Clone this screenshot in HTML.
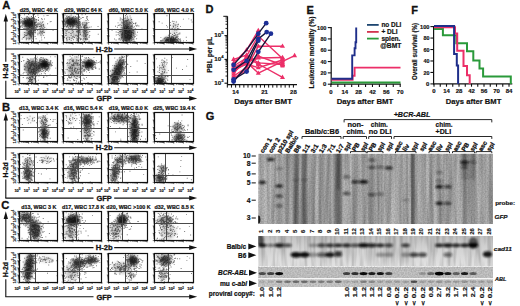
<!DOCTYPE html>
<html><head><meta charset="utf-8"><style>
html,body{margin:0;padding:0;background:#fff;width:520px;height:306px;overflow:hidden}
svg{display:block}
text{font-family:"Liberation Sans",sans-serif}
</style></head><body>
<svg width="520" height="306" viewBox="0 0 520 306" font-family="Liberation Sans, sans-serif">
<defs>
<filter id="bl" x="-50%" y="-50%" width="200%" height="200%"><feGaussianBlur stdDeviation="1.6"/></filter>
<filter id="bl1" x="-50%" y="-50%" width="200%" height="200%"><feGaussianBlur stdDeviation="0.7"/></filter>
<filter id="streak" x="0" y="0" width="1" height="1" filterUnits="objectBoundingBox"><feTurbulence type="fractalNoise" baseFrequency="0.3 0.012" numOctaves="2" seed="4"/><feColorMatrix type="matrix" values="0 0 0 0 0  0 0 0 0 0  0 0 0 0 0  0.45 0 0 0 -0.13"/></filter>
<filter id="grain" x="0" y="0" width="1" height="1" filterUnits="objectBoundingBox"><feTurbulence type="fractalNoise" baseFrequency="0.7" numOctaves="1" seed="9"/><feColorMatrix type="matrix" values="0 0 0 0 0  0 0 0 0 0  0 0 0 0 0  0.32 0 0 0 -0.1"/></filter>
<filter id="streak2" x="0" y="0" width="1" height="1" filterUnits="objectBoundingBox"><feTurbulence type="fractalNoise" baseFrequency="0.25 0.03" numOctaves="2" seed="7"/><feColorMatrix type="matrix" values="0 0 0 0 0  0 0 0 0 0  0 0 0 0 0  0.45 0 0 0 -0.17"/></filter>
<filter id="bl15" x="-50%" y="-50%" width="200%" height="200%"><feGaussianBlur stdDeviation="1.1"/></filter>
<linearGradient id="cadgrad" x1="0" y1="0" x2="0" y2="1"><stop offset="0" stop-color="#c2c2c2"/><stop offset="0.4" stop-color="#d2d2d2"/><stop offset="1" stop-color="#e2e2e2"/></linearGradient>
<filter id="bl04" x="-5%" y="-5%" width="110%" height="110%"><feGaussianBlur stdDeviation="0.35"/></filter>
<filter id="bl2" x="-50%" y="-50%" width="200%" height="200%"><feGaussianBlur stdDeviation="2"/></filter>
</defs>
<rect width="520" height="306" fill="#fff"/>
<text x="2.2" y="9.3" font-size="11.2" font-weight="bold" text-anchor="start" fill="#111" stroke="#111" stroke-width="0.3">A</text>
<text x="38.85" y="11.7" font-size="5.4" font-weight="bold" text-anchor="middle" fill="#111" stroke="#111" stroke-width="0.2">d25, WBC 40 K</text>
<text x="83.25" y="11.7" font-size="5.4" font-weight="bold" text-anchor="middle" fill="#111" stroke="#111" stroke-width="0.2">d29, WBC 64 K</text>
<text x="128.45" y="11.7" font-size="5.4" font-weight="bold" text-anchor="middle" fill="#111" stroke="#111" stroke-width="0.2">d60, WBC 5.0 K</text>
<text x="174.35" y="11.7" font-size="5.4" font-weight="bold" text-anchor="middle" fill="#111" stroke="#111" stroke-width="0.2">d69, WBC 4.0 K</text>
<clipPath id="clip0"><rect x="19.0" y="13.7" width="38.5" height="29.2"/></clipPath>
<g clip-path="url(#clip0)">
<ellipse cx="29.0" cy="22.8" rx="6.5" ry="4.5" transform="rotate(0 29.0 22.8)" fill="#111" opacity="0.89" filter="url(#bl)"/>
<ellipse cx="30.5" cy="30.1" rx="3.8" ry="7.4" transform="rotate(0 30.5 30.1)" fill="#111" opacity="0.42" filter="url(#bl)"/>
<ellipse cx="41.3" cy="28.3" rx="3.2" ry="7.4" transform="rotate(0 41.3 28.3)" fill="#111" opacity="0.21" filter="url(#bl)"/>
<ellipse cx="27.9" cy="34.7" rx="5.4" ry="4.9" transform="rotate(0 27.9 34.7)" fill="#111" opacity="0.16" filter="url(#bl)"/>
<path d="M27.8 24.4h.9v.9h-.9zM28.0 21.7h.9v.9h-.9zM24.7 22.1h.9v.9h-.9zM34.1 24.1h.9v.9h-.9zM33.8 23.6h.9v.9h-.9zM30.8 23.3h.9v.9h-.9zM21.3 25.5h.9v.9h-.9zM31.3 24.4h.9v.9h-.9zM21.2 17.2h.9v.9h-.9zM24.9 21.2h.9v.9h-.9zM30.4 22.6h.9v.9h-.9zM31.4 20.7h.9v.9h-.9zM30.4 24.0h.9v.9h-.9zM26.0 28.3h.9v.9h-.9zM31.6 26.6h.9v.9h-.9zM26.1 20.4h.9v.9h-.9zM27.4 22.4h.9v.9h-.9zM31.9 23.5h.9v.9h-.9zM26.9 19.7h.9v.9h-.9zM26.6 26.7h.9v.9h-.9zM25.3 23.5h.9v.9h-.9zM31.0 18.0h.9v.9h-.9zM29.2 26.9h.9v.9h-.9zM19.7 21.7h.9v.9h-.9zM28.5 20.1h.9v.9h-.9zM31.3 22.6h.9v.9h-.9zM22.2 25.4h.9v.9h-.9zM32.1 25.8h.9v.9h-.9zM35.7 23.9h.9v.9h-.9zM29.6 18.6h.9v.9h-.9zM31.9 20.8h.9v.9h-.9zM26.9 18.7h.9v.9h-.9zM24.5 21.0h.9v.9h-.9zM35.0 16.2h.9v.9h-.9zM22.3 23.5h.9v.9h-.9zM35.7 24.6h.9v.9h-.9zM20.2 14.7h.9v.9h-.9zM30.7 20.4h.9v.9h-.9zM23.8 25.9h.9v.9h-.9zM34.1 23.3h.9v.9h-.9zM30.1 24.1h.9v.9h-.9zM36.4 24.7h.9v.9h-.9zM31.4 24.5h.9v.9h-.9zM21.8 26.9h.9v.9h-.9zM33.4 24.5h.9v.9h-.9zM19.9 20.7h.9v.9h-.9zM32.9 16.9h.9v.9h-.9zM28.2 26.0h.9v.9h-.9zM23.0 27.9h.9v.9h-.9zM31.6 22.3h.9v.9h-.9zM30.5 24.8h.9v.9h-.9zM29.6 26.4h.9v.9h-.9zM26.0 21.4h.9v.9h-.9zM33.8 22.8h.9v.9h-.9zM24.9 25.8h.9v.9h-.9zM35.8 21.3h.9v.9h-.9zM22.6 22.3h.9v.9h-.9zM28.3 21.8h.9v.9h-.9zM35.5 19.5h.9v.9h-.9zM34.8 18.7h.9v.9h-.9zM25.4 24.8h.9v.9h-.9zM34.2 25.5h.9v.9h-.9zM30.6 23.2h.9v.9h-.9zM29.7 24.6h.9v.9h-.9zM28.2 23.6h.9v.9h-.9zM31.7 22.8h.9v.9h-.9zM32.5 24.6h.9v.9h-.9zM38.3 23.8h.9v.9h-.9zM27.0 21.6h.9v.9h-.9zM28.9 25.7h.9v.9h-.9zM27.5 24.0h.9v.9h-.9zM37.5 14.5h.9v.9h-.9zM23.8 23.5h.9v.9h-.9zM30.9 23.5h.9v.9h-.9zM27.0 24.9h.9v.9h-.9zM30.3 21.1h.9v.9h-.9zM40.2 23.9h.9v.9h-.9zM26.4 22.4h.9v.9h-.9zM28.0 22.6h.9v.9h-.9zM33.7 19.0h.9v.9h-.9zM28.7 25.8h.9v.9h-.9zM33.0 27.5h.9v.9h-.9zM21.1 21.6h.9v.9h-.9zM27.4 24.8h.9v.9h-.9zM34.1 14.1h.9v.9h-.9zM34.0 18.1h.9v.9h-.9zM32.2 18.0h.9v.9h-.9zM29.8 26.6h.9v.9h-.9zM28.3 23.4h.9v.9h-.9zM32.7 23.2h.9v.9h-.9zM28.6 27.7h.9v.9h-.9zM33.9 21.8h.9v.9h-.9zM41.7 19.1h.9v.9h-.9zM33.2 21.9h.9v.9h-.9zM29.6 25.0h.9v.9h-.9zM30.0 24.8h.9v.9h-.9zM22.0 17.9h.9v.9h-.9zM31.9 19.7h.9v.9h-.9zM24.3 18.0h.9v.9h-.9zM34.9 25.1h.9v.9h-.9zM35.8 19.7h.9v.9h-.9zM29.0 19.1h.9v.9h-.9zM32.5 27.9h.9v.9h-.9zM24.9 27.8h.9v.9h-.9zM33.6 22.2h.9v.9h-.9zM19.9 27.3h.9v.9h-.9zM28.6 20.8h.9v.9h-.9zM30.9 24.1h.9v.9h-.9zM35.9 19.5h.9v.9h-.9zM34.3 27.5h.9v.9h-.9zM35.7 22.2h.9v.9h-.9zM25.6 26.0h.9v.9h-.9zM29.5 23.2h.9v.9h-.9zM35.6 21.9h.9v.9h-.9zM20.4 25.4h.9v.9h-.9zM30.5 20.8h.9v.9h-.9zM29.0 25.4h.9v.9h-.9zM29.4 27.0h.9v.9h-.9zM28.7 26.1h.9v.9h-.9zM35.9 27.9h.9v.9h-.9zM25.9 25.6h.9v.9h-.9zM20.3 19.3h.9v.9h-.9zM19.9 26.2h.9v.9h-.9zM23.3 22.7h.9v.9h-.9zM28.1 22.7h.9v.9h-.9zM26.3 23.5h.9v.9h-.9zM37.3 22.9h.9v.9h-.9zM31.5 26.0h.9v.9h-.9zM28.1 18.7h.9v.9h-.9zM26.4 26.2h.9v.9h-.9zM21.4 20.8h.9v.9h-.9zM33.7 25.3h.9v.9h-.9zM29.0 25.3h.9v.9h-.9zM29.8 19.0h.9v.9h-.9zM21.8 20.7h.9v.9h-.9zM33.3 20.9h.9v.9h-.9zM24.8 20.3h.9v.9h-.9zM21.9 22.4h.9v.9h-.9zM23.6 23.9h.9v.9h-.9zM26.0 16.5h.9v.9h-.9zM32.4 21.9h.9v.9h-.9zM30.4 21.3h.9v.9h-.9zM32.6 25.2h.9v.9h-.9zM32.1 23.8h.9v.9h-.9zM35.2 24.9h.9v.9h-.9zM31.1 16.1h.9v.9h-.9zM33.2 27.0h.9v.9h-.9zM27.6 21.2h.9v.9h-.9zM38.0 17.1h.9v.9h-.9zM31.2 30.5h.9v.9h-.9zM24.7 25.0h.9v.9h-.9zM37.7 22.4h.9v.9h-.9zM31.6 25.7h.9v.9h-.9zM24.8 22.5h.9v.9h-.9zM30.4 25.4h.9v.9h-.9zM28.9 22.1h.9v.9h-.9zM24.3 21.6h.9v.9h-.9zM33.1 23.1h.9v.9h-.9zM25.1 20.0h.9v.9h-.9zM41.3 26.4h.9v.9h-.9zM32.0 14.4h.9v.9h-.9zM31.9 24.3h.9v.9h-.9zM36.8 24.1h.9v.9h-.9zM28.7 24.4h.9v.9h-.9zM20.0 26.1h.9v.9h-.9zM30.5 20.5h.9v.9h-.9zM35.1 28.6h.9v.9h-.9zM22.5 20.6h.9v.9h-.9zM30.4 23.3h.9v.9h-.9zM27.2 19.6h.9v.9h-.9zM38.8 26.1h.9v.9h-.9zM23.5 18.4h.9v.9h-.9zM36.9 25.9h.9v.9h-.9zM37.4 25.4h.9v.9h-.9zM25.0 23.6h.9v.9h-.9zM19.0 20.3h.9v.9h-.9zM28.7 24.4h.9v.9h-.9zM25.6 22.4h.9v.9h-.9zM31.1 24.0h.9v.9h-.9zM32.0 23.4h.9v.9h-.9zM27.5 25.3h.9v.9h-.9zM29.2 20.1h.9v.9h-.9zM26.1 22.8h.9v.9h-.9zM28.5 23.3h.9v.9h-.9zM29.0 23.3h.9v.9h-.9zM28.4 18.7h.9v.9h-.9zM31.0 26.1h.9v.9h-.9zM31.0 22.1h.9v.9h-.9zM31.1 19.7h.9v.9h-.9zM20.2 22.9h.9v.9h-.9zM24.7 25.1h.9v.9h-.9zM24.0 14.3h.9v.9h-.9zM24.2 27.8h.9v.9h-.9zM27.2 18.4h.9v.9h-.9zM25.5 24.4h.9v.9h-.9zM31.3 23.3h.9v.9h-.9zM35.9 25.0h.9v.9h-.9zM28.9 24.7h.9v.9h-.9zM36.7 25.9h.9v.9h-.9zM33.7 19.3h.9v.9h-.9zM28.3 25.1h.9v.9h-.9zM27.6 26.2h.9v.9h-.9zM31.8 25.7h.9v.9h-.9zM28.0 30.9h.9v.9h-.9zM34.7 22.1h.9v.9h-.9zM29.4 31.1h.9v.9h-.9zM27.4 25.6h.9v.9h-.9zM33.5 22.8h.9v.9h-.9zM23.6 23.4h.9v.9h-.9zM30.7 26.4h.9v.9h-.9zM32.6 22.8h.9v.9h-.9zM33.0 24.5h.9v.9h-.9zM30.0 22.9h.9v.9h-.9zM27.9 25.0h.9v.9h-.9zM24.1 20.7h.9v.9h-.9zM29.0 18.0h.9v.9h-.9zM27.0 16.3h.9v.9h-.9zM25.9 24.6h.9v.9h-.9zM31.6 22.6h.9v.9h-.9zM27.9 18.2h.9v.9h-.9zM37.5 24.4h.9v.9h-.9zM34.1 19.9h.9v.9h-.9zM28.2 16.9h.9v.9h-.9zM32.6 25.8h.9v.9h-.9zM20.2 22.6h.9v.9h-.9zM31.9 17.1h.9v.9h-.9zM20.6 19.3h.9v.9h-.9zM26.1 18.2h.9v.9h-.9zM29.2 23.6h.9v.9h-.9zM31.9 25.0h.9v.9h-.9zM36.0 26.5h.9v.9h-.9zM22.9 21.1h.9v.9h-.9zM24.1 19.3h.9v.9h-.9zM28.6 22.8h.9v.9h-.9zM31.3 17.7h.9v.9h-.9zM23.3 22.7h.9v.9h-.9zM28.1 21.8h.9v.9h-.9zM28.7 20.3h.9v.9h-.9zM32.2 23.9h.9v.9h-.9zM28.6 20.6h.9v.9h-.9zM28.2 14.0h.9v.9h-.9zM24.5 22.9h.9v.9h-.9zM22.1 23.4h.9v.9h-.9zM29.7 18.3h.9v.9h-.9zM27.9 21.7h.9v.9h-.9zM31.1 24.7h.9v.9h-.9zM28.8 20.0h.9v.9h-.9zM28.3 22.5h.9v.9h-.9zM32.4 23.7h.9v.9h-.9zM25.7 18.4h.9v.9h-.9zM27.3 20.4h.9v.9h-.9zM23.9 22.4h.9v.9h-.9zM26.7 23.1h.9v.9h-.9zM31.4 21.4h.9v.9h-.9zM39.7 21.7h.9v.9h-.9zM34.1 23.1h.9v.9h-.9zM33.6 17.6h.9v.9h-.9zM28.5 31.4h.9v.9h-.9zM32.2 42.3h.9v.9h-.9zM31.4 36.8h.9v.9h-.9zM32.6 35.0h.9v.9h-.9zM31.9 29.2h.9v.9h-.9zM31.9 24.4h.9v.9h-.9zM33.7 24.7h.9v.9h-.9zM31.2 41.2h.9v.9h-.9zM29.9 30.2h.9v.9h-.9zM33.7 30.2h.9v.9h-.9zM28.4 31.4h.9v.9h-.9zM32.1 33.8h.9v.9h-.9zM28.5 39.3h.9v.9h-.9zM35.0 30.1h.9v.9h-.9zM31.3 27.8h.9v.9h-.9zM34.4 26.3h.9v.9h-.9zM32.4 27.5h.9v.9h-.9zM28.7 33.8h.9v.9h-.9zM34.1 30.0h.9v.9h-.9zM28.7 34.3h.9v.9h-.9zM30.4 31.7h.9v.9h-.9zM34.7 36.0h.9v.9h-.9zM29.1 42.1h.9v.9h-.9zM30.6 34.2h.9v.9h-.9zM28.8 29.8h.9v.9h-.9zM25.8 39.4h.9v.9h-.9zM34.2 23.7h.9v.9h-.9zM26.5 21.5h.9v.9h-.9zM33.7 27.6h.9v.9h-.9zM30.4 28.4h.9v.9h-.9zM30.2 24.3h.9v.9h-.9zM30.6 22.5h.9v.9h-.9zM30.4 31.7h.9v.9h-.9zM31.8 28.8h.9v.9h-.9zM28.1 30.9h.9v.9h-.9zM29.2 38.3h.9v.9h-.9zM32.6 29.4h.9v.9h-.9zM29.3 26.4h.9v.9h-.9zM28.0 28.2h.9v.9h-.9zM31.3 32.8h.9v.9h-.9zM32.1 41.1h.9v.9h-.9zM28.7 30.1h.9v.9h-.9zM38.1 20.2h.9v.9h-.9zM29.1 30.9h.9v.9h-.9zM31.0 32.2h.9v.9h-.9zM29.9 32.0h.9v.9h-.9zM30.7 34.1h.9v.9h-.9zM25.4 25.4h.9v.9h-.9zM30.5 24.6h.9v.9h-.9zM27.7 33.4h.9v.9h-.9zM28.8 33.4h.9v.9h-.9zM32.6 31.7h.9v.9h-.9zM31.9 29.5h.9v.9h-.9zM26.8 29.9h.9v.9h-.9zM31.8 27.3h.9v.9h-.9zM30.3 34.0h.9v.9h-.9zM28.2 33.4h.9v.9h-.9zM35.6 27.1h.9v.9h-.9zM30.9 29.3h.9v.9h-.9zM34.7 31.7h.9v.9h-.9zM33.0 26.4h.9v.9h-.9zM30.5 30.0h.9v.9h-.9zM25.8 37.6h.9v.9h-.9zM33.0 20.9h.9v.9h-.9zM32.6 29.4h.9v.9h-.9zM31.8 32.0h.9v.9h-.9zM26.5 28.9h.9v.9h-.9zM34.6 27.0h.9v.9h-.9zM27.8 22.9h.9v.9h-.9zM27.3 31.8h.9v.9h-.9zM35.1 32.3h.9v.9h-.9zM31.2 41.8h.9v.9h-.9zM29.2 26.5h.9v.9h-.9zM32.0 32.9h.9v.9h-.9zM27.8 23.9h.9v.9h-.9zM31.3 31.4h.9v.9h-.9zM27.0 29.0h.9v.9h-.9zM29.1 32.5h.9v.9h-.9zM30.2 29.6h.9v.9h-.9zM29.6 35.6h.9v.9h-.9zM34.3 28.1h.9v.9h-.9zM32.8 26.1h.9v.9h-.9zM30.7 34.0h.9v.9h-.9zM34.6 28.0h.9v.9h-.9zM30.4 31.1h.9v.9h-.9zM26.5 30.1h.9v.9h-.9zM28.7 32.0h.9v.9h-.9zM27.5 19.7h.9v.9h-.9zM30.7 31.4h.9v.9h-.9zM29.1 34.7h.9v.9h-.9zM29.8 26.9h.9v.9h-.9zM31.8 21.8h.9v.9h-.9zM28.7 29.9h.9v.9h-.9zM32.8 29.2h.9v.9h-.9zM31.4 26.6h.9v.9h-.9zM31.4 38.8h.9v.9h-.9zM28.7 42.5h.9v.9h-.9zM28.8 30.1h.9v.9h-.9zM31.0 35.4h.9v.9h-.9zM27.2 19.0h.9v.9h-.9zM32.2 34.2h.9v.9h-.9zM31.1 31.4h.9v.9h-.9zM33.1 32.0h.9v.9h-.9zM35.0 23.5h.9v.9h-.9zM32.7 28.1h.9v.9h-.9zM33.0 41.4h.9v.9h-.9zM30.5 28.7h.9v.9h-.9zM29.2 25.6h.9v.9h-.9zM28.9 33.4h.9v.9h-.9zM30.6 30.4h.9v.9h-.9zM30.1 34.9h.9v.9h-.9zM31.9 29.3h.9v.9h-.9zM32.3 29.3h.9v.9h-.9zM27.4 37.7h.9v.9h-.9zM31.8 25.0h.9v.9h-.9zM33.5 31.9h.9v.9h-.9zM26.3 38.5h.9v.9h-.9zM31.4 34.7h.9v.9h-.9zM31.1 29.3h.9v.9h-.9zM26.4 35.2h.9v.9h-.9zM30.6 28.5h.9v.9h-.9zM31.5 30.5h.9v.9h-.9zM32.4 28.1h.9v.9h-.9zM30.5 18.8h.9v.9h-.9zM29.4 33.6h.9v.9h-.9zM34.2 28.1h.9v.9h-.9zM30.2 38.4h.9v.9h-.9zM29.7 33.9h.9v.9h-.9zM35.1 30.3h.9v.9h-.9zM33.9 26.3h.9v.9h-.9zM31.1 29.6h.9v.9h-.9zM30.9 36.0h.9v.9h-.9zM37.0 26.6h.9v.9h-.9zM29.0 32.7h.9v.9h-.9zM27.7 32.7h.9v.9h-.9zM32.1 28.6h.9v.9h-.9zM32.0 21.9h.9v.9h-.9zM32.6 21.9h.9v.9h-.9zM28.7 27.1h.9v.9h-.9zM29.5 34.6h.9v.9h-.9zM30.8 28.0h.9v.9h-.9zM32.0 38.4h.9v.9h-.9zM30.6 32.0h.9v.9h-.9zM33.9 31.5h.9v.9h-.9zM36.5 19.6h.9v.9h-.9zM30.4 32.2h.9v.9h-.9zM43.6 31.8h.9v.9h-.9zM40.7 22.8h.9v.9h-.9zM41.6 33.7h.9v.9h-.9zM38.8 22.9h.9v.9h-.9zM41.3 18.1h.9v.9h-.9zM40.7 26.0h.9v.9h-.9zM42.4 24.6h.9v.9h-.9zM39.3 26.2h.9v.9h-.9zM41.2 24.8h.9v.9h-.9zM41.4 32.2h.9v.9h-.9zM44.1 37.3h.9v.9h-.9zM39.5 26.1h.9v.9h-.9zM35.6 38.3h.9v.9h-.9zM39.7 28.1h.9v.9h-.9zM42.5 21.2h.9v.9h-.9zM42.4 28.2h.9v.9h-.9zM37.1 29.8h.9v.9h-.9zM44.1 18.5h.9v.9h-.9zM43.2 29.4h.9v.9h-.9zM42.4 30.6h.9v.9h-.9zM44.3 27.1h.9v.9h-.9zM43.3 26.1h.9v.9h-.9zM43.0 24.0h.9v.9h-.9zM41.1 37.4h.9v.9h-.9zM42.4 27.5h.9v.9h-.9zM38.7 24.1h.9v.9h-.9zM41.8 33.2h.9v.9h-.9zM42.3 31.1h.9v.9h-.9zM41.2 35.4h.9v.9h-.9zM40.4 25.4h.9v.9h-.9zM43.4 28.6h.9v.9h-.9zM40.7 25.3h.9v.9h-.9zM40.7 31.6h.9v.9h-.9zM42.1 21.9h.9v.9h-.9zM42.3 29.2h.9v.9h-.9zM39.0 32.4h.9v.9h-.9zM40.7 26.5h.9v.9h-.9zM43.2 35.2h.9v.9h-.9zM39.7 30.6h.9v.9h-.9zM39.3 40.5h.9v.9h-.9zM40.2 34.6h.9v.9h-.9zM39.8 32.6h.9v.9h-.9zM46.5 14.9h.9v.9h-.9zM40.3 30.9h.9v.9h-.9zM41.1 24.8h.9v.9h-.9zM46.3 28.7h.9v.9h-.9zM37.5 32.8h.9v.9h-.9zM37.4 34.3h.9v.9h-.9zM40.0 29.1h.9v.9h-.9zM44.2 28.9h.9v.9h-.9zM38.1 19.4h.9v.9h-.9zM44.1 32.2h.9v.9h-.9zM39.4 32.8h.9v.9h-.9zM42.5 31.7h.9v.9h-.9zM36.1 26.7h.9v.9h-.9zM43.4 32.2h.9v.9h-.9zM43.4 15.4h.9v.9h-.9zM41.7 30.9h.9v.9h-.9zM47.2 23.3h.9v.9h-.9zM40.6 28.5h.9v.9h-.9zM31.3 33.2h.9v.9h-.9zM32.3 32.0h.9v.9h-.9zM28.9 32.9h.9v.9h-.9zM28.5 32.3h.9v.9h-.9zM21.7 38.6h.9v.9h-.9zM29.0 32.8h.9v.9h-.9zM28.6 38.2h.9v.9h-.9zM24.1 34.3h.9v.9h-.9zM29.9 36.6h.9v.9h-.9zM26.6 27.3h.9v.9h-.9zM32.6 35.9h.9v.9h-.9zM27.9 33.7h.9v.9h-.9zM28.9 33.2h.9v.9h-.9zM23.9 32.1h.9v.9h-.9zM25.6 32.6h.9v.9h-.9zM23.4 37.0h.9v.9h-.9zM22.8 37.0h.9v.9h-.9zM23.9 36.0h.9v.9h-.9zM33.1 35.4h.9v.9h-.9zM25.0 34.9h.9v.9h-.9zM28.4 28.6h.9v.9h-.9zM25.5 35.3h.9v.9h-.9zM26.0 35.0h.9v.9h-.9zM30.7 37.4h.9v.9h-.9zM31.3 36.8h.9v.9h-.9zM26.7 34.7h.9v.9h-.9zM26.8 33.6h.9v.9h-.9zM27.2 28.7h.9v.9h-.9zM26.6 34.6h.9v.9h-.9zM24.1 34.6h.9v.9h-.9zM29.8 34.1h.9v.9h-.9zM35.9 25.6h.9v.9h-.9zM27.1 28.3h.9v.9h-.9zM29.9 33.7h.9v.9h-.9zM30.0 26.9h.9v.9h-.9zM31.1 36.0h.9v.9h-.9zM27.9 32.7h.9v.9h-.9zM30.3 33.0h.9v.9h-.9zM28.7 32.9h.9v.9h-.9zM19.2 34.6h.9v.9h-.9zM28.6 37.4h.9v.9h-.9zM24.5 34.6h.9v.9h-.9zM30.2 35.2h.9v.9h-.9zM32.6 41.7h.9v.9h-.9zM24.4 28.0h.9v.9h-.9zM31.2 40.1h.9v.9h-.9zM31.4 37.6h.9v.9h-.9zM25.5 32.2h.9v.9h-.9zM52.6 29.9h.9v.9h-.9zM41.3 39.5h.9v.9h-.9zM23.0 42.7h.9v.9h-.9zM43.2 25.2h.9v.9h-.9zM49.7 21.4h.9v.9h-.9zM57.1 30.6h.9v.9h-.9zM32.9 36.0h.9v.9h-.9zM36.0 18.9h.9v.9h-.9zM47.6 15.1h.9v.9h-.9zM50.6 21.1h.9v.9h-.9zM43.6 42.4h.9v.9h-.9zM41.6 33.1h.9v.9h-.9z" fill="#111" opacity="0.6" filter="url(#bl04)"/>
<line x1="33.5" y1="13.7" x2="33.5" y2="42.9" stroke="#4a4a4a" stroke-width="1.0"/>
<line x1="19.0" y1="29.5" x2="57.5" y2="29.5" stroke="#4a4a4a" stroke-width="1.0"/>
</g>
<rect x="19.5" y="13.5" width="38.0" height="29.0" fill="none" stroke="#111" stroke-width="1.2" />
<path d="M17.20 42.90H19.0M19.00 42.9V44.70M17.90 40.70H19.0M21.90 42.9V44.00M17.90 39.42H19.0M23.59 42.9V44.00M17.90 38.50H19.0M24.79 42.9V44.00M17.90 37.80H19.0M25.73 42.9V44.00M17.90 37.22H19.0M26.49 42.9V44.00M17.90 36.73H19.0M27.13 42.9V44.00M17.90 36.31H19.0M27.69 42.9V44.00M17.90 35.93H19.0M28.18 42.9V44.00M17.20 35.60H19.0M28.62 42.9V44.70M17.90 33.40H19.0M31.52 42.9V44.00M17.90 32.12H19.0M33.22 42.9V44.00M17.90 31.20H19.0M34.42 42.9V44.00M17.90 30.50H19.0M35.35 42.9V44.00M17.90 29.92H19.0M36.11 42.9V44.00M17.90 29.43H19.0M36.76 42.9V44.00M17.90 29.01H19.0M37.32 42.9V44.00M17.90 28.63H19.0M37.81 42.9V44.00M17.20 28.30H19.0M38.25 42.9V44.70M17.90 26.10H19.0M41.15 42.9V44.00M17.90 24.82H19.0M42.84 42.9V44.00M17.90 23.90H19.0M44.04 42.9V44.00M17.90 23.20H19.0M44.98 42.9V44.00M17.90 22.62H19.0M45.74 42.9V44.00M17.90 22.13H19.0M46.38 42.9V44.00M17.90 21.71H19.0M46.94 42.9V44.00M17.90 21.33H19.0M47.43 42.9V44.00M17.20 21.00H19.0M47.88 42.9V44.70M17.90 18.80H19.0M50.77 42.9V44.00M17.90 17.52H19.0M52.47 42.9V44.00M17.90 16.60H19.0M53.67 42.9V44.00M17.90 15.90H19.0M54.60 42.9V44.00M17.90 15.32H19.0M55.36 42.9V44.00M17.90 14.83H19.0M56.01 42.9V44.00M17.90 14.41H19.0M56.57 42.9V44.00M17.90 14.03H19.0M57.06 42.9V44.00M17.2 13.70H19.0M57.50 42.9V44.699999999999996" stroke="#111" stroke-width="0.55" fill="none"/>
<g transform="translate(15.6,42.9) rotate(-90)">
<text x="1.6" y="0" font-size="4.1" font-weight="bold" text-anchor="middle" fill="#111" stroke="#111" stroke-width="0.15">10<tspan font-size="2.9" dy="-1.6">0</tspan></text>
<text x="8.1" y="0" font-size="4.1" font-weight="bold" text-anchor="middle" fill="#111" stroke="#111" stroke-width="0.15">10<tspan font-size="2.9" dy="-1.6">1</tspan></text>
<text x="14.6" y="0" font-size="4.1" font-weight="bold" text-anchor="middle" fill="#111" stroke="#111" stroke-width="0.15">10<tspan font-size="2.9" dy="-1.6">2</tspan></text>
<text x="21.1" y="0" font-size="4.1" font-weight="bold" text-anchor="middle" fill="#111" stroke="#111" stroke-width="0.15">10<tspan font-size="2.9" dy="-1.6">3</tspan></text>
<text x="27.6" y="0" font-size="4.1" font-weight="bold" text-anchor="middle" fill="#111" stroke="#111" stroke-width="0.15">10<tspan font-size="2.9" dy="-1.6">4</tspan></text>
</g>
<clipPath id="clip1"><rect x="63.4" y="13.7" width="38.5" height="29.2"/></clipPath>
<g clip-path="url(#clip1)">
<ellipse cx="71.1" cy="21.6" rx="6.5" ry="4.1" transform="rotate(0 71.1 21.6)" fill="#111" opacity="0.89" filter="url(#bl)"/>
<ellipse cx="78.0" cy="29.8" rx="1.6" ry="12.3" transform="rotate(0 78.0 29.8)" fill="#111" opacity="0.37" filter="url(#bl)"/>
<ellipse cx="85.0" cy="31.2" rx="2.7" ry="10.2" transform="rotate(0 85.0 31.2)" fill="#111" opacity="0.37" filter="url(#bl)"/>
<ellipse cx="69.9" cy="33.3" rx="5.4" ry="8.2" transform="rotate(0 69.9 33.3)" fill="#111" opacity="0.16" filter="url(#bl)"/>
<path d="M71.0 21.7h.9v.9h-.9zM73.7 21.9h.9v.9h-.9zM67.4 19.5h.9v.9h-.9zM73.3 23.1h.9v.9h-.9zM70.5 21.1h.9v.9h-.9zM75.4 21.6h.9v.9h-.9zM74.5 23.3h.9v.9h-.9zM72.1 25.4h.9v.9h-.9zM68.5 20.5h.9v.9h-.9zM67.4 19.3h.9v.9h-.9zM78.3 26.7h.9v.9h-.9zM71.2 23.2h.9v.9h-.9zM76.5 23.9h.9v.9h-.9zM76.7 17.9h.9v.9h-.9zM68.1 22.9h.9v.9h-.9zM77.7 21.9h.9v.9h-.9zM67.1 20.5h.9v.9h-.9zM68.0 19.1h.9v.9h-.9zM78.0 19.8h.9v.9h-.9zM71.2 27.9h.9v.9h-.9zM76.6 22.6h.9v.9h-.9zM68.3 22.8h.9v.9h-.9zM78.6 23.4h.9v.9h-.9zM76.9 21.9h.9v.9h-.9zM73.5 21.0h.9v.9h-.9zM73.1 25.4h.9v.9h-.9zM64.5 21.4h.9v.9h-.9zM72.2 19.9h.9v.9h-.9zM69.7 23.9h.9v.9h-.9zM80.3 23.4h.9v.9h-.9zM72.6 17.1h.9v.9h-.9zM80.0 21.8h.9v.9h-.9zM70.9 18.3h.9v.9h-.9zM70.8 18.4h.9v.9h-.9zM71.4 22.9h.9v.9h-.9zM71.2 22.4h.9v.9h-.9zM67.2 25.8h.9v.9h-.9zM68.1 16.3h.9v.9h-.9zM70.2 19.4h.9v.9h-.9zM66.4 20.5h.9v.9h-.9zM72.4 18.1h.9v.9h-.9zM70.5 25.8h.9v.9h-.9zM74.3 21.1h.9v.9h-.9zM71.7 21.2h.9v.9h-.9zM70.9 23.7h.9v.9h-.9zM70.7 14.6h.9v.9h-.9zM71.0 19.0h.9v.9h-.9zM74.1 19.8h.9v.9h-.9zM71.8 27.9h.9v.9h-.9zM66.3 18.3h.9v.9h-.9zM64.6 14.6h.9v.9h-.9zM68.2 16.1h.9v.9h-.9zM64.3 23.4h.9v.9h-.9zM67.5 20.5h.9v.9h-.9zM72.6 25.5h.9v.9h-.9zM80.1 24.6h.9v.9h-.9zM71.8 22.1h.9v.9h-.9zM79.4 25.8h.9v.9h-.9zM69.7 22.9h.9v.9h-.9zM72.4 21.7h.9v.9h-.9zM68.8 17.7h.9v.9h-.9zM68.6 17.1h.9v.9h-.9zM76.8 23.2h.9v.9h-.9zM65.5 25.7h.9v.9h-.9zM75.2 16.0h.9v.9h-.9zM79.6 23.9h.9v.9h-.9zM80.6 18.0h.9v.9h-.9zM73.6 22.8h.9v.9h-.9zM72.0 22.1h.9v.9h-.9zM76.0 17.2h.9v.9h-.9zM65.4 17.5h.9v.9h-.9zM68.5 19.8h.9v.9h-.9zM72.8 22.4h.9v.9h-.9zM71.2 19.6h.9v.9h-.9zM69.1 24.4h.9v.9h-.9zM74.6 21.9h.9v.9h-.9zM69.6 26.1h.9v.9h-.9zM68.4 23.5h.9v.9h-.9zM76.4 20.8h.9v.9h-.9zM74.9 18.3h.9v.9h-.9zM75.8 22.2h.9v.9h-.9zM63.8 23.5h.9v.9h-.9zM67.0 25.3h.9v.9h-.9zM68.0 21.1h.9v.9h-.9zM72.4 20.6h.9v.9h-.9zM72.3 20.0h.9v.9h-.9zM74.2 21.6h.9v.9h-.9zM76.5 21.7h.9v.9h-.9zM73.3 24.7h.9v.9h-.9zM66.1 26.1h.9v.9h-.9zM70.4 28.6h.9v.9h-.9zM70.4 23.6h.9v.9h-.9zM69.4 18.3h.9v.9h-.9zM76.2 24.2h.9v.9h-.9zM78.2 24.1h.9v.9h-.9zM68.5 16.7h.9v.9h-.9zM68.1 19.6h.9v.9h-.9zM67.3 23.3h.9v.9h-.9zM72.6 20.8h.9v.9h-.9zM71.9 21.2h.9v.9h-.9zM72.1 23.8h.9v.9h-.9zM75.5 19.6h.9v.9h-.9zM64.1 25.8h.9v.9h-.9zM71.6 24.8h.9v.9h-.9zM63.5 20.6h.9v.9h-.9zM71.2 17.4h.9v.9h-.9zM68.7 23.7h.9v.9h-.9zM76.1 26.2h.9v.9h-.9zM67.1 17.5h.9v.9h-.9zM73.5 24.3h.9v.9h-.9zM72.0 17.8h.9v.9h-.9zM74.7 23.9h.9v.9h-.9zM73.7 20.2h.9v.9h-.9zM72.5 23.9h.9v.9h-.9zM68.5 16.2h.9v.9h-.9zM72.6 23.0h.9v.9h-.9zM71.2 24.2h.9v.9h-.9zM68.4 21.3h.9v.9h-.9zM69.7 23.3h.9v.9h-.9zM78.5 20.9h.9v.9h-.9zM80.6 26.0h.9v.9h-.9zM74.8 23.3h.9v.9h-.9zM79.3 21.1h.9v.9h-.9zM70.6 18.5h.9v.9h-.9zM73.3 25.5h.9v.9h-.9zM73.6 22.8h.9v.9h-.9zM70.2 22.1h.9v.9h-.9zM64.5 24.6h.9v.9h-.9zM69.2 18.4h.9v.9h-.9zM67.6 19.2h.9v.9h-.9zM75.1 24.7h.9v.9h-.9zM64.8 24.3h.9v.9h-.9zM75.2 19.9h.9v.9h-.9zM64.2 19.4h.9v.9h-.9zM68.2 22.6h.9v.9h-.9zM69.4 15.7h.9v.9h-.9zM72.2 17.1h.9v.9h-.9zM75.3 18.1h.9v.9h-.9zM67.9 19.1h.9v.9h-.9zM68.6 25.4h.9v.9h-.9zM75.0 23.3h.9v.9h-.9zM72.6 17.1h.9v.9h-.9zM68.7 20.0h.9v.9h-.9zM66.6 23.1h.9v.9h-.9zM67.7 19.5h.9v.9h-.9zM66.3 15.6h.9v.9h-.9zM73.9 25.5h.9v.9h-.9zM71.9 18.7h.9v.9h-.9zM76.7 22.5h.9v.9h-.9zM75.4 25.9h.9v.9h-.9zM76.3 20.3h.9v.9h-.9zM76.0 23.8h.9v.9h-.9zM64.0 20.4h.9v.9h-.9zM64.5 21.3h.9v.9h-.9zM73.8 18.5h.9v.9h-.9zM72.8 25.9h.9v.9h-.9zM65.0 24.7h.9v.9h-.9zM80.7 27.4h.9v.9h-.9zM70.1 22.4h.9v.9h-.9zM70.4 24.5h.9v.9h-.9zM75.9 21.8h.9v.9h-.9zM64.8 23.7h.9v.9h-.9zM68.9 23.4h.9v.9h-.9zM72.3 26.3h.9v.9h-.9zM76.4 20.3h.9v.9h-.9zM72.7 26.7h.9v.9h-.9zM68.6 22.8h.9v.9h-.9zM76.6 25.3h.9v.9h-.9zM73.5 17.7h.9v.9h-.9zM65.3 22.3h.9v.9h-.9zM72.9 29.0h.9v.9h-.9zM67.1 24.9h.9v.9h-.9zM74.7 16.7h.9v.9h-.9zM67.3 22.1h.9v.9h-.9zM68.8 21.1h.9v.9h-.9zM73.3 19.2h.9v.9h-.9zM73.3 19.7h.9v.9h-.9zM68.6 23.2h.9v.9h-.9zM68.5 22.4h.9v.9h-.9zM78.5 21.7h.9v.9h-.9zM70.4 23.7h.9v.9h-.9zM69.4 24.7h.9v.9h-.9zM65.2 23.4h.9v.9h-.9zM68.7 19.3h.9v.9h-.9zM79.3 19.1h.9v.9h-.9zM79.2 23.5h.9v.9h-.9zM77.8 18.7h.9v.9h-.9zM76.6 25.8h.9v.9h-.9zM70.6 21.2h.9v.9h-.9zM82.4 22.1h.9v.9h-.9zM69.1 19.7h.9v.9h-.9zM73.2 22.5h.9v.9h-.9zM71.9 26.6h.9v.9h-.9zM69.6 23.0h.9v.9h-.9zM77.8 18.7h.9v.9h-.9zM75.9 26.9h.9v.9h-.9zM64.8 18.4h.9v.9h-.9zM66.3 16.2h.9v.9h-.9zM73.2 16.2h.9v.9h-.9zM73.4 25.8h.9v.9h-.9zM63.6 20.7h.9v.9h-.9zM67.7 20.8h.9v.9h-.9zM71.4 23.2h.9v.9h-.9zM69.5 21.6h.9v.9h-.9zM68.6 21.9h.9v.9h-.9zM65.7 21.8h.9v.9h-.9zM79.9 21.8h.9v.9h-.9zM65.3 22.3h.9v.9h-.9zM66.6 16.8h.9v.9h-.9zM67.7 23.7h.9v.9h-.9zM72.9 21.3h.9v.9h-.9zM66.8 18.4h.9v.9h-.9zM77.3 22.3h.9v.9h-.9zM66.7 15.4h.9v.9h-.9zM64.8 28.8h.9v.9h-.9zM65.8 21.4h.9v.9h-.9zM72.1 21.1h.9v.9h-.9zM69.8 17.6h.9v.9h-.9zM66.2 26.5h.9v.9h-.9zM67.6 24.1h.9v.9h-.9zM72.3 24.6h.9v.9h-.9zM76.7 35.0h.9v.9h-.9zM78.5 23.3h.9v.9h-.9zM78.6 21.9h.9v.9h-.9zM77.1 29.6h.9v.9h-.9zM74.9 28.8h.9v.9h-.9zM76.9 16.9h.9v.9h-.9zM77.5 36.4h.9v.9h-.9zM77.6 40.8h.9v.9h-.9zM76.7 18.3h.9v.9h-.9zM79.8 33.3h.9v.9h-.9zM79.1 22.5h.9v.9h-.9zM79.0 32.0h.9v.9h-.9zM78.8 30.0h.9v.9h-.9zM79.4 24.1h.9v.9h-.9zM76.9 16.8h.9v.9h-.9zM79.4 23.3h.9v.9h-.9zM76.8 21.5h.9v.9h-.9zM77.5 18.6h.9v.9h-.9zM77.7 24.3h.9v.9h-.9zM77.4 21.4h.9v.9h-.9zM78.1 25.7h.9v.9h-.9zM78.2 31.9h.9v.9h-.9zM77.4 22.8h.9v.9h-.9zM78.9 15.9h.9v.9h-.9zM77.2 27.2h.9v.9h-.9zM77.6 38.4h.9v.9h-.9zM77.5 38.2h.9v.9h-.9zM76.3 13.9h.9v.9h-.9zM79.4 33.6h.9v.9h-.9zM78.6 30.8h.9v.9h-.9zM78.6 19.1h.9v.9h-.9zM79.1 25.1h.9v.9h-.9zM79.2 30.5h.9v.9h-.9zM75.8 18.5h.9v.9h-.9zM79.3 28.6h.9v.9h-.9zM77.6 31.9h.9v.9h-.9zM77.5 25.0h.9v.9h-.9zM78.1 31.0h.9v.9h-.9zM79.8 30.2h.9v.9h-.9zM80.0 39.1h.9v.9h-.9zM78.2 31.0h.9v.9h-.9zM77.9 23.4h.9v.9h-.9zM78.0 24.1h.9v.9h-.9zM79.9 34.4h.9v.9h-.9zM78.0 26.1h.9v.9h-.9zM76.8 19.8h.9v.9h-.9zM75.4 34.7h.9v.9h-.9zM78.0 28.5h.9v.9h-.9zM79.7 30.9h.9v.9h-.9zM78.2 26.5h.9v.9h-.9zM77.3 42.9h.9v.9h-.9zM77.6 30.0h.9v.9h-.9zM77.0 38.2h.9v.9h-.9zM76.4 34.7h.9v.9h-.9zM79.3 42.1h.9v.9h-.9zM76.9 39.3h.9v.9h-.9zM77.2 23.1h.9v.9h-.9zM76.5 39.9h.9v.9h-.9zM79.9 24.6h.9v.9h-.9zM77.2 26.8h.9v.9h-.9zM80.9 38.6h.9v.9h-.9zM77.4 14.0h.9v.9h-.9zM77.3 40.2h.9v.9h-.9zM80.2 27.4h.9v.9h-.9zM77.2 25.3h.9v.9h-.9zM75.9 37.7h.9v.9h-.9zM76.8 39.1h.9v.9h-.9zM76.1 18.6h.9v.9h-.9zM78.4 23.1h.9v.9h-.9zM78.9 29.8h.9v.9h-.9zM76.7 35.2h.9v.9h-.9zM80.1 34.1h.9v.9h-.9zM77.2 26.7h.9v.9h-.9zM79.3 17.0h.9v.9h-.9zM77.8 32.8h.9v.9h-.9zM76.1 24.6h.9v.9h-.9zM78.8 27.1h.9v.9h-.9zM76.7 21.6h.9v.9h-.9zM77.3 31.0h.9v.9h-.9zM78.4 20.4h.9v.9h-.9zM79.8 38.1h.9v.9h-.9zM78.1 23.4h.9v.9h-.9zM75.9 20.8h.9v.9h-.9zM79.1 22.7h.9v.9h-.9zM76.5 31.5h.9v.9h-.9zM78.3 35.1h.9v.9h-.9zM78.8 42.1h.9v.9h-.9zM77.1 38.3h.9v.9h-.9zM76.9 35.8h.9v.9h-.9zM78.2 31.9h.9v.9h-.9zM79.1 29.6h.9v.9h-.9zM79.3 37.4h.9v.9h-.9zM78.2 24.8h.9v.9h-.9zM77.2 25.1h.9v.9h-.9zM77.8 29.5h.9v.9h-.9zM81.5 35.4h.9v.9h-.9zM78.9 22.2h.9v.9h-.9zM77.2 27.0h.9v.9h-.9zM78.3 20.7h.9v.9h-.9zM79.9 24.8h.9v.9h-.9zM78.0 32.2h.9v.9h-.9zM78.3 35.0h.9v.9h-.9zM78.4 31.2h.9v.9h-.9zM75.8 23.5h.9v.9h-.9zM75.3 35.3h.9v.9h-.9zM78.4 28.0h.9v.9h-.9zM77.1 24.7h.9v.9h-.9zM78.0 41.0h.9v.9h-.9zM81.9 17.1h.9v.9h-.9zM84.0 24.8h.9v.9h-.9zM83.9 32.6h.9v.9h-.9zM90.8 26.4h.9v.9h-.9zM85.1 33.2h.9v.9h-.9zM84.9 38.0h.9v.9h-.9zM88.4 22.1h.9v.9h-.9zM85.3 29.3h.9v.9h-.9zM85.6 20.0h.9v.9h-.9zM81.6 14.3h.9v.9h-.9zM86.0 32.6h.9v.9h-.9zM85.1 13.9h.9v.9h-.9zM84.2 25.7h.9v.9h-.9zM82.2 24.5h.9v.9h-.9zM86.3 35.2h.9v.9h-.9zM84.9 35.0h.9v.9h-.9zM83.8 31.7h.9v.9h-.9zM85.0 35.3h.9v.9h-.9zM84.8 30.2h.9v.9h-.9zM84.7 26.5h.9v.9h-.9zM89.3 35.0h.9v.9h-.9zM87.7 19.9h.9v.9h-.9zM86.3 37.3h.9v.9h-.9zM88.6 40.8h.9v.9h-.9zM86.4 22.6h.9v.9h-.9zM83.3 33.2h.9v.9h-.9zM85.9 23.8h.9v.9h-.9zM84.2 28.3h.9v.9h-.9zM85.1 33.7h.9v.9h-.9zM84.4 22.2h.9v.9h-.9zM87.4 42.9h.9v.9h-.9zM84.8 38.7h.9v.9h-.9zM85.8 36.0h.9v.9h-.9zM85.9 25.6h.9v.9h-.9zM86.1 38.6h.9v.9h-.9zM88.8 36.6h.9v.9h-.9zM84.3 26.8h.9v.9h-.9zM83.4 32.1h.9v.9h-.9zM84.9 36.1h.9v.9h-.9zM89.3 31.0h.9v.9h-.9zM86.3 34.7h.9v.9h-.9zM85.5 29.7h.9v.9h-.9zM84.7 25.2h.9v.9h-.9zM85.3 31.0h.9v.9h-.9zM85.6 25.0h.9v.9h-.9zM85.0 31.6h.9v.9h-.9zM86.1 23.5h.9v.9h-.9zM85.8 38.4h.9v.9h-.9zM86.1 28.5h.9v.9h-.9zM84.0 29.5h.9v.9h-.9zM86.4 42.6h.9v.9h-.9zM84.7 26.5h.9v.9h-.9zM85.7 32.7h.9v.9h-.9zM83.2 25.8h.9v.9h-.9zM84.8 36.1h.9v.9h-.9zM82.7 23.8h.9v.9h-.9zM85.9 22.3h.9v.9h-.9zM85.2 33.8h.9v.9h-.9zM84.7 23.8h.9v.9h-.9zM84.8 28.8h.9v.9h-.9zM85.6 25.1h.9v.9h-.9zM87.1 19.0h.9v.9h-.9zM84.6 31.3h.9v.9h-.9zM86.8 26.8h.9v.9h-.9zM86.0 27.1h.9v.9h-.9zM84.2 34.5h.9v.9h-.9zM83.2 38.3h.9v.9h-.9zM87.3 31.5h.9v.9h-.9zM82.8 34.2h.9v.9h-.9zM87.2 39.2h.9v.9h-.9zM86.5 17.9h.9v.9h-.9zM83.7 41.6h.9v.9h-.9zM82.6 39.5h.9v.9h-.9zM88.6 36.8h.9v.9h-.9zM87.1 28.8h.9v.9h-.9zM82.6 30.5h.9v.9h-.9zM84.6 30.9h.9v.9h-.9zM86.3 30.2h.9v.9h-.9zM85.3 34.3h.9v.9h-.9zM85.8 31.8h.9v.9h-.9zM84.6 26.7h.9v.9h-.9zM87.5 32.3h.9v.9h-.9zM82.9 27.1h.9v.9h-.9zM84.7 28.0h.9v.9h-.9zM87.0 22.7h.9v.9h-.9zM85.9 32.3h.9v.9h-.9zM82.7 31.6h.9v.9h-.9zM84.8 34.9h.9v.9h-.9zM84.1 33.4h.9v.9h-.9zM81.8 23.3h.9v.9h-.9zM86.5 38.8h.9v.9h-.9zM84.9 26.8h.9v.9h-.9zM87.0 15.9h.9v.9h-.9zM83.4 36.1h.9v.9h-.9zM86.2 23.7h.9v.9h-.9zM81.3 41.8h.9v.9h-.9zM85.3 24.7h.9v.9h-.9zM85.1 37.8h.9v.9h-.9zM80.0 39.3h.9v.9h-.9zM86.4 16.0h.9v.9h-.9zM86.4 18.2h.9v.9h-.9zM87.2 34.1h.9v.9h-.9zM89.3 26.8h.9v.9h-.9zM85.0 38.9h.9v.9h-.9zM83.7 26.1h.9v.9h-.9zM84.2 30.7h.9v.9h-.9zM82.9 34.8h.9v.9h-.9zM86.0 31.7h.9v.9h-.9zM88.2 28.8h.9v.9h-.9zM87.5 27.2h.9v.9h-.9zM86.4 17.1h.9v.9h-.9zM85.3 29.9h.9v.9h-.9zM84.0 26.8h.9v.9h-.9zM84.3 26.0h.9v.9h-.9zM80.7 26.9h.9v.9h-.9zM83.9 27.4h.9v.9h-.9zM82.9 30.2h.9v.9h-.9zM86.5 29.4h.9v.9h-.9zM84.0 41.1h.9v.9h-.9zM86.8 37.9h.9v.9h-.9zM87.2 28.8h.9v.9h-.9zM84.7 39.3h.9v.9h-.9zM83.9 30.3h.9v.9h-.9zM85.7 33.9h.9v.9h-.9zM68.9 39.0h.9v.9h-.9zM69.3 37.5h.9v.9h-.9zM74.1 37.1h.9v.9h-.9zM72.8 26.5h.9v.9h-.9zM64.9 29.7h.9v.9h-.9zM71.8 42.0h.9v.9h-.9zM65.2 35.1h.9v.9h-.9zM66.7 29.0h.9v.9h-.9zM68.9 37.3h.9v.9h-.9zM70.8 40.2h.9v.9h-.9zM66.2 38.5h.9v.9h-.9zM73.5 33.7h.9v.9h-.9zM71.8 30.0h.9v.9h-.9zM65.7 30.9h.9v.9h-.9zM70.7 35.1h.9v.9h-.9zM72.8 28.7h.9v.9h-.9zM73.5 35.5h.9v.9h-.9zM64.1 36.8h.9v.9h-.9zM72.1 35.9h.9v.9h-.9zM76.0 30.8h.9v.9h-.9zM71.9 37.6h.9v.9h-.9zM66.5 40.3h.9v.9h-.9zM64.4 25.7h.9v.9h-.9zM72.0 26.9h.9v.9h-.9zM69.5 23.7h.9v.9h-.9zM70.2 26.6h.9v.9h-.9zM71.3 24.3h.9v.9h-.9zM71.7 31.7h.9v.9h-.9zM70.2 32.9h.9v.9h-.9zM70.4 25.5h.9v.9h-.9zM66.3 30.6h.9v.9h-.9zM71.6 21.7h.9v.9h-.9zM67.0 29.7h.9v.9h-.9zM65.9 35.2h.9v.9h-.9zM69.4 28.5h.9v.9h-.9zM66.2 38.0h.9v.9h-.9zM67.4 36.7h.9v.9h-.9zM71.7 22.2h.9v.9h-.9zM65.8 33.3h.9v.9h-.9zM71.3 37.8h.9v.9h-.9zM73.0 39.3h.9v.9h-.9zM68.5 32.0h.9v.9h-.9zM72.9 30.8h.9v.9h-.9zM74.0 24.0h.9v.9h-.9zM72.5 32.3h.9v.9h-.9zM71.1 33.4h.9v.9h-.9zM65.8 30.5h.9v.9h-.9zM75.8 28.4h.9v.9h-.9zM65.3 32.5h.9v.9h-.9zM68.4 27.9h.9v.9h-.9zM66.7 39.4h.9v.9h-.9zM67.9 26.9h.9v.9h-.9zM73.0 36.6h.9v.9h-.9zM65.9 37.6h.9v.9h-.9zM85.5 39.4h.9v.9h-.9zM100.5 27.9h.9v.9h-.9zM80.3 31.9h.9v.9h-.9zM101.8 23.7h.9v.9h-.9zM83.8 37.5h.9v.9h-.9zM70.0 23.0h.9v.9h-.9zM101.1 37.8h.9v.9h-.9zM83.1 16.9h.9v.9h-.9zM97.8 33.8h.9v.9h-.9zM95.0 42.6h.9v.9h-.9zM97.6 26.0h.9v.9h-.9zM69.4 22.2h.9v.9h-.9z" fill="#111" opacity="0.6" filter="url(#bl04)"/>
<line x1="78.5" y1="13.7" x2="78.5" y2="42.9" stroke="#4a4a4a" stroke-width="1.0"/>
<line x1="63.4" y1="29.5" x2="101.9" y2="29.5" stroke="#4a4a4a" stroke-width="1.0"/>
</g>
<rect x="63.5" y="13.5" width="38.0" height="29.0" fill="none" stroke="#111" stroke-width="1.2" />
<path d="M61.60 42.90H63.4M63.40 42.9V44.70M62.30 40.70H63.4M66.30 42.9V44.00M62.30 39.42H63.4M67.99 42.9V44.00M62.30 38.50H63.4M69.19 42.9V44.00M62.30 37.80H63.4M70.13 42.9V44.00M62.30 37.22H63.4M70.89 42.9V44.00M62.30 36.73H63.4M71.53 42.9V44.00M62.30 36.31H63.4M72.09 42.9V44.00M62.30 35.93H63.4M72.58 42.9V44.00M61.60 35.60H63.4M73.03 42.9V44.70M62.30 33.40H63.4M75.92 42.9V44.00M62.30 32.12H63.4M77.62 42.9V44.00M62.30 31.20H63.4M78.82 42.9V44.00M62.30 30.50H63.4M79.75 42.9V44.00M62.30 29.92H63.4M80.51 42.9V44.00M62.30 29.43H63.4M81.16 42.9V44.00M62.30 29.01H63.4M81.72 42.9V44.00M62.30 28.63H63.4M82.21 42.9V44.00M61.60 28.30H63.4M82.65 42.9V44.70M62.30 26.10H63.4M85.55 42.9V44.00M62.30 24.82H63.4M87.24 42.9V44.00M62.30 23.90H63.4M88.44 42.9V44.00M62.30 23.20H63.4M89.38 42.9V44.00M62.30 22.62H63.4M90.14 42.9V44.00M62.30 22.13H63.4M90.78 42.9V44.00M62.30 21.71H63.4M91.34 42.9V44.00M62.30 21.33H63.4M91.83 42.9V44.00M61.60 21.00H63.4M92.28 42.9V44.70M62.30 18.80H63.4M95.17 42.9V44.00M62.30 17.52H63.4M96.87 42.9V44.00M62.30 16.60H63.4M98.07 42.9V44.00M62.30 15.90H63.4M99.00 42.9V44.00M62.30 15.32H63.4M99.76 42.9V44.00M62.30 14.83H63.4M100.41 42.9V44.00M62.30 14.41H63.4M100.97 42.9V44.00M62.30 14.03H63.4M101.46 42.9V44.00M61.6 13.70H63.4M101.90 42.9V44.699999999999996" stroke="#111" stroke-width="0.55" fill="none"/>
<clipPath id="clip2"><rect x="108.6" y="13.7" width="38.5" height="29.2"/></clipPath>
<g clip-path="url(#clip2)">
<ellipse cx="127.1" cy="34.1" rx="6.5" ry="8.2" transform="rotate(0 127.1 34.1)" fill="#111" opacity="0.79" filter="url(#bl)"/>
<ellipse cx="126.7" cy="23.9" rx="5.4" ry="6.1" transform="rotate(0 126.7 23.9)" fill="#111" opacity="0.37" filter="url(#bl)"/>
<path d="M121.6 33.6h.9v.9h-.9zM128.2 37.6h.9v.9h-.9zM122.8 28.3h.9v.9h-.9zM126.2 32.8h.9v.9h-.9zM120.2 39.6h.9v.9h-.9zM124.6 42.5h.9v.9h-.9zM131.0 34.3h.9v.9h-.9zM130.4 27.6h.9v.9h-.9zM125.6 30.8h.9v.9h-.9zM121.2 34.2h.9v.9h-.9zM126.4 42.5h.9v.9h-.9zM111.6 30.2h.9v.9h-.9zM122.8 31.4h.9v.9h-.9zM129.0 36.5h.9v.9h-.9zM127.2 31.4h.9v.9h-.9zM129.4 36.2h.9v.9h-.9zM118.6 32.6h.9v.9h-.9zM120.7 27.2h.9v.9h-.9zM127.8 34.5h.9v.9h-.9zM127.6 29.0h.9v.9h-.9zM126.2 28.8h.9v.9h-.9zM128.8 38.2h.9v.9h-.9zM135.2 41.5h.9v.9h-.9zM123.4 31.5h.9v.9h-.9zM122.7 35.9h.9v.9h-.9zM136.2 38.3h.9v.9h-.9zM116.9 26.8h.9v.9h-.9zM121.1 37.1h.9v.9h-.9zM127.1 35.9h.9v.9h-.9zM135.3 29.3h.9v.9h-.9zM128.7 29.6h.9v.9h-.9zM117.7 25.2h.9v.9h-.9zM115.8 34.5h.9v.9h-.9zM127.3 39.9h.9v.9h-.9zM126.4 30.1h.9v.9h-.9zM118.9 35.2h.9v.9h-.9zM127.2 37.7h.9v.9h-.9zM125.2 37.1h.9v.9h-.9zM130.8 33.3h.9v.9h-.9zM125.0 33.1h.9v.9h-.9zM122.6 32.9h.9v.9h-.9zM125.7 35.4h.9v.9h-.9zM133.3 41.8h.9v.9h-.9zM125.0 37.7h.9v.9h-.9zM128.4 38.6h.9v.9h-.9zM127.2 35.7h.9v.9h-.9zM124.9 29.6h.9v.9h-.9zM131.1 41.7h.9v.9h-.9zM130.1 36.7h.9v.9h-.9zM128.3 31.5h.9v.9h-.9zM118.8 38.0h.9v.9h-.9zM128.0 30.9h.9v.9h-.9zM122.6 41.6h.9v.9h-.9zM123.8 34.0h.9v.9h-.9zM124.7 35.0h.9v.9h-.9zM126.1 29.8h.9v.9h-.9zM132.0 29.6h.9v.9h-.9zM124.7 37.4h.9v.9h-.9zM124.6 31.6h.9v.9h-.9zM128.7 32.0h.9v.9h-.9zM121.3 33.5h.9v.9h-.9zM122.0 39.8h.9v.9h-.9zM123.4 32.1h.9v.9h-.9zM125.6 35.7h.9v.9h-.9zM124.1 41.9h.9v.9h-.9zM131.7 38.9h.9v.9h-.9zM123.6 39.4h.9v.9h-.9zM126.6 36.2h.9v.9h-.9zM125.8 38.0h.9v.9h-.9zM132.2 40.7h.9v.9h-.9zM126.1 40.0h.9v.9h-.9zM133.8 28.7h.9v.9h-.9zM133.9 26.3h.9v.9h-.9zM129.6 37.6h.9v.9h-.9zM133.9 35.8h.9v.9h-.9zM124.9 29.5h.9v.9h-.9zM121.3 38.6h.9v.9h-.9zM126.0 29.9h.9v.9h-.9zM129.5 29.7h.9v.9h-.9zM125.1 31.5h.9v.9h-.9zM134.7 42.7h.9v.9h-.9zM126.4 25.0h.9v.9h-.9zM128.4 34.6h.9v.9h-.9zM128.7 37.4h.9v.9h-.9zM125.6 39.5h.9v.9h-.9zM130.9 35.4h.9v.9h-.9zM125.2 31.3h.9v.9h-.9zM130.3 27.7h.9v.9h-.9zM126.3 29.8h.9v.9h-.9zM120.6 37.7h.9v.9h-.9zM127.0 34.3h.9v.9h-.9zM131.1 25.4h.9v.9h-.9zM126.8 35.8h.9v.9h-.9zM130.9 27.8h.9v.9h-.9zM130.4 35.4h.9v.9h-.9zM133.3 40.8h.9v.9h-.9zM127.1 31.7h.9v.9h-.9zM125.5 28.6h.9v.9h-.9zM126.9 23.2h.9v.9h-.9zM126.7 36.6h.9v.9h-.9zM131.7 32.1h.9v.9h-.9zM133.5 30.3h.9v.9h-.9zM126.5 23.2h.9v.9h-.9zM123.6 29.5h.9v.9h-.9zM133.8 37.2h.9v.9h-.9zM122.1 37.2h.9v.9h-.9zM129.3 32.8h.9v.9h-.9zM127.2 32.4h.9v.9h-.9zM124.6 24.0h.9v.9h-.9zM126.7 41.5h.9v.9h-.9zM133.5 32.6h.9v.9h-.9zM123.7 32.9h.9v.9h-.9zM131.1 36.1h.9v.9h-.9zM124.4 36.2h.9v.9h-.9zM126.2 37.1h.9v.9h-.9zM125.2 25.8h.9v.9h-.9zM127.3 38.5h.9v.9h-.9zM122.1 33.5h.9v.9h-.9zM131.0 32.0h.9v.9h-.9zM130.8 40.0h.9v.9h-.9zM119.6 31.2h.9v.9h-.9zM130.4 41.7h.9v.9h-.9zM122.9 30.4h.9v.9h-.9zM128.0 23.2h.9v.9h-.9zM130.0 37.3h.9v.9h-.9zM125.1 37.2h.9v.9h-.9zM130.6 35.9h.9v.9h-.9zM129.4 42.7h.9v.9h-.9zM124.9 35.1h.9v.9h-.9zM124.7 40.0h.9v.9h-.9zM125.3 36.8h.9v.9h-.9zM127.7 34.5h.9v.9h-.9zM134.8 33.7h.9v.9h-.9zM133.4 38.8h.9v.9h-.9zM133.0 33.2h.9v.9h-.9zM131.2 38.4h.9v.9h-.9zM124.3 35.7h.9v.9h-.9zM126.5 33.9h.9v.9h-.9zM132.9 30.1h.9v.9h-.9zM119.6 24.3h.9v.9h-.9zM125.1 30.5h.9v.9h-.9zM127.1 37.3h.9v.9h-.9zM134.9 35.9h.9v.9h-.9zM129.1 30.0h.9v.9h-.9zM129.7 41.8h.9v.9h-.9zM133.1 23.1h.9v.9h-.9zM130.8 25.7h.9v.9h-.9zM125.7 37.4h.9v.9h-.9zM128.9 29.6h.9v.9h-.9zM123.1 39.6h.9v.9h-.9zM121.1 42.2h.9v.9h-.9zM127.2 35.8h.9v.9h-.9zM121.1 30.8h.9v.9h-.9zM130.1 25.9h.9v.9h-.9zM136.3 26.2h.9v.9h-.9zM121.6 34.4h.9v.9h-.9zM129.2 38.3h.9v.9h-.9zM125.4 33.0h.9v.9h-.9zM126.0 30.9h.9v.9h-.9zM115.6 39.5h.9v.9h-.9zM128.2 35.0h.9v.9h-.9zM124.3 35.6h.9v.9h-.9zM127.0 33.7h.9v.9h-.9zM132.0 24.5h.9v.9h-.9zM128.2 28.2h.9v.9h-.9zM125.7 42.6h.9v.9h-.9zM122.3 33.6h.9v.9h-.9zM124.5 39.5h.9v.9h-.9zM122.7 24.7h.9v.9h-.9zM129.4 32.2h.9v.9h-.9zM125.7 40.2h.9v.9h-.9zM123.1 32.0h.9v.9h-.9zM127.7 36.5h.9v.9h-.9zM124.8 39.9h.9v.9h-.9zM137.0 31.8h.9v.9h-.9zM135.4 22.3h.9v.9h-.9zM133.3 32.2h.9v.9h-.9zM127.7 32.2h.9v.9h-.9zM124.3 27.0h.9v.9h-.9zM125.3 41.4h.9v.9h-.9zM132.1 32.2h.9v.9h-.9zM124.7 30.2h.9v.9h-.9zM130.0 34.8h.9v.9h-.9zM124.9 28.4h.9v.9h-.9zM132.9 38.5h.9v.9h-.9zM122.9 39.7h.9v.9h-.9zM122.2 37.7h.9v.9h-.9zM122.8 31.8h.9v.9h-.9zM129.3 36.6h.9v.9h-.9zM131.6 29.4h.9v.9h-.9zM134.1 41.7h.9v.9h-.9zM127.0 36.7h.9v.9h-.9zM123.6 33.3h.9v.9h-.9zM121.2 34.6h.9v.9h-.9zM128.0 41.7h.9v.9h-.9zM131.3 38.7h.9v.9h-.9zM125.5 32.9h.9v.9h-.9zM125.6 35.4h.9v.9h-.9zM118.5 38.5h.9v.9h-.9zM120.1 31.3h.9v.9h-.9zM127.2 31.3h.9v.9h-.9zM134.5 33.6h.9v.9h-.9zM134.1 40.7h.9v.9h-.9zM124.9 36.4h.9v.9h-.9zM132.8 32.3h.9v.9h-.9zM127.5 31.0h.9v.9h-.9zM127.3 32.2h.9v.9h-.9zM127.4 39.8h.9v.9h-.9zM133.3 34.9h.9v.9h-.9zM128.0 38.9h.9v.9h-.9zM125.8 28.2h.9v.9h-.9zM132.0 28.9h.9v.9h-.9zM131.2 28.7h.9v.9h-.9zM135.2 28.3h.9v.9h-.9zM130.8 42.5h.9v.9h-.9zM122.8 42.5h.9v.9h-.9zM123.4 24.2h.9v.9h-.9zM130.3 38.1h.9v.9h-.9zM126.2 20.0h.9v.9h-.9zM126.8 32.4h.9v.9h-.9zM125.4 32.5h.9v.9h-.9zM119.1 31.0h.9v.9h-.9zM135.1 42.8h.9v.9h-.9zM125.5 30.1h.9v.9h-.9zM128.8 40.1h.9v.9h-.9zM130.3 27.6h.9v.9h-.9zM127.8 34.9h.9v.9h-.9zM133.5 40.8h.9v.9h-.9zM129.4 41.0h.9v.9h-.9zM125.3 42.8h.9v.9h-.9zM125.2 36.4h.9v.9h-.9zM131.2 29.0h.9v.9h-.9zM124.0 24.3h.9v.9h-.9zM127.8 33.8h.9v.9h-.9zM125.6 36.9h.9v.9h-.9zM117.7 34.0h.9v.9h-.9zM127.5 32.6h.9v.9h-.9zM125.1 28.9h.9v.9h-.9zM124.4 34.7h.9v.9h-.9zM129.7 29.3h.9v.9h-.9zM131.5 28.4h.9v.9h-.9zM130.7 36.5h.9v.9h-.9zM125.9 33.2h.9v.9h-.9zM129.2 39.0h.9v.9h-.9zM121.1 35.7h.9v.9h-.9zM123.8 37.7h.9v.9h-.9zM133.2 34.4h.9v.9h-.9zM126.6 35.2h.9v.9h-.9zM114.0 38.5h.9v.9h-.9zM129.6 35.1h.9v.9h-.9zM125.3 30.0h.9v.9h-.9zM126.3 40.9h.9v.9h-.9zM126.6 41.7h.9v.9h-.9zM115.7 31.6h.9v.9h-.9zM128.3 34.1h.9v.9h-.9zM119.7 30.4h.9v.9h-.9zM132.6 26.9h.9v.9h-.9zM122.7 28.0h.9v.9h-.9zM124.6 37.7h.9v.9h-.9zM129.7 22.8h.9v.9h-.9zM133.6 30.8h.9v.9h-.9zM126.7 27.2h.9v.9h-.9zM124.2 30.1h.9v.9h-.9zM122.6 32.3h.9v.9h-.9zM131.0 36.1h.9v.9h-.9zM122.7 34.8h.9v.9h-.9zM127.2 38.4h.9v.9h-.9zM125.6 36.7h.9v.9h-.9zM136.4 34.7h.9v.9h-.9zM122.3 36.0h.9v.9h-.9zM123.5 32.1h.9v.9h-.9zM127.9 36.0h.9v.9h-.9zM125.8 38.9h.9v.9h-.9zM126.2 26.8h.9v.9h-.9zM131.0 32.1h.9v.9h-.9zM132.5 30.5h.9v.9h-.9zM129.6 35.9h.9v.9h-.9zM115.1 25.8h.9v.9h-.9zM122.1 42.0h.9v.9h-.9zM118.7 39.3h.9v.9h-.9zM131.9 36.9h.9v.9h-.9zM130.1 31.4h.9v.9h-.9zM127.0 35.4h.9v.9h-.9zM128.9 38.1h.9v.9h-.9zM125.9 21.0h.9v.9h-.9zM124.6 25.6h.9v.9h-.9zM120.6 18.6h.9v.9h-.9zM125.2 21.6h.9v.9h-.9zM125.4 22.9h.9v.9h-.9zM129.6 15.6h.9v.9h-.9zM125.6 25.9h.9v.9h-.9zM128.5 29.0h.9v.9h-.9zM130.6 19.5h.9v.9h-.9zM129.0 22.5h.9v.9h-.9zM123.7 30.4h.9v.9h-.9zM124.4 20.3h.9v.9h-.9zM125.2 20.3h.9v.9h-.9zM130.4 25.5h.9v.9h-.9zM131.9 25.7h.9v.9h-.9zM124.4 28.3h.9v.9h-.9zM124.3 22.0h.9v.9h-.9zM126.1 24.1h.9v.9h-.9zM131.1 21.4h.9v.9h-.9zM128.0 23.8h.9v.9h-.9zM122.0 19.3h.9v.9h-.9zM125.9 25.6h.9v.9h-.9zM127.9 25.9h.9v.9h-.9zM126.9 22.0h.9v.9h-.9zM128.3 19.7h.9v.9h-.9zM121.7 22.5h.9v.9h-.9zM121.4 21.7h.9v.9h-.9zM123.9 21.6h.9v.9h-.9zM126.5 20.5h.9v.9h-.9zM125.1 16.7h.9v.9h-.9zM127.2 20.2h.9v.9h-.9zM123.7 24.9h.9v.9h-.9zM117.6 22.4h.9v.9h-.9zM127.0 24.4h.9v.9h-.9zM121.1 24.9h.9v.9h-.9zM127.2 19.8h.9v.9h-.9zM129.5 23.7h.9v.9h-.9zM126.8 22.0h.9v.9h-.9zM128.7 24.3h.9v.9h-.9zM130.9 25.8h.9v.9h-.9zM124.4 23.0h.9v.9h-.9zM130.1 22.4h.9v.9h-.9zM128.1 26.1h.9v.9h-.9zM126.0 14.1h.9v.9h-.9zM127.2 24.8h.9v.9h-.9zM127.2 20.7h.9v.9h-.9zM131.2 23.3h.9v.9h-.9zM124.4 20.9h.9v.9h-.9zM128.0 19.3h.9v.9h-.9zM123.0 32.4h.9v.9h-.9zM131.6 28.4h.9v.9h-.9zM131.8 26.4h.9v.9h-.9zM120.4 29.0h.9v.9h-.9zM131.3 26.0h.9v.9h-.9zM119.4 29.2h.9v.9h-.9zM131.8 21.8h.9v.9h-.9zM127.2 27.2h.9v.9h-.9zM126.4 28.6h.9v.9h-.9zM127.0 26.9h.9v.9h-.9zM127.0 17.6h.9v.9h-.9zM123.0 37.4h.9v.9h-.9zM127.7 29.5h.9v.9h-.9zM130.9 31.2h.9v.9h-.9zM128.8 21.4h.9v.9h-.9zM126.8 15.8h.9v.9h-.9zM126.0 27.8h.9v.9h-.9zM118.6 24.8h.9v.9h-.9zM129.8 29.6h.9v.9h-.9zM123.2 21.2h.9v.9h-.9zM119.7 19.6h.9v.9h-.9zM128.7 32.7h.9v.9h-.9zM122.4 29.8h.9v.9h-.9zM128.3 21.8h.9v.9h-.9zM126.4 24.9h.9v.9h-.9zM134.7 31.6h.9v.9h-.9zM135.2 24.5h.9v.9h-.9zM130.4 29.7h.9v.9h-.9zM128.6 25.5h.9v.9h-.9zM126.0 22.2h.9v.9h-.9zM122.1 32.2h.9v.9h-.9zM125.0 15.1h.9v.9h-.9zM127.7 23.8h.9v.9h-.9zM127.4 31.6h.9v.9h-.9zM126.3 22.8h.9v.9h-.9zM123.9 23.8h.9v.9h-.9zM125.1 24.8h.9v.9h-.9zM138.4 25.6h.9v.9h-.9zM123.5 32.1h.9v.9h-.9zM129.9 27.4h.9v.9h-.9zM129.4 27.4h.9v.9h-.9zM129.2 29.9h.9v.9h-.9zM130.5 29.7h.9v.9h-.9zM124.8 23.9h.9v.9h-.9zM124.0 28.0h.9v.9h-.9zM129.8 21.9h.9v.9h-.9zM128.9 35.1h.9v.9h-.9zM131.3 19.2h.9v.9h-.9zM126.3 26.6h.9v.9h-.9zM126.6 25.6h.9v.9h-.9zM131.1 25.3h.9v.9h-.9zM122.6 27.0h.9v.9h-.9zM126.3 24.4h.9v.9h-.9zM124.6 18.0h.9v.9h-.9zM122.0 22.4h.9v.9h-.9zM131.0 19.0h.9v.9h-.9zM124.0 26.2h.9v.9h-.9zM117.7 29.6h.9v.9h-.9zM123.8 26.7h.9v.9h-.9zM124.9 25.2h.9v.9h-.9zM127.1 23.9h.9v.9h-.9zM119.8 17.6h.9v.9h-.9zM126.5 29.9h.9v.9h-.9zM124.6 26.2h.9v.9h-.9zM127.3 26.0h.9v.9h-.9zM130.4 17.5h.9v.9h-.9zM127.7 23.2h.9v.9h-.9zM135.3 23.2h.9v.9h-.9zM133.5 29.7h.9v.9h-.9zM120.8 42.1h.9v.9h-.9zM108.6 35.5h.9v.9h-.9zM141.5 28.6h.9v.9h-.9zM131.4 42.7h.9v.9h-.9zM117.6 32.1h.9v.9h-.9zM137.2 24.8h.9v.9h-.9zM136.0 25.2h.9v.9h-.9zM128.9 31.6h.9v.9h-.9zM134.7 23.1h.9v.9h-.9zM132.8 29.6h.9v.9h-.9z" fill="#111" opacity="0.6" filter="url(#bl04)"/>
<line x1="123.5" y1="13.7" x2="123.5" y2="42.9" stroke="#4a4a4a" stroke-width="1.0"/>
<line x1="108.6" y1="29.5" x2="147.1" y2="29.5" stroke="#4a4a4a" stroke-width="1.0"/>
</g>
<rect x="108.5" y="13.5" width="39.0" height="29.0" fill="none" stroke="#111" stroke-width="1.2" />
<path d="M106.80 42.90H108.6M108.60 42.9V44.70M107.50 40.70H108.6M111.50 42.9V44.00M107.50 39.42H108.6M113.19 42.9V44.00M107.50 38.50H108.6M114.39 42.9V44.00M107.50 37.80H108.6M115.33 42.9V44.00M107.50 37.22H108.6M116.09 42.9V44.00M107.50 36.73H108.6M116.73 42.9V44.00M107.50 36.31H108.6M117.29 42.9V44.00M107.50 35.93H108.6M117.78 42.9V44.00M106.80 35.60H108.6M118.22 42.9V44.70M107.50 33.40H108.6M121.12 42.9V44.00M107.50 32.12H108.6M122.82 42.9V44.00M107.50 31.20H108.6M124.02 42.9V44.00M107.50 30.50H108.6M124.95 42.9V44.00M107.50 29.92H108.6M125.71 42.9V44.00M107.50 29.43H108.6M126.36 42.9V44.00M107.50 29.01H108.6M126.92 42.9V44.00M107.50 28.63H108.6M127.41 42.9V44.00M106.80 28.30H108.6M127.85 42.9V44.70M107.50 26.10H108.6M130.75 42.9V44.00M107.50 24.82H108.6M132.44 42.9V44.00M107.50 23.90H108.6M133.64 42.9V44.00M107.50 23.20H108.6M134.58 42.9V44.00M107.50 22.62H108.6M135.34 42.9V44.00M107.50 22.13H108.6M135.98 42.9V44.00M107.50 21.71H108.6M136.54 42.9V44.00M107.50 21.33H108.6M137.03 42.9V44.00M106.80 21.00H108.6M137.47 42.9V44.70M107.50 18.80H108.6M140.37 42.9V44.00M107.50 17.52H108.6M142.07 42.9V44.00M107.50 16.60H108.6M143.27 42.9V44.00M107.50 15.90H108.6M144.20 42.9V44.00M107.50 15.32H108.6M144.96 42.9V44.00M107.50 14.83H108.6M145.61 42.9V44.00M107.50 14.41H108.6M146.17 42.9V44.00M107.50 14.03H108.6M146.66 42.9V44.00M106.8 13.70H108.6M147.10 42.9V44.699999999999996" stroke="#111" stroke-width="0.55" fill="none"/>
<clipPath id="clip3"><rect x="154.5" y="13.7" width="38.5" height="29.2"/></clipPath>
<g clip-path="url(#clip3)">
<ellipse cx="171.1" cy="40.0" rx="7.0" ry="2.9" transform="rotate(0 171.1 40.0)" fill="#111" opacity="0.84" filter="url(#bl)"/>
<ellipse cx="174.5" cy="29.8" rx="3.8" ry="8.2" transform="rotate(0 174.5 29.8)" fill="#111" opacity="0.13" filter="url(#bl)"/>
<path d="M172.2 42.8h.9v.9h-.9zM163.2 40.5h.9v.9h-.9zM165.4 39.7h.9v.9h-.9zM171.6 41.1h.9v.9h-.9zM176.6 38.9h.9v.9h-.9zM165.0 39.6h.9v.9h-.9zM172.5 38.6h.9v.9h-.9zM164.1 40.7h.9v.9h-.9zM176.0 36.2h.9v.9h-.9zM172.1 39.5h.9v.9h-.9zM164.1 42.6h.9v.9h-.9zM172.1 39.0h.9v.9h-.9zM173.2 41.3h.9v.9h-.9zM174.8 41.1h.9v.9h-.9zM173.0 37.6h.9v.9h-.9zM169.0 40.2h.9v.9h-.9zM169.2 37.9h.9v.9h-.9zM162.2 40.5h.9v.9h-.9zM171.2 38.8h.9v.9h-.9zM169.0 38.2h.9v.9h-.9zM167.4 39.8h.9v.9h-.9zM167.9 41.3h.9v.9h-.9zM170.4 40.2h.9v.9h-.9zM173.0 42.5h.9v.9h-.9zM174.0 40.4h.9v.9h-.9zM170.3 38.4h.9v.9h-.9zM169.4 41.3h.9v.9h-.9zM172.2 39.2h.9v.9h-.9zM164.6 36.9h.9v.9h-.9zM172.6 42.0h.9v.9h-.9zM172.9 37.2h.9v.9h-.9zM170.0 40.4h.9v.9h-.9zM166.6 40.7h.9v.9h-.9zM170.1 38.3h.9v.9h-.9zM165.0 41.6h.9v.9h-.9zM172.8 38.2h.9v.9h-.9zM166.1 41.8h.9v.9h-.9zM174.0 39.4h.9v.9h-.9zM178.8 39.4h.9v.9h-.9zM165.9 42.2h.9v.9h-.9zM170.1 40.7h.9v.9h-.9zM171.2 38.0h.9v.9h-.9zM165.3 39.6h.9v.9h-.9zM177.9 38.0h.9v.9h-.9zM177.7 40.4h.9v.9h-.9zM165.6 40.5h.9v.9h-.9zM173.8 38.2h.9v.9h-.9zM160.7 40.7h.9v.9h-.9zM165.6 40.9h.9v.9h-.9zM161.7 39.7h.9v.9h-.9zM167.1 37.0h.9v.9h-.9zM169.9 40.3h.9v.9h-.9zM168.3 37.6h.9v.9h-.9zM172.1 36.5h.9v.9h-.9zM173.7 41.0h.9v.9h-.9zM179.2 41.7h.9v.9h-.9zM172.8 40.5h.9v.9h-.9zM171.2 37.3h.9v.9h-.9zM178.2 41.0h.9v.9h-.9zM169.7 37.7h.9v.9h-.9zM178.3 41.0h.9v.9h-.9zM165.3 41.3h.9v.9h-.9zM180.3 39.9h.9v.9h-.9zM173.0 39.2h.9v.9h-.9zM168.0 42.1h.9v.9h-.9zM186.0 40.2h.9v.9h-.9zM170.5 41.6h.9v.9h-.9zM169.6 41.4h.9v.9h-.9zM175.1 38.0h.9v.9h-.9zM165.8 39.8h.9v.9h-.9zM175.1 40.5h.9v.9h-.9zM177.1 37.2h.9v.9h-.9zM173.5 38.7h.9v.9h-.9zM171.5 40.6h.9v.9h-.9zM166.3 39.5h.9v.9h-.9zM165.4 40.5h.9v.9h-.9zM166.9 39.0h.9v.9h-.9zM172.1 38.7h.9v.9h-.9zM176.6 38.7h.9v.9h-.9zM175.2 40.5h.9v.9h-.9zM166.0 39.5h.9v.9h-.9zM167.0 39.3h.9v.9h-.9zM173.2 37.4h.9v.9h-.9zM159.8 41.3h.9v.9h-.9zM161.4 41.4h.9v.9h-.9zM176.0 40.8h.9v.9h-.9zM170.0 39.5h.9v.9h-.9zM172.3 39.4h.9v.9h-.9zM168.5 39.2h.9v.9h-.9zM176.7 38.8h.9v.9h-.9zM172.9 37.7h.9v.9h-.9zM167.6 37.3h.9v.9h-.9zM170.1 41.3h.9v.9h-.9zM172.5 39.0h.9v.9h-.9zM174.0 39.3h.9v.9h-.9zM172.9 40.5h.9v.9h-.9zM173.7 35.1h.9v.9h-.9zM164.7 41.5h.9v.9h-.9zM169.9 38.9h.9v.9h-.9zM178.3 41.1h.9v.9h-.9zM180.2 41.0h.9v.9h-.9zM170.1 41.4h.9v.9h-.9zM167.2 39.1h.9v.9h-.9zM168.4 39.5h.9v.9h-.9zM174.8 39.0h.9v.9h-.9zM172.6 39.0h.9v.9h-.9zM175.3 34.5h.9v.9h-.9zM170.0 40.3h.9v.9h-.9zM165.8 42.0h.9v.9h-.9zM172.1 42.5h.9v.9h-.9zM175.7 41.2h.9v.9h-.9zM170.3 37.8h.9v.9h-.9zM170.0 39.1h.9v.9h-.9zM172.3 39.1h.9v.9h-.9zM185.8 36.8h.9v.9h-.9zM176.7 39.1h.9v.9h-.9zM169.9 41.8h.9v.9h-.9zM171.1 37.6h.9v.9h-.9zM173.1 39.6h.9v.9h-.9zM161.1 40.4h.9v.9h-.9zM166.0 38.5h.9v.9h-.9zM173.4 40.6h.9v.9h-.9zM173.1 38.8h.9v.9h-.9zM172.2 39.7h.9v.9h-.9zM160.4 36.9h.9v.9h-.9zM170.2 39.4h.9v.9h-.9zM168.3 41.9h.9v.9h-.9zM170.5 40.7h.9v.9h-.9zM169.0 39.6h.9v.9h-.9zM162.7 38.8h.9v.9h-.9zM166.5 38.7h.9v.9h-.9zM176.9 40.5h.9v.9h-.9zM177.0 41.7h.9v.9h-.9zM175.5 42.0h.9v.9h-.9zM168.1 41.6h.9v.9h-.9zM169.5 38.9h.9v.9h-.9zM175.1 38.3h.9v.9h-.9zM172.4 40.7h.9v.9h-.9zM172.9 39.3h.9v.9h-.9zM164.9 40.0h.9v.9h-.9zM175.2 41.5h.9v.9h-.9zM174.2 42.2h.9v.9h-.9zM166.3 39.9h.9v.9h-.9zM172.7 41.9h.9v.9h-.9zM171.8 41.0h.9v.9h-.9zM160.5 39.9h.9v.9h-.9zM183.0 40.4h.9v.9h-.9zM162.2 40.2h.9v.9h-.9zM164.1 38.6h.9v.9h-.9zM173.3 41.3h.9v.9h-.9zM176.0 40.4h.9v.9h-.9zM166.9 39.8h.9v.9h-.9zM172.7 39.4h.9v.9h-.9zM167.8 39.3h.9v.9h-.9zM163.8 38.0h.9v.9h-.9zM170.6 39.3h.9v.9h-.9zM171.2 42.7h.9v.9h-.9zM172.5 39.9h.9v.9h-.9zM165.4 37.9h.9v.9h-.9zM172.9 38.3h.9v.9h-.9zM173.1 37.9h.9v.9h-.9zM171.7 39.8h.9v.9h-.9zM175.9 39.2h.9v.9h-.9zM169.3 40.5h.9v.9h-.9zM169.8 38.9h.9v.9h-.9zM169.5 40.9h.9v.9h-.9zM172.2 41.3h.9v.9h-.9zM179.9 39.9h.9v.9h-.9zM165.2 40.3h.9v.9h-.9zM173.1 35.6h.9v.9h-.9zM171.1 37.1h.9v.9h-.9zM173.3 42.7h.9v.9h-.9zM176.0 37.0h.9v.9h-.9zM177.7 41.8h.9v.9h-.9zM169.3 41.0h.9v.9h-.9zM178.4 39.3h.9v.9h-.9zM171.0 38.9h.9v.9h-.9zM176.6 35.7h.9v.9h-.9zM177.9 38.1h.9v.9h-.9zM175.5 36.8h.9v.9h-.9zM166.5 38.8h.9v.9h-.9zM175.0 36.8h.9v.9h-.9zM174.0 38.7h.9v.9h-.9zM177.0 39.4h.9v.9h-.9zM173.4 39.6h.9v.9h-.9zM179.7 39.3h.9v.9h-.9zM171.4 41.3h.9v.9h-.9zM167.5 40.4h.9v.9h-.9zM160.1 40.2h.9v.9h-.9zM167.9 37.0h.9v.9h-.9zM164.2 42.2h.9v.9h-.9zM173.1 37.0h.9v.9h-.9zM179.8 38.6h.9v.9h-.9zM169.3 40.5h.9v.9h-.9zM165.6 36.8h.9v.9h-.9zM167.5 42.3h.9v.9h-.9zM175.6 36.9h.9v.9h-.9zM176.9 40.0h.9v.9h-.9zM173.5 40.1h.9v.9h-.9zM173.0 38.0h.9v.9h-.9zM166.7 38.6h.9v.9h-.9zM169.3 41.2h.9v.9h-.9zM172.9 26.5h.9v.9h-.9zM176.3 32.2h.9v.9h-.9zM173.6 23.7h.9v.9h-.9zM171.9 20.8h.9v.9h-.9zM177.5 35.8h.9v.9h-.9zM179.4 32.6h.9v.9h-.9zM175.4 34.0h.9v.9h-.9zM177.0 28.3h.9v.9h-.9zM175.4 41.9h.9v.9h-.9zM170.1 21.9h.9v.9h-.9zM172.0 34.0h.9v.9h-.9zM177.6 27.9h.9v.9h-.9zM176.3 29.5h.9v.9h-.9zM175.3 26.7h.9v.9h-.9zM174.4 29.7h.9v.9h-.9zM177.5 42.3h.9v.9h-.9zM169.8 32.8h.9v.9h-.9zM174.5 35.2h.9v.9h-.9zM177.3 34.1h.9v.9h-.9zM176.6 24.4h.9v.9h-.9zM170.1 39.1h.9v.9h-.9zM177.7 24.4h.9v.9h-.9zM177.9 33.5h.9v.9h-.9zM168.2 34.8h.9v.9h-.9zM172.0 36.3h.9v.9h-.9zM172.8 25.6h.9v.9h-.9zM170.5 28.5h.9v.9h-.9zM177.2 26.0h.9v.9h-.9zM169.7 41.8h.9v.9h-.9zM179.3 33.6h.9v.9h-.9zM173.1 22.9h.9v.9h-.9zM170.3 32.9h.9v.9h-.9zM177.9 23.8h.9v.9h-.9zM174.5 28.2h.9v.9h-.9zM173.9 32.6h.9v.9h-.9zM180.0 26.2h.9v.9h-.9zM176.7 35.9h.9v.9h-.9zM173.8 28.9h.9v.9h-.9zM171.0 35.8h.9v.9h-.9zM173.1 26.1h.9v.9h-.9zM174.7 24.9h.9v.9h-.9zM171.8 28.1h.9v.9h-.9zM178.4 28.6h.9v.9h-.9zM175.9 21.5h.9v.9h-.9zM169.5 40.0h.9v.9h-.9zM173.5 21.1h.9v.9h-.9zM174.2 33.2h.9v.9h-.9zM170.0 24.8h.9v.9h-.9zM175.2 24.6h.9v.9h-.9zM176.6 35.2h.9v.9h-.9zM188.3 18.4h.9v.9h-.9zM182.9 18.7h.9v.9h-.9zM166.5 15.3h.9v.9h-.9zM166.0 24.9h.9v.9h-.9zM191.7 41.8h.9v.9h-.9zM161.7 22.7h.9v.9h-.9zM190.8 19.5h.9v.9h-.9zM166.9 26.5h.9v.9h-.9zM158.7 21.3h.9v.9h-.9zM169.7 25.0h.9v.9h-.9zM191.6 21.5h.9v.9h-.9zM162.4 40.2h.9v.9h-.9z" fill="#111" opacity="0.6" filter="url(#bl04)"/>
<line x1="169.5" y1="13.7" x2="169.5" y2="42.9" stroke="#4a4a4a" stroke-width="1.0"/>
<line x1="154.5" y1="29.5" x2="193.0" y2="29.5" stroke="#4a4a4a" stroke-width="1.0"/>
</g>
<rect x="154.5" y="13.5" width="39.0" height="29.0" fill="none" stroke="#111" stroke-width="1.2" />
<path d="M152.70 42.90H154.5M154.50 42.9V44.70M153.40 40.70H154.5M157.40 42.9V44.00M153.40 39.42H154.5M159.09 42.9V44.00M153.40 38.50H154.5M160.29 42.9V44.00M153.40 37.80H154.5M161.23 42.9V44.00M153.40 37.22H154.5M161.99 42.9V44.00M153.40 36.73H154.5M162.63 42.9V44.00M153.40 36.31H154.5M163.19 42.9V44.00M153.40 35.93H154.5M163.68 42.9V44.00M152.70 35.60H154.5M164.12 42.9V44.70M153.40 33.40H154.5M167.02 42.9V44.00M153.40 32.12H154.5M168.72 42.9V44.00M153.40 31.20H154.5M169.92 42.9V44.00M153.40 30.50H154.5M170.85 42.9V44.00M153.40 29.92H154.5M171.61 42.9V44.00M153.40 29.43H154.5M172.26 42.9V44.00M153.40 29.01H154.5M172.82 42.9V44.00M153.40 28.63H154.5M173.31 42.9V44.00M152.70 28.30H154.5M173.75 42.9V44.70M153.40 26.10H154.5M176.65 42.9V44.00M153.40 24.82H154.5M178.34 42.9V44.00M153.40 23.90H154.5M179.54 42.9V44.00M153.40 23.20H154.5M180.48 42.9V44.00M153.40 22.62H154.5M181.24 42.9V44.00M153.40 22.13H154.5M181.88 42.9V44.00M153.40 21.71H154.5M182.44 42.9V44.00M153.40 21.33H154.5M182.93 42.9V44.00M152.70 21.00H154.5M183.38 42.9V44.70M153.40 18.80H154.5M186.27 42.9V44.00M153.40 17.52H154.5M187.97 42.9V44.00M153.40 16.60H154.5M189.17 42.9V44.00M153.40 15.90H154.5M190.10 42.9V44.00M153.40 15.32H154.5M190.86 42.9V44.00M153.40 14.83H154.5M191.51 42.9V44.00M153.40 14.41H154.5M192.07 42.9V44.00M153.40 14.03H154.5M192.56 42.9V44.00M152.7 13.70H154.5M193.00 42.9V44.699999999999996" stroke="#111" stroke-width="0.55" fill="none"/>
<clipPath id="clip4"><rect x="19.0" y="54.8" width="38.5" height="29.10000000000001"/></clipPath>
<g clip-path="url(#clip4)">
<ellipse cx="44.4" cy="64.4" rx="4.9" ry="4.1" transform="rotate(0 44.4 64.4)" fill="#111" opacity="1.00" filter="url(#bl)"/>
<ellipse cx="32.9" cy="67.3" rx="8.1" ry="7.3" transform="rotate(0 32.9 67.3)" fill="#111" opacity="0.58" filter="url(#bl)"/>
<ellipse cx="31.3" cy="78.1" rx="3.2" ry="6.1" transform="rotate(0 31.3 78.1)" fill="#111" opacity="0.37" filter="url(#bl)"/>
<path d="M38.1 66.1h.9v.9h-.9zM40.5 60.6h.9v.9h-.9zM43.6 65.9h.9v.9h-.9zM44.6 61.1h.9v.9h-.9zM39.6 62.8h.9v.9h-.9zM44.5 62.1h.9v.9h-.9zM39.4 69.3h.9v.9h-.9zM41.6 64.0h.9v.9h-.9zM42.6 62.8h.9v.9h-.9zM44.5 63.6h.9v.9h-.9zM46.5 61.1h.9v.9h-.9zM39.4 69.9h.9v.9h-.9zM44.2 66.6h.9v.9h-.9zM48.4 66.0h.9v.9h-.9zM44.5 60.0h.9v.9h-.9zM39.0 67.2h.9v.9h-.9zM46.7 66.0h.9v.9h-.9zM38.8 58.4h.9v.9h-.9zM40.9 61.1h.9v.9h-.9zM44.9 61.5h.9v.9h-.9zM49.7 62.6h.9v.9h-.9zM42.5 66.8h.9v.9h-.9zM45.5 61.9h.9v.9h-.9zM47.2 69.8h.9v.9h-.9zM40.3 63.7h.9v.9h-.9zM40.8 58.9h.9v.9h-.9zM46.5 66.4h.9v.9h-.9zM47.7 65.6h.9v.9h-.9zM37.6 64.3h.9v.9h-.9zM42.2 61.1h.9v.9h-.9zM40.7 66.6h.9v.9h-.9zM43.4 70.0h.9v.9h-.9zM46.0 59.0h.9v.9h-.9zM47.4 67.9h.9v.9h-.9zM44.5 61.0h.9v.9h-.9zM50.4 60.7h.9v.9h-.9zM44.1 59.0h.9v.9h-.9zM40.2 59.6h.9v.9h-.9zM48.1 67.7h.9v.9h-.9zM43.0 60.6h.9v.9h-.9zM44.2 65.5h.9v.9h-.9zM39.3 61.1h.9v.9h-.9zM44.1 66.4h.9v.9h-.9zM44.7 65.7h.9v.9h-.9zM40.2 57.3h.9v.9h-.9zM45.5 61.8h.9v.9h-.9zM44.0 63.3h.9v.9h-.9zM46.0 62.2h.9v.9h-.9zM49.3 64.5h.9v.9h-.9zM46.2 66.2h.9v.9h-.9zM47.9 65.6h.9v.9h-.9zM38.5 62.6h.9v.9h-.9zM50.7 65.7h.9v.9h-.9zM46.3 65.7h.9v.9h-.9zM42.2 62.5h.9v.9h-.9zM42.2 67.7h.9v.9h-.9zM45.6 69.5h.9v.9h-.9zM46.1 69.8h.9v.9h-.9zM46.0 61.0h.9v.9h-.9zM50.3 65.4h.9v.9h-.9zM48.5 65.0h.9v.9h-.9zM43.3 64.9h.9v.9h-.9zM40.6 61.0h.9v.9h-.9zM41.4 62.9h.9v.9h-.9zM39.8 64.1h.9v.9h-.9zM45.4 70.2h.9v.9h-.9zM50.7 64.3h.9v.9h-.9zM47.4 63.8h.9v.9h-.9zM45.7 64.3h.9v.9h-.9zM42.6 64.6h.9v.9h-.9zM39.4 65.7h.9v.9h-.9zM43.4 61.3h.9v.9h-.9zM43.2 66.0h.9v.9h-.9zM42.1 65.8h.9v.9h-.9zM46.4 68.9h.9v.9h-.9zM40.7 64.1h.9v.9h-.9zM46.2 68.7h.9v.9h-.9zM45.3 66.6h.9v.9h-.9zM39.4 62.7h.9v.9h-.9zM50.1 63.6h.9v.9h-.9zM51.8 62.3h.9v.9h-.9zM43.5 59.8h.9v.9h-.9zM46.6 65.2h.9v.9h-.9zM51.3 64.9h.9v.9h-.9zM43.6 60.4h.9v.9h-.9zM44.1 67.1h.9v.9h-.9zM46.9 67.9h.9v.9h-.9zM47.4 64.3h.9v.9h-.9zM46.5 64.9h.9v.9h-.9zM39.9 69.3h.9v.9h-.9zM45.7 61.4h.9v.9h-.9zM45.7 65.2h.9v.9h-.9zM47.8 68.6h.9v.9h-.9zM34.0 66.0h.9v.9h-.9zM49.7 61.7h.9v.9h-.9zM38.0 65.2h.9v.9h-.9zM45.6 65.4h.9v.9h-.9zM40.6 63.1h.9v.9h-.9zM45.1 66.5h.9v.9h-.9zM51.9 65.2h.9v.9h-.9zM42.3 57.6h.9v.9h-.9zM48.1 64.0h.9v.9h-.9zM44.0 61.6h.9v.9h-.9zM46.9 59.2h.9v.9h-.9zM44.8 64.8h.9v.9h-.9zM45.4 68.2h.9v.9h-.9zM44.1 64.7h.9v.9h-.9zM47.4 59.9h.9v.9h-.9zM43.4 64.6h.9v.9h-.9zM47.7 62.1h.9v.9h-.9zM47.2 65.5h.9v.9h-.9zM39.3 60.1h.9v.9h-.9zM39.5 64.8h.9v.9h-.9zM45.1 66.5h.9v.9h-.9zM47.2 62.8h.9v.9h-.9zM48.1 66.8h.9v.9h-.9zM46.0 65.8h.9v.9h-.9zM40.0 65.4h.9v.9h-.9zM40.9 61.0h.9v.9h-.9zM43.2 64.8h.9v.9h-.9zM44.2 63.4h.9v.9h-.9zM41.0 64.9h.9v.9h-.9zM41.9 60.3h.9v.9h-.9zM44.7 68.6h.9v.9h-.9zM43.0 61.3h.9v.9h-.9zM49.2 69.4h.9v.9h-.9zM43.4 63.8h.9v.9h-.9zM45.1 72.9h.9v.9h-.9zM44.9 67.3h.9v.9h-.9zM45.9 59.1h.9v.9h-.9zM40.6 60.8h.9v.9h-.9zM45.9 64.7h.9v.9h-.9zM50.6 63.6h.9v.9h-.9zM45.5 64.6h.9v.9h-.9zM44.9 71.1h.9v.9h-.9zM45.4 68.7h.9v.9h-.9zM48.9 62.6h.9v.9h-.9zM46.8 63.3h.9v.9h-.9zM44.8 64.9h.9v.9h-.9zM44.5 63.0h.9v.9h-.9zM49.8 63.6h.9v.9h-.9zM46.8 69.3h.9v.9h-.9zM46.6 67.4h.9v.9h-.9zM49.2 67.6h.9v.9h-.9zM50.3 60.3h.9v.9h-.9zM51.2 64.5h.9v.9h-.9zM38.4 62.5h.9v.9h-.9zM39.6 64.3h.9v.9h-.9zM39.3 61.5h.9v.9h-.9zM45.4 64.9h.9v.9h-.9zM41.7 63.7h.9v.9h-.9zM44.1 64.6h.9v.9h-.9zM44.4 63.8h.9v.9h-.9zM47.4 59.7h.9v.9h-.9zM42.7 64.8h.9v.9h-.9zM43.0 62.8h.9v.9h-.9zM42.9 65.0h.9v.9h-.9zM48.7 63.9h.9v.9h-.9zM43.5 65.4h.9v.9h-.9zM43.6 58.8h.9v.9h-.9zM45.3 63.3h.9v.9h-.9zM42.4 66.2h.9v.9h-.9zM44.6 62.8h.9v.9h-.9zM36.9 59.4h.9v.9h-.9zM44.5 64.1h.9v.9h-.9zM45.9 65.1h.9v.9h-.9zM42.8 60.7h.9v.9h-.9zM40.6 64.0h.9v.9h-.9zM40.4 66.6h.9v.9h-.9zM39.8 59.2h.9v.9h-.9zM43.7 59.2h.9v.9h-.9zM50.0 61.5h.9v.9h-.9zM44.2 63.7h.9v.9h-.9zM41.6 59.3h.9v.9h-.9zM38.0 66.9h.9v.9h-.9zM47.9 70.7h.9v.9h-.9zM39.3 66.0h.9v.9h-.9zM44.4 66.9h.9v.9h-.9zM42.6 66.5h.9v.9h-.9zM47.5 66.2h.9v.9h-.9zM49.4 63.9h.9v.9h-.9zM49.8 62.4h.9v.9h-.9zM50.2 56.4h.9v.9h-.9zM44.5 62.1h.9v.9h-.9zM44.4 67.4h.9v.9h-.9zM46.9 64.7h.9v.9h-.9zM50.3 60.1h.9v.9h-.9zM41.6 68.8h.9v.9h-.9zM45.5 58.4h.9v.9h-.9zM45.6 61.0h.9v.9h-.9zM49.5 67.7h.9v.9h-.9zM42.5 68.2h.9v.9h-.9zM41.5 67.1h.9v.9h-.9zM46.4 64.0h.9v.9h-.9zM39.5 63.6h.9v.9h-.9zM36.5 62.8h.9v.9h-.9zM38.0 67.9h.9v.9h-.9zM41.1 57.3h.9v.9h-.9zM46.4 65.5h.9v.9h-.9zM42.7 70.6h.9v.9h-.9zM37.3 67.7h.9v.9h-.9zM35.6 72.3h.9v.9h-.9zM29.4 59.9h.9v.9h-.9zM32.6 58.6h.9v.9h-.9zM32.9 71.4h.9v.9h-.9zM41.6 68.7h.9v.9h-.9zM34.0 71.2h.9v.9h-.9zM40.9 65.6h.9v.9h-.9zM25.8 63.2h.9v.9h-.9zM25.6 62.7h.9v.9h-.9zM32.2 69.1h.9v.9h-.9zM33.8 67.7h.9v.9h-.9zM30.8 69.5h.9v.9h-.9zM38.0 71.3h.9v.9h-.9zM41.5 65.8h.9v.9h-.9zM31.4 76.2h.9v.9h-.9zM34.0 69.5h.9v.9h-.9zM30.9 72.4h.9v.9h-.9zM30.5 62.0h.9v.9h-.9zM32.5 65.0h.9v.9h-.9zM37.7 65.3h.9v.9h-.9zM33.6 66.2h.9v.9h-.9zM34.8 64.0h.9v.9h-.9zM39.2 59.9h.9v.9h-.9zM30.6 63.6h.9v.9h-.9zM36.6 67.5h.9v.9h-.9zM35.7 65.6h.9v.9h-.9zM28.7 61.4h.9v.9h-.9zM30.9 64.5h.9v.9h-.9zM34.5 69.2h.9v.9h-.9zM38.5 66.8h.9v.9h-.9zM28.5 61.8h.9v.9h-.9zM33.2 69.2h.9v.9h-.9zM44.1 68.3h.9v.9h-.9zM43.0 77.1h.9v.9h-.9zM26.8 73.7h.9v.9h-.9zM39.4 74.4h.9v.9h-.9zM32.8 72.3h.9v.9h-.9zM30.1 66.9h.9v.9h-.9zM33.0 76.7h.9v.9h-.9zM31.6 72.3h.9v.9h-.9zM33.2 63.6h.9v.9h-.9zM34.3 70.8h.9v.9h-.9zM28.7 70.6h.9v.9h-.9zM28.7 62.7h.9v.9h-.9zM34.1 66.1h.9v.9h-.9zM27.2 58.8h.9v.9h-.9zM33.0 68.6h.9v.9h-.9zM30.2 68.3h.9v.9h-.9zM24.0 69.4h.9v.9h-.9zM35.3 68.8h.9v.9h-.9zM29.3 67.7h.9v.9h-.9zM33.6 72.9h.9v.9h-.9zM34.5 68.6h.9v.9h-.9zM28.7 71.8h.9v.9h-.9zM39.6 64.7h.9v.9h-.9zM36.5 68.9h.9v.9h-.9zM32.6 60.6h.9v.9h-.9zM43.0 57.5h.9v.9h-.9zM34.6 65.3h.9v.9h-.9zM39.5 65.1h.9v.9h-.9zM33.1 70.5h.9v.9h-.9zM35.5 64.6h.9v.9h-.9zM36.8 69.4h.9v.9h-.9zM38.6 64.6h.9v.9h-.9zM32.6 65.3h.9v.9h-.9zM28.0 68.6h.9v.9h-.9zM35.2 74.7h.9v.9h-.9zM31.0 69.3h.9v.9h-.9zM39.4 66.7h.9v.9h-.9zM33.2 68.0h.9v.9h-.9zM28.9 62.1h.9v.9h-.9zM39.3 68.2h.9v.9h-.9zM32.4 60.8h.9v.9h-.9zM33.5 73.4h.9v.9h-.9zM26.2 62.7h.9v.9h-.9zM39.2 74.8h.9v.9h-.9zM41.8 64.4h.9v.9h-.9zM36.3 63.4h.9v.9h-.9zM35.9 65.4h.9v.9h-.9zM34.0 74.3h.9v.9h-.9zM34.8 66.1h.9v.9h-.9zM33.2 68.7h.9v.9h-.9zM29.9 68.4h.9v.9h-.9zM36.3 75.4h.9v.9h-.9zM21.0 61.1h.9v.9h-.9zM25.8 71.9h.9v.9h-.9zM46.9 68.3h.9v.9h-.9zM33.6 73.2h.9v.9h-.9zM29.9 64.8h.9v.9h-.9zM34.8 64.3h.9v.9h-.9zM39.2 67.3h.9v.9h-.9zM35.0 80.5h.9v.9h-.9zM30.3 72.1h.9v.9h-.9zM28.1 73.8h.9v.9h-.9zM38.4 68.0h.9v.9h-.9zM38.5 75.7h.9v.9h-.9zM40.8 67.3h.9v.9h-.9zM32.5 73.1h.9v.9h-.9zM24.4 64.2h.9v.9h-.9zM35.6 70.3h.9v.9h-.9zM43.5 76.5h.9v.9h-.9zM34.7 69.6h.9v.9h-.9zM25.3 66.4h.9v.9h-.9zM34.4 66.1h.9v.9h-.9zM33.2 70.5h.9v.9h-.9zM27.4 64.4h.9v.9h-.9zM22.7 73.3h.9v.9h-.9zM26.8 58.5h.9v.9h-.9zM37.3 66.2h.9v.9h-.9zM38.4 65.4h.9v.9h-.9zM45.0 71.0h.9v.9h-.9zM33.7 67.9h.9v.9h-.9zM31.7 71.5h.9v.9h-.9zM44.3 65.1h.9v.9h-.9zM26.6 70.4h.9v.9h-.9zM39.0 59.6h.9v.9h-.9zM28.9 62.2h.9v.9h-.9zM36.1 69.9h.9v.9h-.9zM28.7 61.5h.9v.9h-.9zM36.8 56.7h.9v.9h-.9zM36.5 66.5h.9v.9h-.9zM43.8 72.5h.9v.9h-.9zM29.6 65.9h.9v.9h-.9zM31.3 63.6h.9v.9h-.9zM33.3 72.3h.9v.9h-.9zM24.3 66.1h.9v.9h-.9zM41.4 71.1h.9v.9h-.9zM28.2 63.1h.9v.9h-.9zM28.0 59.0h.9v.9h-.9zM39.4 67.7h.9v.9h-.9zM28.9 59.9h.9v.9h-.9zM30.7 64.7h.9v.9h-.9zM42.7 64.9h.9v.9h-.9zM33.5 72.8h.9v.9h-.9zM36.7 66.4h.9v.9h-.9zM20.5 74.5h.9v.9h-.9zM36.3 65.1h.9v.9h-.9zM32.4 62.4h.9v.9h-.9zM27.8 59.7h.9v.9h-.9zM35.7 70.0h.9v.9h-.9zM33.9 71.3h.9v.9h-.9zM35.9 67.9h.9v.9h-.9zM27.8 70.4h.9v.9h-.9zM39.6 70.6h.9v.9h-.9zM39.9 64.9h.9v.9h-.9zM27.3 73.8h.9v.9h-.9zM29.5 68.6h.9v.9h-.9zM31.8 67.4h.9v.9h-.9zM31.3 64.5h.9v.9h-.9zM22.8 77.1h.9v.9h-.9zM34.0 57.4h.9v.9h-.9zM27.7 61.5h.9v.9h-.9zM36.1 75.7h.9v.9h-.9zM31.5 71.1h.9v.9h-.9zM36.3 60.9h.9v.9h-.9zM39.8 58.7h.9v.9h-.9zM29.6 65.5h.9v.9h-.9zM40.0 67.9h.9v.9h-.9zM32.2 63.2h.9v.9h-.9zM33.4 67.5h.9v.9h-.9zM37.0 74.5h.9v.9h-.9zM37.0 67.4h.9v.9h-.9zM32.0 75.5h.9v.9h-.9zM34.0 67.2h.9v.9h-.9zM43.0 75.4h.9v.9h-.9zM36.1 66.8h.9v.9h-.9zM29.3 72.8h.9v.9h-.9zM30.3 72.2h.9v.9h-.9zM28.4 67.8h.9v.9h-.9zM35.1 68.1h.9v.9h-.9zM34.2 69.3h.9v.9h-.9zM26.5 61.6h.9v.9h-.9zM32.0 76.6h.9v.9h-.9zM32.2 62.6h.9v.9h-.9zM29.1 67.5h.9v.9h-.9zM39.5 64.4h.9v.9h-.9zM36.0 68.3h.9v.9h-.9zM30.9 62.5h.9v.9h-.9zM32.0 63.6h.9v.9h-.9zM35.9 58.3h.9v.9h-.9zM39.2 71.2h.9v.9h-.9zM36.1 75.0h.9v.9h-.9zM36.3 58.6h.9v.9h-.9zM33.2 69.6h.9v.9h-.9zM29.0 61.5h.9v.9h-.9zM35.3 69.9h.9v.9h-.9zM30.5 66.1h.9v.9h-.9zM30.0 64.4h.9v.9h-.9zM32.5 72.8h.9v.9h-.9zM23.8 65.6h.9v.9h-.9zM42.0 68.9h.9v.9h-.9zM33.7 71.6h.9v.9h-.9zM27.2 61.1h.9v.9h-.9zM23.5 59.9h.9v.9h-.9zM34.3 71.7h.9v.9h-.9zM30.5 63.8h.9v.9h-.9zM35.1 70.4h.9v.9h-.9zM34.3 57.6h.9v.9h-.9zM34.2 63.0h.9v.9h-.9zM29.2 75.0h.9v.9h-.9zM40.3 69.8h.9v.9h-.9zM34.4 68.2h.9v.9h-.9zM29.6 67.1h.9v.9h-.9zM43.6 62.8h.9v.9h-.9zM29.1 68.1h.9v.9h-.9zM37.9 71.6h.9v.9h-.9zM27.4 66.6h.9v.9h-.9zM31.4 61.0h.9v.9h-.9zM33.3 64.9h.9v.9h-.9zM38.0 69.5h.9v.9h-.9zM28.5 67.7h.9v.9h-.9zM30.9 64.1h.9v.9h-.9zM30.1 72.7h.9v.9h-.9zM30.5 58.6h.9v.9h-.9zM28.5 71.4h.9v.9h-.9zM45.0 61.9h.9v.9h-.9zM30.9 65.6h.9v.9h-.9zM25.0 69.4h.9v.9h-.9zM32.6 68.7h.9v.9h-.9zM45.4 66.0h.9v.9h-.9zM37.3 71.6h.9v.9h-.9zM29.3 64.3h.9v.9h-.9zM41.6 71.0h.9v.9h-.9zM33.7 61.7h.9v.9h-.9zM37.8 70.0h.9v.9h-.9zM45.2 74.8h.9v.9h-.9zM37.4 68.7h.9v.9h-.9zM33.2 64.5h.9v.9h-.9zM34.6 68.6h.9v.9h-.9zM36.5 72.8h.9v.9h-.9zM34.6 64.5h.9v.9h-.9zM37.4 75.2h.9v.9h-.9zM28.2 69.5h.9v.9h-.9zM35.9 70.0h.9v.9h-.9zM35.7 66.9h.9v.9h-.9zM32.3 75.9h.9v.9h-.9zM42.6 60.2h.9v.9h-.9zM29.1 64.7h.9v.9h-.9zM23.9 69.1h.9v.9h-.9zM32.6 64.6h.9v.9h-.9zM37.9 79.7h.9v.9h-.9zM41.1 73.3h.9v.9h-.9zM30.6 70.7h.9v.9h-.9zM32.6 73.2h.9v.9h-.9zM36.1 67.1h.9v.9h-.9zM36.0 63.7h.9v.9h-.9zM37.3 75.0h.9v.9h-.9zM30.8 70.1h.9v.9h-.9zM23.5 72.1h.9v.9h-.9zM37.8 62.1h.9v.9h-.9zM42.6 67.9h.9v.9h-.9zM23.2 60.3h.9v.9h-.9zM37.8 65.9h.9v.9h-.9zM33.8 71.5h.9v.9h-.9zM31.1 82.2h.9v.9h-.9zM29.8 81.0h.9v.9h-.9zM30.5 79.5h.9v.9h-.9zM28.5 81.4h.9v.9h-.9zM34.3 73.3h.9v.9h-.9zM33.7 65.5h.9v.9h-.9zM30.8 70.8h.9v.9h-.9zM32.0 75.0h.9v.9h-.9zM30.1 74.5h.9v.9h-.9zM32.0 76.1h.9v.9h-.9zM29.3 77.1h.9v.9h-.9zM32.2 74.5h.9v.9h-.9zM33.8 71.0h.9v.9h-.9zM32.2 76.4h.9v.9h-.9zM34.9 75.4h.9v.9h-.9zM29.8 72.4h.9v.9h-.9zM35.8 80.7h.9v.9h-.9zM28.9 76.7h.9v.9h-.9zM32.3 69.4h.9v.9h-.9zM31.8 82.0h.9v.9h-.9zM31.3 80.1h.9v.9h-.9zM31.1 79.0h.9v.9h-.9zM31.8 75.1h.9v.9h-.9zM32.1 78.8h.9v.9h-.9zM31.2 75.2h.9v.9h-.9zM29.0 79.1h.9v.9h-.9zM33.2 67.8h.9v.9h-.9zM30.1 83.8h.9v.9h-.9zM33.4 75.1h.9v.9h-.9zM34.4 73.9h.9v.9h-.9zM30.3 77.2h.9v.9h-.9zM27.6 73.8h.9v.9h-.9zM28.7 77.5h.9v.9h-.9zM27.2 82.6h.9v.9h-.9zM30.5 75.5h.9v.9h-.9zM29.9 81.2h.9v.9h-.9zM34.8 76.4h.9v.9h-.9zM34.3 79.3h.9v.9h-.9zM28.0 80.9h.9v.9h-.9zM30.4 78.9h.9v.9h-.9zM27.1 76.9h.9v.9h-.9zM31.8 74.1h.9v.9h-.9zM31.8 75.2h.9v.9h-.9zM36.7 68.9h.9v.9h-.9zM29.3 79.8h.9v.9h-.9zM30.0 68.3h.9v.9h-.9zM31.9 81.6h.9v.9h-.9zM32.4 83.1h.9v.9h-.9zM27.9 78.1h.9v.9h-.9zM34.3 78.1h.9v.9h-.9zM31.7 75.4h.9v.9h-.9zM33.8 75.1h.9v.9h-.9zM31.6 69.3h.9v.9h-.9zM31.5 79.0h.9v.9h-.9zM26.4 77.9h.9v.9h-.9zM36.0 71.7h.9v.9h-.9zM26.0 77.4h.9v.9h-.9zM30.1 77.2h.9v.9h-.9zM28.5 72.3h.9v.9h-.9zM28.5 80.8h.9v.9h-.9zM31.2 81.6h.9v.9h-.9zM28.9 80.6h.9v.9h-.9zM30.3 78.5h.9v.9h-.9zM33.4 78.2h.9v.9h-.9zM30.5 71.0h.9v.9h-.9zM31.5 81.4h.9v.9h-.9zM29.9 77.8h.9v.9h-.9zM27.3 72.4h.9v.9h-.9zM32.2 83.6h.9v.9h-.9zM30.6 70.9h.9v.9h-.9zM46.4 75.5h.9v.9h-.9zM29.5 79.2h.9v.9h-.9zM54.6 56.3h.9v.9h-.9zM55.3 67.7h.9v.9h-.9zM22.3 56.8h.9v.9h-.9zM49.7 74.5h.9v.9h-.9zM24.5 68.2h.9v.9h-.9zM43.6 83.8h.9v.9h-.9zM31.9 77.1h.9v.9h-.9zM28.4 60.6h.9v.9h-.9zM25.2 66.7h.9v.9h-.9zM42.8 63.6h.9v.9h-.9z" fill="#111" opacity="0.6" filter="url(#bl04)"/>
<line x1="35.5" y1="54.8" x2="35.5" y2="83.9" stroke="#4a4a4a" stroke-width="1.0"/>
<line x1="19.0" y1="75.5" x2="57.5" y2="75.5" stroke="#4a4a4a" stroke-width="1.0"/>
</g>
<rect x="19.5" y="54.5" width="38.0" height="29.0" fill="none" stroke="#111" stroke-width="1.2" />
<path d="M17.20 83.90H19.0M19.00 83.9V85.70M17.90 81.71H19.0M21.90 83.9V85.00M17.90 80.43H19.0M23.59 83.9V85.00M17.90 79.52H19.0M24.79 83.9V85.00M17.90 78.81H19.0M25.73 83.9V85.00M17.90 78.24H19.0M26.49 83.9V85.00M17.90 77.75H19.0M27.13 83.9V85.00M17.90 77.33H19.0M27.69 83.9V85.00M17.90 76.96H19.0M28.18 83.9V85.00M17.20 76.62H19.0M28.62 83.9V85.70M17.90 74.44H19.0M31.52 83.9V85.00M17.90 73.15H19.0M33.22 83.9V85.00M17.90 72.25H19.0M34.42 83.9V85.00M17.90 71.54H19.0M35.35 83.9V85.00M17.90 70.96H19.0M36.11 83.9V85.00M17.90 70.48H19.0M36.76 83.9V85.00M17.90 70.06H19.0M37.32 83.9V85.00M17.90 69.68H19.0M37.81 83.9V85.00M17.20 69.35H19.0M38.25 83.9V85.70M17.90 67.16H19.0M41.15 83.9V85.00M17.90 65.88H19.0M42.84 83.9V85.00M17.90 64.97H19.0M44.04 83.9V85.00M17.90 64.26H19.0M44.98 83.9V85.00M17.90 63.69H19.0M45.74 83.9V85.00M17.90 63.20H19.0M46.38 83.9V85.00M17.90 62.78H19.0M46.94 83.9V85.00M17.90 62.41H19.0M47.43 83.9V85.00M17.20 62.08H19.0M47.88 83.9V85.70M17.90 59.89H19.0M50.77 83.9V85.00M17.90 58.60H19.0M52.47 83.9V85.00M17.90 57.70H19.0M53.67 83.9V85.00M17.90 56.99H19.0M54.60 83.9V85.00M17.90 56.41H19.0M55.36 83.9V85.00M17.90 55.93H19.0M56.01 83.9V85.00M17.90 55.51H19.0M56.57 83.9V85.00M17.90 55.13H19.0M57.06 83.9V85.00M17.2 54.80H19.0M57.50 83.9V85.7" stroke="#111" stroke-width="0.55" fill="none"/>
<g transform="translate(15.6,83.9) rotate(-90)">
<text x="1.6" y="0" font-size="4.1" font-weight="bold" text-anchor="middle" fill="#111" stroke="#111" stroke-width="0.15">10<tspan font-size="2.9" dy="-1.6">0</tspan></text>
<text x="8.1" y="0" font-size="4.1" font-weight="bold" text-anchor="middle" fill="#111" stroke="#111" stroke-width="0.15">10<tspan font-size="2.9" dy="-1.6">1</tspan></text>
<text x="14.6" y="0" font-size="4.1" font-weight="bold" text-anchor="middle" fill="#111" stroke="#111" stroke-width="0.15">10<tspan font-size="2.9" dy="-1.6">2</tspan></text>
<text x="21.0" y="0" font-size="4.1" font-weight="bold" text-anchor="middle" fill="#111" stroke="#111" stroke-width="0.15">10<tspan font-size="2.9" dy="-1.6">3</tspan></text>
<text x="27.5" y="0" font-size="4.1" font-weight="bold" text-anchor="middle" fill="#111" stroke="#111" stroke-width="0.15">10<tspan font-size="2.9" dy="-1.6">4</tspan></text>
</g>
<text x="17.4" y="92.5" font-size="4.0" font-weight="bold" text-anchor="middle" fill="#111" stroke="#111" stroke-width="0.15">10<tspan font-size="2.8" dy="-1.6">0</tspan></text>
<text x="26.8" y="92.5" font-size="4.0" font-weight="bold" text-anchor="middle" fill="#111" stroke="#111" stroke-width="0.15">10<tspan font-size="2.8" dy="-1.6">1</tspan></text>
<text x="36.1" y="92.5" font-size="4.0" font-weight="bold" text-anchor="middle" fill="#111" stroke="#111" stroke-width="0.15">10<tspan font-size="2.8" dy="-1.6">2</tspan></text>
<text x="45.4" y="92.5" font-size="4.0" font-weight="bold" text-anchor="middle" fill="#111" stroke="#111" stroke-width="0.15">10<tspan font-size="2.8" dy="-1.6">3</tspan></text>
<text x="54.8" y="92.5" font-size="4.0" font-weight="bold" text-anchor="middle" fill="#111" stroke="#111" stroke-width="0.15">10<tspan font-size="2.8" dy="-1.6">4</tspan></text>
<clipPath id="clip5"><rect x="63.4" y="54.8" width="38.5" height="29.10000000000001"/></clipPath>
<g clip-path="url(#clip5)">
<ellipse cx="88.8" cy="64.1" rx="4.9" ry="4.1" transform="rotate(0 88.8 64.1)" fill="#111" opacity="1.00" filter="url(#bl)"/>
<ellipse cx="75.0" cy="67.9" rx="8.1" ry="10.2" transform="rotate(0 75.0 67.9)" fill="#111" opacity="0.26" filter="url(#bl)"/>
<path d="M90.1 65.9h.9v.9h-.9zM90.8 65.1h.9v.9h-.9zM87.2 67.3h.9v.9h-.9zM90.4 67.2h.9v.9h-.9zM80.2 67.0h.9v.9h-.9zM80.5 64.7h.9v.9h-.9zM86.5 64.5h.9v.9h-.9zM87.2 63.2h.9v.9h-.9zM89.5 65.1h.9v.9h-.9zM86.1 56.9h.9v.9h-.9zM86.1 65.7h.9v.9h-.9zM85.9 65.3h.9v.9h-.9zM87.6 61.4h.9v.9h-.9zM92.8 68.9h.9v.9h-.9zM88.5 64.0h.9v.9h-.9zM92.1 60.3h.9v.9h-.9zM85.8 67.4h.9v.9h-.9zM91.9 62.7h.9v.9h-.9zM86.2 65.1h.9v.9h-.9zM84.0 62.7h.9v.9h-.9zM88.0 57.0h.9v.9h-.9zM90.8 66.3h.9v.9h-.9zM92.5 60.0h.9v.9h-.9zM84.4 61.8h.9v.9h-.9zM84.3 70.0h.9v.9h-.9zM85.5 63.2h.9v.9h-.9zM89.5 65.4h.9v.9h-.9zM93.8 61.0h.9v.9h-.9zM91.8 64.5h.9v.9h-.9zM84.8 64.5h.9v.9h-.9zM84.0 68.8h.9v.9h-.9zM86.3 67.0h.9v.9h-.9zM93.3 62.3h.9v.9h-.9zM85.7 64.5h.9v.9h-.9zM85.2 66.7h.9v.9h-.9zM89.4 61.9h.9v.9h-.9zM86.5 66.2h.9v.9h-.9zM83.8 69.0h.9v.9h-.9zM86.1 63.5h.9v.9h-.9zM85.6 68.8h.9v.9h-.9zM91.6 67.9h.9v.9h-.9zM91.1 64.4h.9v.9h-.9zM94.6 66.0h.9v.9h-.9zM90.3 65.8h.9v.9h-.9zM91.3 64.9h.9v.9h-.9zM88.2 59.5h.9v.9h-.9zM95.9 60.3h.9v.9h-.9zM81.4 62.0h.9v.9h-.9zM95.5 67.6h.9v.9h-.9zM86.7 64.9h.9v.9h-.9zM88.7 58.4h.9v.9h-.9zM87.7 65.0h.9v.9h-.9zM92.9 60.6h.9v.9h-.9zM81.0 59.5h.9v.9h-.9zM90.0 64.3h.9v.9h-.9zM89.3 64.5h.9v.9h-.9zM87.5 60.1h.9v.9h-.9zM90.4 65.2h.9v.9h-.9zM90.8 67.7h.9v.9h-.9zM84.5 57.3h.9v.9h-.9zM82.6 70.3h.9v.9h-.9zM85.6 65.3h.9v.9h-.9zM88.8 66.2h.9v.9h-.9zM99.9 62.6h.9v.9h-.9zM88.2 62.4h.9v.9h-.9zM89.7 65.6h.9v.9h-.9zM85.5 67.9h.9v.9h-.9zM92.8 65.4h.9v.9h-.9zM88.4 63.4h.9v.9h-.9zM83.1 66.0h.9v.9h-.9zM85.4 62.7h.9v.9h-.9zM92.3 61.4h.9v.9h-.9zM87.0 66.6h.9v.9h-.9zM95.2 62.1h.9v.9h-.9zM92.6 62.2h.9v.9h-.9zM90.2 65.5h.9v.9h-.9zM84.9 67.1h.9v.9h-.9zM95.0 64.3h.9v.9h-.9zM89.7 60.7h.9v.9h-.9zM95.0 64.3h.9v.9h-.9zM84.4 66.3h.9v.9h-.9zM83.7 62.1h.9v.9h-.9zM81.4 68.1h.9v.9h-.9zM96.5 62.3h.9v.9h-.9zM86.5 62.4h.9v.9h-.9zM86.9 65.7h.9v.9h-.9zM93.9 61.2h.9v.9h-.9zM90.3 58.9h.9v.9h-.9zM94.1 63.9h.9v.9h-.9zM86.4 68.6h.9v.9h-.9zM88.4 68.1h.9v.9h-.9zM92.5 68.9h.9v.9h-.9zM86.0 64.3h.9v.9h-.9zM90.1 63.5h.9v.9h-.9zM94.1 62.0h.9v.9h-.9zM92.3 68.1h.9v.9h-.9zM82.0 61.3h.9v.9h-.9zM85.7 62.5h.9v.9h-.9zM90.2 63.6h.9v.9h-.9zM89.1 62.8h.9v.9h-.9zM88.5 65.5h.9v.9h-.9zM91.4 61.8h.9v.9h-.9zM88.4 61.9h.9v.9h-.9zM88.2 59.9h.9v.9h-.9zM92.1 66.1h.9v.9h-.9zM88.4 62.1h.9v.9h-.9zM87.2 62.2h.9v.9h-.9zM83.5 68.9h.9v.9h-.9zM100.2 60.5h.9v.9h-.9zM84.8 65.8h.9v.9h-.9zM90.9 59.5h.9v.9h-.9zM82.2 65.7h.9v.9h-.9zM81.9 68.3h.9v.9h-.9zM87.1 64.4h.9v.9h-.9zM88.8 62.5h.9v.9h-.9zM88.3 63.2h.9v.9h-.9zM93.1 63.8h.9v.9h-.9zM88.7 62.6h.9v.9h-.9zM86.6 62.0h.9v.9h-.9zM88.8 69.5h.9v.9h-.9zM92.7 64.8h.9v.9h-.9zM94.6 67.1h.9v.9h-.9zM89.5 63.6h.9v.9h-.9zM85.0 64.8h.9v.9h-.9zM87.7 59.5h.9v.9h-.9zM84.4 69.7h.9v.9h-.9zM89.6 65.6h.9v.9h-.9zM89.5 62.8h.9v.9h-.9zM90.4 67.3h.9v.9h-.9zM87.7 65.6h.9v.9h-.9zM92.4 62.7h.9v.9h-.9zM89.4 62.0h.9v.9h-.9zM90.9 63.0h.9v.9h-.9zM92.8 61.9h.9v.9h-.9zM94.7 63.2h.9v.9h-.9zM85.9 61.5h.9v.9h-.9zM91.1 61.6h.9v.9h-.9zM95.1 67.8h.9v.9h-.9zM90.6 60.0h.9v.9h-.9zM88.7 62.0h.9v.9h-.9zM82.5 65.3h.9v.9h-.9zM96.4 62.6h.9v.9h-.9zM91.6 67.8h.9v.9h-.9zM85.5 63.1h.9v.9h-.9zM89.7 65.5h.9v.9h-.9zM84.8 64.7h.9v.9h-.9zM88.4 66.9h.9v.9h-.9zM83.3 62.5h.9v.9h-.9zM87.1 63.2h.9v.9h-.9zM91.3 62.3h.9v.9h-.9zM98.3 62.1h.9v.9h-.9zM91.7 67.1h.9v.9h-.9zM92.2 63.5h.9v.9h-.9zM85.9 63.4h.9v.9h-.9zM91.1 64.5h.9v.9h-.9zM90.8 65.8h.9v.9h-.9zM85.7 61.4h.9v.9h-.9zM93.8 62.7h.9v.9h-.9zM83.3 69.5h.9v.9h-.9zM85.9 61.4h.9v.9h-.9zM92.2 60.8h.9v.9h-.9zM85.8 67.2h.9v.9h-.9zM86.0 71.4h.9v.9h-.9zM89.1 71.9h.9v.9h-.9zM89.3 64.3h.9v.9h-.9zM86.6 63.5h.9v.9h-.9zM87.1 64.0h.9v.9h-.9zM91.5 60.4h.9v.9h-.9zM85.6 58.0h.9v.9h-.9zM94.0 63.9h.9v.9h-.9zM88.8 63.9h.9v.9h-.9zM92.3 65.0h.9v.9h-.9zM91.8 63.6h.9v.9h-.9zM88.4 64.0h.9v.9h-.9zM82.4 67.3h.9v.9h-.9zM83.3 61.2h.9v.9h-.9zM91.1 64.3h.9v.9h-.9zM91.6 69.1h.9v.9h-.9zM95.3 68.1h.9v.9h-.9zM88.0 70.1h.9v.9h-.9zM85.8 63.9h.9v.9h-.9zM92.3 63.5h.9v.9h-.9zM88.4 63.1h.9v.9h-.9zM93.5 56.9h.9v.9h-.9zM93.2 67.2h.9v.9h-.9zM88.6 65.7h.9v.9h-.9zM85.5 67.3h.9v.9h-.9zM99.4 61.4h.9v.9h-.9zM93.6 63.9h.9v.9h-.9zM87.6 62.7h.9v.9h-.9zM88.2 60.5h.9v.9h-.9zM84.1 68.9h.9v.9h-.9zM88.7 65.7h.9v.9h-.9zM89.9 65.5h.9v.9h-.9zM83.5 61.4h.9v.9h-.9zM91.0 67.0h.9v.9h-.9zM84.8 62.4h.9v.9h-.9zM85.1 66.0h.9v.9h-.9zM90.0 64.2h.9v.9h-.9zM86.6 65.1h.9v.9h-.9zM75.1 62.5h.9v.9h-.9zM76.9 63.1h.9v.9h-.9zM80.4 72.4h.9v.9h-.9zM71.0 72.2h.9v.9h-.9zM75.3 62.8h.9v.9h-.9zM69.7 55.8h.9v.9h-.9zM68.4 70.4h.9v.9h-.9zM81.9 63.3h.9v.9h-.9zM75.9 70.4h.9v.9h-.9zM79.5 71.1h.9v.9h-.9zM82.0 73.5h.9v.9h-.9zM70.6 70.8h.9v.9h-.9zM75.1 72.1h.9v.9h-.9zM73.2 74.0h.9v.9h-.9zM82.6 61.8h.9v.9h-.9zM71.8 69.8h.9v.9h-.9zM77.8 68.9h.9v.9h-.9zM79.7 59.3h.9v.9h-.9zM79.4 76.4h.9v.9h-.9zM81.4 71.0h.9v.9h-.9zM73.6 70.8h.9v.9h-.9zM74.5 56.4h.9v.9h-.9zM71.5 67.6h.9v.9h-.9zM72.0 61.1h.9v.9h-.9zM73.6 65.2h.9v.9h-.9zM75.3 67.5h.9v.9h-.9zM75.9 75.1h.9v.9h-.9zM75.7 70.9h.9v.9h-.9zM72.6 72.8h.9v.9h-.9zM73.0 63.4h.9v.9h-.9zM67.8 74.4h.9v.9h-.9zM71.9 69.7h.9v.9h-.9zM81.5 71.8h.9v.9h-.9zM87.9 66.9h.9v.9h-.9zM80.5 72.9h.9v.9h-.9zM71.2 68.2h.9v.9h-.9zM71.7 60.4h.9v.9h-.9zM76.7 62.3h.9v.9h-.9zM84.6 62.5h.9v.9h-.9zM71.8 68.6h.9v.9h-.9zM72.0 68.3h.9v.9h-.9zM71.4 57.6h.9v.9h-.9zM83.7 71.1h.9v.9h-.9zM75.8 64.5h.9v.9h-.9zM74.1 70.1h.9v.9h-.9zM66.9 62.1h.9v.9h-.9zM69.8 77.1h.9v.9h-.9zM68.8 76.4h.9v.9h-.9zM74.5 68.1h.9v.9h-.9zM82.8 74.3h.9v.9h-.9zM80.4 60.1h.9v.9h-.9zM81.5 80.1h.9v.9h-.9zM74.4 64.4h.9v.9h-.9zM68.6 75.3h.9v.9h-.9zM76.6 67.9h.9v.9h-.9zM67.8 79.7h.9v.9h-.9zM80.0 67.7h.9v.9h-.9zM83.5 61.0h.9v.9h-.9zM80.0 60.6h.9v.9h-.9zM83.1 65.9h.9v.9h-.9zM82.0 64.9h.9v.9h-.9zM77.3 76.2h.9v.9h-.9zM69.7 68.6h.9v.9h-.9zM70.1 74.1h.9v.9h-.9zM71.5 65.2h.9v.9h-.9zM73.8 76.4h.9v.9h-.9zM68.9 67.7h.9v.9h-.9zM73.1 63.9h.9v.9h-.9zM70.4 66.7h.9v.9h-.9zM76.1 56.6h.9v.9h-.9zM76.3 59.3h.9v.9h-.9zM69.4 67.4h.9v.9h-.9zM73.5 75.0h.9v.9h-.9zM72.2 54.9h.9v.9h-.9zM65.6 69.2h.9v.9h-.9zM76.4 75.7h.9v.9h-.9zM71.9 72.7h.9v.9h-.9zM68.8 77.3h.9v.9h-.9zM74.5 63.0h.9v.9h-.9zM76.0 80.6h.9v.9h-.9zM70.1 58.9h.9v.9h-.9zM69.1 59.5h.9v.9h-.9zM74.7 70.4h.9v.9h-.9zM74.0 69.3h.9v.9h-.9zM81.8 65.8h.9v.9h-.9zM76.3 62.9h.9v.9h-.9zM73.5 70.9h.9v.9h-.9zM77.6 56.5h.9v.9h-.9zM69.4 68.4h.9v.9h-.9zM74.1 76.2h.9v.9h-.9zM81.7 56.0h.9v.9h-.9zM69.3 70.7h.9v.9h-.9zM76.3 71.8h.9v.9h-.9zM78.1 62.7h.9v.9h-.9zM82.2 55.6h.9v.9h-.9zM71.6 70.0h.9v.9h-.9zM75.7 60.9h.9v.9h-.9zM84.1 78.6h.9v.9h-.9zM69.6 70.6h.9v.9h-.9zM71.3 64.7h.9v.9h-.9zM80.6 68.8h.9v.9h-.9zM74.3 68.6h.9v.9h-.9zM68.2 76.8h.9v.9h-.9zM70.6 77.4h.9v.9h-.9zM72.3 64.6h.9v.9h-.9zM83.5 69.3h.9v.9h-.9zM71.3 64.0h.9v.9h-.9zM78.4 81.5h.9v.9h-.9zM78.5 65.0h.9v.9h-.9zM68.5 63.0h.9v.9h-.9zM74.3 69.7h.9v.9h-.9zM71.2 77.2h.9v.9h-.9zM69.4 62.7h.9v.9h-.9zM77.8 71.4h.9v.9h-.9zM72.7 74.9h.9v.9h-.9zM66.8 79.8h.9v.9h-.9zM87.6 82.1h.9v.9h-.9zM75.6 82.2h.9v.9h-.9zM75.3 77.6h.9v.9h-.9zM73.8 69.3h.9v.9h-.9zM78.0 55.2h.9v.9h-.9zM73.7 80.4h.9v.9h-.9zM80.3 70.3h.9v.9h-.9zM76.1 78.0h.9v.9h-.9zM69.5 65.7h.9v.9h-.9zM75.8 64.6h.9v.9h-.9zM74.3 80.0h.9v.9h-.9zM80.4 72.3h.9v.9h-.9zM75.0 68.4h.9v.9h-.9zM77.0 69.7h.9v.9h-.9zM70.8 73.6h.9v.9h-.9zM70.2 67.6h.9v.9h-.9zM72.9 59.5h.9v.9h-.9zM78.4 67.4h.9v.9h-.9zM68.2 67.3h.9v.9h-.9zM67.0 78.3h.9v.9h-.9zM77.9 82.3h.9v.9h-.9zM71.7 73.0h.9v.9h-.9zM69.4 61.7h.9v.9h-.9zM74.4 70.9h.9v.9h-.9zM80.3 66.0h.9v.9h-.9zM81.3 74.9h.9v.9h-.9zM69.9 66.6h.9v.9h-.9zM69.7 80.3h.9v.9h-.9zM71.8 74.3h.9v.9h-.9zM80.2 66.1h.9v.9h-.9zM72.1 70.4h.9v.9h-.9zM70.5 58.7h.9v.9h-.9zM69.4 70.4h.9v.9h-.9zM76.1 80.7h.9v.9h-.9zM64.4 71.5h.9v.9h-.9zM68.3 76.3h.9v.9h-.9zM79.0 68.8h.9v.9h-.9zM83.4 65.2h.9v.9h-.9zM71.9 60.3h.9v.9h-.9zM71.2 68.7h.9v.9h-.9zM78.8 77.2h.9v.9h-.9zM73.4 62.6h.9v.9h-.9zM73.0 64.8h.9v.9h-.9zM72.3 65.0h.9v.9h-.9zM69.9 67.5h.9v.9h-.9zM72.0 66.7h.9v.9h-.9zM67.0 68.9h.9v.9h-.9zM78.2 72.6h.9v.9h-.9zM71.8 59.7h.9v.9h-.9zM67.5 59.4h.9v.9h-.9zM71.3 65.7h.9v.9h-.9zM64.8 72.7h.9v.9h-.9zM66.1 62.9h.9v.9h-.9zM70.8 73.9h.9v.9h-.9zM85.5 65.3h.9v.9h-.9zM73.4 65.1h.9v.9h-.9zM73.8 66.7h.9v.9h-.9zM89.1 60.0h.9v.9h-.9zM74.3 62.2h.9v.9h-.9zM77.0 64.2h.9v.9h-.9zM78.2 60.1h.9v.9h-.9zM87.0 69.4h.9v.9h-.9zM64.8 72.9h.9v.9h-.9zM72.3 59.6h.9v.9h-.9zM77.5 64.2h.9v.9h-.9zM79.2 64.0h.9v.9h-.9zM80.1 69.0h.9v.9h-.9zM77.0 69.0h.9v.9h-.9zM72.9 65.3h.9v.9h-.9zM77.5 73.0h.9v.9h-.9zM84.6 59.7h.9v.9h-.9zM81.2 67.4h.9v.9h-.9zM76.3 62.2h.9v.9h-.9zM84.4 62.0h.9v.9h-.9zM74.5 62.7h.9v.9h-.9zM86.0 76.9h.9v.9h-.9zM67.4 64.7h.9v.9h-.9zM77.0 64.8h.9v.9h-.9zM72.9 60.2h.9v.9h-.9zM76.4 60.1h.9v.9h-.9zM73.1 79.7h.9v.9h-.9zM77.1 63.1h.9v.9h-.9zM73.0 61.0h.9v.9h-.9zM75.6 72.9h.9v.9h-.9zM80.3 65.9h.9v.9h-.9zM68.2 67.4h.9v.9h-.9zM84.5 69.9h.9v.9h-.9zM72.5 71.8h.9v.9h-.9zM69.6 77.6h.9v.9h-.9zM88.7 66.6h.9v.9h-.9zM83.6 59.3h.9v.9h-.9zM98.8 68.5h.9v.9h-.9zM82.9 77.7h.9v.9h-.9zM71.0 75.8h.9v.9h-.9zM77.0 78.4h.9v.9h-.9zM67.0 62.8h.9v.9h-.9zM87.9 68.8h.9v.9h-.9zM77.9 71.6h.9v.9h-.9zM71.8 67.5h.9v.9h-.9zM63.5 78.0h.9v.9h-.9zM73.2 79.0h.9v.9h-.9z" fill="#111" opacity="0.6" filter="url(#bl04)"/>
<line x1="80.5" y1="54.8" x2="80.5" y2="83.9" stroke="#4a4a4a" stroke-width="1.0"/>
<line x1="63.4" y1="75.5" x2="101.9" y2="75.5" stroke="#4a4a4a" stroke-width="1.0"/>
</g>
<rect x="63.5" y="54.5" width="38.0" height="29.0" fill="none" stroke="#111" stroke-width="1.2" />
<path d="M61.60 83.90H63.4M63.40 83.9V85.70M62.30 81.71H63.4M66.30 83.9V85.00M62.30 80.43H63.4M67.99 83.9V85.00M62.30 79.52H63.4M69.19 83.9V85.00M62.30 78.81H63.4M70.13 83.9V85.00M62.30 78.24H63.4M70.89 83.9V85.00M62.30 77.75H63.4M71.53 83.9V85.00M62.30 77.33H63.4M72.09 83.9V85.00M62.30 76.96H63.4M72.58 83.9V85.00M61.60 76.62H63.4M73.03 83.9V85.70M62.30 74.44H63.4M75.92 83.9V85.00M62.30 73.15H63.4M77.62 83.9V85.00M62.30 72.25H63.4M78.82 83.9V85.00M62.30 71.54H63.4M79.75 83.9V85.00M62.30 70.96H63.4M80.51 83.9V85.00M62.30 70.48H63.4M81.16 83.9V85.00M62.30 70.06H63.4M81.72 83.9V85.00M62.30 69.68H63.4M82.21 83.9V85.00M61.60 69.35H63.4M82.65 83.9V85.70M62.30 67.16H63.4M85.55 83.9V85.00M62.30 65.88H63.4M87.24 83.9V85.00M62.30 64.97H63.4M88.44 83.9V85.00M62.30 64.26H63.4M89.38 83.9V85.00M62.30 63.69H63.4M90.14 83.9V85.00M62.30 63.20H63.4M90.78 83.9V85.00M62.30 62.78H63.4M91.34 83.9V85.00M62.30 62.41H63.4M91.83 83.9V85.00M61.60 62.08H63.4M92.28 83.9V85.70M62.30 59.89H63.4M95.17 83.9V85.00M62.30 58.60H63.4M96.87 83.9V85.00M62.30 57.70H63.4M98.07 83.9V85.00M62.30 56.99H63.4M99.00 83.9V85.00M62.30 56.41H63.4M99.76 83.9V85.00M62.30 55.93H63.4M100.41 83.9V85.00M62.30 55.51H63.4M100.97 83.9V85.00M62.30 55.13H63.4M101.46 83.9V85.00M61.6 54.80H63.4M101.90 83.9V85.7" stroke="#111" stroke-width="0.55" fill="none"/>
<text x="61.8" y="92.5" font-size="4.0" font-weight="bold" text-anchor="middle" fill="#111" stroke="#111" stroke-width="0.15">10<tspan font-size="2.8" dy="-1.6">0</tspan></text>
<text x="71.1" y="92.5" font-size="4.0" font-weight="bold" text-anchor="middle" fill="#111" stroke="#111" stroke-width="0.15">10<tspan font-size="2.8" dy="-1.6">1</tspan></text>
<text x="80.5" y="92.5" font-size="4.0" font-weight="bold" text-anchor="middle" fill="#111" stroke="#111" stroke-width="0.15">10<tspan font-size="2.8" dy="-1.6">2</tspan></text>
<text x="89.8" y="92.5" font-size="4.0" font-weight="bold" text-anchor="middle" fill="#111" stroke="#111" stroke-width="0.15">10<tspan font-size="2.8" dy="-1.6">3</tspan></text>
<text x="99.2" y="92.5" font-size="4.0" font-weight="bold" text-anchor="middle" fill="#111" stroke="#111" stroke-width="0.15">10<tspan font-size="2.8" dy="-1.6">4</tspan></text>
<clipPath id="clip6"><rect x="108.6" y="54.8" width="38.5" height="29.10000000000001"/></clipPath>
<g clip-path="url(#clip6)">
<ellipse cx="117.1" cy="72.3" rx="4.3" ry="14.3" transform="rotate(22 117.1 72.3)" fill="#111" opacity="0.79" filter="url(#bl)"/>
<path d="M115.1 66.7h.9v.9h-.9zM117.4 68.4h.9v.9h-.9zM120.6 64.7h.9v.9h-.9zM125.4 61.0h.9v.9h-.9zM121.1 55.7h.9v.9h-.9zM110.9 76.1h.9v.9h-.9zM119.6 71.2h.9v.9h-.9zM117.1 79.0h.9v.9h-.9zM115.6 71.3h.9v.9h-.9zM114.4 75.2h.9v.9h-.9zM114.2 82.7h.9v.9h-.9zM115.0 68.7h.9v.9h-.9zM111.8 69.6h.9v.9h-.9zM122.7 77.2h.9v.9h-.9zM116.3 74.9h.9v.9h-.9zM122.4 60.2h.9v.9h-.9zM115.8 69.9h.9v.9h-.9zM120.7 64.5h.9v.9h-.9zM119.5 65.4h.9v.9h-.9zM115.8 64.7h.9v.9h-.9zM111.7 79.1h.9v.9h-.9zM118.6 79.2h.9v.9h-.9zM118.5 66.9h.9v.9h-.9zM114.6 65.7h.9v.9h-.9zM118.6 70.3h.9v.9h-.9zM115.5 76.2h.9v.9h-.9zM115.4 76.3h.9v.9h-.9zM114.7 71.9h.9v.9h-.9zM112.0 81.9h.9v.9h-.9zM108.7 82.9h.9v.9h-.9zM118.7 67.6h.9v.9h-.9zM116.6 73.5h.9v.9h-.9zM114.8 76.0h.9v.9h-.9zM121.7 56.1h.9v.9h-.9zM119.1 72.9h.9v.9h-.9zM120.3 77.8h.9v.9h-.9zM113.1 76.6h.9v.9h-.9zM114.3 70.2h.9v.9h-.9zM110.0 76.7h.9v.9h-.9zM122.4 63.5h.9v.9h-.9zM114.8 81.5h.9v.9h-.9zM121.8 67.1h.9v.9h-.9zM119.3 61.2h.9v.9h-.9zM112.2 73.8h.9v.9h-.9zM119.0 69.7h.9v.9h-.9zM117.6 72.2h.9v.9h-.9zM118.1 61.6h.9v.9h-.9zM122.4 64.1h.9v.9h-.9zM116.3 78.8h.9v.9h-.9zM122.0 57.0h.9v.9h-.9zM119.4 59.8h.9v.9h-.9zM119.6 74.9h.9v.9h-.9zM110.7 82.9h.9v.9h-.9zM114.6 76.2h.9v.9h-.9zM118.7 65.0h.9v.9h-.9zM120.8 64.7h.9v.9h-.9zM114.1 65.4h.9v.9h-.9zM116.4 83.8h.9v.9h-.9zM120.6 76.5h.9v.9h-.9zM114.1 76.1h.9v.9h-.9zM111.6 78.0h.9v.9h-.9zM114.8 74.2h.9v.9h-.9zM115.1 70.2h.9v.9h-.9zM120.6 71.5h.9v.9h-.9zM114.1 74.2h.9v.9h-.9zM120.2 71.6h.9v.9h-.9zM119.5 56.7h.9v.9h-.9zM109.3 80.6h.9v.9h-.9zM115.0 76.6h.9v.9h-.9zM119.0 76.2h.9v.9h-.9zM120.3 68.3h.9v.9h-.9zM110.2 76.3h.9v.9h-.9zM114.6 77.5h.9v.9h-.9zM114.6 69.9h.9v.9h-.9zM125.8 66.9h.9v.9h-.9zM115.9 73.2h.9v.9h-.9zM111.0 83.6h.9v.9h-.9zM118.2 68.9h.9v.9h-.9zM119.1 70.7h.9v.9h-.9zM119.4 74.5h.9v.9h-.9zM116.2 80.8h.9v.9h-.9zM118.5 73.5h.9v.9h-.9zM115.7 76.2h.9v.9h-.9zM117.3 76.2h.9v.9h-.9zM115.8 71.1h.9v.9h-.9zM121.9 63.9h.9v.9h-.9zM114.2 79.3h.9v.9h-.9zM118.5 70.0h.9v.9h-.9zM118.7 68.0h.9v.9h-.9zM121.2 70.1h.9v.9h-.9zM116.8 59.5h.9v.9h-.9zM117.1 74.6h.9v.9h-.9zM120.5 59.9h.9v.9h-.9zM119.7 64.6h.9v.9h-.9zM115.2 71.6h.9v.9h-.9zM113.7 74.4h.9v.9h-.9zM116.7 67.3h.9v.9h-.9zM118.0 82.7h.9v.9h-.9zM114.9 71.6h.9v.9h-.9zM116.6 80.7h.9v.9h-.9zM112.7 70.1h.9v.9h-.9zM112.2 78.4h.9v.9h-.9zM120.8 68.3h.9v.9h-.9zM124.0 72.3h.9v.9h-.9zM124.5 73.6h.9v.9h-.9zM117.3 67.5h.9v.9h-.9zM121.3 73.7h.9v.9h-.9zM122.9 61.6h.9v.9h-.9zM118.4 83.3h.9v.9h-.9zM115.4 79.2h.9v.9h-.9zM117.3 67.6h.9v.9h-.9zM111.3 74.0h.9v.9h-.9zM117.3 81.5h.9v.9h-.9zM117.0 79.8h.9v.9h-.9zM119.2 59.6h.9v.9h-.9zM118.2 74.6h.9v.9h-.9zM120.8 71.0h.9v.9h-.9zM112.9 75.4h.9v.9h-.9zM121.4 57.0h.9v.9h-.9zM118.5 63.8h.9v.9h-.9zM115.9 66.2h.9v.9h-.9zM123.3 70.6h.9v.9h-.9zM120.5 73.1h.9v.9h-.9zM120.6 66.8h.9v.9h-.9zM122.9 57.2h.9v.9h-.9zM124.8 67.6h.9v.9h-.9zM120.8 67.8h.9v.9h-.9zM122.0 62.1h.9v.9h-.9zM112.6 80.2h.9v.9h-.9zM125.7 55.6h.9v.9h-.9zM124.2 61.6h.9v.9h-.9zM115.9 77.4h.9v.9h-.9zM116.4 68.8h.9v.9h-.9zM114.9 75.7h.9v.9h-.9zM113.5 79.0h.9v.9h-.9zM116.4 73.0h.9v.9h-.9zM113.0 74.9h.9v.9h-.9zM122.1 76.0h.9v.9h-.9zM116.9 72.4h.9v.9h-.9zM119.7 71.4h.9v.9h-.9zM116.2 74.3h.9v.9h-.9zM117.2 82.4h.9v.9h-.9zM116.4 65.6h.9v.9h-.9zM114.0 80.0h.9v.9h-.9zM120.5 71.7h.9v.9h-.9zM123.5 73.4h.9v.9h-.9zM120.7 76.0h.9v.9h-.9zM124.2 59.4h.9v.9h-.9zM114.2 64.9h.9v.9h-.9zM115.2 82.8h.9v.9h-.9zM113.0 81.6h.9v.9h-.9zM115.6 63.2h.9v.9h-.9zM118.1 62.0h.9v.9h-.9zM125.0 66.0h.9v.9h-.9zM116.1 67.9h.9v.9h-.9zM121.2 69.3h.9v.9h-.9zM117.1 78.2h.9v.9h-.9zM119.0 60.2h.9v.9h-.9zM124.2 67.8h.9v.9h-.9zM112.6 74.6h.9v.9h-.9zM120.6 64.1h.9v.9h-.9zM116.8 81.9h.9v.9h-.9zM120.5 65.9h.9v.9h-.9zM116.7 76.4h.9v.9h-.9zM114.3 71.6h.9v.9h-.9zM130.3 66.0h.9v.9h-.9zM110.0 75.9h.9v.9h-.9zM117.6 67.5h.9v.9h-.9zM119.2 71.9h.9v.9h-.9zM117.9 78.1h.9v.9h-.9zM119.8 74.8h.9v.9h-.9zM122.8 60.2h.9v.9h-.9zM114.0 80.4h.9v.9h-.9zM114.0 71.6h.9v.9h-.9zM118.6 62.5h.9v.9h-.9zM110.7 83.1h.9v.9h-.9zM119.0 72.9h.9v.9h-.9zM116.3 73.4h.9v.9h-.9zM117.2 74.4h.9v.9h-.9zM108.9 78.7h.9v.9h-.9zM123.4 62.3h.9v.9h-.9zM117.0 71.4h.9v.9h-.9zM113.4 76.5h.9v.9h-.9zM117.3 69.6h.9v.9h-.9zM115.4 68.8h.9v.9h-.9zM114.0 71.6h.9v.9h-.9zM117.1 82.9h.9v.9h-.9zM123.2 60.6h.9v.9h-.9zM116.5 81.9h.9v.9h-.9zM118.3 69.4h.9v.9h-.9zM124.0 63.8h.9v.9h-.9zM127.1 55.6h.9v.9h-.9zM113.1 77.0h.9v.9h-.9zM122.6 59.3h.9v.9h-.9zM111.2 81.8h.9v.9h-.9zM122.5 68.3h.9v.9h-.9zM122.8 67.2h.9v.9h-.9zM117.8 72.4h.9v.9h-.9zM112.4 73.8h.9v.9h-.9zM117.8 63.8h.9v.9h-.9zM118.2 62.6h.9v.9h-.9zM119.3 74.0h.9v.9h-.9zM118.7 70.2h.9v.9h-.9zM118.2 70.0h.9v.9h-.9zM119.5 57.4h.9v.9h-.9zM113.6 81.6h.9v.9h-.9zM114.2 68.4h.9v.9h-.9zM110.8 82.7h.9v.9h-.9zM123.7 69.6h.9v.9h-.9zM120.0 71.0h.9v.9h-.9zM114.6 70.2h.9v.9h-.9zM114.4 83.7h.9v.9h-.9zM119.0 74.0h.9v.9h-.9zM110.0 70.5h.9v.9h-.9zM111.3 78.3h.9v.9h-.9zM118.6 71.1h.9v.9h-.9zM114.3 76.8h.9v.9h-.9zM116.3 78.9h.9v.9h-.9zM120.7 59.9h.9v.9h-.9zM115.6 71.4h.9v.9h-.9zM125.7 57.4h.9v.9h-.9zM120.4 66.2h.9v.9h-.9zM122.8 74.7h.9v.9h-.9zM119.2 68.7h.9v.9h-.9zM124.1 56.3h.9v.9h-.9zM118.8 57.5h.9v.9h-.9zM119.9 72.5h.9v.9h-.9zM127.7 55.2h.9v.9h-.9zM116.2 68.3h.9v.9h-.9zM120.5 68.4h.9v.9h-.9zM121.1 58.3h.9v.9h-.9zM120.6 64.3h.9v.9h-.9zM117.2 77.5h.9v.9h-.9zM121.7 61.9h.9v.9h-.9zM119.8 67.4h.9v.9h-.9zM117.0 78.5h.9v.9h-.9zM119.9 68.9h.9v.9h-.9zM118.5 81.0h.9v.9h-.9zM117.6 81.3h.9v.9h-.9zM117.5 76.6h.9v.9h-.9zM112.2 76.8h.9v.9h-.9zM119.0 75.0h.9v.9h-.9zM122.5 55.7h.9v.9h-.9zM113.9 67.6h.9v.9h-.9zM116.3 79.7h.9v.9h-.9zM113.5 79.4h.9v.9h-.9zM119.6 65.7h.9v.9h-.9zM113.2 78.7h.9v.9h-.9zM123.8 63.2h.9v.9h-.9zM113.8 72.3h.9v.9h-.9zM127.3 64.1h.9v.9h-.9zM112.0 74.6h.9v.9h-.9zM120.7 67.3h.9v.9h-.9zM115.2 76.6h.9v.9h-.9zM112.3 70.1h.9v.9h-.9zM115.4 81.3h.9v.9h-.9zM120.6 72.9h.9v.9h-.9zM121.6 67.4h.9v.9h-.9zM116.2 82.8h.9v.9h-.9zM118.5 64.9h.9v.9h-.9zM115.0 70.6h.9v.9h-.9zM112.6 74.6h.9v.9h-.9zM126.7 63.6h.9v.9h-.9zM121.9 68.6h.9v.9h-.9zM119.1 71.7h.9v.9h-.9zM123.3 67.3h.9v.9h-.9zM122.0 66.1h.9v.9h-.9zM117.8 72.4h.9v.9h-.9zM125.9 59.2h.9v.9h-.9zM113.4 73.0h.9v.9h-.9zM118.6 68.2h.9v.9h-.9zM119.4 72.1h.9v.9h-.9zM112.2 78.3h.9v.9h-.9zM115.5 60.9h.9v.9h-.9zM122.7 69.3h.9v.9h-.9zM114.8 75.3h.9v.9h-.9zM118.3 78.3h.9v.9h-.9zM116.5 66.0h.9v.9h-.9zM120.4 72.4h.9v.9h-.9zM112.1 79.5h.9v.9h-.9zM116.6 64.7h.9v.9h-.9zM113.8 74.7h.9v.9h-.9zM111.7 81.8h.9v.9h-.9zM116.3 69.1h.9v.9h-.9zM117.9 74.7h.9v.9h-.9zM120.5 68.5h.9v.9h-.9zM121.7 62.5h.9v.9h-.9zM114.7 68.2h.9v.9h-.9zM117.7 73.6h.9v.9h-.9zM120.0 58.8h.9v.9h-.9zM121.0 65.4h.9v.9h-.9zM118.4 78.5h.9v.9h-.9zM118.2 66.2h.9v.9h-.9zM119.0 76.5h.9v.9h-.9zM120.3 77.4h.9v.9h-.9zM117.6 66.2h.9v.9h-.9zM114.2 73.8h.9v.9h-.9zM115.6 78.0h.9v.9h-.9zM122.2 63.3h.9v.9h-.9zM119.9 63.5h.9v.9h-.9zM123.2 60.9h.9v.9h-.9zM118.6 63.8h.9v.9h-.9zM116.3 69.2h.9v.9h-.9zM122.2 71.6h.9v.9h-.9zM114.2 67.9h.9v.9h-.9zM117.1 78.1h.9v.9h-.9zM119.8 74.3h.9v.9h-.9zM125.4 61.5h.9v.9h-.9zM119.8 64.2h.9v.9h-.9zM115.5 62.7h.9v.9h-.9zM120.2 72.6h.9v.9h-.9zM117.5 72.3h.9v.9h-.9zM118.2 70.8h.9v.9h-.9zM115.4 68.5h.9v.9h-.9zM120.7 64.2h.9v.9h-.9zM114.5 65.5h.9v.9h-.9zM116.2 72.1h.9v.9h-.9zM120.0 65.8h.9v.9h-.9zM117.0 72.3h.9v.9h-.9zM122.8 59.0h.9v.9h-.9zM110.6 75.9h.9v.9h-.9zM118.4 66.3h.9v.9h-.9zM129.2 72.2h.9v.9h-.9zM136.7 60.6h.9v.9h-.9zM120.6 64.8h.9v.9h-.9zM112.3 64.9h.9v.9h-.9zM136.7 71.6h.9v.9h-.9zM115.3 76.1h.9v.9h-.9zM113.1 76.7h.9v.9h-.9zM114.3 57.6h.9v.9h-.9zM118.3 69.8h.9v.9h-.9zM119.0 80.5h.9v.9h-.9zM144.7 63.0h.9v.9h-.9zM137.5 75.0h.9v.9h-.9z" fill="#111" opacity="0.6" filter="url(#bl04)"/>
<line x1="126.5" y1="54.8" x2="126.5" y2="83.9" stroke="#4a4a4a" stroke-width="1.0"/>
<line x1="108.6" y1="75.5" x2="147.1" y2="75.5" stroke="#4a4a4a" stroke-width="1.0"/>
</g>
<rect x="108.5" y="54.5" width="39.0" height="29.0" fill="none" stroke="#111" stroke-width="1.2" />
<path d="M106.80 83.90H108.6M108.60 83.9V85.70M107.50 81.71H108.6M111.50 83.9V85.00M107.50 80.43H108.6M113.19 83.9V85.00M107.50 79.52H108.6M114.39 83.9V85.00M107.50 78.81H108.6M115.33 83.9V85.00M107.50 78.24H108.6M116.09 83.9V85.00M107.50 77.75H108.6M116.73 83.9V85.00M107.50 77.33H108.6M117.29 83.9V85.00M107.50 76.96H108.6M117.78 83.9V85.00M106.80 76.62H108.6M118.22 83.9V85.70M107.50 74.44H108.6M121.12 83.9V85.00M107.50 73.15H108.6M122.82 83.9V85.00M107.50 72.25H108.6M124.02 83.9V85.00M107.50 71.54H108.6M124.95 83.9V85.00M107.50 70.96H108.6M125.71 83.9V85.00M107.50 70.48H108.6M126.36 83.9V85.00M107.50 70.06H108.6M126.92 83.9V85.00M107.50 69.68H108.6M127.41 83.9V85.00M106.80 69.35H108.6M127.85 83.9V85.70M107.50 67.16H108.6M130.75 83.9V85.00M107.50 65.88H108.6M132.44 83.9V85.00M107.50 64.97H108.6M133.64 83.9V85.00M107.50 64.26H108.6M134.58 83.9V85.00M107.50 63.69H108.6M135.34 83.9V85.00M107.50 63.20H108.6M135.98 83.9V85.00M107.50 62.78H108.6M136.54 83.9V85.00M107.50 62.41H108.6M137.03 83.9V85.00M106.80 62.08H108.6M137.47 83.9V85.70M107.50 59.89H108.6M140.37 83.9V85.00M107.50 58.60H108.6M142.07 83.9V85.00M107.50 57.70H108.6M143.27 83.9V85.00M107.50 56.99H108.6M144.20 83.9V85.00M107.50 56.41H108.6M144.96 83.9V85.00M107.50 55.93H108.6M145.61 83.9V85.00M107.50 55.51H108.6M146.17 83.9V85.00M107.50 55.13H108.6M146.66 83.9V85.00M106.8 54.80H108.6M147.10 83.9V85.7" stroke="#111" stroke-width="0.55" fill="none"/>
<text x="107.0" y="92.5" font-size="4.0" font-weight="bold" text-anchor="middle" fill="#111" stroke="#111" stroke-width="0.15">10<tspan font-size="2.8" dy="-1.6">0</tspan></text>
<text x="116.3" y="92.5" font-size="4.0" font-weight="bold" text-anchor="middle" fill="#111" stroke="#111" stroke-width="0.15">10<tspan font-size="2.8" dy="-1.6">1</tspan></text>
<text x="125.7" y="92.5" font-size="4.0" font-weight="bold" text-anchor="middle" fill="#111" stroke="#111" stroke-width="0.15">10<tspan font-size="2.8" dy="-1.6">2</tspan></text>
<text x="135.1" y="92.5" font-size="4.0" font-weight="bold" text-anchor="middle" fill="#111" stroke="#111" stroke-width="0.15">10<tspan font-size="2.8" dy="-1.6">3</tspan></text>
<text x="144.4" y="92.5" font-size="4.0" font-weight="bold" text-anchor="middle" fill="#111" stroke="#111" stroke-width="0.15">10<tspan font-size="2.8" dy="-1.6">4</tspan></text>
<clipPath id="clip7"><rect x="154.5" y="54.8" width="38.5" height="29.10000000000001"/></clipPath>
<g clip-path="url(#clip7)">
<ellipse cx="159.9" cy="81.0" rx="4.3" ry="4.1" transform="rotate(0 159.9 81.0)" fill="#111" opacity="0.84" filter="url(#bl)"/>
<ellipse cx="163.0" cy="69.3" rx="3.2" ry="8.1" transform="rotate(0 163.0 69.3)" fill="#111" opacity="0.16" filter="url(#bl)"/>
<path d="M157.7 80.2h.9v.9h-.9zM167.2 78.7h.9v.9h-.9zM162.6 81.2h.9v.9h-.9zM159.0 82.7h.9v.9h-.9zM165.7 81.8h.9v.9h-.9zM159.7 81.4h.9v.9h-.9zM161.9 79.6h.9v.9h-.9zM160.3 82.4h.9v.9h-.9zM158.8 82.1h.9v.9h-.9zM160.9 83.0h.9v.9h-.9zM156.9 79.5h.9v.9h-.9zM160.6 76.4h.9v.9h-.9zM160.9 77.4h.9v.9h-.9zM157.2 81.4h.9v.9h-.9zM158.8 80.2h.9v.9h-.9zM165.6 78.2h.9v.9h-.9zM164.6 81.9h.9v.9h-.9zM161.3 78.7h.9v.9h-.9zM155.3 81.0h.9v.9h-.9zM162.3 81.6h.9v.9h-.9zM161.2 82.1h.9v.9h-.9zM158.0 80.7h.9v.9h-.9zM160.3 79.7h.9v.9h-.9zM155.5 77.0h.9v.9h-.9zM161.4 82.4h.9v.9h-.9zM160.2 77.7h.9v.9h-.9zM162.4 79.9h.9v.9h-.9zM161.5 79.8h.9v.9h-.9zM160.7 76.2h.9v.9h-.9zM158.8 80.2h.9v.9h-.9zM161.3 80.6h.9v.9h-.9zM160.9 76.4h.9v.9h-.9zM155.5 83.6h.9v.9h-.9zM166.8 82.8h.9v.9h-.9zM163.4 81.5h.9v.9h-.9zM165.2 83.7h.9v.9h-.9zM158.5 78.2h.9v.9h-.9zM167.3 79.9h.9v.9h-.9zM161.1 80.7h.9v.9h-.9zM158.5 76.5h.9v.9h-.9zM159.5 80.7h.9v.9h-.9zM162.8 79.6h.9v.9h-.9zM155.2 78.0h.9v.9h-.9zM159.8 81.7h.9v.9h-.9zM162.1 79.9h.9v.9h-.9zM161.5 81.4h.9v.9h-.9zM164.9 80.8h.9v.9h-.9zM160.3 82.6h.9v.9h-.9zM163.5 78.4h.9v.9h-.9zM158.5 80.2h.9v.9h-.9zM163.1 81.1h.9v.9h-.9zM162.6 77.0h.9v.9h-.9zM164.5 82.2h.9v.9h-.9zM156.3 81.1h.9v.9h-.9zM162.1 83.7h.9v.9h-.9zM160.4 79.5h.9v.9h-.9zM162.2 78.9h.9v.9h-.9zM159.7 83.1h.9v.9h-.9zM155.6 82.0h.9v.9h-.9zM156.2 80.7h.9v.9h-.9zM162.0 80.8h.9v.9h-.9zM162.6 81.3h.9v.9h-.9zM159.3 82.4h.9v.9h-.9zM159.2 81.4h.9v.9h-.9zM163.0 79.4h.9v.9h-.9zM163.3 77.9h.9v.9h-.9zM159.2 76.1h.9v.9h-.9zM155.5 78.2h.9v.9h-.9zM161.3 83.3h.9v.9h-.9zM162.4 76.3h.9v.9h-.9zM161.4 80.8h.9v.9h-.9zM160.3 82.3h.9v.9h-.9zM159.1 76.2h.9v.9h-.9zM156.7 76.9h.9v.9h-.9zM156.0 80.6h.9v.9h-.9zM163.8 79.0h.9v.9h-.9zM157.6 77.8h.9v.9h-.9zM154.7 81.2h.9v.9h-.9zM158.4 80.3h.9v.9h-.9zM157.0 82.4h.9v.9h-.9zM156.3 82.5h.9v.9h-.9zM157.9 83.2h.9v.9h-.9zM157.2 82.2h.9v.9h-.9zM161.2 80.8h.9v.9h-.9zM164.8 81.5h.9v.9h-.9zM157.2 82.9h.9v.9h-.9zM157.4 79.5h.9v.9h-.9zM159.9 81.5h.9v.9h-.9zM165.0 76.1h.9v.9h-.9zM159.4 81.9h.9v.9h-.9zM164.5 77.5h.9v.9h-.9zM160.0 83.2h.9v.9h-.9zM158.1 76.1h.9v.9h-.9zM156.9 81.5h.9v.9h-.9zM163.9 76.6h.9v.9h-.9zM163.0 83.6h.9v.9h-.9zM164.8 80.6h.9v.9h-.9zM158.2 81.4h.9v.9h-.9zM164.5 82.7h.9v.9h-.9zM165.0 83.2h.9v.9h-.9zM158.1 78.1h.9v.9h-.9zM165.4 76.7h.9v.9h-.9zM158.8 80.1h.9v.9h-.9zM157.2 79.4h.9v.9h-.9zM159.7 79.5h.9v.9h-.9zM160.3 83.6h.9v.9h-.9zM157.4 79.8h.9v.9h-.9zM154.6 83.0h.9v.9h-.9zM162.5 80.2h.9v.9h-.9zM158.7 80.1h.9v.9h-.9zM156.2 83.2h.9v.9h-.9zM158.1 79.0h.9v.9h-.9zM161.4 81.3h.9v.9h-.9zM158.1 80.3h.9v.9h-.9zM162.9 78.9h.9v.9h-.9zM161.2 82.9h.9v.9h-.9zM160.9 82.6h.9v.9h-.9zM161.3 82.5h.9v.9h-.9zM158.4 83.5h.9v.9h-.9zM160.1 78.0h.9v.9h-.9zM156.8 81.4h.9v.9h-.9zM160.9 74.8h.9v.9h-.9zM155.3 80.3h.9v.9h-.9zM158.1 82.6h.9v.9h-.9zM156.2 81.9h.9v.9h-.9zM160.4 82.7h.9v.9h-.9zM159.7 80.9h.9v.9h-.9zM159.1 78.0h.9v.9h-.9zM162.1 81.9h.9v.9h-.9zM157.3 80.2h.9v.9h-.9zM159.9 83.4h.9v.9h-.9zM159.4 83.6h.9v.9h-.9zM161.3 76.0h.9v.9h-.9zM157.8 75.3h.9v.9h-.9zM159.0 79.8h.9v.9h-.9zM161.7 81.5h.9v.9h-.9zM161.7 77.5h.9v.9h-.9zM157.8 81.9h.9v.9h-.9zM165.0 80.4h.9v.9h-.9zM159.4 81.7h.9v.9h-.9zM162.2 80.7h.9v.9h-.9zM160.8 79.8h.9v.9h-.9zM158.2 78.7h.9v.9h-.9zM161.9 79.4h.9v.9h-.9zM161.5 82.1h.9v.9h-.9zM162.8 73.4h.9v.9h-.9zM157.0 77.5h.9v.9h-.9zM159.4 83.3h.9v.9h-.9zM164.0 82.1h.9v.9h-.9zM158.7 82.5h.9v.9h-.9zM159.9 82.7h.9v.9h-.9zM156.8 77.9h.9v.9h-.9zM158.0 80.9h.9v.9h-.9zM160.9 80.0h.9v.9h-.9zM160.9 82.9h.9v.9h-.9zM156.4 80.7h.9v.9h-.9zM155.2 79.4h.9v.9h-.9zM162.6 79.0h.9v.9h-.9zM165.5 82.4h.9v.9h-.9zM162.6 81.3h.9v.9h-.9zM164.9 75.5h.9v.9h-.9zM163.2 66.4h.9v.9h-.9zM161.7 80.3h.9v.9h-.9zM162.6 66.8h.9v.9h-.9zM161.4 59.8h.9v.9h-.9zM161.8 71.2h.9v.9h-.9zM161.9 65.1h.9v.9h-.9zM163.9 72.0h.9v.9h-.9zM162.0 71.1h.9v.9h-.9zM160.8 74.2h.9v.9h-.9zM160.7 67.4h.9v.9h-.9zM163.3 67.0h.9v.9h-.9zM160.4 81.2h.9v.9h-.9zM166.4 59.5h.9v.9h-.9zM163.2 62.2h.9v.9h-.9zM163.7 62.0h.9v.9h-.9zM164.3 72.4h.9v.9h-.9zM166.8 76.2h.9v.9h-.9zM161.9 74.7h.9v.9h-.9zM161.9 68.7h.9v.9h-.9zM161.8 59.4h.9v.9h-.9zM164.3 57.8h.9v.9h-.9zM162.4 72.3h.9v.9h-.9zM163.2 60.4h.9v.9h-.9zM161.5 73.2h.9v.9h-.9zM165.5 78.4h.9v.9h-.9zM158.9 72.0h.9v.9h-.9zM161.9 73.7h.9v.9h-.9zM159.2 68.5h.9v.9h-.9zM164.6 65.7h.9v.9h-.9zM162.2 63.8h.9v.9h-.9zM165.5 61.8h.9v.9h-.9zM160.9 67.5h.9v.9h-.9zM162.3 81.3h.9v.9h-.9zM163.6 64.6h.9v.9h-.9zM164.3 71.3h.9v.9h-.9zM163.6 69.0h.9v.9h-.9zM164.0 62.7h.9v.9h-.9zM160.3 66.9h.9v.9h-.9zM160.5 73.3h.9v.9h-.9zM167.4 76.4h.9v.9h-.9zM164.0 71.3h.9v.9h-.9zM161.4 62.0h.9v.9h-.9zM164.2 61.0h.9v.9h-.9zM163.7 68.5h.9v.9h-.9zM164.7 69.6h.9v.9h-.9zM163.2 66.1h.9v.9h-.9zM159.1 67.4h.9v.9h-.9zM164.5 75.3h.9v.9h-.9zM166.1 63.7h.9v.9h-.9zM160.9 73.3h.9v.9h-.9zM163.7 60.7h.9v.9h-.9zM161.7 78.3h.9v.9h-.9zM158.9 70.2h.9v.9h-.9zM159.8 78.4h.9v.9h-.9zM162.0 63.5h.9v.9h-.9zM159.1 65.3h.9v.9h-.9zM157.2 66.7h.9v.9h-.9zM167.9 69.9h.9v.9h-.9zM182.0 69.0h.9v.9h-.9zM187.2 59.1h.9v.9h-.9zM167.5 75.6h.9v.9h-.9zM186.2 65.7h.9v.9h-.9zM192.8 73.7h.9v.9h-.9zM156.2 58.4h.9v.9h-.9zM157.4 71.4h.9v.9h-.9zM166.9 62.4h.9v.9h-.9zM171.7 57.1h.9v.9h-.9zM189.5 79.2h.9v.9h-.9zM176.0 67.7h.9v.9h-.9zM166.4 72.3h.9v.9h-.9z" fill="#111" opacity="0.6" filter="url(#bl04)"/>
<line x1="171.5" y1="54.8" x2="171.5" y2="83.9" stroke="#4a4a4a" stroke-width="1.0"/>
<line x1="154.5" y1="75.5" x2="193.0" y2="75.5" stroke="#4a4a4a" stroke-width="1.0"/>
</g>
<rect x="154.5" y="54.5" width="39.0" height="29.0" fill="none" stroke="#111" stroke-width="1.2" />
<path d="M152.70 83.90H154.5M154.50 83.9V85.70M153.40 81.71H154.5M157.40 83.9V85.00M153.40 80.43H154.5M159.09 83.9V85.00M153.40 79.52H154.5M160.29 83.9V85.00M153.40 78.81H154.5M161.23 83.9V85.00M153.40 78.24H154.5M161.99 83.9V85.00M153.40 77.75H154.5M162.63 83.9V85.00M153.40 77.33H154.5M163.19 83.9V85.00M153.40 76.96H154.5M163.68 83.9V85.00M152.70 76.62H154.5M164.12 83.9V85.70M153.40 74.44H154.5M167.02 83.9V85.00M153.40 73.15H154.5M168.72 83.9V85.00M153.40 72.25H154.5M169.92 83.9V85.00M153.40 71.54H154.5M170.85 83.9V85.00M153.40 70.96H154.5M171.61 83.9V85.00M153.40 70.48H154.5M172.26 83.9V85.00M153.40 70.06H154.5M172.82 83.9V85.00M153.40 69.68H154.5M173.31 83.9V85.00M152.70 69.35H154.5M173.75 83.9V85.70M153.40 67.16H154.5M176.65 83.9V85.00M153.40 65.88H154.5M178.34 83.9V85.00M153.40 64.97H154.5M179.54 83.9V85.00M153.40 64.26H154.5M180.48 83.9V85.00M153.40 63.69H154.5M181.24 83.9V85.00M153.40 63.20H154.5M181.88 83.9V85.00M153.40 62.78H154.5M182.44 83.9V85.00M153.40 62.41H154.5M182.93 83.9V85.00M152.70 62.08H154.5M183.38 83.9V85.70M153.40 59.89H154.5M186.27 83.9V85.00M153.40 58.60H154.5M187.97 83.9V85.00M153.40 57.70H154.5M189.17 83.9V85.00M153.40 56.99H154.5M190.10 83.9V85.00M153.40 56.41H154.5M190.86 83.9V85.00M153.40 55.93H154.5M191.51 83.9V85.00M153.40 55.51H154.5M192.07 83.9V85.00M153.40 55.13H154.5M192.56 83.9V85.00M152.7 54.80H154.5M193.00 83.9V85.7" stroke="#111" stroke-width="0.55" fill="none"/>
<text x="152.9" y="92.5" font-size="4.0" font-weight="bold" text-anchor="middle" fill="#111" stroke="#111" stroke-width="0.15">10<tspan font-size="2.8" dy="-1.6">0</tspan></text>
<text x="162.2" y="92.5" font-size="4.0" font-weight="bold" text-anchor="middle" fill="#111" stroke="#111" stroke-width="0.15">10<tspan font-size="2.8" dy="-1.6">1</tspan></text>
<text x="171.6" y="92.5" font-size="4.0" font-weight="bold" text-anchor="middle" fill="#111" stroke="#111" stroke-width="0.15">10<tspan font-size="2.8" dy="-1.6">2</tspan></text>
<text x="180.9" y="92.5" font-size="4.0" font-weight="bold" text-anchor="middle" fill="#111" stroke="#111" stroke-width="0.15">10<tspan font-size="2.8" dy="-1.6">3</tspan></text>
<text x="190.3" y="92.5" font-size="4.0" font-weight="bold" text-anchor="middle" fill="#111" stroke="#111" stroke-width="0.15">10<tspan font-size="2.8" dy="-1.6">4</tspan></text>
<line x1="5.8" y1="98.4" x2="5.8" y2="80.64999999999999" stroke="#111" stroke-width="1.1"/>
<line x1="5.8" y1="61.64999999999999" x2="5.8" y2="20.7" stroke="#111" stroke-width="1.1"/>
<path d="M5.8,13.7 L3.6,21.5 L8.0,21.5 Z" fill="#111"/>
<text transform="translate(7.8,71.1) rotate(-90)" font-size="7.4" font-weight="bold" text-anchor="middle" fill="#111" stroke="#111" stroke-width="0.3" textLength="15" lengthAdjust="spacingAndGlyphs">H-2d</text>
<line x1="5.3" y1="49.0" x2="93.5" y2="49.0" stroke="#111" stroke-width="1.1"/>
<text x="104.2" y="51.7" font-size="7.6" font-weight="bold" text-anchor="middle" fill="#111" textLength="17" lengthAdjust="spacingAndGlyphs" stroke="#111" stroke-width="0.3">H-2b</text>
<line x1="114.2" y1="49.0" x2="190" y2="49.0" stroke="#111" stroke-width="1.1"/>
<path d="M197.2,49.0 L189.2,46.7 L189.2,51.3 Z" fill="#111"/>
<line x1="5.3" y1="98.4" x2="93.5" y2="98.4" stroke="#111" stroke-width="1.1"/>
<text x="104.2" y="101.10000000000001" font-size="7.6" font-weight="bold" text-anchor="middle" fill="#111" textLength="15.3" lengthAdjust="spacingAndGlyphs" stroke="#111" stroke-width="0.3">GFP</text>
<line x1="114.2" y1="98.4" x2="190" y2="98.4" stroke="#111" stroke-width="1.1"/>
<path d="M197.2,98.4 L189.2,96.10000000000001 L189.2,100.7 Z" fill="#111"/>
<text x="2.0" y="111.2" font-size="11.2" font-weight="bold" text-anchor="start" fill="#111" stroke="#111" stroke-width="0.3">B</text>
<text x="38.85" y="110.3" font-size="5.4" font-weight="bold" text-anchor="middle" fill="#111" stroke="#111" stroke-width="0.2">d13, WBC 3.4 K</text>
<text x="83.25" y="110.3" font-size="5.4" font-weight="bold" text-anchor="middle" fill="#111" stroke="#111" stroke-width="0.2">d16, WBC 5.4 K</text>
<text x="128.45" y="110.3" font-size="5.4" font-weight="bold" text-anchor="middle" fill="#111" stroke="#111" stroke-width="0.2">d19, WBC 8.0 K</text>
<text x="174.35" y="110.3" font-size="5.4" font-weight="bold" text-anchor="middle" fill="#111" stroke="#111" stroke-width="0.2">d25, WBC 19.4 K</text>
<clipPath id="clip8"><rect x="19.0" y="112.7" width="38.5" height="29.200000000000003"/></clipPath>
<g clip-path="url(#clip8)">
<ellipse cx="44.0" cy="133.1" rx="3.2" ry="5.7" transform="rotate(0 44.0 133.1)" fill="#111" opacity="0.79" filter="url(#bl)"/>
<ellipse cx="44.0" cy="122.0" rx="3.2" ry="6.1" transform="rotate(0 44.0 122.0)" fill="#111" opacity="0.26" filter="url(#bl)"/>
<ellipse cx="30.5" cy="118.5" rx="5.4" ry="3.3" transform="rotate(0 30.5 118.5)" fill="#111" opacity="0.05" filter="url(#bl)"/>
<path d="M47.6 131.3h.9v.9h-.9zM44.4 131.7h.9v.9h-.9zM45.5 135.8h.9v.9h-.9zM45.7 136.2h.9v.9h-.9zM48.4 132.5h.9v.9h-.9zM45.6 132.4h.9v.9h-.9zM44.1 134.0h.9v.9h-.9zM43.9 134.5h.9v.9h-.9zM42.1 132.5h.9v.9h-.9zM42.7 128.5h.9v.9h-.9zM42.4 131.2h.9v.9h-.9zM43.7 126.9h.9v.9h-.9zM43.4 128.6h.9v.9h-.9zM42.2 133.9h.9v.9h-.9zM46.5 134.3h.9v.9h-.9zM42.9 131.4h.9v.9h-.9zM47.1 126.7h.9v.9h-.9zM46.6 127.2h.9v.9h-.9zM42.6 133.3h.9v.9h-.9zM43.5 139.8h.9v.9h-.9zM45.1 132.9h.9v.9h-.9zM46.2 133.3h.9v.9h-.9zM42.2 137.6h.9v.9h-.9zM47.4 138.2h.9v.9h-.9zM41.4 140.7h.9v.9h-.9zM43.1 136.2h.9v.9h-.9zM40.4 129.1h.9v.9h-.9zM46.7 135.1h.9v.9h-.9zM43.3 121.5h.9v.9h-.9zM45.0 132.4h.9v.9h-.9zM38.4 130.9h.9v.9h-.9zM44.0 134.1h.9v.9h-.9zM45.7 132.1h.9v.9h-.9zM42.0 131.7h.9v.9h-.9zM39.3 128.7h.9v.9h-.9zM48.5 130.4h.9v.9h-.9zM43.8 140.7h.9v.9h-.9zM46.4 133.6h.9v.9h-.9zM45.7 132.1h.9v.9h-.9zM42.0 137.1h.9v.9h-.9zM44.3 139.5h.9v.9h-.9zM43.4 131.6h.9v.9h-.9zM44.8 132.4h.9v.9h-.9zM43.3 129.6h.9v.9h-.9zM44.6 134.4h.9v.9h-.9zM48.2 133.0h.9v.9h-.9zM40.1 135.0h.9v.9h-.9zM49.2 131.4h.9v.9h-.9zM42.2 132.5h.9v.9h-.9zM37.6 131.8h.9v.9h-.9zM43.6 127.1h.9v.9h-.9zM45.3 129.6h.9v.9h-.9zM39.8 130.3h.9v.9h-.9zM45.5 140.8h.9v.9h-.9zM46.9 133.9h.9v.9h-.9zM42.9 132.1h.9v.9h-.9zM46.2 131.1h.9v.9h-.9zM45.0 137.0h.9v.9h-.9zM42.0 130.8h.9v.9h-.9zM45.0 133.2h.9v.9h-.9zM43.7 131.0h.9v.9h-.9zM43.9 140.6h.9v.9h-.9zM47.1 126.7h.9v.9h-.9zM44.1 133.5h.9v.9h-.9zM44.1 127.6h.9v.9h-.9zM43.7 133.7h.9v.9h-.9zM42.5 134.4h.9v.9h-.9zM38.5 127.1h.9v.9h-.9zM44.3 134.7h.9v.9h-.9zM43.6 131.3h.9v.9h-.9zM44.4 137.5h.9v.9h-.9zM46.1 132.8h.9v.9h-.9zM43.0 137.4h.9v.9h-.9zM45.3 136.7h.9v.9h-.9zM43.4 129.7h.9v.9h-.9zM44.4 130.6h.9v.9h-.9zM46.6 136.6h.9v.9h-.9zM39.1 135.8h.9v.9h-.9zM47.0 137.3h.9v.9h-.9zM43.0 129.7h.9v.9h-.9zM46.2 137.2h.9v.9h-.9zM44.2 128.5h.9v.9h-.9zM40.6 134.2h.9v.9h-.9zM42.2 130.4h.9v.9h-.9zM45.0 137.3h.9v.9h-.9zM39.3 130.5h.9v.9h-.9zM47.0 133.0h.9v.9h-.9zM43.2 135.7h.9v.9h-.9zM41.4 128.2h.9v.9h-.9zM44.1 139.4h.9v.9h-.9zM46.3 133.1h.9v.9h-.9zM46.3 131.5h.9v.9h-.9zM41.4 126.4h.9v.9h-.9zM44.6 136.7h.9v.9h-.9zM44.9 133.0h.9v.9h-.9zM43.1 137.5h.9v.9h-.9zM43.9 127.4h.9v.9h-.9zM47.1 130.5h.9v.9h-.9zM44.9 133.2h.9v.9h-.9zM46.4 134.1h.9v.9h-.9zM46.8 134.0h.9v.9h-.9zM43.0 131.1h.9v.9h-.9zM45.5 129.8h.9v.9h-.9zM46.1 132.2h.9v.9h-.9zM41.9 129.6h.9v.9h-.9zM43.7 140.2h.9v.9h-.9zM45.8 133.2h.9v.9h-.9zM42.0 140.8h.9v.9h-.9zM43.4 133.1h.9v.9h-.9zM43.1 138.5h.9v.9h-.9zM44.4 131.3h.9v.9h-.9zM44.4 129.1h.9v.9h-.9zM41.6 132.5h.9v.9h-.9zM37.5 137.8h.9v.9h-.9zM48.5 128.7h.9v.9h-.9zM43.7 126.8h.9v.9h-.9zM44.4 134.0h.9v.9h-.9zM45.7 127.8h.9v.9h-.9zM42.7 130.5h.9v.9h-.9zM43.6 133.0h.9v.9h-.9zM42.9 136.3h.9v.9h-.9zM49.8 137.8h.9v.9h-.9zM47.5 128.8h.9v.9h-.9zM46.4 133.3h.9v.9h-.9zM46.9 137.4h.9v.9h-.9zM45.5 126.4h.9v.9h-.9zM44.3 131.1h.9v.9h-.9zM45.0 133.3h.9v.9h-.9zM46.4 126.7h.9v.9h-.9zM42.3 132.8h.9v.9h-.9zM44.8 131.5h.9v.9h-.9zM44.0 133.4h.9v.9h-.9zM46.4 132.7h.9v.9h-.9zM44.6 125.9h.9v.9h-.9zM38.1 127.3h.9v.9h-.9zM44.8 123.9h.9v.9h-.9zM45.0 132.8h.9v.9h-.9zM44.0 130.2h.9v.9h-.9zM43.1 136.5h.9v.9h-.9zM44.8 133.0h.9v.9h-.9zM42.9 134.0h.9v.9h-.9zM46.7 133.1h.9v.9h-.9zM43.2 128.4h.9v.9h-.9zM44.3 129.5h.9v.9h-.9zM40.8 136.6h.9v.9h-.9zM42.6 125.0h.9v.9h-.9zM42.4 140.5h.9v.9h-.9zM43.8 127.8h.9v.9h-.9zM41.5 136.0h.9v.9h-.9zM44.9 134.0h.9v.9h-.9zM43.6 135.1h.9v.9h-.9zM47.5 135.1h.9v.9h-.9zM43.7 127.5h.9v.9h-.9zM45.0 139.4h.9v.9h-.9zM45.5 128.1h.9v.9h-.9zM44.4 138.4h.9v.9h-.9zM42.6 135.1h.9v.9h-.9zM46.8 139.7h.9v.9h-.9zM40.4 126.1h.9v.9h-.9zM44.9 136.0h.9v.9h-.9zM43.2 133.1h.9v.9h-.9zM43.1 138.0h.9v.9h-.9zM39.0 134.2h.9v.9h-.9zM41.1 130.4h.9v.9h-.9zM40.5 129.5h.9v.9h-.9zM44.0 133.2h.9v.9h-.9zM48.1 132.3h.9v.9h-.9zM44.8 134.6h.9v.9h-.9zM44.6 139.0h.9v.9h-.9zM44.3 133.7h.9v.9h-.9zM43.8 133.2h.9v.9h-.9zM43.9 137.1h.9v.9h-.9zM44.1 133.4h.9v.9h-.9zM43.9 136.2h.9v.9h-.9zM43.0 136.9h.9v.9h-.9zM42.7 135.9h.9v.9h-.9zM48.4 134.1h.9v.9h-.9zM43.8 128.4h.9v.9h-.9zM45.7 133.2h.9v.9h-.9zM46.1 130.5h.9v.9h-.9zM45.2 140.4h.9v.9h-.9zM44.9 131.8h.9v.9h-.9zM41.1 133.1h.9v.9h-.9zM45.5 135.6h.9v.9h-.9zM41.5 129.0h.9v.9h-.9zM41.8 129.0h.9v.9h-.9zM43.4 134.2h.9v.9h-.9zM48.4 133.9h.9v.9h-.9zM47.3 126.5h.9v.9h-.9zM47.5 136.4h.9v.9h-.9zM45.0 136.5h.9v.9h-.9zM45.4 140.9h.9v.9h-.9zM45.9 126.1h.9v.9h-.9zM40.0 139.6h.9v.9h-.9zM43.8 138.5h.9v.9h-.9zM43.2 130.5h.9v.9h-.9zM43.2 123.4h.9v.9h-.9zM44.5 119.4h.9v.9h-.9zM45.2 124.7h.9v.9h-.9zM41.9 117.2h.9v.9h-.9zM39.6 120.7h.9v.9h-.9zM44.0 119.0h.9v.9h-.9zM42.7 121.5h.9v.9h-.9zM44.1 124.5h.9v.9h-.9zM45.9 123.9h.9v.9h-.9zM46.6 117.9h.9v.9h-.9zM45.4 123.7h.9v.9h-.9zM41.6 119.1h.9v.9h-.9zM45.0 122.4h.9v.9h-.9zM41.2 119.7h.9v.9h-.9zM47.5 125.7h.9v.9h-.9zM44.2 127.9h.9v.9h-.9zM42.0 121.3h.9v.9h-.9zM46.2 120.6h.9v.9h-.9zM41.5 124.6h.9v.9h-.9zM44.4 116.6h.9v.9h-.9zM43.3 115.9h.9v.9h-.9zM50.0 119.1h.9v.9h-.9zM44.1 119.0h.9v.9h-.9zM41.8 120.1h.9v.9h-.9zM44.5 129.6h.9v.9h-.9zM44.7 128.8h.9v.9h-.9zM41.6 122.4h.9v.9h-.9zM43.0 115.3h.9v.9h-.9zM52.5 121.0h.9v.9h-.9zM44.6 118.8h.9v.9h-.9zM42.7 117.6h.9v.9h-.9zM46.4 120.3h.9v.9h-.9zM43.7 122.8h.9v.9h-.9zM41.2 123.1h.9v.9h-.9zM43.6 124.0h.9v.9h-.9zM43.1 122.2h.9v.9h-.9zM45.2 126.2h.9v.9h-.9zM42.5 126.3h.9v.9h-.9zM41.8 121.2h.9v.9h-.9zM44.3 122.7h.9v.9h-.9zM38.3 117.8h.9v.9h-.9zM43.6 126.0h.9v.9h-.9zM42.4 128.6h.9v.9h-.9zM39.9 122.4h.9v.9h-.9zM45.3 122.1h.9v.9h-.9zM44.6 126.1h.9v.9h-.9zM42.2 124.6h.9v.9h-.9zM46.5 121.0h.9v.9h-.9zM38.7 116.9h.9v.9h-.9zM42.1 117.5h.9v.9h-.9zM45.0 118.6h.9v.9h-.9zM49.7 124.5h.9v.9h-.9zM41.0 120.8h.9v.9h-.9zM47.5 125.0h.9v.9h-.9zM41.7 126.5h.9v.9h-.9zM42.9 131.6h.9v.9h-.9zM42.8 124.6h.9v.9h-.9zM45.3 120.1h.9v.9h-.9zM43.7 127.1h.9v.9h-.9zM45.2 121.8h.9v.9h-.9zM45.0 129.6h.9v.9h-.9zM46.2 124.1h.9v.9h-.9zM44.8 115.3h.9v.9h-.9zM44.3 119.9h.9v.9h-.9zM45.7 119.4h.9v.9h-.9zM45.0 117.5h.9v.9h-.9zM46.1 118.9h.9v.9h-.9zM44.0 124.5h.9v.9h-.9zM43.3 122.1h.9v.9h-.9zM46.4 129.7h.9v.9h-.9zM39.9 118.1h.9v.9h-.9zM45.6 126.1h.9v.9h-.9zM42.9 122.5h.9v.9h-.9zM43.6 131.9h.9v.9h-.9zM43.6 116.9h.9v.9h-.9zM40.5 116.5h.9v.9h-.9zM47.0 120.4h.9v.9h-.9zM48.5 124.8h.9v.9h-.9zM44.9 124.8h.9v.9h-.9zM33.6 120.7h.9v.9h-.9zM26.8 117.3h.9v.9h-.9zM28.5 118.8h.9v.9h-.9zM29.6 115.7h.9v.9h-.9zM27.9 122.7h.9v.9h-.9zM38.6 116.6h.9v.9h-.9zM32.0 118.5h.9v.9h-.9zM27.3 120.2h.9v.9h-.9zM30.3 122.4h.9v.9h-.9zM32.3 117.8h.9v.9h-.9zM20.5 118.3h.9v.9h-.9zM33.8 116.9h.9v.9h-.9zM33.9 120.1h.9v.9h-.9zM23.8 118.1h.9v.9h-.9zM31.8 120.3h.9v.9h-.9zM56.9 113.0h.9v.9h-.9zM42.5 115.5h.9v.9h-.9zM47.9 125.1h.9v.9h-.9zM54.6 119.2h.9v.9h-.9zM52.8 119.3h.9v.9h-.9zM20.8 115.2h.9v.9h-.9zM21.9 124.0h.9v.9h-.9zM56.4 123.1h.9v.9h-.9zM46.6 113.7h.9v.9h-.9zM38.9 128.4h.9v.9h-.9zM22.8 129.6h.9v.9h-.9zM36.2 122.3h.9v.9h-.9z" fill="#111" opacity="0.6" filter="url(#bl04)"/>
<line x1="37.5" y1="112.7" x2="37.5" y2="141.9" stroke="#4a4a4a" stroke-width="1.0"/>
<line x1="19.0" y1="127.5" x2="57.5" y2="127.5" stroke="#4a4a4a" stroke-width="1.0"/>
</g>
<rect x="19.5" y="112.5" width="38.0" height="29.0" fill="none" stroke="#111" stroke-width="1.2" />
<path d="M17.20 141.90H19.0M19.00 141.9V143.70M17.90 139.70H19.0M21.90 141.9V143.00M17.90 138.42H19.0M23.59 141.9V143.00M17.90 137.50H19.0M24.79 141.9V143.00M17.90 136.80H19.0M25.73 141.9V143.00M17.90 136.22H19.0M26.49 141.9V143.00M17.90 135.73H19.0M27.13 141.9V143.00M17.90 135.31H19.0M27.69 141.9V143.00M17.90 134.93H19.0M28.18 141.9V143.00M17.20 134.60H19.0M28.62 141.9V143.70M17.90 132.40H19.0M31.52 141.9V143.00M17.90 131.12H19.0M33.22 141.9V143.00M17.90 130.20H19.0M34.42 141.9V143.00M17.90 129.50H19.0M35.35 141.9V143.00M17.90 128.92H19.0M36.11 141.9V143.00M17.90 128.43H19.0M36.76 141.9V143.00M17.90 128.01H19.0M37.32 141.9V143.00M17.90 127.63H19.0M37.81 141.9V143.00M17.20 127.30H19.0M38.25 141.9V143.70M17.90 125.10H19.0M41.15 141.9V143.00M17.90 123.82H19.0M42.84 141.9V143.00M17.90 122.90H19.0M44.04 141.9V143.00M17.90 122.20H19.0M44.98 141.9V143.00M17.90 121.62H19.0M45.74 141.9V143.00M17.90 121.13H19.0M46.38 141.9V143.00M17.90 120.71H19.0M46.94 141.9V143.00M17.90 120.33H19.0M47.43 141.9V143.00M17.20 120.00H19.0M47.88 141.9V143.70M17.90 117.80H19.0M50.77 141.9V143.00M17.90 116.52H19.0M52.47 141.9V143.00M17.90 115.60H19.0M53.67 141.9V143.00M17.90 114.90H19.0M54.60 141.9V143.00M17.90 114.32H19.0M55.36 141.9V143.00M17.90 113.83H19.0M56.01 141.9V143.00M17.90 113.41H19.0M56.57 141.9V143.00M17.90 113.03H19.0M57.06 141.9V143.00M17.2 112.70H19.0M57.50 141.9V143.70000000000002" stroke="#111" stroke-width="0.55" fill="none"/>
<g transform="translate(15.6,141.9) rotate(-90)">
<text x="1.6" y="0" font-size="4.1" font-weight="bold" text-anchor="middle" fill="#111" stroke="#111" stroke-width="0.15">10<tspan font-size="2.9" dy="-1.6">0</tspan></text>
<text x="8.1" y="0" font-size="4.1" font-weight="bold" text-anchor="middle" fill="#111" stroke="#111" stroke-width="0.15">10<tspan font-size="2.9" dy="-1.6">1</tspan></text>
<text x="14.6" y="0" font-size="4.1" font-weight="bold" text-anchor="middle" fill="#111" stroke="#111" stroke-width="0.15">10<tspan font-size="2.9" dy="-1.6">2</tspan></text>
<text x="21.1" y="0" font-size="4.1" font-weight="bold" text-anchor="middle" fill="#111" stroke="#111" stroke-width="0.15">10<tspan font-size="2.9" dy="-1.6">3</tspan></text>
<text x="27.6" y="0" font-size="4.1" font-weight="bold" text-anchor="middle" fill="#111" stroke="#111" stroke-width="0.15">10<tspan font-size="2.9" dy="-1.6">4</tspan></text>
</g>
<clipPath id="clip9"><rect x="63.4" y="112.7" width="38.5" height="29.200000000000003"/></clipPath>
<g clip-path="url(#clip9)">
<ellipse cx="86.9" cy="120.0" rx="4.3" ry="5.7" transform="rotate(0 86.9 120.0)" fill="#111" opacity="0.63" filter="url(#bl)"/>
<ellipse cx="86.9" cy="130.2" rx="3.8" ry="10.2" transform="rotate(0 86.9 130.2)" fill="#111" opacity="0.37" filter="url(#bl)"/>
<ellipse cx="71.1" cy="118.5" rx="5.4" ry="4.9" transform="rotate(0 71.1 118.5)" fill="#111" opacity="0.05" filter="url(#bl)"/>
<path d="M89.2 114.5h.9v.9h-.9zM87.9 121.3h.9v.9h-.9zM89.2 121.0h.9v.9h-.9zM92.9 118.4h.9v.9h-.9zM90.8 125.1h.9v.9h-.9zM87.2 115.4h.9v.9h-.9zM91.0 119.9h.9v.9h-.9zM88.5 121.9h.9v.9h-.9zM89.8 124.1h.9v.9h-.9zM82.6 114.3h.9v.9h-.9zM87.3 120.0h.9v.9h-.9zM89.3 119.5h.9v.9h-.9zM86.3 128.2h.9v.9h-.9zM91.1 124.7h.9v.9h-.9zM90.0 116.8h.9v.9h-.9zM86.6 119.7h.9v.9h-.9zM83.6 116.5h.9v.9h-.9zM87.4 115.1h.9v.9h-.9zM88.5 121.9h.9v.9h-.9zM86.2 118.6h.9v.9h-.9zM88.7 121.9h.9v.9h-.9zM88.0 115.1h.9v.9h-.9zM81.9 128.2h.9v.9h-.9zM84.9 118.5h.9v.9h-.9zM81.3 116.8h.9v.9h-.9zM84.7 123.2h.9v.9h-.9zM78.8 114.4h.9v.9h-.9zM85.6 118.0h.9v.9h-.9zM84.5 118.2h.9v.9h-.9zM82.1 121.1h.9v.9h-.9zM90.5 120.6h.9v.9h-.9zM85.3 125.1h.9v.9h-.9zM88.4 115.9h.9v.9h-.9zM85.1 117.5h.9v.9h-.9zM86.7 124.9h.9v.9h-.9zM84.7 119.4h.9v.9h-.9zM87.2 115.2h.9v.9h-.9zM85.4 122.5h.9v.9h-.9zM89.0 118.8h.9v.9h-.9zM90.8 122.5h.9v.9h-.9zM92.9 121.2h.9v.9h-.9zM85.7 116.7h.9v.9h-.9zM82.5 122.2h.9v.9h-.9zM88.5 123.3h.9v.9h-.9zM88.0 114.0h.9v.9h-.9zM85.6 119.0h.9v.9h-.9zM87.4 123.1h.9v.9h-.9zM91.2 121.1h.9v.9h-.9zM80.6 115.9h.9v.9h-.9zM80.4 116.9h.9v.9h-.9zM83.2 121.0h.9v.9h-.9zM86.2 124.5h.9v.9h-.9zM90.2 118.2h.9v.9h-.9zM89.8 120.1h.9v.9h-.9zM88.3 125.4h.9v.9h-.9zM83.4 119.7h.9v.9h-.9zM91.6 116.9h.9v.9h-.9zM87.5 120.5h.9v.9h-.9zM85.6 114.8h.9v.9h-.9zM84.8 116.1h.9v.9h-.9zM90.2 121.0h.9v.9h-.9zM89.0 115.2h.9v.9h-.9zM88.4 120.6h.9v.9h-.9zM90.1 117.1h.9v.9h-.9zM89.4 125.5h.9v.9h-.9zM92.4 116.3h.9v.9h-.9zM83.5 114.1h.9v.9h-.9zM89.8 122.4h.9v.9h-.9zM87.9 116.5h.9v.9h-.9zM90.7 126.4h.9v.9h-.9zM86.8 119.5h.9v.9h-.9zM90.5 122.0h.9v.9h-.9zM91.0 118.4h.9v.9h-.9zM87.9 118.6h.9v.9h-.9zM85.2 118.8h.9v.9h-.9zM86.0 122.0h.9v.9h-.9zM86.0 120.3h.9v.9h-.9zM84.4 115.1h.9v.9h-.9zM91.2 116.1h.9v.9h-.9zM92.4 123.8h.9v.9h-.9zM79.9 117.4h.9v.9h-.9zM85.6 120.1h.9v.9h-.9zM86.3 117.6h.9v.9h-.9zM90.7 119.5h.9v.9h-.9zM89.8 117.3h.9v.9h-.9zM84.8 125.3h.9v.9h-.9zM86.0 115.6h.9v.9h-.9zM86.4 124.2h.9v.9h-.9zM86.4 117.1h.9v.9h-.9zM88.8 123.9h.9v.9h-.9zM86.3 118.7h.9v.9h-.9zM85.8 130.8h.9v.9h-.9zM86.3 127.0h.9v.9h-.9zM86.4 121.6h.9v.9h-.9zM80.7 120.7h.9v.9h-.9zM87.0 118.7h.9v.9h-.9zM85.6 114.5h.9v.9h-.9zM82.4 120.7h.9v.9h-.9zM84.9 119.6h.9v.9h-.9zM86.3 118.0h.9v.9h-.9zM84.7 127.4h.9v.9h-.9zM83.5 118.0h.9v.9h-.9zM86.0 115.4h.9v.9h-.9zM84.0 123.5h.9v.9h-.9zM89.7 120.5h.9v.9h-.9zM96.8 123.3h.9v.9h-.9zM90.6 116.7h.9v.9h-.9zM90.2 126.7h.9v.9h-.9zM85.7 127.2h.9v.9h-.9zM84.4 115.5h.9v.9h-.9zM86.8 116.8h.9v.9h-.9zM88.8 115.6h.9v.9h-.9zM86.8 124.2h.9v.9h-.9zM86.1 121.3h.9v.9h-.9zM90.2 115.6h.9v.9h-.9zM83.0 120.3h.9v.9h-.9zM87.7 118.9h.9v.9h-.9zM83.9 124.8h.9v.9h-.9zM83.4 119.0h.9v.9h-.9zM86.8 122.9h.9v.9h-.9zM85.5 116.7h.9v.9h-.9zM93.0 116.6h.9v.9h-.9zM89.3 119.4h.9v.9h-.9zM85.4 119.8h.9v.9h-.9zM86.1 121.2h.9v.9h-.9zM79.2 119.9h.9v.9h-.9zM87.1 116.1h.9v.9h-.9zM85.7 129.3h.9v.9h-.9zM92.5 122.6h.9v.9h-.9zM87.6 118.8h.9v.9h-.9zM91.1 118.2h.9v.9h-.9zM84.4 122.8h.9v.9h-.9zM84.0 116.8h.9v.9h-.9zM91.3 113.6h.9v.9h-.9zM86.7 120.5h.9v.9h-.9zM87.7 114.2h.9v.9h-.9zM86.2 118.7h.9v.9h-.9zM92.7 124.0h.9v.9h-.9zM84.6 123.5h.9v.9h-.9zM88.9 119.6h.9v.9h-.9zM86.2 118.9h.9v.9h-.9zM82.2 117.5h.9v.9h-.9zM89.7 125.8h.9v.9h-.9zM92.5 118.5h.9v.9h-.9zM86.1 115.0h.9v.9h-.9zM89.4 113.4h.9v.9h-.9zM83.7 115.6h.9v.9h-.9zM88.1 123.3h.9v.9h-.9zM84.1 127.2h.9v.9h-.9zM87.4 116.7h.9v.9h-.9zM88.0 119.9h.9v.9h-.9zM89.4 121.4h.9v.9h-.9zM93.6 124.7h.9v.9h-.9zM85.0 123.1h.9v.9h-.9zM89.2 116.0h.9v.9h-.9zM84.6 116.8h.9v.9h-.9zM79.4 122.5h.9v.9h-.9zM86.2 124.9h.9v.9h-.9zM85.2 120.3h.9v.9h-.9zM89.1 123.9h.9v.9h-.9zM87.9 115.9h.9v.9h-.9zM93.6 123.5h.9v.9h-.9zM91.0 126.5h.9v.9h-.9zM91.2 121.7h.9v.9h-.9zM88.3 122.5h.9v.9h-.9zM82.3 123.2h.9v.9h-.9zM83.9 121.7h.9v.9h-.9zM83.8 122.9h.9v.9h-.9zM85.4 129.9h.9v.9h-.9zM87.5 122.0h.9v.9h-.9zM84.2 118.9h.9v.9h-.9zM86.7 118.9h.9v.9h-.9zM85.6 116.5h.9v.9h-.9zM89.2 118.5h.9v.9h-.9zM84.4 121.5h.9v.9h-.9zM84.4 119.3h.9v.9h-.9zM85.4 116.3h.9v.9h-.9zM86.2 116.7h.9v.9h-.9zM83.1 121.4h.9v.9h-.9zM86.0 114.2h.9v.9h-.9zM85.7 120.7h.9v.9h-.9zM88.2 121.5h.9v.9h-.9zM87.7 122.4h.9v.9h-.9zM85.4 116.8h.9v.9h-.9zM88.8 118.4h.9v.9h-.9zM86.9 122.6h.9v.9h-.9zM89.8 124.9h.9v.9h-.9zM84.8 118.5h.9v.9h-.9zM88.6 114.3h.9v.9h-.9zM83.1 122.4h.9v.9h-.9zM85.0 116.3h.9v.9h-.9zM89.3 122.1h.9v.9h-.9zM89.7 118.7h.9v.9h-.9zM86.0 118.7h.9v.9h-.9zM84.8 122.8h.9v.9h-.9zM84.8 129.8h.9v.9h-.9zM87.2 133.9h.9v.9h-.9zM85.6 122.2h.9v.9h-.9zM93.5 125.1h.9v.9h-.9zM91.4 117.7h.9v.9h-.9zM87.2 128.8h.9v.9h-.9zM89.5 123.0h.9v.9h-.9zM84.8 124.9h.9v.9h-.9zM85.5 132.1h.9v.9h-.9zM84.8 128.5h.9v.9h-.9zM90.8 140.4h.9v.9h-.9zM82.0 123.5h.9v.9h-.9zM85.9 139.4h.9v.9h-.9zM87.9 140.4h.9v.9h-.9zM84.6 128.0h.9v.9h-.9zM89.6 134.3h.9v.9h-.9zM82.0 128.3h.9v.9h-.9zM87.4 134.7h.9v.9h-.9zM87.3 140.5h.9v.9h-.9zM88.0 130.8h.9v.9h-.9zM86.1 122.0h.9v.9h-.9zM89.2 135.6h.9v.9h-.9zM89.4 127.6h.9v.9h-.9zM84.2 127.5h.9v.9h-.9zM86.1 130.1h.9v.9h-.9zM89.5 123.8h.9v.9h-.9zM85.6 135.1h.9v.9h-.9zM88.3 124.2h.9v.9h-.9zM84.2 124.6h.9v.9h-.9zM87.1 132.0h.9v.9h-.9zM86.7 125.9h.9v.9h-.9zM86.4 129.7h.9v.9h-.9zM88.5 130.8h.9v.9h-.9zM84.8 122.0h.9v.9h-.9zM90.8 129.6h.9v.9h-.9zM86.5 130.1h.9v.9h-.9zM89.9 128.0h.9v.9h-.9zM87.4 128.6h.9v.9h-.9zM88.4 123.1h.9v.9h-.9zM87.5 137.5h.9v.9h-.9zM90.1 134.6h.9v.9h-.9zM87.7 141.4h.9v.9h-.9zM88.8 140.1h.9v.9h-.9zM83.7 122.5h.9v.9h-.9zM89.0 128.3h.9v.9h-.9zM85.8 123.5h.9v.9h-.9zM90.8 121.8h.9v.9h-.9zM87.2 120.4h.9v.9h-.9zM93.4 126.7h.9v.9h-.9zM84.3 141.8h.9v.9h-.9zM84.7 117.6h.9v.9h-.9zM87.8 122.6h.9v.9h-.9zM83.1 138.2h.9v.9h-.9zM85.0 122.7h.9v.9h-.9zM87.4 128.9h.9v.9h-.9zM89.9 130.9h.9v.9h-.9zM91.1 138.3h.9v.9h-.9zM91.6 138.2h.9v.9h-.9zM87.1 134.1h.9v.9h-.9zM87.0 119.2h.9v.9h-.9zM83.8 135.5h.9v.9h-.9zM80.7 124.4h.9v.9h-.9zM83.5 129.8h.9v.9h-.9zM84.2 132.0h.9v.9h-.9zM86.4 126.9h.9v.9h-.9zM84.7 114.5h.9v.9h-.9zM87.1 121.1h.9v.9h-.9zM86.1 132.9h.9v.9h-.9zM89.7 135.2h.9v.9h-.9zM90.8 120.2h.9v.9h-.9zM88.7 141.3h.9v.9h-.9zM88.0 122.4h.9v.9h-.9zM88.0 126.6h.9v.9h-.9zM85.2 137.8h.9v.9h-.9zM86.5 122.3h.9v.9h-.9zM84.7 135.0h.9v.9h-.9zM87.4 138.5h.9v.9h-.9zM86.2 123.6h.9v.9h-.9zM85.2 123.0h.9v.9h-.9zM93.8 131.6h.9v.9h-.9zM86.1 139.1h.9v.9h-.9zM88.7 129.0h.9v.9h-.9zM88.6 132.2h.9v.9h-.9zM86.1 130.0h.9v.9h-.9zM86.4 138.9h.9v.9h-.9zM87.9 135.8h.9v.9h-.9zM89.3 125.8h.9v.9h-.9zM87.3 140.0h.9v.9h-.9zM89.4 136.0h.9v.9h-.9zM86.2 127.7h.9v.9h-.9zM84.7 128.3h.9v.9h-.9zM86.8 120.1h.9v.9h-.9zM90.0 124.8h.9v.9h-.9zM87.6 134.5h.9v.9h-.9zM85.5 117.5h.9v.9h-.9zM89.5 133.1h.9v.9h-.9zM86.3 138.2h.9v.9h-.9zM89.3 123.5h.9v.9h-.9zM86.7 117.8h.9v.9h-.9zM86.2 140.2h.9v.9h-.9zM84.7 136.1h.9v.9h-.9zM83.0 128.2h.9v.9h-.9zM88.1 135.6h.9v.9h-.9zM91.5 113.0h.9v.9h-.9zM93.4 134.5h.9v.9h-.9zM87.1 132.1h.9v.9h-.9zM87.0 125.9h.9v.9h-.9zM86.9 129.4h.9v.9h-.9zM88.7 135.0h.9v.9h-.9zM89.5 134.4h.9v.9h-.9zM84.4 140.1h.9v.9h-.9zM79.9 131.1h.9v.9h-.9zM87.8 126.5h.9v.9h-.9zM91.9 122.5h.9v.9h-.9zM83.9 126.7h.9v.9h-.9zM88.0 135.8h.9v.9h-.9zM87.2 135.0h.9v.9h-.9zM85.1 126.0h.9v.9h-.9zM87.3 120.8h.9v.9h-.9zM87.4 127.5h.9v.9h-.9zM88.7 123.1h.9v.9h-.9zM85.5 126.2h.9v.9h-.9zM86.0 123.2h.9v.9h-.9zM86.2 120.7h.9v.9h-.9zM88.3 135.0h.9v.9h-.9zM86.9 128.9h.9v.9h-.9zM84.6 123.5h.9v.9h-.9zM86.4 123.9h.9v.9h-.9zM83.8 131.4h.9v.9h-.9zM86.9 127.4h.9v.9h-.9zM84.8 129.9h.9v.9h-.9zM85.1 127.2h.9v.9h-.9zM87.4 135.3h.9v.9h-.9zM88.9 126.0h.9v.9h-.9zM90.1 122.1h.9v.9h-.9zM86.5 139.4h.9v.9h-.9zM93.1 131.1h.9v.9h-.9zM86.0 127.6h.9v.9h-.9zM83.8 129.2h.9v.9h-.9zM85.8 124.9h.9v.9h-.9zM90.1 124.7h.9v.9h-.9zM91.4 136.2h.9v.9h-.9zM88.6 126.1h.9v.9h-.9zM85.6 116.2h.9v.9h-.9zM87.6 128.3h.9v.9h-.9zM87.9 125.5h.9v.9h-.9zM88.2 119.7h.9v.9h-.9zM81.2 133.6h.9v.9h-.9zM90.3 127.8h.9v.9h-.9zM86.5 119.4h.9v.9h-.9zM84.3 135.3h.9v.9h-.9zM85.0 130.0h.9v.9h-.9zM89.3 120.9h.9v.9h-.9zM85.7 122.1h.9v.9h-.9zM83.3 125.4h.9v.9h-.9zM89.8 130.6h.9v.9h-.9zM88.7 129.3h.9v.9h-.9zM85.8 130.8h.9v.9h-.9zM91.6 132.9h.9v.9h-.9zM88.5 116.2h.9v.9h-.9zM84.8 136.0h.9v.9h-.9zM90.1 127.4h.9v.9h-.9zM86.3 127.0h.9v.9h-.9zM89.0 130.4h.9v.9h-.9zM90.8 138.6h.9v.9h-.9zM86.1 125.9h.9v.9h-.9zM70.3 115.6h.9v.9h-.9zM69.6 118.3h.9v.9h-.9zM74.5 113.2h.9v.9h-.9zM65.9 115.9h.9v.9h-.9zM70.0 120.1h.9v.9h-.9zM68.2 123.7h.9v.9h-.9zM69.2 117.8h.9v.9h-.9zM71.4 122.5h.9v.9h-.9zM72.3 118.6h.9v.9h-.9zM69.1 119.1h.9v.9h-.9zM72.6 117.4h.9v.9h-.9zM69.2 122.6h.9v.9h-.9zM76.4 118.3h.9v.9h-.9zM70.5 127.3h.9v.9h-.9zM69.6 121.9h.9v.9h-.9zM68.9 123.2h.9v.9h-.9zM75.5 114.9h.9v.9h-.9zM76.0 128.3h.9v.9h-.9zM70.3 114.4h.9v.9h-.9zM72.2 117.2h.9v.9h-.9zM65.6 115.0h.9v.9h-.9zM72.1 113.4h.9v.9h-.9zM75.2 120.1h.9v.9h-.9zM70.5 123.3h.9v.9h-.9zM67.7 120.9h.9v.9h-.9zM66.1 117.4h.9v.9h-.9zM97.7 120.9h.9v.9h-.9zM74.0 118.1h.9v.9h-.9zM67.7 137.5h.9v.9h-.9zM98.8 116.4h.9v.9h-.9zM77.3 139.1h.9v.9h-.9zM96.7 141.3h.9v.9h-.9zM101.6 121.6h.9v.9h-.9zM66.0 120.0h.9v.9h-.9zM82.7 113.1h.9v.9h-.9zM73.2 126.5h.9v.9h-.9zM89.6 117.2h.9v.9h-.9zM68.1 122.3h.9v.9h-.9z" fill="#111" opacity="0.6" filter="url(#bl04)"/>
<line x1="81.5" y1="112.7" x2="81.5" y2="141.9" stroke="#4a4a4a" stroke-width="1.0"/>
<line x1="63.4" y1="128.5" x2="101.9" y2="128.5" stroke="#4a4a4a" stroke-width="1.0"/>
</g>
<rect x="63.5" y="112.5" width="38.0" height="29.0" fill="none" stroke="#111" stroke-width="1.2" />
<path d="M61.60 141.90H63.4M63.40 141.9V143.70M62.30 139.70H63.4M66.30 141.9V143.00M62.30 138.42H63.4M67.99 141.9V143.00M62.30 137.50H63.4M69.19 141.9V143.00M62.30 136.80H63.4M70.13 141.9V143.00M62.30 136.22H63.4M70.89 141.9V143.00M62.30 135.73H63.4M71.53 141.9V143.00M62.30 135.31H63.4M72.09 141.9V143.00M62.30 134.93H63.4M72.58 141.9V143.00M61.60 134.60H63.4M73.03 141.9V143.70M62.30 132.40H63.4M75.92 141.9V143.00M62.30 131.12H63.4M77.62 141.9V143.00M62.30 130.20H63.4M78.82 141.9V143.00M62.30 129.50H63.4M79.75 141.9V143.00M62.30 128.92H63.4M80.51 141.9V143.00M62.30 128.43H63.4M81.16 141.9V143.00M62.30 128.01H63.4M81.72 141.9V143.00M62.30 127.63H63.4M82.21 141.9V143.00M61.60 127.30H63.4M82.65 141.9V143.70M62.30 125.10H63.4M85.55 141.9V143.00M62.30 123.82H63.4M87.24 141.9V143.00M62.30 122.90H63.4M88.44 141.9V143.00M62.30 122.20H63.4M89.38 141.9V143.00M62.30 121.62H63.4M90.14 141.9V143.00M62.30 121.13H63.4M90.78 141.9V143.00M62.30 120.71H63.4M91.34 141.9V143.00M62.30 120.33H63.4M91.83 141.9V143.00M61.60 120.00H63.4M92.28 141.9V143.70M62.30 117.80H63.4M95.17 141.9V143.00M62.30 116.52H63.4M96.87 141.9V143.00M62.30 115.60H63.4M98.07 141.9V143.00M62.30 114.90H63.4M99.00 141.9V143.00M62.30 114.32H63.4M99.76 141.9V143.00M62.30 113.83H63.4M100.41 141.9V143.00M62.30 113.41H63.4M100.97 141.9V143.00M62.30 113.03H63.4M101.46 141.9V143.00M61.6 112.70H63.4M101.90 141.9V143.70000000000002" stroke="#111" stroke-width="0.55" fill="none"/>
<clipPath id="clip10"><rect x="108.6" y="112.7" width="38.5" height="29.200000000000003"/></clipPath>
<g clip-path="url(#clip10)">
<ellipse cx="120.1" cy="118.0" rx="8.6" ry="4.1" transform="rotate(0 120.1 118.0)" fill="#111" opacity="0.53" filter="url(#bl)"/>
<ellipse cx="134.4" cy="130.2" rx="3.8" ry="13.5" transform="rotate(0 134.4 130.2)" fill="#111" opacity="0.84" filter="url(#bl)"/>
<path d="M122.8 118.8h.9v.9h-.9zM129.0 121.1h.9v.9h-.9zM121.5 117.4h.9v.9h-.9zM117.1 116.0h.9v.9h-.9zM121.2 116.9h.9v.9h-.9zM134.8 120.1h.9v.9h-.9zM122.6 124.3h.9v.9h-.9zM120.2 117.1h.9v.9h-.9zM127.5 120.3h.9v.9h-.9zM125.7 121.4h.9v.9h-.9zM118.1 116.1h.9v.9h-.9zM115.9 118.3h.9v.9h-.9zM126.2 115.0h.9v.9h-.9zM117.0 114.2h.9v.9h-.9zM132.1 120.2h.9v.9h-.9zM121.5 114.5h.9v.9h-.9zM114.1 116.1h.9v.9h-.9zM120.4 114.4h.9v.9h-.9zM118.9 121.4h.9v.9h-.9zM120.3 118.2h.9v.9h-.9zM119.3 116.0h.9v.9h-.9zM112.0 117.8h.9v.9h-.9zM114.1 116.4h.9v.9h-.9zM110.8 117.7h.9v.9h-.9zM125.6 115.6h.9v.9h-.9zM122.1 113.6h.9v.9h-.9zM123.6 119.5h.9v.9h-.9zM117.9 120.5h.9v.9h-.9zM115.0 118.1h.9v.9h-.9zM130.2 117.9h.9v.9h-.9zM113.6 121.2h.9v.9h-.9zM123.4 117.2h.9v.9h-.9zM111.2 122.2h.9v.9h-.9zM121.9 115.5h.9v.9h-.9zM127.0 122.1h.9v.9h-.9zM115.2 119.3h.9v.9h-.9zM110.5 119.0h.9v.9h-.9zM131.0 113.9h.9v.9h-.9zM120.5 116.1h.9v.9h-.9zM119.7 118.2h.9v.9h-.9zM121.9 120.5h.9v.9h-.9zM123.2 120.9h.9v.9h-.9zM126.2 121.1h.9v.9h-.9zM116.2 119.1h.9v.9h-.9zM118.0 115.6h.9v.9h-.9zM131.8 118.8h.9v.9h-.9zM118.8 120.2h.9v.9h-.9zM119.0 116.4h.9v.9h-.9zM128.9 117.1h.9v.9h-.9zM118.2 117.7h.9v.9h-.9zM118.8 121.0h.9v.9h-.9zM123.6 117.8h.9v.9h-.9zM118.1 117.3h.9v.9h-.9zM130.2 117.1h.9v.9h-.9zM124.1 113.5h.9v.9h-.9zM122.1 119.9h.9v.9h-.9zM127.7 118.9h.9v.9h-.9zM123.6 118.9h.9v.9h-.9zM126.5 123.8h.9v.9h-.9zM121.4 115.6h.9v.9h-.9zM123.7 117.6h.9v.9h-.9zM124.0 120.2h.9v.9h-.9zM121.1 116.7h.9v.9h-.9zM122.0 114.4h.9v.9h-.9zM121.8 115.4h.9v.9h-.9zM122.9 118.3h.9v.9h-.9zM118.9 114.5h.9v.9h-.9zM120.5 116.0h.9v.9h-.9zM119.4 119.9h.9v.9h-.9zM125.8 114.3h.9v.9h-.9zM125.7 121.8h.9v.9h-.9zM126.9 118.7h.9v.9h-.9zM119.7 122.9h.9v.9h-.9zM118.3 113.6h.9v.9h-.9zM120.7 118.8h.9v.9h-.9zM114.1 114.5h.9v.9h-.9zM131.9 118.3h.9v.9h-.9zM124.8 116.3h.9v.9h-.9zM111.3 117.5h.9v.9h-.9zM128.1 116.1h.9v.9h-.9zM109.7 117.5h.9v.9h-.9zM118.6 118.0h.9v.9h-.9zM114.1 117.1h.9v.9h-.9zM117.0 120.5h.9v.9h-.9zM121.1 120.4h.9v.9h-.9zM108.7 119.5h.9v.9h-.9zM125.4 120.5h.9v.9h-.9zM119.8 112.9h.9v.9h-.9zM117.3 119.1h.9v.9h-.9zM128.3 117.0h.9v.9h-.9zM116.9 115.7h.9v.9h-.9zM126.2 120.4h.9v.9h-.9zM109.5 121.4h.9v.9h-.9zM114.8 113.8h.9v.9h-.9zM110.8 115.9h.9v.9h-.9zM133.9 125.2h.9v.9h-.9zM112.9 116.0h.9v.9h-.9zM121.1 119.1h.9v.9h-.9zM117.4 113.4h.9v.9h-.9zM117.8 116.0h.9v.9h-.9zM109.7 118.4h.9v.9h-.9zM111.6 113.0h.9v.9h-.9zM129.2 120.6h.9v.9h-.9zM128.7 118.3h.9v.9h-.9zM117.8 117.7h.9v.9h-.9zM112.2 120.1h.9v.9h-.9zM121.8 117.1h.9v.9h-.9zM109.2 117.6h.9v.9h-.9zM129.8 122.1h.9v.9h-.9zM125.4 117.0h.9v.9h-.9zM121.0 119.5h.9v.9h-.9zM121.4 120.9h.9v.9h-.9zM112.1 119.9h.9v.9h-.9zM126.6 118.0h.9v.9h-.9zM123.4 118.2h.9v.9h-.9zM121.2 116.6h.9v.9h-.9zM117.8 121.4h.9v.9h-.9zM118.6 117.8h.9v.9h-.9zM127.3 120.8h.9v.9h-.9zM117.9 118.7h.9v.9h-.9zM114.3 118.3h.9v.9h-.9zM122.1 118.0h.9v.9h-.9zM121.2 119.0h.9v.9h-.9zM120.7 116.6h.9v.9h-.9zM114.5 117.3h.9v.9h-.9zM129.7 117.3h.9v.9h-.9zM116.4 116.6h.9v.9h-.9zM113.2 119.3h.9v.9h-.9zM114.4 120.6h.9v.9h-.9zM125.6 119.6h.9v.9h-.9zM126.3 117.7h.9v.9h-.9zM109.8 117.8h.9v.9h-.9zM124.0 113.5h.9v.9h-.9zM113.0 121.1h.9v.9h-.9zM122.8 121.8h.9v.9h-.9zM124.2 118.1h.9v.9h-.9zM122.8 120.4h.9v.9h-.9zM120.1 117.4h.9v.9h-.9zM122.1 117.1h.9v.9h-.9zM134.5 115.8h.9v.9h-.9zM111.3 114.3h.9v.9h-.9zM126.4 116.8h.9v.9h-.9zM121.2 117.3h.9v.9h-.9zM121.9 113.8h.9v.9h-.9zM120.7 116.3h.9v.9h-.9zM126.6 119.7h.9v.9h-.9zM112.8 115.2h.9v.9h-.9zM123.6 121.4h.9v.9h-.9zM124.8 117.5h.9v.9h-.9zM117.1 115.2h.9v.9h-.9zM114.1 119.6h.9v.9h-.9zM121.9 118.8h.9v.9h-.9zM119.4 119.7h.9v.9h-.9zM124.9 116.3h.9v.9h-.9zM125.8 115.3h.9v.9h-.9zM130.7 114.2h.9v.9h-.9zM118.5 114.9h.9v.9h-.9zM120.5 121.7h.9v.9h-.9zM115.8 123.0h.9v.9h-.9zM128.6 119.1h.9v.9h-.9zM116.7 120.5h.9v.9h-.9zM125.9 117.8h.9v.9h-.9zM135.0 116.0h.9v.9h-.9zM112.3 117.3h.9v.9h-.9zM123.7 122.8h.9v.9h-.9zM109.8 118.4h.9v.9h-.9zM127.7 116.0h.9v.9h-.9zM117.5 114.5h.9v.9h-.9zM124.8 120.3h.9v.9h-.9zM123.7 118.7h.9v.9h-.9zM126.1 117.6h.9v.9h-.9zM124.5 120.3h.9v.9h-.9zM128.0 119.4h.9v.9h-.9zM120.7 120.0h.9v.9h-.9zM111.0 112.9h.9v.9h-.9zM129.9 118.4h.9v.9h-.9zM114.0 116.3h.9v.9h-.9zM119.3 118.2h.9v.9h-.9zM115.7 120.8h.9v.9h-.9zM110.1 126.0h.9v.9h-.9zM113.8 122.7h.9v.9h-.9zM124.2 113.1h.9v.9h-.9zM112.9 118.1h.9v.9h-.9zM121.9 116.7h.9v.9h-.9zM120.3 118.4h.9v.9h-.9zM113.4 118.1h.9v.9h-.9zM133.8 116.1h.9v.9h-.9zM114.2 119.9h.9v.9h-.9zM128.3 120.9h.9v.9h-.9zM116.4 117.7h.9v.9h-.9zM135.0 128.2h.9v.9h-.9zM135.5 140.5h.9v.9h-.9zM135.9 130.1h.9v.9h-.9zM136.4 131.1h.9v.9h-.9zM137.6 138.9h.9v.9h-.9zM139.9 113.2h.9v.9h-.9zM134.7 127.3h.9v.9h-.9zM132.5 130.9h.9v.9h-.9zM135.8 135.2h.9v.9h-.9zM134.1 117.7h.9v.9h-.9zM135.9 136.0h.9v.9h-.9zM140.0 139.1h.9v.9h-.9zM134.5 119.3h.9v.9h-.9zM141.6 123.8h.9v.9h-.9zM135.0 137.3h.9v.9h-.9zM131.7 123.7h.9v.9h-.9zM134.9 118.5h.9v.9h-.9zM135.2 129.3h.9v.9h-.9zM132.9 130.7h.9v.9h-.9zM134.3 120.0h.9v.9h-.9zM136.5 118.1h.9v.9h-.9zM137.8 127.0h.9v.9h-.9zM128.4 115.5h.9v.9h-.9zM135.2 122.0h.9v.9h-.9zM140.0 138.7h.9v.9h-.9zM138.0 124.5h.9v.9h-.9zM137.9 126.1h.9v.9h-.9zM134.3 117.3h.9v.9h-.9zM134.6 134.1h.9v.9h-.9zM134.3 119.7h.9v.9h-.9zM136.8 138.9h.9v.9h-.9zM134.2 137.7h.9v.9h-.9zM137.1 120.8h.9v.9h-.9zM131.7 134.3h.9v.9h-.9zM132.1 134.0h.9v.9h-.9zM134.5 131.4h.9v.9h-.9zM132.5 114.9h.9v.9h-.9zM133.9 121.9h.9v.9h-.9zM132.4 133.3h.9v.9h-.9zM132.0 138.4h.9v.9h-.9zM132.2 128.8h.9v.9h-.9zM137.9 135.2h.9v.9h-.9zM133.6 115.7h.9v.9h-.9zM130.2 141.7h.9v.9h-.9zM135.8 130.8h.9v.9h-.9zM137.8 131.6h.9v.9h-.9zM132.5 129.2h.9v.9h-.9zM134.2 130.1h.9v.9h-.9zM141.1 135.8h.9v.9h-.9zM135.2 127.8h.9v.9h-.9zM132.6 120.7h.9v.9h-.9zM129.4 125.8h.9v.9h-.9zM134.5 120.6h.9v.9h-.9zM129.7 127.7h.9v.9h-.9zM137.5 134.5h.9v.9h-.9zM130.5 123.9h.9v.9h-.9zM132.4 141.2h.9v.9h-.9zM134.2 120.8h.9v.9h-.9zM132.1 138.8h.9v.9h-.9zM129.3 132.1h.9v.9h-.9zM134.1 138.1h.9v.9h-.9zM131.3 139.0h.9v.9h-.9zM130.0 129.9h.9v.9h-.9zM133.9 131.4h.9v.9h-.9zM131.8 138.5h.9v.9h-.9zM131.8 124.7h.9v.9h-.9zM136.4 131.5h.9v.9h-.9zM135.8 140.1h.9v.9h-.9zM133.2 119.4h.9v.9h-.9zM134.4 116.8h.9v.9h-.9zM137.8 137.3h.9v.9h-.9zM129.9 131.9h.9v.9h-.9zM136.7 126.8h.9v.9h-.9zM135.5 124.6h.9v.9h-.9zM134.2 129.4h.9v.9h-.9zM135.7 120.9h.9v.9h-.9zM131.4 133.4h.9v.9h-.9zM133.0 135.2h.9v.9h-.9zM133.1 117.6h.9v.9h-.9zM136.4 132.8h.9v.9h-.9zM136.4 126.9h.9v.9h-.9zM135.8 129.7h.9v.9h-.9zM134.7 136.0h.9v.9h-.9zM132.3 132.9h.9v.9h-.9zM135.0 131.2h.9v.9h-.9zM136.2 135.6h.9v.9h-.9zM136.3 137.9h.9v.9h-.9zM141.7 124.8h.9v.9h-.9zM131.0 136.8h.9v.9h-.9zM136.9 140.0h.9v.9h-.9zM138.6 116.8h.9v.9h-.9zM135.4 134.7h.9v.9h-.9zM137.8 121.6h.9v.9h-.9zM134.5 126.6h.9v.9h-.9zM134.0 128.8h.9v.9h-.9zM134.0 113.1h.9v.9h-.9zM134.3 130.9h.9v.9h-.9zM132.5 123.9h.9v.9h-.9zM136.9 128.4h.9v.9h-.9zM131.8 134.8h.9v.9h-.9zM137.4 129.0h.9v.9h-.9zM136.1 122.5h.9v.9h-.9zM130.1 138.4h.9v.9h-.9zM138.8 127.3h.9v.9h-.9zM133.0 112.9h.9v.9h-.9zM140.2 118.6h.9v.9h-.9zM131.8 128.3h.9v.9h-.9zM137.7 130.7h.9v.9h-.9zM134.4 130.4h.9v.9h-.9zM136.7 129.9h.9v.9h-.9zM134.8 129.5h.9v.9h-.9zM132.5 117.5h.9v.9h-.9zM133.2 130.5h.9v.9h-.9zM136.6 116.0h.9v.9h-.9zM131.0 131.9h.9v.9h-.9zM135.4 119.6h.9v.9h-.9zM131.3 131.9h.9v.9h-.9zM134.0 114.6h.9v.9h-.9zM131.5 140.4h.9v.9h-.9zM138.7 124.1h.9v.9h-.9zM132.6 136.3h.9v.9h-.9zM131.0 135.6h.9v.9h-.9zM137.7 132.8h.9v.9h-.9zM135.3 128.7h.9v.9h-.9zM137.1 122.3h.9v.9h-.9zM138.7 130.0h.9v.9h-.9zM133.5 114.4h.9v.9h-.9zM133.2 132.5h.9v.9h-.9zM137.8 114.6h.9v.9h-.9zM134.1 123.6h.9v.9h-.9zM131.2 130.3h.9v.9h-.9zM132.3 138.6h.9v.9h-.9zM127.1 137.4h.9v.9h-.9zM135.8 126.9h.9v.9h-.9zM134.7 120.9h.9v.9h-.9zM131.6 123.1h.9v.9h-.9zM134.2 122.1h.9v.9h-.9zM133.3 121.9h.9v.9h-.9zM135.0 119.2h.9v.9h-.9zM134.3 131.1h.9v.9h-.9zM137.0 123.1h.9v.9h-.9zM131.3 115.8h.9v.9h-.9zM136.5 124.2h.9v.9h-.9zM137.1 129.5h.9v.9h-.9zM132.6 137.9h.9v.9h-.9zM132.7 136.8h.9v.9h-.9zM129.9 140.0h.9v.9h-.9zM141.9 141.0h.9v.9h-.9zM135.3 118.3h.9v.9h-.9zM133.0 123.9h.9v.9h-.9zM132.1 137.9h.9v.9h-.9zM134.8 137.4h.9v.9h-.9zM136.7 119.1h.9v.9h-.9zM130.8 134.7h.9v.9h-.9zM134.5 131.0h.9v.9h-.9zM132.2 140.1h.9v.9h-.9zM135.7 141.3h.9v.9h-.9zM133.4 136.9h.9v.9h-.9zM134.2 121.1h.9v.9h-.9zM134.2 114.2h.9v.9h-.9zM133.9 131.9h.9v.9h-.9zM136.3 120.0h.9v.9h-.9zM130.8 123.2h.9v.9h-.9zM128.8 123.9h.9v.9h-.9zM141.5 131.6h.9v.9h-.9zM132.3 123.6h.9v.9h-.9zM139.2 119.0h.9v.9h-.9zM134.1 129.5h.9v.9h-.9zM132.4 123.3h.9v.9h-.9zM129.9 122.1h.9v.9h-.9zM133.6 137.0h.9v.9h-.9zM135.6 131.3h.9v.9h-.9zM135.9 128.0h.9v.9h-.9zM133.8 139.3h.9v.9h-.9zM132.8 123.3h.9v.9h-.9zM133.7 125.4h.9v.9h-.9zM137.8 133.7h.9v.9h-.9zM134.2 125.1h.9v.9h-.9zM138.2 134.5h.9v.9h-.9zM140.0 139.0h.9v.9h-.9zM133.8 124.9h.9v.9h-.9zM133.6 132.0h.9v.9h-.9zM136.5 134.9h.9v.9h-.9zM138.6 115.5h.9v.9h-.9zM134.5 116.5h.9v.9h-.9zM131.6 124.4h.9v.9h-.9zM132.6 120.8h.9v.9h-.9zM130.3 141.2h.9v.9h-.9zM133.5 139.6h.9v.9h-.9zM132.8 138.7h.9v.9h-.9zM132.9 134.0h.9v.9h-.9zM135.6 140.4h.9v.9h-.9zM134.6 125.5h.9v.9h-.9zM132.7 130.7h.9v.9h-.9zM131.9 118.7h.9v.9h-.9zM134.7 137.1h.9v.9h-.9zM133.6 138.3h.9v.9h-.9zM138.7 118.0h.9v.9h-.9zM135.1 120.9h.9v.9h-.9zM132.7 131.9h.9v.9h-.9zM128.0 136.1h.9v.9h-.9zM136.7 135.5h.9v.9h-.9zM133.4 140.8h.9v.9h-.9zM138.3 135.0h.9v.9h-.9zM129.6 128.7h.9v.9h-.9zM133.6 114.6h.9v.9h-.9zM134.2 137.5h.9v.9h-.9zM133.7 128.5h.9v.9h-.9zM138.4 124.3h.9v.9h-.9zM131.8 130.6h.9v.9h-.9zM137.4 135.9h.9v.9h-.9zM134.6 125.5h.9v.9h-.9zM137.7 138.8h.9v.9h-.9zM129.7 133.4h.9v.9h-.9zM136.0 124.1h.9v.9h-.9zM130.9 127.3h.9v.9h-.9zM129.7 135.7h.9v.9h-.9zM133.0 113.1h.9v.9h-.9zM134.3 141.6h.9v.9h-.9zM131.0 126.8h.9v.9h-.9zM139.3 132.0h.9v.9h-.9zM132.9 132.0h.9v.9h-.9zM136.5 120.5h.9v.9h-.9zM134.1 114.4h.9v.9h-.9zM130.1 115.3h.9v.9h-.9zM136.7 133.2h.9v.9h-.9zM134.5 132.5h.9v.9h-.9zM135.5 134.7h.9v.9h-.9zM131.5 127.6h.9v.9h-.9zM134.0 130.6h.9v.9h-.9zM132.4 128.9h.9v.9h-.9zM135.2 132.0h.9v.9h-.9zM136.0 138.1h.9v.9h-.9zM135.9 139.5h.9v.9h-.9zM136.1 124.2h.9v.9h-.9zM140.7 141.1h.9v.9h-.9zM137.8 137.3h.9v.9h-.9zM134.5 119.2h.9v.9h-.9zM135.6 126.8h.9v.9h-.9zM138.6 118.9h.9v.9h-.9zM131.4 134.7h.9v.9h-.9zM135.9 122.6h.9v.9h-.9zM134.4 132.7h.9v.9h-.9zM134.8 135.3h.9v.9h-.9zM136.5 126.7h.9v.9h-.9zM133.4 120.6h.9v.9h-.9zM136.4 135.9h.9v.9h-.9zM134.3 133.2h.9v.9h-.9zM135.3 128.0h.9v.9h-.9zM135.3 117.6h.9v.9h-.9zM128.4 122.0h.9v.9h-.9zM136.8 126.3h.9v.9h-.9zM132.8 115.7h.9v.9h-.9zM134.1 128.5h.9v.9h-.9zM132.7 115.1h.9v.9h-.9zM134.8 134.3h.9v.9h-.9zM137.5 135.2h.9v.9h-.9zM138.5 141.8h.9v.9h-.9zM134.1 120.1h.9v.9h-.9zM135.6 139.5h.9v.9h-.9zM130.2 118.3h.9v.9h-.9zM136.3 124.9h.9v.9h-.9zM138.3 132.3h.9v.9h-.9zM132.9 117.4h.9v.9h-.9zM136.0 113.6h.9v.9h-.9zM130.9 117.5h.9v.9h-.9zM134.3 115.5h.9v.9h-.9zM115.1 131.4h.9v.9h-.9zM120.4 140.1h.9v.9h-.9zM119.3 126.9h.9v.9h-.9zM128.0 140.2h.9v.9h-.9zM120.3 138.7h.9v.9h-.9zM136.4 129.3h.9v.9h-.9zM145.0 138.5h.9v.9h-.9zM137.5 128.6h.9v.9h-.9zM110.3 119.1h.9v.9h-.9zM133.7 116.1h.9v.9h-.9zM133.4 122.8h.9v.9h-.9z" fill="#111" opacity="0.6" filter="url(#bl04)"/>
<line x1="127.5" y1="112.7" x2="127.5" y2="141.9" stroke="#4a4a4a" stroke-width="1.0"/>
<line x1="108.6" y1="128.5" x2="147.1" y2="128.5" stroke="#4a4a4a" stroke-width="1.0"/>
</g>
<rect x="108.5" y="112.5" width="39.0" height="29.0" fill="none" stroke="#111" stroke-width="1.2" />
<path d="M106.80 141.90H108.6M108.60 141.9V143.70M107.50 139.70H108.6M111.50 141.9V143.00M107.50 138.42H108.6M113.19 141.9V143.00M107.50 137.50H108.6M114.39 141.9V143.00M107.50 136.80H108.6M115.33 141.9V143.00M107.50 136.22H108.6M116.09 141.9V143.00M107.50 135.73H108.6M116.73 141.9V143.00M107.50 135.31H108.6M117.29 141.9V143.00M107.50 134.93H108.6M117.78 141.9V143.00M106.80 134.60H108.6M118.22 141.9V143.70M107.50 132.40H108.6M121.12 141.9V143.00M107.50 131.12H108.6M122.82 141.9V143.00M107.50 130.20H108.6M124.02 141.9V143.00M107.50 129.50H108.6M124.95 141.9V143.00M107.50 128.92H108.6M125.71 141.9V143.00M107.50 128.43H108.6M126.36 141.9V143.00M107.50 128.01H108.6M126.92 141.9V143.00M107.50 127.63H108.6M127.41 141.9V143.00M106.80 127.30H108.6M127.85 141.9V143.70M107.50 125.10H108.6M130.75 141.9V143.00M107.50 123.82H108.6M132.44 141.9V143.00M107.50 122.90H108.6M133.64 141.9V143.00M107.50 122.20H108.6M134.58 141.9V143.00M107.50 121.62H108.6M135.34 141.9V143.00M107.50 121.13H108.6M135.98 141.9V143.00M107.50 120.71H108.6M136.54 141.9V143.00M107.50 120.33H108.6M137.03 141.9V143.00M106.80 120.00H108.6M137.47 141.9V143.70M107.50 117.80H108.6M140.37 141.9V143.00M107.50 116.52H108.6M142.07 141.9V143.00M107.50 115.60H108.6M143.27 141.9V143.00M107.50 114.90H108.6M144.20 141.9V143.00M107.50 114.32H108.6M144.96 141.9V143.00M107.50 113.83H108.6M145.61 141.9V143.00M107.50 113.41H108.6M146.17 141.9V143.00M107.50 113.03H108.6M146.66 141.9V143.00M106.8 112.70H108.6M147.10 141.9V143.70000000000002" stroke="#111" stroke-width="0.55" fill="none"/>
<clipPath id="clip11"><rect x="154.5" y="112.7" width="38.5" height="29.200000000000003"/></clipPath>
<g clip-path="url(#clip11)">
<ellipse cx="179.1" cy="137.8" rx="5.4" ry="4.1" transform="rotate(0 179.1 137.8)" fill="#111" opacity="0.58" filter="url(#bl)"/>
<ellipse cx="177.6" cy="127.9" rx="4.9" ry="4.9" transform="rotate(0 177.6 127.9)" fill="#111" opacity="0.32" filter="url(#bl)"/>
<path d="M173.7 141.3h.9v.9h-.9zM182.6 133.7h.9v.9h-.9zM174.6 139.0h.9v.9h-.9zM187.9 137.2h.9v.9h-.9zM177.9 137.1h.9v.9h-.9zM180.1 137.3h.9v.9h-.9zM183.3 140.7h.9v.9h-.9zM178.2 136.2h.9v.9h-.9zM190.6 132.1h.9v.9h-.9zM173.1 130.9h.9v.9h-.9zM180.5 134.7h.9v.9h-.9zM183.2 131.7h.9v.9h-.9zM178.6 136.7h.9v.9h-.9zM175.0 141.1h.9v.9h-.9zM177.6 139.1h.9v.9h-.9zM177.1 138.2h.9v.9h-.9zM177.4 138.0h.9v.9h-.9zM178.8 135.8h.9v.9h-.9zM180.8 137.3h.9v.9h-.9zM175.4 134.7h.9v.9h-.9zM180.8 141.7h.9v.9h-.9zM174.1 136.6h.9v.9h-.9zM180.9 140.9h.9v.9h-.9zM181.9 134.3h.9v.9h-.9zM179.3 140.4h.9v.9h-.9zM180.1 137.1h.9v.9h-.9zM174.6 138.3h.9v.9h-.9zM178.9 137.9h.9v.9h-.9zM184.9 141.3h.9v.9h-.9zM176.1 138.5h.9v.9h-.9zM177.9 138.1h.9v.9h-.9zM185.5 140.5h.9v.9h-.9zM179.3 135.9h.9v.9h-.9zM178.5 138.9h.9v.9h-.9zM177.2 141.0h.9v.9h-.9zM179.2 134.3h.9v.9h-.9zM187.0 129.3h.9v.9h-.9zM178.1 137.5h.9v.9h-.9zM183.0 141.1h.9v.9h-.9zM180.4 138.1h.9v.9h-.9zM183.1 137.7h.9v.9h-.9zM174.3 136.5h.9v.9h-.9zM181.7 139.6h.9v.9h-.9zM174.9 141.3h.9v.9h-.9zM180.3 133.4h.9v.9h-.9zM180.9 140.8h.9v.9h-.9zM181.2 136.9h.9v.9h-.9zM176.0 141.1h.9v.9h-.9zM180.0 137.8h.9v.9h-.9zM177.6 134.8h.9v.9h-.9zM171.9 136.8h.9v.9h-.9zM183.4 140.0h.9v.9h-.9zM178.3 134.9h.9v.9h-.9zM182.9 141.9h.9v.9h-.9zM177.6 134.2h.9v.9h-.9zM178.9 130.7h.9v.9h-.9zM180.2 135.7h.9v.9h-.9zM181.9 136.4h.9v.9h-.9zM184.0 136.8h.9v.9h-.9zM187.0 136.8h.9v.9h-.9zM179.9 135.1h.9v.9h-.9zM174.2 138.8h.9v.9h-.9zM180.5 135.0h.9v.9h-.9zM181.3 136.6h.9v.9h-.9zM177.0 137.6h.9v.9h-.9zM180.7 139.9h.9v.9h-.9zM183.9 138.9h.9v.9h-.9zM176.3 135.8h.9v.9h-.9zM180.6 134.3h.9v.9h-.9zM178.5 136.7h.9v.9h-.9zM178.8 138.3h.9v.9h-.9zM182.6 140.8h.9v.9h-.9zM175.0 140.8h.9v.9h-.9zM184.1 133.8h.9v.9h-.9zM188.9 136.2h.9v.9h-.9zM179.4 135.5h.9v.9h-.9zM176.9 140.9h.9v.9h-.9zM180.1 136.7h.9v.9h-.9zM183.6 135.1h.9v.9h-.9zM175.9 136.2h.9v.9h-.9zM176.2 139.8h.9v.9h-.9zM178.2 134.7h.9v.9h-.9zM177.4 132.0h.9v.9h-.9zM179.8 138.1h.9v.9h-.9zM181.5 137.1h.9v.9h-.9zM180.7 135.1h.9v.9h-.9zM179.2 138.3h.9v.9h-.9zM174.4 139.5h.9v.9h-.9zM179.7 138.0h.9v.9h-.9zM179.1 135.6h.9v.9h-.9zM175.9 139.5h.9v.9h-.9zM178.3 135.5h.9v.9h-.9zM176.3 140.5h.9v.9h-.9zM179.5 140.9h.9v.9h-.9zM179.1 134.4h.9v.9h-.9zM182.5 138.7h.9v.9h-.9zM176.6 136.9h.9v.9h-.9zM175.4 140.2h.9v.9h-.9zM177.5 139.2h.9v.9h-.9zM180.1 137.1h.9v.9h-.9zM180.6 137.1h.9v.9h-.9zM174.6 136.6h.9v.9h-.9zM174.6 140.0h.9v.9h-.9zM181.6 136.1h.9v.9h-.9zM181.5 138.5h.9v.9h-.9zM182.9 135.1h.9v.9h-.9zM179.2 134.9h.9v.9h-.9zM176.5 141.8h.9v.9h-.9zM171.4 135.1h.9v.9h-.9zM181.0 140.1h.9v.9h-.9zM176.1 131.9h.9v.9h-.9zM172.5 138.9h.9v.9h-.9zM183.4 140.5h.9v.9h-.9zM176.3 141.8h.9v.9h-.9zM178.4 139.6h.9v.9h-.9zM177.1 131.5h.9v.9h-.9zM177.9 138.4h.9v.9h-.9zM180.2 135.7h.9v.9h-.9zM178.2 134.5h.9v.9h-.9zM178.2 138.1h.9v.9h-.9zM171.4 139.3h.9v.9h-.9zM180.8 134.4h.9v.9h-.9zM179.4 137.8h.9v.9h-.9zM175.3 139.9h.9v.9h-.9zM186.5 139.8h.9v.9h-.9zM182.1 140.9h.9v.9h-.9zM178.6 140.7h.9v.9h-.9zM176.0 138.3h.9v.9h-.9zM181.9 141.6h.9v.9h-.9zM178.0 137.0h.9v.9h-.9zM180.9 137.6h.9v.9h-.9zM179.7 140.2h.9v.9h-.9zM176.2 140.4h.9v.9h-.9zM180.6 137.0h.9v.9h-.9zM174.3 136.0h.9v.9h-.9zM179.0 140.5h.9v.9h-.9zM171.6 139.9h.9v.9h-.9zM179.9 134.5h.9v.9h-.9zM182.4 139.0h.9v.9h-.9zM180.8 135.0h.9v.9h-.9zM174.9 140.5h.9v.9h-.9zM184.5 138.9h.9v.9h-.9zM178.4 136.5h.9v.9h-.9zM172.6 140.7h.9v.9h-.9zM178.8 141.4h.9v.9h-.9zM176.4 140.9h.9v.9h-.9zM176.4 139.5h.9v.9h-.9zM184.4 135.8h.9v.9h-.9zM182.6 137.8h.9v.9h-.9zM175.5 138.4h.9v.9h-.9zM181.6 135.7h.9v.9h-.9zM178.1 136.2h.9v.9h-.9zM176.2 137.2h.9v.9h-.9zM182.3 136.4h.9v.9h-.9zM183.9 136.7h.9v.9h-.9zM176.5 140.9h.9v.9h-.9zM184.5 135.9h.9v.9h-.9zM181.4 134.4h.9v.9h-.9zM177.6 136.7h.9v.9h-.9zM181.8 134.2h.9v.9h-.9zM177.2 135.8h.9v.9h-.9zM177.9 123.6h.9v.9h-.9zM173.0 137.7h.9v.9h-.9zM178.3 122.7h.9v.9h-.9zM180.5 123.3h.9v.9h-.9zM171.1 133.7h.9v.9h-.9zM181.9 125.0h.9v.9h-.9zM173.9 129.5h.9v.9h-.9zM184.6 130.0h.9v.9h-.9zM179.9 123.8h.9v.9h-.9zM171.5 129.2h.9v.9h-.9zM181.1 128.4h.9v.9h-.9zM177.6 132.7h.9v.9h-.9zM174.7 131.7h.9v.9h-.9zM180.4 125.7h.9v.9h-.9zM178.0 128.3h.9v.9h-.9zM179.6 124.5h.9v.9h-.9zM176.8 128.2h.9v.9h-.9zM177.7 128.0h.9v.9h-.9zM178.5 127.2h.9v.9h-.9zM175.9 131.5h.9v.9h-.9zM175.4 126.8h.9v.9h-.9zM174.6 123.9h.9v.9h-.9zM179.1 127.7h.9v.9h-.9zM177.1 129.4h.9v.9h-.9zM177.0 130.2h.9v.9h-.9zM183.8 129.1h.9v.9h-.9zM176.7 133.6h.9v.9h-.9zM180.0 122.1h.9v.9h-.9zM182.1 128.6h.9v.9h-.9zM180.5 123.9h.9v.9h-.9zM174.7 125.6h.9v.9h-.9zM179.5 124.0h.9v.9h-.9zM175.2 131.2h.9v.9h-.9zM175.4 128.3h.9v.9h-.9zM174.5 122.0h.9v.9h-.9zM177.3 127.5h.9v.9h-.9zM172.7 131.2h.9v.9h-.9zM180.4 130.9h.9v.9h-.9zM175.9 123.9h.9v.9h-.9zM177.3 128.5h.9v.9h-.9zM177.0 125.9h.9v.9h-.9zM174.2 125.3h.9v.9h-.9zM177.3 126.2h.9v.9h-.9zM183.3 126.9h.9v.9h-.9zM179.1 126.3h.9v.9h-.9zM177.0 124.5h.9v.9h-.9zM175.9 122.7h.9v.9h-.9zM170.5 132.5h.9v.9h-.9zM174.0 129.4h.9v.9h-.9zM177.2 125.9h.9v.9h-.9zM180.1 126.0h.9v.9h-.9zM179.1 126.6h.9v.9h-.9zM180.9 131.2h.9v.9h-.9zM177.8 131.7h.9v.9h-.9zM179.3 133.2h.9v.9h-.9zM177.2 122.6h.9v.9h-.9zM178.3 128.7h.9v.9h-.9zM176.4 127.2h.9v.9h-.9zM176.7 123.6h.9v.9h-.9zM183.4 125.2h.9v.9h-.9zM174.0 122.4h.9v.9h-.9zM174.7 127.7h.9v.9h-.9zM182.6 129.9h.9v.9h-.9zM175.1 123.6h.9v.9h-.9zM173.8 127.6h.9v.9h-.9zM180.5 126.2h.9v.9h-.9zM183.0 134.5h.9v.9h-.9zM178.1 120.4h.9v.9h-.9zM181.3 127.5h.9v.9h-.9zM179.9 131.3h.9v.9h-.9zM174.2 128.1h.9v.9h-.9zM178.2 125.3h.9v.9h-.9zM180.0 127.4h.9v.9h-.9zM176.2 134.3h.9v.9h-.9zM178.2 133.5h.9v.9h-.9zM177.1 131.4h.9v.9h-.9zM175.0 128.4h.9v.9h-.9zM181.3 120.4h.9v.9h-.9zM179.4 126.9h.9v.9h-.9zM181.3 128.5h.9v.9h-.9zM177.3 123.5h.9v.9h-.9zM187.6 125.3h.9v.9h-.9zM176.5 125.4h.9v.9h-.9zM176.6 128.6h.9v.9h-.9zM173.1 131.5h.9v.9h-.9zM176.7 129.9h.9v.9h-.9zM170.4 126.1h.9v.9h-.9zM176.6 126.5h.9v.9h-.9zM175.3 128.9h.9v.9h-.9zM179.0 124.5h.9v.9h-.9zM170.9 130.4h.9v.9h-.9zM176.5 131.5h.9v.9h-.9zM180.5 127.5h.9v.9h-.9zM172.7 126.6h.9v.9h-.9zM175.1 132.1h.9v.9h-.9zM171.8 131.0h.9v.9h-.9zM172.4 125.9h.9v.9h-.9zM172.8 125.5h.9v.9h-.9zM176.1 129.1h.9v.9h-.9zM175.6 130.2h.9v.9h-.9zM155.1 135.2h.9v.9h-.9zM174.7 126.7h.9v.9h-.9zM181.6 114.6h.9v.9h-.9zM159.3 133.6h.9v.9h-.9zM156.1 138.1h.9v.9h-.9zM174.1 140.9h.9v.9h-.9zM187.6 124.6h.9v.9h-.9zM167.7 125.4h.9v.9h-.9zM184.1 126.2h.9v.9h-.9zM182.2 141.6h.9v.9h-.9zM183.3 127.7h.9v.9h-.9zM183.1 127.1h.9v.9h-.9z" fill="#111" opacity="0.6" filter="url(#bl04)"/>
<line x1="169.5" y1="112.7" x2="169.5" y2="141.9" stroke="#4a4a4a" stroke-width="1.0"/>
<line x1="154.5" y1="132.5" x2="193.0" y2="132.5" stroke="#4a4a4a" stroke-width="1.0"/>
</g>
<rect x="154.5" y="112.5" width="39.0" height="29.0" fill="none" stroke="#111" stroke-width="1.2" />
<path d="M152.70 141.90H154.5M154.50 141.9V143.70M153.40 139.70H154.5M157.40 141.9V143.00M153.40 138.42H154.5M159.09 141.9V143.00M153.40 137.50H154.5M160.29 141.9V143.00M153.40 136.80H154.5M161.23 141.9V143.00M153.40 136.22H154.5M161.99 141.9V143.00M153.40 135.73H154.5M162.63 141.9V143.00M153.40 135.31H154.5M163.19 141.9V143.00M153.40 134.93H154.5M163.68 141.9V143.00M152.70 134.60H154.5M164.12 141.9V143.70M153.40 132.40H154.5M167.02 141.9V143.00M153.40 131.12H154.5M168.72 141.9V143.00M153.40 130.20H154.5M169.92 141.9V143.00M153.40 129.50H154.5M170.85 141.9V143.00M153.40 128.92H154.5M171.61 141.9V143.00M153.40 128.43H154.5M172.26 141.9V143.00M153.40 128.01H154.5M172.82 141.9V143.00M153.40 127.63H154.5M173.31 141.9V143.00M152.70 127.30H154.5M173.75 141.9V143.70M153.40 125.10H154.5M176.65 141.9V143.00M153.40 123.82H154.5M178.34 141.9V143.00M153.40 122.90H154.5M179.54 141.9V143.00M153.40 122.20H154.5M180.48 141.9V143.00M153.40 121.62H154.5M181.24 141.9V143.00M153.40 121.13H154.5M181.88 141.9V143.00M153.40 120.71H154.5M182.44 141.9V143.00M153.40 120.33H154.5M182.93 141.9V143.00M152.70 120.00H154.5M183.38 141.9V143.70M153.40 117.80H154.5M186.27 141.9V143.00M153.40 116.52H154.5M187.97 141.9V143.00M153.40 115.60H154.5M189.17 141.9V143.00M153.40 114.90H154.5M190.10 141.9V143.00M153.40 114.32H154.5M190.86 141.9V143.00M153.40 113.83H154.5M191.51 141.9V143.00M153.40 113.41H154.5M192.07 141.9V143.00M153.40 113.03H154.5M192.56 141.9V143.00M152.7 112.70H154.5M193.00 141.9V143.70000000000002" stroke="#111" stroke-width="0.55" fill="none"/>
<clipPath id="clip12"><rect x="19.0" y="153.8" width="38.5" height="28.5"/></clipPath>
<g clip-path="url(#clip12)">
<ellipse cx="27.9" cy="173.8" rx="3.8" ry="6.4" transform="rotate(0 27.9 173.8)" fill="#111" opacity="0.58" filter="url(#bl)"/>
<ellipse cx="27.5" cy="162.9" rx="3.2" ry="4.8" transform="rotate(0 27.5 162.9)" fill="#111" opacity="0.26" filter="url(#bl)"/>
<ellipse cx="46.0" cy="159.5" rx="6.5" ry="3.2" transform="rotate(0 46.0 159.5)" fill="#111" opacity="0.11" filter="url(#bl)"/>
<path d="M25.4 171.4h.9v.9h-.9zM35.2 168.4h.9v.9h-.9zM24.7 171.3h.9v.9h-.9zM30.6 177.3h.9v.9h-.9zM29.7 172.3h.9v.9h-.9zM28.2 170.3h.9v.9h-.9zM27.4 170.1h.9v.9h-.9zM24.0 169.3h.9v.9h-.9zM32.9 175.5h.9v.9h-.9zM25.9 173.2h.9v.9h-.9zM26.6 179.2h.9v.9h-.9zM27.8 170.9h.9v.9h-.9zM29.6 175.2h.9v.9h-.9zM26.0 170.3h.9v.9h-.9zM28.2 166.4h.9v.9h-.9zM25.4 178.2h.9v.9h-.9zM30.1 178.7h.9v.9h-.9zM26.7 171.1h.9v.9h-.9zM27.1 171.6h.9v.9h-.9zM31.2 172.7h.9v.9h-.9zM31.4 170.6h.9v.9h-.9zM28.8 181.0h.9v.9h-.9zM25.9 170.8h.9v.9h-.9zM26.3 166.5h.9v.9h-.9zM27.0 170.9h.9v.9h-.9zM33.6 171.6h.9v.9h-.9zM22.2 177.9h.9v.9h-.9zM30.3 173.6h.9v.9h-.9zM28.6 176.9h.9v.9h-.9zM26.4 173.9h.9v.9h-.9zM28.2 181.1h.9v.9h-.9zM31.5 174.5h.9v.9h-.9zM24.3 177.7h.9v.9h-.9zM27.7 178.9h.9v.9h-.9zM28.0 174.5h.9v.9h-.9zM29.5 170.5h.9v.9h-.9zM25.6 177.9h.9v.9h-.9zM29.6 177.4h.9v.9h-.9zM31.4 167.7h.9v.9h-.9zM30.3 164.5h.9v.9h-.9zM28.0 175.2h.9v.9h-.9zM30.5 178.6h.9v.9h-.9zM25.4 172.5h.9v.9h-.9zM27.4 170.6h.9v.9h-.9zM25.7 170.8h.9v.9h-.9zM30.8 179.8h.9v.9h-.9zM29.8 181.2h.9v.9h-.9zM28.1 168.9h.9v.9h-.9zM26.1 174.6h.9v.9h-.9zM30.5 179.2h.9v.9h-.9zM25.5 178.0h.9v.9h-.9zM26.4 176.4h.9v.9h-.9zM30.2 180.4h.9v.9h-.9zM26.4 174.8h.9v.9h-.9zM28.9 171.9h.9v.9h-.9zM28.1 176.4h.9v.9h-.9zM23.5 170.9h.9v.9h-.9zM33.9 175.8h.9v.9h-.9zM26.4 165.5h.9v.9h-.9zM25.3 176.1h.9v.9h-.9zM29.6 175.7h.9v.9h-.9zM29.4 171.0h.9v.9h-.9zM32.0 168.7h.9v.9h-.9zM29.2 172.5h.9v.9h-.9zM23.3 177.8h.9v.9h-.9zM27.1 176.9h.9v.9h-.9zM31.2 174.5h.9v.9h-.9zM26.1 172.8h.9v.9h-.9zM27.6 180.2h.9v.9h-.9zM30.1 180.8h.9v.9h-.9zM29.8 170.3h.9v.9h-.9zM30.3 178.1h.9v.9h-.9zM27.5 175.8h.9v.9h-.9zM27.0 168.1h.9v.9h-.9zM27.6 177.2h.9v.9h-.9zM26.9 163.7h.9v.9h-.9zM25.7 178.6h.9v.9h-.9zM28.4 178.8h.9v.9h-.9zM25.8 171.9h.9v.9h-.9zM25.2 170.3h.9v.9h-.9zM29.2 174.4h.9v.9h-.9zM26.5 175.1h.9v.9h-.9zM24.4 172.0h.9v.9h-.9zM23.9 167.0h.9v.9h-.9zM24.3 168.8h.9v.9h-.9zM32.0 179.9h.9v.9h-.9zM31.1 171.1h.9v.9h-.9zM29.5 168.7h.9v.9h-.9zM26.4 174.8h.9v.9h-.9zM23.6 174.6h.9v.9h-.9zM29.4 164.5h.9v.9h-.9zM21.4 172.5h.9v.9h-.9zM27.5 174.4h.9v.9h-.9zM24.8 176.3h.9v.9h-.9zM28.1 170.5h.9v.9h-.9zM32.1 174.9h.9v.9h-.9zM29.8 182.1h.9v.9h-.9zM26.5 172.8h.9v.9h-.9zM23.3 172.7h.9v.9h-.9zM29.3 174.6h.9v.9h-.9zM24.5 169.9h.9v.9h-.9zM23.0 167.6h.9v.9h-.9zM28.1 175.1h.9v.9h-.9zM25.4 172.8h.9v.9h-.9zM25.7 176.5h.9v.9h-.9zM29.5 171.2h.9v.9h-.9zM26.6 168.2h.9v.9h-.9zM27.8 177.6h.9v.9h-.9zM29.3 180.4h.9v.9h-.9zM27.0 169.7h.9v.9h-.9zM30.5 177.9h.9v.9h-.9zM26.1 178.7h.9v.9h-.9zM27.8 173.6h.9v.9h-.9zM32.6 176.1h.9v.9h-.9zM28.6 172.3h.9v.9h-.9zM28.3 178.5h.9v.9h-.9zM29.0 170.3h.9v.9h-.9zM29.0 173.2h.9v.9h-.9zM28.6 172.9h.9v.9h-.9zM22.1 166.5h.9v.9h-.9zM26.8 163.8h.9v.9h-.9zM29.6 171.7h.9v.9h-.9zM28.7 163.7h.9v.9h-.9zM28.5 178.2h.9v.9h-.9zM28.3 167.8h.9v.9h-.9zM30.4 171.3h.9v.9h-.9zM26.3 174.6h.9v.9h-.9zM29.0 168.1h.9v.9h-.9zM27.8 174.0h.9v.9h-.9zM31.6 179.5h.9v.9h-.9zM34.5 170.7h.9v.9h-.9zM25.5 175.4h.9v.9h-.9zM32.0 169.2h.9v.9h-.9zM26.9 170.4h.9v.9h-.9zM29.2 175.6h.9v.9h-.9zM27.7 176.7h.9v.9h-.9zM25.7 172.0h.9v.9h-.9zM27.7 174.0h.9v.9h-.9zM31.3 174.1h.9v.9h-.9zM31.2 174.8h.9v.9h-.9zM30.8 174.6h.9v.9h-.9zM25.4 169.9h.9v.9h-.9zM28.9 182.3h.9v.9h-.9zM32.7 172.3h.9v.9h-.9zM34.4 168.7h.9v.9h-.9zM25.6 178.0h.9v.9h-.9zM23.8 177.9h.9v.9h-.9zM28.8 176.6h.9v.9h-.9zM24.6 175.5h.9v.9h-.9zM30.3 173.5h.9v.9h-.9zM30.5 173.9h.9v.9h-.9zM28.7 172.3h.9v.9h-.9zM24.2 173.0h.9v.9h-.9zM29.1 170.3h.9v.9h-.9zM22.7 166.7h.9v.9h-.9zM31.3 172.7h.9v.9h-.9zM25.8 179.4h.9v.9h-.9zM27.4 166.9h.9v.9h-.9zM26.7 169.7h.9v.9h-.9zM27.3 169.6h.9v.9h-.9zM28.0 175.8h.9v.9h-.9zM26.3 172.8h.9v.9h-.9zM27.4 177.5h.9v.9h-.9zM25.9 177.2h.9v.9h-.9zM31.1 172.9h.9v.9h-.9zM25.3 172.3h.9v.9h-.9zM23.1 171.3h.9v.9h-.9zM24.7 173.0h.9v.9h-.9zM26.8 176.1h.9v.9h-.9zM28.1 175.7h.9v.9h-.9zM27.7 175.0h.9v.9h-.9zM24.8 176.8h.9v.9h-.9zM31.3 178.8h.9v.9h-.9zM24.3 175.7h.9v.9h-.9zM23.5 177.2h.9v.9h-.9zM27.3 171.7h.9v.9h-.9zM25.8 172.7h.9v.9h-.9zM27.8 169.4h.9v.9h-.9zM28.0 174.9h.9v.9h-.9zM29.2 173.5h.9v.9h-.9zM30.5 175.2h.9v.9h-.9zM24.1 176.6h.9v.9h-.9zM29.3 161.7h.9v.9h-.9zM27.4 175.5h.9v.9h-.9zM27.9 174.2h.9v.9h-.9zM27.4 180.1h.9v.9h-.9zM28.8 172.5h.9v.9h-.9zM25.5 171.4h.9v.9h-.9zM28.7 174.4h.9v.9h-.9zM28.6 179.9h.9v.9h-.9zM30.8 175.7h.9v.9h-.9zM27.9 173.5h.9v.9h-.9zM27.2 178.3h.9v.9h-.9zM24.5 169.0h.9v.9h-.9zM26.6 169.4h.9v.9h-.9zM25.9 179.2h.9v.9h-.9zM21.9 176.4h.9v.9h-.9zM24.3 172.6h.9v.9h-.9zM26.3 169.2h.9v.9h-.9zM23.9 174.1h.9v.9h-.9zM20.0 164.1h.9v.9h-.9zM26.8 178.8h.9v.9h-.9zM32.7 172.4h.9v.9h-.9zM25.7 172.5h.9v.9h-.9zM29.1 178.0h.9v.9h-.9zM25.3 175.9h.9v.9h-.9zM27.7 179.0h.9v.9h-.9zM26.7 172.8h.9v.9h-.9zM25.6 167.7h.9v.9h-.9zM28.5 177.0h.9v.9h-.9zM30.0 163.8h.9v.9h-.9zM26.4 159.8h.9v.9h-.9zM24.8 160.4h.9v.9h-.9zM28.2 163.2h.9v.9h-.9zM22.2 162.6h.9v.9h-.9zM26.8 159.3h.9v.9h-.9zM27.4 164.7h.9v.9h-.9zM25.1 158.3h.9v.9h-.9zM26.7 163.8h.9v.9h-.9zM26.9 168.2h.9v.9h-.9zM27.8 159.5h.9v.9h-.9zM29.2 160.7h.9v.9h-.9zM29.0 163.3h.9v.9h-.9zM30.3 159.5h.9v.9h-.9zM29.1 164.4h.9v.9h-.9zM25.4 165.3h.9v.9h-.9zM32.6 164.1h.9v.9h-.9zM25.7 162.4h.9v.9h-.9zM30.4 163.8h.9v.9h-.9zM30.8 160.7h.9v.9h-.9zM30.4 157.5h.9v.9h-.9zM27.1 161.9h.9v.9h-.9zM26.3 167.1h.9v.9h-.9zM26.1 164.1h.9v.9h-.9zM31.7 165.7h.9v.9h-.9zM26.5 160.4h.9v.9h-.9zM22.9 164.2h.9v.9h-.9zM29.5 166.7h.9v.9h-.9zM28.0 170.3h.9v.9h-.9zM29.2 155.0h.9v.9h-.9zM25.4 165.7h.9v.9h-.9zM26.5 165.8h.9v.9h-.9zM33.3 160.3h.9v.9h-.9zM32.5 162.6h.9v.9h-.9zM24.1 163.3h.9v.9h-.9zM29.5 160.9h.9v.9h-.9zM31.1 159.9h.9v.9h-.9zM27.0 166.1h.9v.9h-.9zM27.0 161.0h.9v.9h-.9zM27.4 165.2h.9v.9h-.9zM31.4 167.6h.9v.9h-.9zM31.8 162.8h.9v.9h-.9zM23.6 162.8h.9v.9h-.9zM26.5 159.5h.9v.9h-.9zM26.3 162.7h.9v.9h-.9zM27.6 166.1h.9v.9h-.9zM25.4 166.8h.9v.9h-.9zM27.6 165.4h.9v.9h-.9zM30.3 158.7h.9v.9h-.9zM31.1 160.5h.9v.9h-.9zM28.4 166.6h.9v.9h-.9zM29.6 157.6h.9v.9h-.9zM27.8 166.8h.9v.9h-.9zM27.2 162.6h.9v.9h-.9zM27.6 168.5h.9v.9h-.9zM26.2 159.7h.9v.9h-.9zM24.9 161.1h.9v.9h-.9zM26.9 164.1h.9v.9h-.9zM27.3 157.0h.9v.9h-.9zM23.8 165.3h.9v.9h-.9zM29.1 158.3h.9v.9h-.9zM29.6 154.6h.9v.9h-.9zM32.8 164.9h.9v.9h-.9zM23.6 164.7h.9v.9h-.9zM27.4 161.4h.9v.9h-.9zM26.6 162.2h.9v.9h-.9zM27.2 159.8h.9v.9h-.9zM26.2 164.8h.9v.9h-.9zM28.7 158.4h.9v.9h-.9zM26.3 168.3h.9v.9h-.9zM29.1 168.6h.9v.9h-.9zM24.4 159.4h.9v.9h-.9zM22.5 156.3h.9v.9h-.9zM26.6 159.3h.9v.9h-.9zM25.0 160.5h.9v.9h-.9zM27.0 165.8h.9v.9h-.9zM28.8 156.9h.9v.9h-.9zM30.9 161.8h.9v.9h-.9zM25.2 162.8h.9v.9h-.9zM26.5 158.2h.9v.9h-.9zM53.1 158.2h.9v.9h-.9zM43.2 160.7h.9v.9h-.9zM53.7 160.6h.9v.9h-.9zM41.8 160.5h.9v.9h-.9zM51.1 160.4h.9v.9h-.9zM48.9 158.4h.9v.9h-.9zM45.6 155.7h.9v.9h-.9zM42.6 156.9h.9v.9h-.9zM46.0 162.9h.9v.9h-.9zM35.6 156.5h.9v.9h-.9zM41.6 159.3h.9v.9h-.9zM51.3 157.7h.9v.9h-.9zM42.3 162.3h.9v.9h-.9zM47.7 160.7h.9v.9h-.9zM49.8 157.8h.9v.9h-.9zM47.0 158.0h.9v.9h-.9zM42.6 159.8h.9v.9h-.9zM48.0 156.6h.9v.9h-.9zM42.4 160.9h.9v.9h-.9zM46.7 161.0h.9v.9h-.9zM44.5 157.7h.9v.9h-.9zM49.6 160.9h.9v.9h-.9zM32.8 161.5h.9v.9h-.9zM42.4 161.0h.9v.9h-.9zM53.2 158.9h.9v.9h-.9zM41.5 160.1h.9v.9h-.9zM46.4 160.8h.9v.9h-.9zM39.4 160.1h.9v.9h-.9zM50.1 161.1h.9v.9h-.9zM48.9 162.2h.9v.9h-.9zM42.1 162.3h.9v.9h-.9zM46.9 157.2h.9v.9h-.9zM44.6 160.1h.9v.9h-.9zM47.5 162.6h.9v.9h-.9zM46.8 158.3h.9v.9h-.9zM56.1 158.7h.9v.9h-.9zM42.1 161.6h.9v.9h-.9zM44.0 157.7h.9v.9h-.9zM41.0 162.2h.9v.9h-.9zM41.0 159.7h.9v.9h-.9zM40.7 157.1h.9v.9h-.9zM37.1 162.2h.9v.9h-.9zM25.4 168.7h.9v.9h-.9zM46.0 168.8h.9v.9h-.9zM38.2 172.9h.9v.9h-.9zM35.2 181.8h.9v.9h-.9zM27.2 154.0h.9v.9h-.9zM40.9 173.6h.9v.9h-.9zM33.7 165.2h.9v.9h-.9zM32.2 160.7h.9v.9h-.9zM49.5 178.4h.9v.9h-.9zM29.7 169.9h.9v.9h-.9z" fill="#111" opacity="0.6" filter="url(#bl04)"/>
<line x1="34.5" y1="153.8" x2="34.5" y2="182.3" stroke="#4a4a4a" stroke-width="1.0"/>
<line x1="19.0" y1="168.5" x2="57.5" y2="168.5" stroke="#4a4a4a" stroke-width="1.0"/>
</g>
<rect x="19.5" y="153.5" width="38.0" height="29.0" fill="none" stroke="#111" stroke-width="1.2" />
<path d="M17.20 182.30H19.0M19.00 182.3V184.10M17.90 180.16H19.0M21.90 182.3V183.40M17.90 178.90H19.0M23.59 182.3V183.40M17.90 178.01H19.0M24.79 182.3V183.40M17.90 177.32H19.0M25.73 182.3V183.40M17.90 176.76H19.0M26.49 182.3V183.40M17.90 176.28H19.0M27.13 182.3V183.40M17.90 175.87H19.0M27.69 182.3V183.40M17.90 175.50H19.0M28.18 182.3V183.40M17.20 175.18H19.0M28.62 182.3V184.10M17.90 173.03H19.0M31.52 182.3V183.40M17.90 171.78H19.0M33.22 182.3V183.40M17.90 170.89H19.0M34.42 182.3V183.40M17.90 170.19H19.0M35.35 182.3V183.40M17.90 169.63H19.0M36.11 182.3V183.40M17.90 169.15H19.0M36.76 182.3V183.40M17.90 168.74H19.0M37.32 182.3V183.40M17.90 168.38H19.0M37.81 182.3V183.40M17.20 168.05H19.0M38.25 182.3V184.10M17.90 165.91H19.0M41.15 182.3V183.40M17.90 164.65H19.0M42.84 182.3V183.40M17.90 163.76H19.0M44.04 182.3V183.40M17.90 163.07H19.0M44.98 182.3V183.40M17.90 162.51H19.0M45.74 182.3V183.40M17.90 162.03H19.0M46.38 182.3V183.40M17.90 161.62H19.0M46.94 182.3V183.40M17.90 161.25H19.0M47.43 182.3V183.40M17.20 160.93H19.0M47.88 182.3V184.10M17.90 158.78H19.0M50.77 182.3V183.40M17.90 157.53H19.0M52.47 182.3V183.40M17.90 156.64H19.0M53.67 182.3V183.40M17.90 155.94H19.0M54.60 182.3V183.40M17.90 155.38H19.0M55.36 182.3V183.40M17.90 154.90H19.0M56.01 182.3V183.40M17.90 154.49H19.0M56.57 182.3V183.40M17.90 154.13H19.0M57.06 182.3V183.40M17.2 153.80H19.0M57.50 182.3V184.10000000000002" stroke="#111" stroke-width="0.55" fill="none"/>
<g transform="translate(15.6,182.3) rotate(-90)">
<text x="1.6" y="0" font-size="4.1" font-weight="bold" text-anchor="middle" fill="#111" stroke="#111" stroke-width="0.15">10<tspan font-size="2.9" dy="-1.6">0</tspan></text>
<text x="7.9" y="0" font-size="4.1" font-weight="bold" text-anchor="middle" fill="#111" stroke="#111" stroke-width="0.15">10<tspan font-size="2.9" dy="-1.6">1</tspan></text>
<text x="14.2" y="0" font-size="4.1" font-weight="bold" text-anchor="middle" fill="#111" stroke="#111" stroke-width="0.15">10<tspan font-size="2.9" dy="-1.6">2</tspan></text>
<text x="20.6" y="0" font-size="4.1" font-weight="bold" text-anchor="middle" fill="#111" stroke="#111" stroke-width="0.15">10<tspan font-size="2.9" dy="-1.6">3</tspan></text>
<text x="26.9" y="0" font-size="4.1" font-weight="bold" text-anchor="middle" fill="#111" stroke="#111" stroke-width="0.15">10<tspan font-size="2.9" dy="-1.6">4</tspan></text>
</g>
<text x="17.4" y="191.6" font-size="4.0" font-weight="bold" text-anchor="middle" fill="#111" stroke="#111" stroke-width="0.15">10<tspan font-size="2.8" dy="-1.6">0</tspan></text>
<text x="26.8" y="191.6" font-size="4.0" font-weight="bold" text-anchor="middle" fill="#111" stroke="#111" stroke-width="0.15">10<tspan font-size="2.8" dy="-1.6">1</tspan></text>
<text x="36.1" y="191.6" font-size="4.0" font-weight="bold" text-anchor="middle" fill="#111" stroke="#111" stroke-width="0.15">10<tspan font-size="2.8" dy="-1.6">2</tspan></text>
<text x="45.4" y="191.6" font-size="4.0" font-weight="bold" text-anchor="middle" fill="#111" stroke="#111" stroke-width="0.15">10<tspan font-size="2.8" dy="-1.6">3</tspan></text>
<text x="54.8" y="191.6" font-size="4.0" font-weight="bold" text-anchor="middle" fill="#111" stroke="#111" stroke-width="0.15">10<tspan font-size="2.8" dy="-1.6">4</tspan></text>
<clipPath id="clip13"><rect x="63.4" y="153.8" width="38.5" height="28.5"/></clipPath>
<g clip-path="url(#clip13)">
<ellipse cx="73.0" cy="172.0" rx="4.3" ry="8.8" transform="rotate(0 73.0 172.0)" fill="#111" opacity="0.47" filter="url(#bl)"/>
<ellipse cx="85.0" cy="160.1" rx="9.7" ry="2.8" transform="rotate(0 85.0 160.1)" fill="#111" opacity="0.37" filter="url(#bl)"/>
<ellipse cx="76.1" cy="162.4" rx="3.8" ry="4.0" transform="rotate(0 76.1 162.4)" fill="#111" opacity="0.37" filter="url(#bl)"/>
<path d="M71.4 172.9h.9v.9h-.9zM72.6 164.4h.9v.9h-.9zM79.8 171.2h.9v.9h-.9zM75.0 169.3h.9v.9h-.9zM77.4 179.3h.9v.9h-.9zM76.7 178.1h.9v.9h-.9zM75.2 180.8h.9v.9h-.9zM74.3 172.9h.9v.9h-.9zM75.5 166.5h.9v.9h-.9zM65.2 177.2h.9v.9h-.9zM73.5 167.7h.9v.9h-.9zM72.2 166.1h.9v.9h-.9zM70.4 173.3h.9v.9h-.9zM73.4 177.3h.9v.9h-.9zM72.7 176.1h.9v.9h-.9zM75.1 167.7h.9v.9h-.9zM67.8 167.8h.9v.9h-.9zM72.2 168.7h.9v.9h-.9zM79.9 167.8h.9v.9h-.9zM74.5 167.3h.9v.9h-.9zM75.2 164.2h.9v.9h-.9zM76.0 173.2h.9v.9h-.9zM71.8 164.6h.9v.9h-.9zM78.2 168.5h.9v.9h-.9zM77.5 157.0h.9v.9h-.9zM78.5 172.2h.9v.9h-.9zM76.1 175.9h.9v.9h-.9zM71.9 172.9h.9v.9h-.9zM69.5 163.7h.9v.9h-.9zM73.4 176.7h.9v.9h-.9zM73.5 164.4h.9v.9h-.9zM75.6 172.7h.9v.9h-.9zM75.3 170.3h.9v.9h-.9zM72.2 178.7h.9v.9h-.9zM77.3 164.6h.9v.9h-.9zM69.6 178.2h.9v.9h-.9zM74.1 172.4h.9v.9h-.9zM70.0 178.4h.9v.9h-.9zM73.6 173.5h.9v.9h-.9zM74.2 168.8h.9v.9h-.9zM74.3 172.9h.9v.9h-.9zM75.2 174.5h.9v.9h-.9zM69.1 167.7h.9v.9h-.9zM72.2 179.4h.9v.9h-.9zM71.0 179.2h.9v.9h-.9zM76.4 177.6h.9v.9h-.9zM80.0 172.1h.9v.9h-.9zM74.0 179.8h.9v.9h-.9zM74.3 178.3h.9v.9h-.9zM72.6 181.0h.9v.9h-.9zM74.1 160.1h.9v.9h-.9zM76.4 170.9h.9v.9h-.9zM70.3 170.3h.9v.9h-.9zM72.2 179.3h.9v.9h-.9zM74.1 171.7h.9v.9h-.9zM73.0 166.5h.9v.9h-.9zM71.0 169.2h.9v.9h-.9zM72.3 164.8h.9v.9h-.9zM71.8 178.4h.9v.9h-.9zM74.4 172.1h.9v.9h-.9zM74.1 170.6h.9v.9h-.9zM69.4 177.6h.9v.9h-.9zM80.0 175.3h.9v.9h-.9zM69.3 175.4h.9v.9h-.9zM72.0 170.4h.9v.9h-.9zM67.9 171.6h.9v.9h-.9zM74.3 162.1h.9v.9h-.9zM72.3 169.1h.9v.9h-.9zM69.9 176.1h.9v.9h-.9zM78.1 174.7h.9v.9h-.9zM76.2 176.9h.9v.9h-.9zM72.8 175.8h.9v.9h-.9zM77.1 169.5h.9v.9h-.9zM72.6 163.5h.9v.9h-.9zM67.3 167.0h.9v.9h-.9zM75.8 174.4h.9v.9h-.9zM73.8 180.3h.9v.9h-.9zM67.6 180.7h.9v.9h-.9zM73.3 177.0h.9v.9h-.9zM77.3 167.1h.9v.9h-.9zM70.3 174.6h.9v.9h-.9zM72.8 168.5h.9v.9h-.9zM72.6 167.6h.9v.9h-.9zM73.4 169.7h.9v.9h-.9zM78.3 165.6h.9v.9h-.9zM74.8 172.6h.9v.9h-.9zM77.9 166.1h.9v.9h-.9zM71.0 169.8h.9v.9h-.9zM71.8 166.0h.9v.9h-.9zM76.8 181.6h.9v.9h-.9zM72.6 167.5h.9v.9h-.9zM68.8 176.2h.9v.9h-.9zM71.4 175.5h.9v.9h-.9zM65.6 169.5h.9v.9h-.9zM75.0 174.7h.9v.9h-.9zM64.2 174.0h.9v.9h-.9zM73.4 172.0h.9v.9h-.9zM72.0 169.4h.9v.9h-.9zM73.5 175.3h.9v.9h-.9zM75.9 170.8h.9v.9h-.9zM76.8 166.3h.9v.9h-.9zM78.9 178.1h.9v.9h-.9zM77.5 182.0h.9v.9h-.9zM69.3 171.4h.9v.9h-.9zM74.5 178.7h.9v.9h-.9zM73.3 164.1h.9v.9h-.9zM76.8 171.1h.9v.9h-.9zM74.4 170.1h.9v.9h-.9zM72.7 163.6h.9v.9h-.9zM75.1 168.2h.9v.9h-.9zM67.5 174.7h.9v.9h-.9zM72.9 178.1h.9v.9h-.9zM75.6 164.6h.9v.9h-.9zM72.5 172.1h.9v.9h-.9zM73.3 165.6h.9v.9h-.9zM73.3 178.2h.9v.9h-.9zM76.9 181.2h.9v.9h-.9zM75.4 156.5h.9v.9h-.9zM72.2 168.7h.9v.9h-.9zM64.1 181.7h.9v.9h-.9zM75.8 172.1h.9v.9h-.9zM74.1 175.1h.9v.9h-.9zM72.4 180.6h.9v.9h-.9zM78.7 177.2h.9v.9h-.9zM71.3 173.7h.9v.9h-.9zM76.0 176.6h.9v.9h-.9zM70.9 178.0h.9v.9h-.9zM75.3 175.7h.9v.9h-.9zM71.7 171.9h.9v.9h-.9zM67.1 171.9h.9v.9h-.9zM71.7 170.3h.9v.9h-.9zM72.2 170.1h.9v.9h-.9zM73.3 172.7h.9v.9h-.9zM71.1 171.3h.9v.9h-.9zM72.7 175.2h.9v.9h-.9zM74.4 169.9h.9v.9h-.9zM70.5 161.9h.9v.9h-.9zM69.2 174.6h.9v.9h-.9zM70.2 182.1h.9v.9h-.9zM72.5 169.7h.9v.9h-.9zM72.5 168.7h.9v.9h-.9zM71.1 172.5h.9v.9h-.9zM68.6 172.9h.9v.9h-.9zM72.7 166.5h.9v.9h-.9zM76.2 174.4h.9v.9h-.9zM76.4 168.0h.9v.9h-.9zM69.2 164.8h.9v.9h-.9zM68.2 160.4h.9v.9h-.9zM77.9 169.2h.9v.9h-.9zM73.6 168.8h.9v.9h-.9zM72.6 181.9h.9v.9h-.9zM67.7 166.0h.9v.9h-.9zM73.4 166.5h.9v.9h-.9zM75.2 180.1h.9v.9h-.9zM75.8 176.7h.9v.9h-.9zM72.5 178.3h.9v.9h-.9zM70.6 164.7h.9v.9h-.9zM72.2 170.5h.9v.9h-.9zM76.8 166.0h.9v.9h-.9zM76.6 167.3h.9v.9h-.9zM69.1 161.6h.9v.9h-.9zM72.9 163.1h.9v.9h-.9zM73.7 172.4h.9v.9h-.9zM71.8 160.2h.9v.9h-.9zM71.4 174.9h.9v.9h-.9zM67.5 176.4h.9v.9h-.9zM73.1 168.7h.9v.9h-.9zM73.7 176.1h.9v.9h-.9zM73.0 167.3h.9v.9h-.9zM75.5 167.9h.9v.9h-.9zM74.1 178.1h.9v.9h-.9zM77.1 182.0h.9v.9h-.9zM76.2 173.0h.9v.9h-.9zM72.4 173.3h.9v.9h-.9zM75.1 167.0h.9v.9h-.9zM77.7 162.2h.9v.9h-.9zM76.1 164.2h.9v.9h-.9zM69.7 169.0h.9v.9h-.9zM72.1 163.7h.9v.9h-.9zM74.9 171.4h.9v.9h-.9zM77.2 165.8h.9v.9h-.9zM67.4 176.3h.9v.9h-.9zM72.3 178.1h.9v.9h-.9zM65.8 164.3h.9v.9h-.9zM69.2 160.3h.9v.9h-.9zM71.6 180.8h.9v.9h-.9zM77.9 163.6h.9v.9h-.9zM71.1 160.7h.9v.9h-.9zM70.4 166.1h.9v.9h-.9zM74.3 179.1h.9v.9h-.9zM80.4 169.9h.9v.9h-.9zM75.6 173.4h.9v.9h-.9zM75.2 181.8h.9v.9h-.9zM74.0 177.4h.9v.9h-.9zM74.6 171.5h.9v.9h-.9zM70.9 169.6h.9v.9h-.9zM73.1 169.7h.9v.9h-.9zM72.0 167.7h.9v.9h-.9zM75.7 170.6h.9v.9h-.9zM72.7 170.7h.9v.9h-.9zM77.1 168.7h.9v.9h-.9zM77.4 166.7h.9v.9h-.9zM77.7 175.9h.9v.9h-.9zM71.5 174.9h.9v.9h-.9zM76.5 166.2h.9v.9h-.9zM72.3 174.0h.9v.9h-.9zM72.4 170.3h.9v.9h-.9zM73.1 174.0h.9v.9h-.9zM75.4 181.2h.9v.9h-.9zM72.6 163.1h.9v.9h-.9zM82.0 159.4h.9v.9h-.9zM92.4 156.1h.9v.9h-.9zM80.6 159.8h.9v.9h-.9zM89.5 160.9h.9v.9h-.9zM90.9 159.8h.9v.9h-.9zM83.4 162.5h.9v.9h-.9zM96.9 160.8h.9v.9h-.9zM86.1 158.4h.9v.9h-.9zM99.6 160.9h.9v.9h-.9zM89.3 156.9h.9v.9h-.9zM89.2 164.9h.9v.9h-.9zM83.8 159.7h.9v.9h-.9zM95.6 159.7h.9v.9h-.9zM90.8 163.9h.9v.9h-.9zM76.9 158.4h.9v.9h-.9zM89.7 160.3h.9v.9h-.9zM85.3 159.7h.9v.9h-.9zM85.9 160.8h.9v.9h-.9zM81.7 159.5h.9v.9h-.9zM86.6 157.9h.9v.9h-.9zM88.0 155.7h.9v.9h-.9zM89.4 159.8h.9v.9h-.9zM76.8 162.7h.9v.9h-.9zM76.9 164.2h.9v.9h-.9zM79.9 162.5h.9v.9h-.9zM84.5 163.3h.9v.9h-.9zM83.4 162.1h.9v.9h-.9zM82.8 156.4h.9v.9h-.9zM87.7 161.0h.9v.9h-.9zM87.8 163.4h.9v.9h-.9zM79.9 157.3h.9v.9h-.9zM86.8 158.7h.9v.9h-.9zM84.3 160.1h.9v.9h-.9zM79.3 162.2h.9v.9h-.9zM84.2 163.6h.9v.9h-.9zM86.7 162.2h.9v.9h-.9zM83.0 158.8h.9v.9h-.9zM81.3 158.3h.9v.9h-.9zM88.1 160.4h.9v.9h-.9zM77.5 157.0h.9v.9h-.9zM79.1 156.5h.9v.9h-.9zM78.9 157.1h.9v.9h-.9zM89.9 157.8h.9v.9h-.9zM80.9 159.8h.9v.9h-.9zM85.2 160.9h.9v.9h-.9zM90.3 161.3h.9v.9h-.9zM82.6 162.5h.9v.9h-.9zM87.6 158.7h.9v.9h-.9zM95.3 157.7h.9v.9h-.9zM88.3 162.6h.9v.9h-.9zM85.8 160.8h.9v.9h-.9zM85.8 161.4h.9v.9h-.9zM86.5 160.1h.9v.9h-.9zM89.8 156.3h.9v.9h-.9zM86.7 159.5h.9v.9h-.9zM98.5 160.6h.9v.9h-.9zM80.5 161.4h.9v.9h-.9zM82.4 157.7h.9v.9h-.9zM83.1 161.1h.9v.9h-.9zM93.2 162.2h.9v.9h-.9zM86.6 159.8h.9v.9h-.9zM86.4 162.5h.9v.9h-.9zM84.1 162.4h.9v.9h-.9zM79.5 160.1h.9v.9h-.9zM90.3 161.5h.9v.9h-.9zM86.4 159.1h.9v.9h-.9zM72.7 159.2h.9v.9h-.9zM79.2 159.3h.9v.9h-.9zM95.8 158.6h.9v.9h-.9zM90.8 160.0h.9v.9h-.9zM77.4 160.3h.9v.9h-.9zM90.1 157.7h.9v.9h-.9zM77.0 159.3h.9v.9h-.9zM90.0 158.9h.9v.9h-.9zM87.9 161.0h.9v.9h-.9zM85.1 161.0h.9v.9h-.9zM93.7 159.7h.9v.9h-.9zM87.2 158.0h.9v.9h-.9zM80.1 159.9h.9v.9h-.9zM90.6 158.8h.9v.9h-.9zM75.5 161.9h.9v.9h-.9zM101.2 155.0h.9v.9h-.9zM77.7 160.3h.9v.9h-.9zM88.3 158.2h.9v.9h-.9zM87.3 162.2h.9v.9h-.9zM83.1 161.5h.9v.9h-.9zM85.9 158.2h.9v.9h-.9zM80.8 158.9h.9v.9h-.9zM94.1 162.4h.9v.9h-.9zM86.6 157.0h.9v.9h-.9zM81.7 159.3h.9v.9h-.9zM71.8 160.0h.9v.9h-.9zM86.9 157.5h.9v.9h-.9zM82.1 159.2h.9v.9h-.9zM97.6 161.4h.9v.9h-.9zM90.2 160.2h.9v.9h-.9zM76.3 161.9h.9v.9h-.9zM80.4 156.3h.9v.9h-.9zM89.9 159.4h.9v.9h-.9zM85.0 161.1h.9v.9h-.9zM83.4 160.9h.9v.9h-.9zM93.8 159.4h.9v.9h-.9zM82.6 160.1h.9v.9h-.9zM89.4 159.3h.9v.9h-.9zM85.5 158.7h.9v.9h-.9zM84.5 161.1h.9v.9h-.9zM79.4 159.7h.9v.9h-.9zM75.1 158.7h.9v.9h-.9zM85.5 161.1h.9v.9h-.9zM78.0 159.9h.9v.9h-.9zM78.7 160.7h.9v.9h-.9zM86.8 160.9h.9v.9h-.9zM83.6 157.3h.9v.9h-.9zM81.2 157.4h.9v.9h-.9zM80.4 160.0h.9v.9h-.9zM92.3 158.8h.9v.9h-.9zM79.8 160.5h.9v.9h-.9zM71.0 164.0h.9v.9h-.9zM74.6 162.1h.9v.9h-.9zM91.6 162.0h.9v.9h-.9zM84.3 161.5h.9v.9h-.9zM82.7 162.0h.9v.9h-.9zM80.6 158.5h.9v.9h-.9zM87.5 159.2h.9v.9h-.9zM89.5 158.4h.9v.9h-.9zM86.8 158.1h.9v.9h-.9zM84.3 164.3h.9v.9h-.9zM77.7 157.7h.9v.9h-.9zM74.2 159.6h.9v.9h-.9zM95.9 159.2h.9v.9h-.9zM91.3 159.7h.9v.9h-.9zM80.7 164.0h.9v.9h-.9zM92.3 156.5h.9v.9h-.9zM78.4 160.9h.9v.9h-.9zM89.4 159.6h.9v.9h-.9zM87.1 161.1h.9v.9h-.9zM82.6 162.0h.9v.9h-.9zM79.3 161.6h.9v.9h-.9zM91.1 160.5h.9v.9h-.9zM82.7 160.0h.9v.9h-.9zM70.0 160.6h.9v.9h-.9zM75.4 156.1h.9v.9h-.9zM90.1 158.3h.9v.9h-.9zM87.4 160.2h.9v.9h-.9zM73.1 158.3h.9v.9h-.9zM83.2 161.0h.9v.9h-.9zM85.4 157.6h.9v.9h-.9zM81.4 160.3h.9v.9h-.9zM76.4 159.2h.9v.9h-.9zM81.3 155.9h.9v.9h-.9zM96.6 161.8h.9v.9h-.9zM81.8 161.9h.9v.9h-.9zM78.0 163.1h.9v.9h-.9zM82.5 160.3h.9v.9h-.9zM81.1 160.3h.9v.9h-.9zM87.2 160.1h.9v.9h-.9zM79.4 161.6h.9v.9h-.9zM88.7 160.1h.9v.9h-.9zM92.0 158.6h.9v.9h-.9zM93.6 159.8h.9v.9h-.9zM95.2 159.2h.9v.9h-.9zM83.3 160.5h.9v.9h-.9zM92.3 162.9h.9v.9h-.9zM81.9 158.6h.9v.9h-.9zM90.1 162.5h.9v.9h-.9zM89.7 159.4h.9v.9h-.9zM93.5 160.0h.9v.9h-.9zM86.1 161.3h.9v.9h-.9zM81.2 155.6h.9v.9h-.9zM86.4 161.5h.9v.9h-.9zM87.9 161.1h.9v.9h-.9zM86.1 162.1h.9v.9h-.9zM85.7 163.0h.9v.9h-.9zM85.3 161.6h.9v.9h-.9zM81.3 160.7h.9v.9h-.9zM87.8 160.3h.9v.9h-.9zM95.3 160.2h.9v.9h-.9zM92.5 160.8h.9v.9h-.9zM92.3 158.3h.9v.9h-.9zM82.5 162.0h.9v.9h-.9zM79.5 160.8h.9v.9h-.9zM88.8 160.5h.9v.9h-.9zM87.9 161.1h.9v.9h-.9zM83.4 160.9h.9v.9h-.9zM81.5 159.2h.9v.9h-.9zM74.3 159.9h.9v.9h-.9zM73.6 160.1h.9v.9h-.9zM86.4 157.9h.9v.9h-.9zM85.4 160.6h.9v.9h-.9zM82.6 158.3h.9v.9h-.9zM84.2 160.9h.9v.9h-.9zM91.2 163.9h.9v.9h-.9zM71.7 160.7h.9v.9h-.9zM87.9 158.8h.9v.9h-.9zM87.1 164.2h.9v.9h-.9zM85.7 162.8h.9v.9h-.9zM92.1 159.2h.9v.9h-.9zM69.5 162.4h.9v.9h-.9zM95.3 156.6h.9v.9h-.9zM83.6 158.7h.9v.9h-.9zM76.6 162.5h.9v.9h-.9zM79.1 160.7h.9v.9h-.9zM81.1 157.6h.9v.9h-.9zM76.7 169.9h.9v.9h-.9zM75.9 164.1h.9v.9h-.9zM74.9 171.6h.9v.9h-.9zM78.4 161.4h.9v.9h-.9zM71.1 162.9h.9v.9h-.9zM78.0 156.6h.9v.9h-.9zM74.8 163.9h.9v.9h-.9zM69.8 161.8h.9v.9h-.9zM72.0 158.6h.9v.9h-.9zM77.2 165.5h.9v.9h-.9zM79.1 160.5h.9v.9h-.9zM77.4 157.4h.9v.9h-.9zM72.2 163.9h.9v.9h-.9zM75.1 159.5h.9v.9h-.9zM71.2 161.7h.9v.9h-.9zM81.9 156.7h.9v.9h-.9zM73.4 165.5h.9v.9h-.9zM71.1 160.6h.9v.9h-.9zM76.3 165.5h.9v.9h-.9zM75.9 167.5h.9v.9h-.9zM76.0 162.0h.9v.9h-.9zM77.3 163.3h.9v.9h-.9zM72.2 159.7h.9v.9h-.9zM75.5 163.3h.9v.9h-.9zM72.9 160.3h.9v.9h-.9zM74.2 163.3h.9v.9h-.9zM75.0 164.1h.9v.9h-.9zM77.1 159.8h.9v.9h-.9zM75.3 158.8h.9v.9h-.9zM76.4 164.6h.9v.9h-.9zM73.5 157.4h.9v.9h-.9zM77.5 161.5h.9v.9h-.9zM76.0 163.7h.9v.9h-.9zM77.1 165.0h.9v.9h-.9zM74.9 156.1h.9v.9h-.9zM74.8 161.5h.9v.9h-.9zM75.0 163.5h.9v.9h-.9zM75.5 166.0h.9v.9h-.9zM74.4 162.3h.9v.9h-.9zM75.2 168.3h.9v.9h-.9zM73.6 159.5h.9v.9h-.9zM75.1 164.5h.9v.9h-.9zM76.1 161.9h.9v.9h-.9zM72.3 156.5h.9v.9h-.9zM75.5 161.7h.9v.9h-.9zM80.7 163.4h.9v.9h-.9zM77.2 165.1h.9v.9h-.9zM73.8 158.9h.9v.9h-.9zM75.1 166.5h.9v.9h-.9zM78.7 160.7h.9v.9h-.9zM72.8 165.0h.9v.9h-.9zM79.0 159.2h.9v.9h-.9zM80.3 160.2h.9v.9h-.9zM78.1 161.8h.9v.9h-.9zM75.2 160.6h.9v.9h-.9zM77.9 164.1h.9v.9h-.9zM78.2 161.6h.9v.9h-.9zM73.9 168.4h.9v.9h-.9zM80.6 161.8h.9v.9h-.9zM73.1 166.6h.9v.9h-.9zM76.5 162.5h.9v.9h-.9zM78.3 163.3h.9v.9h-.9zM76.4 168.0h.9v.9h-.9zM71.1 164.2h.9v.9h-.9zM73.5 162.6h.9v.9h-.9zM75.7 163.1h.9v.9h-.9zM69.8 164.3h.9v.9h-.9zM82.2 161.2h.9v.9h-.9zM78.5 164.1h.9v.9h-.9zM76.9 160.9h.9v.9h-.9zM77.8 163.1h.9v.9h-.9zM79.9 164.7h.9v.9h-.9zM74.2 154.1h.9v.9h-.9zM80.1 163.7h.9v.9h-.9zM76.6 160.6h.9v.9h-.9zM82.7 166.1h.9v.9h-.9zM76.4 161.3h.9v.9h-.9zM70.6 172.6h.9v.9h-.9zM70.0 166.2h.9v.9h-.9zM69.2 156.4h.9v.9h-.9zM82.0 169.3h.9v.9h-.9zM96.0 153.9h.9v.9h-.9zM77.1 155.9h.9v.9h-.9zM84.7 158.5h.9v.9h-.9zM76.1 181.4h.9v.9h-.9zM88.4 172.9h.9v.9h-.9zM86.7 159.5h.9v.9h-.9zM89.8 181.5h.9v.9h-.9zM66.8 177.7h.9v.9h-.9z" fill="#111" opacity="0.6" filter="url(#bl04)"/>
<line x1="78.5" y1="153.8" x2="78.5" y2="182.3" stroke="#4a4a4a" stroke-width="1.0"/>
<line x1="63.4" y1="168.5" x2="101.9" y2="168.5" stroke="#4a4a4a" stroke-width="1.0"/>
</g>
<rect x="63.5" y="153.5" width="38.0" height="29.0" fill="none" stroke="#111" stroke-width="1.2" />
<path d="M61.60 182.30H63.4M63.40 182.3V184.10M62.30 180.16H63.4M66.30 182.3V183.40M62.30 178.90H63.4M67.99 182.3V183.40M62.30 178.01H63.4M69.19 182.3V183.40M62.30 177.32H63.4M70.13 182.3V183.40M62.30 176.76H63.4M70.89 182.3V183.40M62.30 176.28H63.4M71.53 182.3V183.40M62.30 175.87H63.4M72.09 182.3V183.40M62.30 175.50H63.4M72.58 182.3V183.40M61.60 175.18H63.4M73.03 182.3V184.10M62.30 173.03H63.4M75.92 182.3V183.40M62.30 171.78H63.4M77.62 182.3V183.40M62.30 170.89H63.4M78.82 182.3V183.40M62.30 170.19H63.4M79.75 182.3V183.40M62.30 169.63H63.4M80.51 182.3V183.40M62.30 169.15H63.4M81.16 182.3V183.40M62.30 168.74H63.4M81.72 182.3V183.40M62.30 168.38H63.4M82.21 182.3V183.40M61.60 168.05H63.4M82.65 182.3V184.10M62.30 165.91H63.4M85.55 182.3V183.40M62.30 164.65H63.4M87.24 182.3V183.40M62.30 163.76H63.4M88.44 182.3V183.40M62.30 163.07H63.4M89.38 182.3V183.40M62.30 162.51H63.4M90.14 182.3V183.40M62.30 162.03H63.4M90.78 182.3V183.40M62.30 161.62H63.4M91.34 182.3V183.40M62.30 161.25H63.4M91.83 182.3V183.40M61.60 160.93H63.4M92.28 182.3V184.10M62.30 158.78H63.4M95.17 182.3V183.40M62.30 157.53H63.4M96.87 182.3V183.40M62.30 156.64H63.4M98.07 182.3V183.40M62.30 155.94H63.4M99.00 182.3V183.40M62.30 155.38H63.4M99.76 182.3V183.40M62.30 154.90H63.4M100.41 182.3V183.40M62.30 154.49H63.4M100.97 182.3V183.40M62.30 154.13H63.4M101.46 182.3V183.40M61.6 153.80H63.4M101.90 182.3V184.10000000000002" stroke="#111" stroke-width="0.55" fill="none"/>
<text x="61.8" y="191.6" font-size="4.0" font-weight="bold" text-anchor="middle" fill="#111" stroke="#111" stroke-width="0.15">10<tspan font-size="2.8" dy="-1.6">0</tspan></text>
<text x="71.1" y="191.6" font-size="4.0" font-weight="bold" text-anchor="middle" fill="#111" stroke="#111" stroke-width="0.15">10<tspan font-size="2.8" dy="-1.6">1</tspan></text>
<text x="80.5" y="191.6" font-size="4.0" font-weight="bold" text-anchor="middle" fill="#111" stroke="#111" stroke-width="0.15">10<tspan font-size="2.8" dy="-1.6">2</tspan></text>
<text x="89.8" y="191.6" font-size="4.0" font-weight="bold" text-anchor="middle" fill="#111" stroke="#111" stroke-width="0.15">10<tspan font-size="2.8" dy="-1.6">3</tspan></text>
<text x="99.2" y="191.6" font-size="4.0" font-weight="bold" text-anchor="middle" fill="#111" stroke="#111" stroke-width="0.15">10<tspan font-size="2.8" dy="-1.6">4</tspan></text>
<clipPath id="clip14"><rect x="108.6" y="153.8" width="38.5" height="28.5"/></clipPath>
<g clip-path="url(#clip14)">
<ellipse cx="115.1" cy="172.0" rx="3.2" ry="10.0" transform="rotate(10 115.1 172.0)" fill="#111" opacity="0.53" filter="url(#bl)"/>
<ellipse cx="120.1" cy="160.1" rx="4.3" ry="4.0" transform="rotate(0 120.1 160.1)" fill="#111" opacity="0.42" filter="url(#bl)"/>
<ellipse cx="134.0" cy="158.9" rx="6.5" ry="3.6" transform="rotate(0 134.0 158.9)" fill="#111" opacity="0.58" filter="url(#bl)"/>
<path d="M113.6 175.8h.9v.9h-.9zM114.7 160.3h.9v.9h-.9zM115.2 176.2h.9v.9h-.9zM113.6 171.7h.9v.9h-.9zM117.3 173.6h.9v.9h-.9zM114.8 176.2h.9v.9h-.9zM112.0 162.2h.9v.9h-.9zM112.0 173.2h.9v.9h-.9zM116.1 158.6h.9v.9h-.9zM117.4 171.1h.9v.9h-.9zM113.0 162.5h.9v.9h-.9zM115.6 174.7h.9v.9h-.9zM115.9 176.9h.9v.9h-.9zM111.4 176.7h.9v.9h-.9zM117.9 169.6h.9v.9h-.9zM113.7 168.3h.9v.9h-.9zM113.2 175.5h.9v.9h-.9zM116.9 172.5h.9v.9h-.9zM116.6 159.5h.9v.9h-.9zM115.4 164.9h.9v.9h-.9zM113.5 174.2h.9v.9h-.9zM113.8 168.0h.9v.9h-.9zM112.9 169.8h.9v.9h-.9zM113.3 178.9h.9v.9h-.9zM109.6 177.6h.9v.9h-.9zM117.2 168.6h.9v.9h-.9zM113.4 173.1h.9v.9h-.9zM116.5 171.1h.9v.9h-.9zM114.8 172.1h.9v.9h-.9zM112.4 173.5h.9v.9h-.9zM116.4 172.6h.9v.9h-.9zM112.6 171.6h.9v.9h-.9zM114.5 174.2h.9v.9h-.9zM113.2 177.7h.9v.9h-.9zM116.6 178.2h.9v.9h-.9zM114.2 180.6h.9v.9h-.9zM115.3 170.9h.9v.9h-.9zM111.9 171.6h.9v.9h-.9zM119.1 165.9h.9v.9h-.9zM118.5 163.5h.9v.9h-.9zM116.7 164.0h.9v.9h-.9zM116.0 171.2h.9v.9h-.9zM117.6 168.7h.9v.9h-.9zM111.8 168.1h.9v.9h-.9zM115.2 179.4h.9v.9h-.9zM115.7 172.3h.9v.9h-.9zM116.9 171.0h.9v.9h-.9zM113.8 173.4h.9v.9h-.9zM118.2 169.0h.9v.9h-.9zM117.0 167.8h.9v.9h-.9zM113.3 173.0h.9v.9h-.9zM113.2 165.6h.9v.9h-.9zM113.2 167.4h.9v.9h-.9zM116.4 172.8h.9v.9h-.9zM115.0 155.1h.9v.9h-.9zM116.9 167.9h.9v.9h-.9zM118.0 169.8h.9v.9h-.9zM113.0 167.1h.9v.9h-.9zM113.4 161.7h.9v.9h-.9zM117.4 168.7h.9v.9h-.9zM117.4 168.5h.9v.9h-.9zM115.3 168.2h.9v.9h-.9zM114.7 167.3h.9v.9h-.9zM118.6 172.3h.9v.9h-.9zM116.6 180.3h.9v.9h-.9zM115.1 170.9h.9v.9h-.9zM113.9 172.7h.9v.9h-.9zM116.2 172.2h.9v.9h-.9zM114.4 165.1h.9v.9h-.9zM113.1 167.2h.9v.9h-.9zM114.3 176.1h.9v.9h-.9zM114.6 173.6h.9v.9h-.9zM114.6 180.0h.9v.9h-.9zM110.8 179.0h.9v.9h-.9zM115.5 175.9h.9v.9h-.9zM112.0 169.9h.9v.9h-.9zM113.8 176.3h.9v.9h-.9zM115.8 177.0h.9v.9h-.9zM110.7 180.1h.9v.9h-.9zM114.1 178.5h.9v.9h-.9zM115.9 167.3h.9v.9h-.9zM120.3 177.6h.9v.9h-.9zM117.4 169.2h.9v.9h-.9zM113.3 179.6h.9v.9h-.9zM119.1 165.2h.9v.9h-.9zM110.2 179.4h.9v.9h-.9zM116.8 170.5h.9v.9h-.9zM115.1 168.2h.9v.9h-.9zM119.4 171.7h.9v.9h-.9zM110.9 177.7h.9v.9h-.9zM114.5 174.5h.9v.9h-.9zM114.3 171.6h.9v.9h-.9zM110.2 175.0h.9v.9h-.9zM114.0 169.2h.9v.9h-.9zM114.3 180.9h.9v.9h-.9zM110.4 170.3h.9v.9h-.9zM115.1 179.2h.9v.9h-.9zM112.7 173.9h.9v.9h-.9zM114.9 178.5h.9v.9h-.9zM113.9 170.6h.9v.9h-.9zM112.6 179.6h.9v.9h-.9zM118.1 169.5h.9v.9h-.9zM114.5 173.5h.9v.9h-.9zM113.2 170.9h.9v.9h-.9zM116.1 177.7h.9v.9h-.9zM114.3 167.4h.9v.9h-.9zM116.6 162.1h.9v.9h-.9zM115.7 173.0h.9v.9h-.9zM112.4 170.0h.9v.9h-.9zM113.9 170.0h.9v.9h-.9zM111.5 180.9h.9v.9h-.9zM112.0 176.8h.9v.9h-.9zM113.9 181.9h.9v.9h-.9zM115.0 172.1h.9v.9h-.9zM117.5 159.4h.9v.9h-.9zM120.8 171.6h.9v.9h-.9zM115.7 164.4h.9v.9h-.9zM112.9 174.8h.9v.9h-.9zM116.3 178.9h.9v.9h-.9zM116.2 160.2h.9v.9h-.9zM115.3 176.1h.9v.9h-.9zM114.9 169.1h.9v.9h-.9zM120.9 162.2h.9v.9h-.9zM114.6 167.8h.9v.9h-.9zM112.4 166.8h.9v.9h-.9zM111.8 180.1h.9v.9h-.9zM112.8 162.2h.9v.9h-.9zM117.5 161.8h.9v.9h-.9zM111.3 167.1h.9v.9h-.9zM113.5 165.1h.9v.9h-.9zM114.2 175.1h.9v.9h-.9zM113.9 170.0h.9v.9h-.9zM116.9 171.4h.9v.9h-.9zM117.4 168.5h.9v.9h-.9zM114.7 180.8h.9v.9h-.9zM114.8 169.7h.9v.9h-.9zM114.2 175.1h.9v.9h-.9zM112.3 171.9h.9v.9h-.9zM112.1 181.4h.9v.9h-.9zM110.4 175.8h.9v.9h-.9zM115.3 167.0h.9v.9h-.9zM115.7 170.6h.9v.9h-.9zM114.9 173.7h.9v.9h-.9zM118.3 169.9h.9v.9h-.9zM122.1 154.8h.9v.9h-.9zM117.8 180.9h.9v.9h-.9zM118.4 174.1h.9v.9h-.9zM116.9 165.5h.9v.9h-.9zM119.5 164.9h.9v.9h-.9zM113.3 171.8h.9v.9h-.9zM115.2 174.5h.9v.9h-.9zM112.9 169.4h.9v.9h-.9zM114.8 180.2h.9v.9h-.9zM116.3 175.2h.9v.9h-.9zM115.1 168.4h.9v.9h-.9zM114.0 171.3h.9v.9h-.9zM116.9 169.0h.9v.9h-.9zM120.9 166.3h.9v.9h-.9zM117.2 171.1h.9v.9h-.9zM115.2 169.5h.9v.9h-.9zM118.9 170.8h.9v.9h-.9zM116.2 173.1h.9v.9h-.9zM116.1 176.3h.9v.9h-.9zM119.7 167.9h.9v.9h-.9zM117.9 173.1h.9v.9h-.9zM114.1 173.7h.9v.9h-.9zM118.9 167.6h.9v.9h-.9zM118.4 172.3h.9v.9h-.9zM114.7 169.4h.9v.9h-.9zM110.0 173.4h.9v.9h-.9zM112.8 167.9h.9v.9h-.9zM112.8 173.3h.9v.9h-.9zM116.7 172.7h.9v.9h-.9zM115.0 174.9h.9v.9h-.9zM118.1 176.6h.9v.9h-.9zM118.7 172.3h.9v.9h-.9zM116.6 168.0h.9v.9h-.9zM117.4 166.7h.9v.9h-.9zM116.9 168.1h.9v.9h-.9zM112.9 180.1h.9v.9h-.9zM114.5 177.4h.9v.9h-.9zM116.7 159.7h.9v.9h-.9zM118.6 171.5h.9v.9h-.9zM112.5 178.1h.9v.9h-.9zM113.4 166.8h.9v.9h-.9zM118.5 168.0h.9v.9h-.9zM118.0 170.6h.9v.9h-.9zM114.5 172.5h.9v.9h-.9zM112.7 179.0h.9v.9h-.9zM117.5 173.0h.9v.9h-.9zM115.8 176.0h.9v.9h-.9zM120.7 162.3h.9v.9h-.9zM116.3 178.6h.9v.9h-.9zM114.4 172.1h.9v.9h-.9zM112.9 180.2h.9v.9h-.9zM111.8 175.7h.9v.9h-.9zM117.3 176.4h.9v.9h-.9zM114.5 168.9h.9v.9h-.9zM111.5 164.5h.9v.9h-.9zM118.7 166.3h.9v.9h-.9zM111.7 169.9h.9v.9h-.9zM111.2 174.6h.9v.9h-.9zM112.0 178.1h.9v.9h-.9zM116.5 162.7h.9v.9h-.9zM114.1 167.6h.9v.9h-.9zM111.7 180.0h.9v.9h-.9zM112.4 174.2h.9v.9h-.9zM113.1 175.8h.9v.9h-.9zM113.7 161.2h.9v.9h-.9zM114.6 181.8h.9v.9h-.9zM112.3 169.5h.9v.9h-.9zM115.0 165.8h.9v.9h-.9zM117.2 172.9h.9v.9h-.9zM112.2 170.2h.9v.9h-.9zM118.9 168.0h.9v.9h-.9zM114.9 166.5h.9v.9h-.9zM116.1 168.5h.9v.9h-.9zM118.1 167.0h.9v.9h-.9zM111.3 174.6h.9v.9h-.9zM109.0 164.6h.9v.9h-.9zM115.4 173.9h.9v.9h-.9zM114.3 169.0h.9v.9h-.9zM113.5 170.6h.9v.9h-.9zM113.4 175.6h.9v.9h-.9zM114.5 175.8h.9v.9h-.9zM119.1 171.0h.9v.9h-.9zM114.0 174.5h.9v.9h-.9zM126.5 159.2h.9v.9h-.9zM125.3 163.3h.9v.9h-.9zM111.7 157.5h.9v.9h-.9zM117.1 161.2h.9v.9h-.9zM124.2 160.3h.9v.9h-.9zM120.6 165.9h.9v.9h-.9zM121.2 165.9h.9v.9h-.9zM117.4 164.5h.9v.9h-.9zM117.6 158.8h.9v.9h-.9zM120.0 162.1h.9v.9h-.9zM122.2 161.5h.9v.9h-.9zM117.8 164.9h.9v.9h-.9zM123.8 160.2h.9v.9h-.9zM118.3 160.0h.9v.9h-.9zM119.4 158.2h.9v.9h-.9zM120.1 158.3h.9v.9h-.9zM122.1 158.4h.9v.9h-.9zM121.6 161.0h.9v.9h-.9zM120.6 161.5h.9v.9h-.9zM116.9 167.0h.9v.9h-.9zM118.0 162.1h.9v.9h-.9zM120.2 159.0h.9v.9h-.9zM125.5 163.1h.9v.9h-.9zM119.3 161.6h.9v.9h-.9zM122.2 164.4h.9v.9h-.9zM123.2 159.7h.9v.9h-.9zM119.3 157.0h.9v.9h-.9zM120.9 162.4h.9v.9h-.9zM118.9 161.9h.9v.9h-.9zM120.5 158.9h.9v.9h-.9zM116.4 163.1h.9v.9h-.9zM127.9 161.6h.9v.9h-.9zM116.8 157.3h.9v.9h-.9zM120.9 161.9h.9v.9h-.9zM125.8 160.6h.9v.9h-.9zM120.5 161.2h.9v.9h-.9zM119.0 159.3h.9v.9h-.9zM123.4 155.4h.9v.9h-.9zM119.8 161.6h.9v.9h-.9zM115.0 159.7h.9v.9h-.9zM124.8 161.1h.9v.9h-.9zM122.3 162.0h.9v.9h-.9zM120.8 161.1h.9v.9h-.9zM117.6 159.5h.9v.9h-.9zM125.8 156.8h.9v.9h-.9zM119.6 156.7h.9v.9h-.9zM118.5 158.0h.9v.9h-.9zM116.3 160.8h.9v.9h-.9zM117.2 161.5h.9v.9h-.9zM119.6 154.5h.9v.9h-.9zM119.7 161.1h.9v.9h-.9zM120.8 163.4h.9v.9h-.9zM120.6 155.5h.9v.9h-.9zM124.8 157.6h.9v.9h-.9zM119.8 161.0h.9v.9h-.9zM117.4 160.4h.9v.9h-.9zM124.7 155.6h.9v.9h-.9zM115.0 158.9h.9v.9h-.9zM119.6 156.7h.9v.9h-.9zM113.0 162.6h.9v.9h-.9zM121.3 156.5h.9v.9h-.9zM121.9 159.9h.9v.9h-.9zM120.6 156.5h.9v.9h-.9zM119.5 161.4h.9v.9h-.9zM114.7 157.3h.9v.9h-.9zM123.1 165.5h.9v.9h-.9zM122.2 159.9h.9v.9h-.9zM116.8 159.0h.9v.9h-.9zM119.4 161.3h.9v.9h-.9zM119.3 166.8h.9v.9h-.9zM124.2 154.2h.9v.9h-.9zM116.5 160.1h.9v.9h-.9zM123.2 161.2h.9v.9h-.9zM111.6 155.6h.9v.9h-.9zM124.3 161.7h.9v.9h-.9zM128.0 162.3h.9v.9h-.9zM121.6 164.3h.9v.9h-.9zM118.8 158.6h.9v.9h-.9zM117.0 160.8h.9v.9h-.9zM121.5 162.7h.9v.9h-.9zM124.6 161.8h.9v.9h-.9zM123.9 159.4h.9v.9h-.9zM117.2 162.1h.9v.9h-.9zM123.3 163.7h.9v.9h-.9zM119.6 158.8h.9v.9h-.9zM119.0 161.1h.9v.9h-.9zM120.0 159.6h.9v.9h-.9zM120.9 159.3h.9v.9h-.9zM121.2 158.5h.9v.9h-.9zM115.4 159.3h.9v.9h-.9zM126.0 157.9h.9v.9h-.9zM123.0 163.8h.9v.9h-.9zM118.5 160.8h.9v.9h-.9zM113.1 161.7h.9v.9h-.9zM124.9 160.6h.9v.9h-.9zM114.0 158.5h.9v.9h-.9zM117.8 160.4h.9v.9h-.9zM135.3 157.9h.9v.9h-.9zM132.6 156.9h.9v.9h-.9zM136.7 159.4h.9v.9h-.9zM135.6 157.7h.9v.9h-.9zM136.3 158.2h.9v.9h-.9zM135.4 158.6h.9v.9h-.9zM130.9 156.3h.9v.9h-.9zM125.4 155.6h.9v.9h-.9zM136.1 167.0h.9v.9h-.9zM126.4 156.9h.9v.9h-.9zM134.0 167.7h.9v.9h-.9zM133.0 156.1h.9v.9h-.9zM135.9 164.1h.9v.9h-.9zM121.1 156.1h.9v.9h-.9zM139.7 156.1h.9v.9h-.9zM133.5 157.4h.9v.9h-.9zM137.5 155.4h.9v.9h-.9zM135.4 159.5h.9v.9h-.9zM136.6 160.0h.9v.9h-.9zM134.7 154.6h.9v.9h-.9zM132.5 156.6h.9v.9h-.9zM136.5 158.4h.9v.9h-.9zM134.7 161.7h.9v.9h-.9zM133.5 163.1h.9v.9h-.9zM137.9 155.3h.9v.9h-.9zM131.3 162.0h.9v.9h-.9zM131.7 161.9h.9v.9h-.9zM131.4 158.6h.9v.9h-.9zM138.8 155.0h.9v.9h-.9zM134.4 157.8h.9v.9h-.9zM134.8 163.2h.9v.9h-.9zM136.3 155.6h.9v.9h-.9zM138.5 157.8h.9v.9h-.9zM134.8 161.8h.9v.9h-.9zM132.6 161.3h.9v.9h-.9zM134.8 156.7h.9v.9h-.9zM132.6 155.6h.9v.9h-.9zM139.5 159.3h.9v.9h-.9zM138.5 156.2h.9v.9h-.9zM137.9 156.0h.9v.9h-.9zM135.3 158.9h.9v.9h-.9zM131.3 159.7h.9v.9h-.9zM134.2 156.8h.9v.9h-.9zM130.6 155.7h.9v.9h-.9zM140.4 159.3h.9v.9h-.9zM132.3 160.7h.9v.9h-.9zM130.0 156.1h.9v.9h-.9zM135.7 162.9h.9v.9h-.9zM135.4 159.3h.9v.9h-.9zM142.1 155.1h.9v.9h-.9zM133.7 155.6h.9v.9h-.9zM128.4 158.3h.9v.9h-.9zM145.3 156.6h.9v.9h-.9zM131.2 159.6h.9v.9h-.9zM129.3 158.3h.9v.9h-.9zM132.6 158.2h.9v.9h-.9zM131.6 158.6h.9v.9h-.9zM125.7 157.8h.9v.9h-.9zM131.6 156.4h.9v.9h-.9zM139.8 163.9h.9v.9h-.9zM137.7 156.8h.9v.9h-.9zM140.6 160.2h.9v.9h-.9zM130.2 160.4h.9v.9h-.9zM131.3 160.4h.9v.9h-.9zM138.3 161.8h.9v.9h-.9zM129.1 158.6h.9v.9h-.9zM134.0 155.9h.9v.9h-.9zM135.9 160.7h.9v.9h-.9zM127.6 157.6h.9v.9h-.9zM128.9 155.8h.9v.9h-.9zM129.1 162.3h.9v.9h-.9zM130.9 158.0h.9v.9h-.9zM138.6 161.5h.9v.9h-.9zM137.5 154.6h.9v.9h-.9zM131.1 157.9h.9v.9h-.9zM131.4 163.8h.9v.9h-.9zM133.2 161.8h.9v.9h-.9zM133.2 158.8h.9v.9h-.9zM136.4 160.0h.9v.9h-.9zM136.3 154.6h.9v.9h-.9zM136.4 159.7h.9v.9h-.9zM136.8 158.8h.9v.9h-.9zM135.9 155.7h.9v.9h-.9zM139.2 155.9h.9v.9h-.9zM140.5 161.5h.9v.9h-.9zM133.7 158.2h.9v.9h-.9zM137.6 158.2h.9v.9h-.9zM128.5 159.6h.9v.9h-.9zM128.4 157.8h.9v.9h-.9zM142.3 160.9h.9v.9h-.9zM131.9 158.8h.9v.9h-.9zM131.0 158.9h.9v.9h-.9zM127.3 160.6h.9v.9h-.9zM134.1 157.4h.9v.9h-.9zM131.2 165.5h.9v.9h-.9zM132.0 157.7h.9v.9h-.9zM131.3 157.7h.9v.9h-.9zM140.1 160.6h.9v.9h-.9zM135.9 159.8h.9v.9h-.9zM141.0 160.7h.9v.9h-.9zM135.0 159.6h.9v.9h-.9zM134.9 159.0h.9v.9h-.9zM136.6 159.0h.9v.9h-.9zM138.5 159.7h.9v.9h-.9zM132.7 160.4h.9v.9h-.9zM134.9 157.8h.9v.9h-.9zM132.3 157.9h.9v.9h-.9zM132.6 157.8h.9v.9h-.9zM138.5 166.2h.9v.9h-.9zM133.5 161.7h.9v.9h-.9zM131.8 158.5h.9v.9h-.9zM130.6 155.5h.9v.9h-.9zM130.1 157.7h.9v.9h-.9zM134.7 158.1h.9v.9h-.9zM128.5 158.0h.9v.9h-.9zM141.0 156.7h.9v.9h-.9zM134.3 161.4h.9v.9h-.9zM130.3 157.5h.9v.9h-.9zM131.6 159.3h.9v.9h-.9zM134.5 159.3h.9v.9h-.9zM136.2 158.2h.9v.9h-.9zM123.8 156.5h.9v.9h-.9zM134.7 155.5h.9v.9h-.9zM132.5 162.7h.9v.9h-.9zM135.1 157.3h.9v.9h-.9zM134.6 161.5h.9v.9h-.9zM126.1 155.8h.9v.9h-.9zM130.9 157.8h.9v.9h-.9zM133.6 157.5h.9v.9h-.9zM134.5 159.2h.9v.9h-.9zM128.6 157.4h.9v.9h-.9zM128.3 159.6h.9v.9h-.9zM135.2 160.6h.9v.9h-.9zM130.0 157.6h.9v.9h-.9zM123.8 159.0h.9v.9h-.9zM126.5 159.8h.9v.9h-.9zM139.0 160.0h.9v.9h-.9zM136.9 159.5h.9v.9h-.9zM135.7 161.3h.9v.9h-.9zM139.8 164.0h.9v.9h-.9zM132.8 161.0h.9v.9h-.9zM138.0 160.0h.9v.9h-.9zM135.2 155.8h.9v.9h-.9zM139.0 156.7h.9v.9h-.9zM131.0 156.8h.9v.9h-.9zM136.6 156.5h.9v.9h-.9zM136.1 160.3h.9v.9h-.9zM134.5 158.1h.9v.9h-.9zM136.8 162.2h.9v.9h-.9zM131.9 156.3h.9v.9h-.9zM131.2 156.7h.9v.9h-.9zM132.9 158.5h.9v.9h-.9zM123.4 162.6h.9v.9h-.9zM130.3 157.9h.9v.9h-.9zM125.0 154.0h.9v.9h-.9zM129.3 159.5h.9v.9h-.9zM137.9 154.4h.9v.9h-.9zM135.0 162.7h.9v.9h-.9zM132.7 161.2h.9v.9h-.9zM135.4 156.6h.9v.9h-.9zM138.6 157.4h.9v.9h-.9zM135.6 157.9h.9v.9h-.9zM133.0 159.3h.9v.9h-.9zM140.1 154.7h.9v.9h-.9zM128.9 159.2h.9v.9h-.9zM138.5 158.5h.9v.9h-.9zM133.1 160.2h.9v.9h-.9zM141.3 156.7h.9v.9h-.9zM126.6 158.2h.9v.9h-.9zM137.5 155.7h.9v.9h-.9zM139.2 161.3h.9v.9h-.9zM137.6 156.8h.9v.9h-.9zM128.0 160.6h.9v.9h-.9zM135.2 160.6h.9v.9h-.9zM139.2 161.4h.9v.9h-.9zM132.7 158.9h.9v.9h-.9zM136.1 160.8h.9v.9h-.9zM133.1 157.7h.9v.9h-.9zM129.5 161.5h.9v.9h-.9zM135.6 157.5h.9v.9h-.9zM128.1 157.7h.9v.9h-.9zM128.1 157.8h.9v.9h-.9zM131.5 160.2h.9v.9h-.9zM129.3 154.4h.9v.9h-.9zM131.2 155.5h.9v.9h-.9zM137.4 158.4h.9v.9h-.9zM126.3 156.8h.9v.9h-.9zM133.9 158.8h.9v.9h-.9zM125.5 158.6h.9v.9h-.9zM135.4 161.4h.9v.9h-.9zM139.1 158.6h.9v.9h-.9zM129.5 170.8h.9v.9h-.9zM141.3 166.8h.9v.9h-.9zM143.2 173.9h.9v.9h-.9zM124.1 171.3h.9v.9h-.9zM120.2 155.3h.9v.9h-.9zM127.3 155.1h.9v.9h-.9zM120.1 177.8h.9v.9h-.9zM146.0 159.4h.9v.9h-.9zM115.0 163.9h.9v.9h-.9zM125.9 157.8h.9v.9h-.9zM139.7 158.3h.9v.9h-.9zM129.4 161.6h.9v.9h-.9z" fill="#111" opacity="0.6" filter="url(#bl04)"/>
<line x1="122.5" y1="153.8" x2="122.5" y2="182.3" stroke="#4a4a4a" stroke-width="1.0"/>
<line x1="108.6" y1="169.5" x2="147.1" y2="169.5" stroke="#4a4a4a" stroke-width="1.0"/>
</g>
<rect x="108.5" y="153.5" width="39.0" height="29.0" fill="none" stroke="#111" stroke-width="1.2" />
<path d="M106.80 182.30H108.6M108.60 182.3V184.10M107.50 180.16H108.6M111.50 182.3V183.40M107.50 178.90H108.6M113.19 182.3V183.40M107.50 178.01H108.6M114.39 182.3V183.40M107.50 177.32H108.6M115.33 182.3V183.40M107.50 176.76H108.6M116.09 182.3V183.40M107.50 176.28H108.6M116.73 182.3V183.40M107.50 175.87H108.6M117.29 182.3V183.40M107.50 175.50H108.6M117.78 182.3V183.40M106.80 175.18H108.6M118.22 182.3V184.10M107.50 173.03H108.6M121.12 182.3V183.40M107.50 171.78H108.6M122.82 182.3V183.40M107.50 170.89H108.6M124.02 182.3V183.40M107.50 170.19H108.6M124.95 182.3V183.40M107.50 169.63H108.6M125.71 182.3V183.40M107.50 169.15H108.6M126.36 182.3V183.40M107.50 168.74H108.6M126.92 182.3V183.40M107.50 168.38H108.6M127.41 182.3V183.40M106.80 168.05H108.6M127.85 182.3V184.10M107.50 165.91H108.6M130.75 182.3V183.40M107.50 164.65H108.6M132.44 182.3V183.40M107.50 163.76H108.6M133.64 182.3V183.40M107.50 163.07H108.6M134.58 182.3V183.40M107.50 162.51H108.6M135.34 182.3V183.40M107.50 162.03H108.6M135.98 182.3V183.40M107.50 161.62H108.6M136.54 182.3V183.40M107.50 161.25H108.6M137.03 182.3V183.40M106.80 160.93H108.6M137.47 182.3V184.10M107.50 158.78H108.6M140.37 182.3V183.40M107.50 157.53H108.6M142.07 182.3V183.40M107.50 156.64H108.6M143.27 182.3V183.40M107.50 155.94H108.6M144.20 182.3V183.40M107.50 155.38H108.6M144.96 182.3V183.40M107.50 154.90H108.6M145.61 182.3V183.40M107.50 154.49H108.6M146.17 182.3V183.40M107.50 154.13H108.6M146.66 182.3V183.40M106.8 153.80H108.6M147.10 182.3V184.10000000000002" stroke="#111" stroke-width="0.55" fill="none"/>
<text x="107.0" y="191.6" font-size="4.0" font-weight="bold" text-anchor="middle" fill="#111" stroke="#111" stroke-width="0.15">10<tspan font-size="2.8" dy="-1.6">0</tspan></text>
<text x="116.3" y="191.6" font-size="4.0" font-weight="bold" text-anchor="middle" fill="#111" stroke="#111" stroke-width="0.15">10<tspan font-size="2.8" dy="-1.6">1</tspan></text>
<text x="125.7" y="191.6" font-size="4.0" font-weight="bold" text-anchor="middle" fill="#111" stroke="#111" stroke-width="0.15">10<tspan font-size="2.8" dy="-1.6">2</tspan></text>
<text x="135.1" y="191.6" font-size="4.0" font-weight="bold" text-anchor="middle" fill="#111" stroke="#111" stroke-width="0.15">10<tspan font-size="2.8" dy="-1.6">3</tspan></text>
<text x="144.4" y="191.6" font-size="4.0" font-weight="bold" text-anchor="middle" fill="#111" stroke="#111" stroke-width="0.15">10<tspan font-size="2.8" dy="-1.6">4</tspan></text>
<clipPath id="clip15"><rect x="154.5" y="153.8" width="38.5" height="28.5"/></clipPath>
<g clip-path="url(#clip15)">
<ellipse cx="159.9" cy="178.0" rx="4.3" ry="4.0" transform="rotate(0 159.9 178.0)" fill="#111" opacity="0.63" filter="url(#bl)"/>
<ellipse cx="162.2" cy="168.9" rx="3.2" ry="3.2" transform="rotate(0 162.2 168.9)" fill="#111" opacity="0.37" filter="url(#bl)"/>
<path d="M159.0 176.9h.9v.9h-.9zM161.9 178.2h.9v.9h-.9zM165.2 180.4h.9v.9h-.9zM158.8 176.2h.9v.9h-.9zM161.4 177.0h.9v.9h-.9zM154.9 178.4h.9v.9h-.9zM159.0 177.4h.9v.9h-.9zM161.8 178.6h.9v.9h-.9zM166.1 176.0h.9v.9h-.9zM159.6 178.9h.9v.9h-.9zM158.5 176.6h.9v.9h-.9zM165.3 174.0h.9v.9h-.9zM161.0 173.2h.9v.9h-.9zM160.9 172.7h.9v.9h-.9zM156.3 181.2h.9v.9h-.9zM164.6 178.4h.9v.9h-.9zM160.6 175.0h.9v.9h-.9zM158.8 174.4h.9v.9h-.9zM159.6 177.8h.9v.9h-.9zM160.3 180.2h.9v.9h-.9zM157.9 171.9h.9v.9h-.9zM156.3 174.6h.9v.9h-.9zM158.8 176.8h.9v.9h-.9zM159.8 181.8h.9v.9h-.9zM160.0 175.1h.9v.9h-.9zM158.9 175.6h.9v.9h-.9zM159.1 179.6h.9v.9h-.9zM156.4 180.0h.9v.9h-.9zM165.4 182.2h.9v.9h-.9zM164.9 178.3h.9v.9h-.9zM159.7 178.7h.9v.9h-.9zM158.8 175.4h.9v.9h-.9zM161.8 174.2h.9v.9h-.9zM155.7 179.5h.9v.9h-.9zM158.7 175.7h.9v.9h-.9zM161.4 181.9h.9v.9h-.9zM159.0 177.7h.9v.9h-.9zM161.6 180.6h.9v.9h-.9zM163.1 179.9h.9v.9h-.9zM157.8 179.5h.9v.9h-.9zM159.9 173.4h.9v.9h-.9zM163.7 179.6h.9v.9h-.9zM164.1 177.8h.9v.9h-.9zM162.1 177.8h.9v.9h-.9zM160.4 180.5h.9v.9h-.9zM160.1 179.7h.9v.9h-.9zM159.8 181.4h.9v.9h-.9zM161.9 173.5h.9v.9h-.9zM165.0 179.2h.9v.9h-.9zM158.3 176.3h.9v.9h-.9zM166.0 178.3h.9v.9h-.9zM161.5 179.7h.9v.9h-.9zM166.3 175.9h.9v.9h-.9zM163.4 173.6h.9v.9h-.9zM158.9 178.2h.9v.9h-.9zM160.1 179.6h.9v.9h-.9zM161.1 179.0h.9v.9h-.9zM159.5 178.9h.9v.9h-.9zM160.1 181.4h.9v.9h-.9zM160.2 177.6h.9v.9h-.9zM159.3 174.5h.9v.9h-.9zM166.3 179.2h.9v.9h-.9zM160.3 176.8h.9v.9h-.9zM163.8 177.1h.9v.9h-.9zM158.5 176.5h.9v.9h-.9zM164.6 178.9h.9v.9h-.9zM159.4 176.3h.9v.9h-.9zM163.8 178.8h.9v.9h-.9zM158.9 180.5h.9v.9h-.9zM162.6 175.3h.9v.9h-.9zM163.4 181.0h.9v.9h-.9zM159.2 174.4h.9v.9h-.9zM163.2 177.1h.9v.9h-.9zM159.3 177.2h.9v.9h-.9zM159.1 180.3h.9v.9h-.9zM156.6 179.5h.9v.9h-.9zM163.4 180.9h.9v.9h-.9zM162.1 178.8h.9v.9h-.9zM159.3 177.7h.9v.9h-.9zM159.5 175.3h.9v.9h-.9zM162.4 182.1h.9v.9h-.9zM160.8 177.2h.9v.9h-.9zM156.5 179.8h.9v.9h-.9zM159.2 176.2h.9v.9h-.9zM161.7 174.5h.9v.9h-.9zM162.1 171.4h.9v.9h-.9zM158.0 174.1h.9v.9h-.9zM159.2 180.2h.9v.9h-.9zM156.0 181.7h.9v.9h-.9zM157.8 176.7h.9v.9h-.9zM162.9 176.0h.9v.9h-.9zM164.3 177.5h.9v.9h-.9zM159.6 175.4h.9v.9h-.9zM163.4 177.9h.9v.9h-.9zM158.4 175.5h.9v.9h-.9zM158.0 177.8h.9v.9h-.9zM157.7 180.2h.9v.9h-.9zM159.8 176.4h.9v.9h-.9zM161.3 181.9h.9v.9h-.9zM163.2 178.4h.9v.9h-.9zM162.4 173.9h.9v.9h-.9zM157.7 180.8h.9v.9h-.9zM159.6 178.2h.9v.9h-.9zM161.8 179.0h.9v.9h-.9zM161.3 176.7h.9v.9h-.9zM159.0 181.6h.9v.9h-.9zM158.4 174.1h.9v.9h-.9zM158.9 180.5h.9v.9h-.9zM165.4 178.4h.9v.9h-.9zM158.1 179.7h.9v.9h-.9zM160.8 181.2h.9v.9h-.9zM161.5 180.1h.9v.9h-.9zM161.5 179.2h.9v.9h-.9zM157.2 177.6h.9v.9h-.9zM164.8 181.6h.9v.9h-.9zM162.8 179.1h.9v.9h-.9zM159.6 179.0h.9v.9h-.9zM158.9 181.0h.9v.9h-.9zM159.0 176.0h.9v.9h-.9zM155.1 182.2h.9v.9h-.9zM157.7 175.7h.9v.9h-.9zM162.0 177.1h.9v.9h-.9zM161.7 175.8h.9v.9h-.9zM159.2 178.1h.9v.9h-.9zM160.0 180.1h.9v.9h-.9zM162.5 177.3h.9v.9h-.9zM160.7 175.7h.9v.9h-.9zM158.1 177.1h.9v.9h-.9zM163.0 176.2h.9v.9h-.9zM155.3 175.3h.9v.9h-.9zM156.4 177.5h.9v.9h-.9zM159.1 174.9h.9v.9h-.9zM157.6 176.9h.9v.9h-.9zM161.1 179.7h.9v.9h-.9zM163.9 177.3h.9v.9h-.9zM161.9 178.2h.9v.9h-.9zM156.7 176.3h.9v.9h-.9zM166.5 177.6h.9v.9h-.9zM164.9 180.3h.9v.9h-.9zM165.0 177.5h.9v.9h-.9zM162.8 177.2h.9v.9h-.9zM159.8 166.4h.9v.9h-.9zM163.3 165.4h.9v.9h-.9zM163.1 167.0h.9v.9h-.9zM163.1 166.0h.9v.9h-.9zM164.2 168.4h.9v.9h-.9zM158.8 165.8h.9v.9h-.9zM162.4 165.4h.9v.9h-.9zM163.0 170.0h.9v.9h-.9zM160.8 171.9h.9v.9h-.9zM165.5 169.6h.9v.9h-.9zM163.3 169.9h.9v.9h-.9zM161.7 171.7h.9v.9h-.9zM161.1 163.5h.9v.9h-.9zM162.3 169.9h.9v.9h-.9zM164.1 166.5h.9v.9h-.9zM165.4 167.1h.9v.9h-.9zM163.7 170.5h.9v.9h-.9zM162.7 171.4h.9v.9h-.9zM161.2 173.3h.9v.9h-.9zM163.4 168.0h.9v.9h-.9zM168.1 168.9h.9v.9h-.9zM158.7 172.0h.9v.9h-.9zM165.7 167.7h.9v.9h-.9zM160.1 171.3h.9v.9h-.9zM162.4 166.8h.9v.9h-.9zM161.2 169.1h.9v.9h-.9zM164.5 172.3h.9v.9h-.9zM160.9 172.2h.9v.9h-.9zM158.9 170.4h.9v.9h-.9zM162.0 169.9h.9v.9h-.9zM161.3 167.4h.9v.9h-.9zM162.9 171.3h.9v.9h-.9zM157.3 169.0h.9v.9h-.9zM161.4 166.6h.9v.9h-.9zM159.3 170.0h.9v.9h-.9zM163.5 170.3h.9v.9h-.9zM157.9 165.6h.9v.9h-.9zM160.9 168.0h.9v.9h-.9zM166.2 168.1h.9v.9h-.9zM162.6 171.1h.9v.9h-.9zM166.0 169.7h.9v.9h-.9zM163.1 173.1h.9v.9h-.9zM161.4 165.0h.9v.9h-.9zM160.6 168.2h.9v.9h-.9zM165.2 169.6h.9v.9h-.9zM165.0 169.1h.9v.9h-.9zM162.4 167.7h.9v.9h-.9zM159.5 170.0h.9v.9h-.9zM163.1 170.1h.9v.9h-.9zM161.1 168.0h.9v.9h-.9zM163.1 170.2h.9v.9h-.9zM166.7 167.0h.9v.9h-.9zM164.5 170.8h.9v.9h-.9zM161.7 169.2h.9v.9h-.9zM162.2 172.2h.9v.9h-.9zM168.0 169.6h.9v.9h-.9zM161.7 171.0h.9v.9h-.9zM163.4 168.5h.9v.9h-.9zM164.0 170.8h.9v.9h-.9zM161.4 170.7h.9v.9h-.9zM157.3 166.1h.9v.9h-.9zM161.6 169.3h.9v.9h-.9zM159.0 172.1h.9v.9h-.9zM161.5 169.2h.9v.9h-.9zM162.2 170.5h.9v.9h-.9zM161.0 170.5h.9v.9h-.9zM160.4 165.7h.9v.9h-.9zM163.4 169.3h.9v.9h-.9zM164.3 164.7h.9v.9h-.9zM162.5 167.5h.9v.9h-.9zM181.2 155.9h.9v.9h-.9zM180.5 160.1h.9v.9h-.9zM186.8 177.8h.9v.9h-.9zM172.5 174.5h.9v.9h-.9zM190.9 179.3h.9v.9h-.9zM179.4 171.4h.9v.9h-.9zM168.2 173.3h.9v.9h-.9zM159.9 166.9h.9v.9h-.9zM157.8 156.4h.9v.9h-.9zM180.2 165.9h.9v.9h-.9zM162.5 180.8h.9v.9h-.9zM165.7 169.2h.9v.9h-.9z" fill="#111" opacity="0.6" filter="url(#bl04)"/>
<line x1="165.5" y1="153.8" x2="165.5" y2="182.3" stroke="#4a4a4a" stroke-width="1.0"/>
<line x1="154.5" y1="175.5" x2="193.0" y2="175.5" stroke="#4a4a4a" stroke-width="1.0"/>
</g>
<rect x="154.5" y="153.5" width="39.0" height="29.0" fill="none" stroke="#111" stroke-width="1.2" />
<path d="M152.70 182.30H154.5M154.50 182.3V184.10M153.40 180.16H154.5M157.40 182.3V183.40M153.40 178.90H154.5M159.09 182.3V183.40M153.40 178.01H154.5M160.29 182.3V183.40M153.40 177.32H154.5M161.23 182.3V183.40M153.40 176.76H154.5M161.99 182.3V183.40M153.40 176.28H154.5M162.63 182.3V183.40M153.40 175.87H154.5M163.19 182.3V183.40M153.40 175.50H154.5M163.68 182.3V183.40M152.70 175.18H154.5M164.12 182.3V184.10M153.40 173.03H154.5M167.02 182.3V183.40M153.40 171.78H154.5M168.72 182.3V183.40M153.40 170.89H154.5M169.92 182.3V183.40M153.40 170.19H154.5M170.85 182.3V183.40M153.40 169.63H154.5M171.61 182.3V183.40M153.40 169.15H154.5M172.26 182.3V183.40M153.40 168.74H154.5M172.82 182.3V183.40M153.40 168.38H154.5M173.31 182.3V183.40M152.70 168.05H154.5M173.75 182.3V184.10M153.40 165.91H154.5M176.65 182.3V183.40M153.40 164.65H154.5M178.34 182.3V183.40M153.40 163.76H154.5M179.54 182.3V183.40M153.40 163.07H154.5M180.48 182.3V183.40M153.40 162.51H154.5M181.24 182.3V183.40M153.40 162.03H154.5M181.88 182.3V183.40M153.40 161.62H154.5M182.44 182.3V183.40M153.40 161.25H154.5M182.93 182.3V183.40M152.70 160.93H154.5M183.38 182.3V184.10M153.40 158.78H154.5M186.27 182.3V183.40M153.40 157.53H154.5M187.97 182.3V183.40M153.40 156.64H154.5M189.17 182.3V183.40M153.40 155.94H154.5M190.10 182.3V183.40M153.40 155.38H154.5M190.86 182.3V183.40M153.40 154.90H154.5M191.51 182.3V183.40M153.40 154.49H154.5M192.07 182.3V183.40M153.40 154.13H154.5M192.56 182.3V183.40M152.7 153.80H154.5M193.00 182.3V184.10000000000002" stroke="#111" stroke-width="0.55" fill="none"/>
<text x="152.9" y="191.6" font-size="4.0" font-weight="bold" text-anchor="middle" fill="#111" stroke="#111" stroke-width="0.15">10<tspan font-size="2.8" dy="-1.6">0</tspan></text>
<text x="162.2" y="191.6" font-size="4.0" font-weight="bold" text-anchor="middle" fill="#111" stroke="#111" stroke-width="0.15">10<tspan font-size="2.8" dy="-1.6">1</tspan></text>
<text x="171.6" y="191.6" font-size="4.0" font-weight="bold" text-anchor="middle" fill="#111" stroke="#111" stroke-width="0.15">10<tspan font-size="2.8" dy="-1.6">2</tspan></text>
<text x="180.9" y="191.6" font-size="4.0" font-weight="bold" text-anchor="middle" fill="#111" stroke="#111" stroke-width="0.15">10<tspan font-size="2.8" dy="-1.6">3</tspan></text>
<text x="190.3" y="191.6" font-size="4.0" font-weight="bold" text-anchor="middle" fill="#111" stroke="#111" stroke-width="0.15">10<tspan font-size="2.8" dy="-1.6">4</tspan></text>
<line x1="5.8" y1="198.1" x2="5.8" y2="179.35000000000002" stroke="#111" stroke-width="1.1"/>
<line x1="5.8" y1="160.35000000000002" x2="5.8" y2="119.7" stroke="#111" stroke-width="1.1"/>
<path d="M5.8,112.7 L3.6,120.5 L8.0,120.5 Z" fill="#111"/>
<text transform="translate(7.8,169.9) rotate(-90)" font-size="7.4" font-weight="bold" text-anchor="middle" fill="#111" stroke="#111" stroke-width="0.3" textLength="15" lengthAdjust="spacingAndGlyphs">H-2d</text>
<line x1="5.3" y1="147.7" x2="93.5" y2="147.7" stroke="#111" stroke-width="1.1"/>
<text x="104.2" y="150.39999999999998" font-size="7.6" font-weight="bold" text-anchor="middle" fill="#111" textLength="17" lengthAdjust="spacingAndGlyphs" stroke="#111" stroke-width="0.3">H-2b</text>
<line x1="114.2" y1="147.7" x2="190" y2="147.7" stroke="#111" stroke-width="1.1"/>
<path d="M197.2,147.7 L189.2,145.39999999999998 L189.2,150.0 Z" fill="#111"/>
<line x1="5.3" y1="198.1" x2="93.5" y2="198.1" stroke="#111" stroke-width="1.1"/>
<text x="104.2" y="200.79999999999998" font-size="7.6" font-weight="bold" text-anchor="middle" fill="#111" textLength="15.3" lengthAdjust="spacingAndGlyphs" stroke="#111" stroke-width="0.3">GFP</text>
<line x1="114.2" y1="198.1" x2="190" y2="198.1" stroke="#111" stroke-width="1.1"/>
<path d="M197.2,198.1 L189.2,195.79999999999998 L189.2,200.4 Z" fill="#111"/>
<text x="1.2" y="208.6" font-size="11.2" font-weight="bold" text-anchor="start" fill="#111" stroke="#111" stroke-width="0.3">C</text>
<text x="38.85" y="209.3" font-size="5.4" font-weight="bold" text-anchor="middle" fill="#111" stroke="#111" stroke-width="0.2">d13, WBC 3 K</text>
<text x="83.25" y="209.3" font-size="5.4" font-weight="bold" text-anchor="middle" fill="#111" stroke="#111" stroke-width="0.2">d17, WBC 17.8 K</text>
<text x="128.45" y="209.3" font-size="5.4" font-weight="bold" text-anchor="middle" fill="#111" stroke="#111" stroke-width="0.2">d20, WBC &gt;100 K</text>
<text x="174.35" y="209.3" font-size="5.4" font-weight="bold" text-anchor="middle" fill="#111" stroke="#111" stroke-width="0.2">d32, WBC 8.5 K</text>
<clipPath id="clip16"><rect x="19.0" y="211.3" width="38.5" height="29.299999999999983"/></clipPath>
<g clip-path="url(#clip16)">
<ellipse cx="25.5" cy="217.2" rx="5.4" ry="4.9" transform="rotate(0 25.5 217.2)" fill="#111" opacity="0.58" filter="url(#bl)"/>
<ellipse cx="35.2" cy="230.1" rx="5.4" ry="9.0" transform="rotate(0 35.2 230.1)" fill="#111" opacity="0.68" filter="url(#bl)"/>
<ellipse cx="30.5" cy="223.0" rx="4.3" ry="4.9" transform="rotate(0 30.5 223.0)" fill="#111" opacity="0.32" filter="url(#bl)"/>
<path d="M23.1 217.3h.9v.9h-.9zM32.0 216.9h.9v.9h-.9zM28.1 215.3h.9v.9h-.9zM32.7 213.1h.9v.9h-.9zM27.8 216.4h.9v.9h-.9zM26.4 218.4h.9v.9h-.9zM30.6 220.1h.9v.9h-.9zM29.6 218.4h.9v.9h-.9zM21.7 221.6h.9v.9h-.9zM31.4 218.8h.9v.9h-.9zM28.7 216.4h.9v.9h-.9zM20.3 220.5h.9v.9h-.9zM23.0 223.6h.9v.9h-.9zM28.3 217.1h.9v.9h-.9zM23.4 217.5h.9v.9h-.9zM21.9 215.9h.9v.9h-.9zM31.7 216.2h.9v.9h-.9zM32.6 216.8h.9v.9h-.9zM27.3 214.1h.9v.9h-.9zM24.6 215.7h.9v.9h-.9zM20.5 223.6h.9v.9h-.9zM27.9 216.9h.9v.9h-.9zM21.6 217.3h.9v.9h-.9zM21.8 213.9h.9v.9h-.9zM25.0 224.4h.9v.9h-.9zM19.2 219.0h.9v.9h-.9zM20.4 216.7h.9v.9h-.9zM25.9 214.6h.9v.9h-.9zM32.3 219.0h.9v.9h-.9zM23.3 211.7h.9v.9h-.9zM26.3 214.9h.9v.9h-.9zM29.5 213.7h.9v.9h-.9zM30.2 215.6h.9v.9h-.9zM26.4 216.3h.9v.9h-.9zM28.0 221.0h.9v.9h-.9zM23.7 214.1h.9v.9h-.9zM32.8 220.4h.9v.9h-.9zM32.8 220.4h.9v.9h-.9zM26.2 222.6h.9v.9h-.9zM23.2 215.7h.9v.9h-.9zM24.2 219.5h.9v.9h-.9zM22.5 216.6h.9v.9h-.9zM22.5 216.4h.9v.9h-.9zM29.9 220.9h.9v.9h-.9zM24.9 225.7h.9v.9h-.9zM23.1 218.7h.9v.9h-.9zM21.3 221.3h.9v.9h-.9zM19.5 227.0h.9v.9h-.9zM25.2 218.1h.9v.9h-.9zM30.4 217.3h.9v.9h-.9zM23.3 215.1h.9v.9h-.9zM22.2 219.0h.9v.9h-.9zM23.9 218.9h.9v.9h-.9zM20.1 215.7h.9v.9h-.9zM33.4 218.4h.9v.9h-.9zM25.3 221.1h.9v.9h-.9zM26.7 222.3h.9v.9h-.9zM21.3 219.7h.9v.9h-.9zM21.7 219.5h.9v.9h-.9zM34.9 222.3h.9v.9h-.9zM22.5 218.6h.9v.9h-.9zM27.4 214.7h.9v.9h-.9zM26.6 213.6h.9v.9h-.9zM29.3 220.2h.9v.9h-.9zM25.1 219.5h.9v.9h-.9zM34.6 216.6h.9v.9h-.9zM24.0 214.5h.9v.9h-.9zM29.0 220.5h.9v.9h-.9zM27.9 222.7h.9v.9h-.9zM23.3 215.8h.9v.9h-.9zM24.9 217.4h.9v.9h-.9zM22.1 217.9h.9v.9h-.9zM29.6 215.0h.9v.9h-.9zM27.8 216.6h.9v.9h-.9zM25.1 217.6h.9v.9h-.9zM31.3 218.9h.9v.9h-.9zM28.2 217.7h.9v.9h-.9zM25.6 217.5h.9v.9h-.9zM23.8 212.0h.9v.9h-.9zM31.2 223.3h.9v.9h-.9zM27.7 213.2h.9v.9h-.9zM24.9 215.4h.9v.9h-.9zM23.3 214.6h.9v.9h-.9zM23.8 219.8h.9v.9h-.9zM31.7 220.3h.9v.9h-.9zM25.6 216.7h.9v.9h-.9zM24.7 217.1h.9v.9h-.9zM23.3 216.6h.9v.9h-.9zM28.8 216.4h.9v.9h-.9zM22.6 216.8h.9v.9h-.9zM26.0 216.9h.9v.9h-.9zM24.6 219.5h.9v.9h-.9zM25.5 213.8h.9v.9h-.9zM27.8 214.8h.9v.9h-.9zM28.5 219.9h.9v.9h-.9zM27.4 218.2h.9v.9h-.9zM20.6 216.5h.9v.9h-.9zM26.1 219.3h.9v.9h-.9zM21.4 216.6h.9v.9h-.9zM19.8 217.8h.9v.9h-.9zM25.9 217.6h.9v.9h-.9zM31.8 219.6h.9v.9h-.9zM24.9 215.2h.9v.9h-.9zM23.9 219.8h.9v.9h-.9zM29.1 215.5h.9v.9h-.9zM25.2 215.7h.9v.9h-.9zM28.2 217.8h.9v.9h-.9zM22.9 214.2h.9v.9h-.9zM30.5 212.5h.9v.9h-.9zM33.3 215.4h.9v.9h-.9zM28.8 219.1h.9v.9h-.9zM28.8 221.0h.9v.9h-.9zM23.9 217.1h.9v.9h-.9zM29.3 219.0h.9v.9h-.9zM22.8 214.6h.9v.9h-.9zM20.2 218.0h.9v.9h-.9zM23.6 211.9h.9v.9h-.9zM23.5 218.3h.9v.9h-.9zM26.3 216.4h.9v.9h-.9zM26.2 219.4h.9v.9h-.9zM21.1 214.4h.9v.9h-.9zM29.3 219.6h.9v.9h-.9zM20.3 214.7h.9v.9h-.9zM31.1 219.7h.9v.9h-.9zM25.1 220.6h.9v.9h-.9zM30.8 221.9h.9v.9h-.9zM20.4 212.8h.9v.9h-.9zM23.7 217.0h.9v.9h-.9zM24.3 218.0h.9v.9h-.9zM31.2 220.9h.9v.9h-.9zM29.4 217.2h.9v.9h-.9zM31.9 218.7h.9v.9h-.9zM26.5 217.1h.9v.9h-.9zM25.5 220.2h.9v.9h-.9zM34.2 216.5h.9v.9h-.9zM21.2 220.6h.9v.9h-.9zM26.5 214.0h.9v.9h-.9zM29.3 217.2h.9v.9h-.9zM21.8 218.5h.9v.9h-.9zM21.7 220.4h.9v.9h-.9zM34.0 218.2h.9v.9h-.9zM26.5 216.9h.9v.9h-.9zM28.9 217.3h.9v.9h-.9zM29.6 221.9h.9v.9h-.9zM28.9 213.9h.9v.9h-.9zM28.1 216.3h.9v.9h-.9zM26.8 220.4h.9v.9h-.9zM23.1 217.9h.9v.9h-.9zM31.2 214.4h.9v.9h-.9zM24.9 219.6h.9v.9h-.9zM24.7 220.6h.9v.9h-.9zM21.8 212.1h.9v.9h-.9zM27.1 216.7h.9v.9h-.9zM26.8 220.4h.9v.9h-.9zM29.6 216.0h.9v.9h-.9zM21.9 218.0h.9v.9h-.9zM26.4 212.2h.9v.9h-.9zM28.6 217.0h.9v.9h-.9zM29.8 216.0h.9v.9h-.9zM29.3 213.5h.9v.9h-.9zM28.3 218.5h.9v.9h-.9zM28.2 222.8h.9v.9h-.9zM28.6 218.9h.9v.9h-.9zM19.6 218.4h.9v.9h-.9zM24.2 213.9h.9v.9h-.9zM21.8 216.7h.9v.9h-.9zM37.5 226.1h.9v.9h-.9zM36.4 234.4h.9v.9h-.9zM34.1 225.6h.9v.9h-.9zM28.0 236.6h.9v.9h-.9zM37.8 228.9h.9v.9h-.9zM36.4 229.3h.9v.9h-.9zM38.6 230.0h.9v.9h-.9zM36.1 229.6h.9v.9h-.9zM31.9 216.5h.9v.9h-.9zM37.3 222.5h.9v.9h-.9zM36.8 234.0h.9v.9h-.9zM42.4 225.5h.9v.9h-.9zM35.8 235.9h.9v.9h-.9zM32.7 226.5h.9v.9h-.9zM39.3 235.9h.9v.9h-.9zM31.6 234.1h.9v.9h-.9zM39.6 222.3h.9v.9h-.9zM35.3 228.9h.9v.9h-.9zM37.7 219.4h.9v.9h-.9zM37.9 230.1h.9v.9h-.9zM34.2 217.1h.9v.9h-.9zM27.3 226.8h.9v.9h-.9zM37.7 232.7h.9v.9h-.9zM38.1 219.7h.9v.9h-.9zM36.0 238.3h.9v.9h-.9zM29.3 234.0h.9v.9h-.9zM32.5 233.4h.9v.9h-.9zM35.6 220.1h.9v.9h-.9zM31.2 237.8h.9v.9h-.9zM34.8 237.6h.9v.9h-.9zM36.5 235.5h.9v.9h-.9zM33.7 231.4h.9v.9h-.9zM33.8 235.6h.9v.9h-.9zM33.0 236.8h.9v.9h-.9zM41.2 222.7h.9v.9h-.9zM34.6 233.4h.9v.9h-.9zM42.0 237.1h.9v.9h-.9zM35.6 219.5h.9v.9h-.9zM38.4 226.5h.9v.9h-.9zM36.0 232.5h.9v.9h-.9zM29.9 236.6h.9v.9h-.9zM38.7 233.6h.9v.9h-.9zM37.5 232.2h.9v.9h-.9zM29.9 227.0h.9v.9h-.9zM38.3 228.1h.9v.9h-.9zM35.3 232.3h.9v.9h-.9zM35.6 231.6h.9v.9h-.9zM37.1 230.1h.9v.9h-.9zM31.0 228.4h.9v.9h-.9zM38.9 225.9h.9v.9h-.9zM37.0 231.9h.9v.9h-.9zM31.9 212.9h.9v.9h-.9zM35.2 225.3h.9v.9h-.9zM32.8 235.8h.9v.9h-.9zM32.3 232.2h.9v.9h-.9zM35.7 231.3h.9v.9h-.9zM42.8 218.1h.9v.9h-.9zM38.9 229.2h.9v.9h-.9zM34.2 226.0h.9v.9h-.9zM35.4 230.3h.9v.9h-.9zM31.7 240.0h.9v.9h-.9zM32.4 229.2h.9v.9h-.9zM30.4 231.0h.9v.9h-.9zM36.6 236.7h.9v.9h-.9zM39.0 227.0h.9v.9h-.9zM41.3 229.4h.9v.9h-.9zM41.1 240.5h.9v.9h-.9zM33.7 223.5h.9v.9h-.9zM37.3 238.8h.9v.9h-.9zM36.7 236.7h.9v.9h-.9zM37.5 235.5h.9v.9h-.9zM40.3 228.3h.9v.9h-.9zM29.8 229.3h.9v.9h-.9zM32.2 222.8h.9v.9h-.9zM34.6 234.4h.9v.9h-.9zM28.2 220.9h.9v.9h-.9zM38.3 224.7h.9v.9h-.9zM33.7 238.3h.9v.9h-.9zM39.5 232.2h.9v.9h-.9zM37.3 213.6h.9v.9h-.9zM37.3 232.4h.9v.9h-.9zM29.9 231.2h.9v.9h-.9zM37.0 229.4h.9v.9h-.9zM38.2 235.4h.9v.9h-.9zM35.4 228.6h.9v.9h-.9zM30.7 237.0h.9v.9h-.9zM33.0 232.0h.9v.9h-.9zM41.0 234.8h.9v.9h-.9zM30.4 229.5h.9v.9h-.9zM32.5 220.1h.9v.9h-.9zM32.2 233.6h.9v.9h-.9zM36.5 228.8h.9v.9h-.9zM35.9 223.0h.9v.9h-.9zM32.3 229.0h.9v.9h-.9zM38.2 228.1h.9v.9h-.9zM34.6 232.1h.9v.9h-.9zM40.8 222.4h.9v.9h-.9zM37.2 231.2h.9v.9h-.9zM34.9 231.6h.9v.9h-.9zM27.7 230.2h.9v.9h-.9zM34.3 222.6h.9v.9h-.9zM38.4 229.3h.9v.9h-.9zM33.9 234.7h.9v.9h-.9zM31.7 225.7h.9v.9h-.9zM38.3 235.3h.9v.9h-.9zM42.9 227.3h.9v.9h-.9zM29.7 221.0h.9v.9h-.9zM30.7 230.7h.9v.9h-.9zM34.3 226.0h.9v.9h-.9zM31.4 225.8h.9v.9h-.9zM33.8 237.3h.9v.9h-.9zM37.6 238.4h.9v.9h-.9zM38.3 234.7h.9v.9h-.9zM39.7 232.8h.9v.9h-.9zM41.1 236.9h.9v.9h-.9zM42.1 231.4h.9v.9h-.9zM34.1 233.2h.9v.9h-.9zM33.8 225.8h.9v.9h-.9zM36.9 223.3h.9v.9h-.9zM34.6 238.6h.9v.9h-.9zM35.7 235.0h.9v.9h-.9zM37.6 232.4h.9v.9h-.9zM35.6 233.8h.9v.9h-.9zM31.5 233.6h.9v.9h-.9zM31.1 225.5h.9v.9h-.9zM33.0 222.0h.9v.9h-.9zM27.7 232.4h.9v.9h-.9zM37.1 234.1h.9v.9h-.9zM43.6 231.1h.9v.9h-.9zM38.0 225.5h.9v.9h-.9zM37.9 223.1h.9v.9h-.9zM42.7 224.2h.9v.9h-.9zM33.6 234.6h.9v.9h-.9zM26.9 238.2h.9v.9h-.9zM31.6 231.3h.9v.9h-.9zM38.9 231.0h.9v.9h-.9zM38.7 227.0h.9v.9h-.9zM37.5 216.9h.9v.9h-.9zM40.9 226.0h.9v.9h-.9zM31.9 230.2h.9v.9h-.9zM41.6 225.8h.9v.9h-.9zM35.1 227.9h.9v.9h-.9zM31.7 222.1h.9v.9h-.9zM37.4 234.3h.9v.9h-.9zM32.3 231.4h.9v.9h-.9zM36.9 232.4h.9v.9h-.9zM34.6 230.3h.9v.9h-.9zM36.2 223.6h.9v.9h-.9zM34.6 234.9h.9v.9h-.9zM33.1 238.0h.9v.9h-.9zM34.3 223.4h.9v.9h-.9zM34.1 221.8h.9v.9h-.9zM37.5 220.4h.9v.9h-.9zM35.3 228.6h.9v.9h-.9zM34.0 232.6h.9v.9h-.9zM36.3 226.7h.9v.9h-.9zM38.3 227.3h.9v.9h-.9zM38.6 238.2h.9v.9h-.9zM36.6 235.7h.9v.9h-.9zM30.1 233.5h.9v.9h-.9zM29.5 229.0h.9v.9h-.9zM37.8 213.8h.9v.9h-.9zM32.2 225.4h.9v.9h-.9zM31.6 230.2h.9v.9h-.9zM37.6 223.0h.9v.9h-.9zM32.8 218.8h.9v.9h-.9zM32.5 217.4h.9v.9h-.9zM29.5 232.9h.9v.9h-.9zM38.5 225.1h.9v.9h-.9zM36.5 225.3h.9v.9h-.9zM25.8 224.8h.9v.9h-.9zM32.7 227.2h.9v.9h-.9zM41.1 239.6h.9v.9h-.9zM35.1 233.9h.9v.9h-.9zM29.1 228.3h.9v.9h-.9zM34.1 229.1h.9v.9h-.9zM36.3 220.6h.9v.9h-.9zM28.6 230.4h.9v.9h-.9zM37.9 233.0h.9v.9h-.9zM35.4 220.3h.9v.9h-.9zM33.4 220.6h.9v.9h-.9zM42.6 232.2h.9v.9h-.9zM37.9 231.3h.9v.9h-.9zM33.7 237.2h.9v.9h-.9zM38.5 233.9h.9v.9h-.9zM37.4 234.5h.9v.9h-.9zM34.1 232.7h.9v.9h-.9zM35.5 228.5h.9v.9h-.9zM27.5 238.8h.9v.9h-.9zM33.5 237.3h.9v.9h-.9zM31.3 228.9h.9v.9h-.9zM39.1 229.6h.9v.9h-.9zM36.5 222.7h.9v.9h-.9zM30.8 240.2h.9v.9h-.9zM35.8 229.5h.9v.9h-.9zM29.9 223.8h.9v.9h-.9zM31.3 229.8h.9v.9h-.9zM34.7 226.4h.9v.9h-.9zM32.6 230.7h.9v.9h-.9zM39.6 221.5h.9v.9h-.9zM29.8 236.9h.9v.9h-.9zM29.8 227.6h.9v.9h-.9zM27.4 212.4h.9v.9h-.9zM34.9 236.6h.9v.9h-.9zM35.7 225.1h.9v.9h-.9zM35.9 217.6h.9v.9h-.9zM38.3 239.0h.9v.9h-.9zM34.4 235.0h.9v.9h-.9zM31.2 239.0h.9v.9h-.9zM32.7 225.2h.9v.9h-.9zM32.3 219.3h.9v.9h-.9zM29.7 228.8h.9v.9h-.9zM36.9 226.6h.9v.9h-.9zM29.2 232.1h.9v.9h-.9zM39.0 230.7h.9v.9h-.9zM31.1 228.2h.9v.9h-.9zM27.8 229.7h.9v.9h-.9zM39.8 236.8h.9v.9h-.9zM34.8 232.7h.9v.9h-.9zM33.2 230.9h.9v.9h-.9zM32.9 231.1h.9v.9h-.9zM33.2 231.2h.9v.9h-.9zM37.8 229.9h.9v.9h-.9zM30.3 233.1h.9v.9h-.9zM34.2 227.0h.9v.9h-.9zM37.3 225.0h.9v.9h-.9zM38.7 233.4h.9v.9h-.9zM32.5 225.8h.9v.9h-.9zM34.7 224.5h.9v.9h-.9zM38.8 216.3h.9v.9h-.9zM35.7 227.9h.9v.9h-.9zM31.0 233.9h.9v.9h-.9zM33.3 232.8h.9v.9h-.9zM33.5 228.3h.9v.9h-.9zM37.2 235.9h.9v.9h-.9zM39.0 229.9h.9v.9h-.9zM40.8 228.0h.9v.9h-.9zM30.0 218.7h.9v.9h-.9zM29.7 224.8h.9v.9h-.9zM28.4 232.1h.9v.9h-.9zM35.3 229.8h.9v.9h-.9zM36.1 229.4h.9v.9h-.9zM34.2 228.1h.9v.9h-.9zM35.3 223.2h.9v.9h-.9zM40.0 239.4h.9v.9h-.9zM31.5 235.5h.9v.9h-.9zM29.0 233.7h.9v.9h-.9zM32.3 236.2h.9v.9h-.9zM35.6 235.9h.9v.9h-.9zM37.5 233.3h.9v.9h-.9zM34.1 239.8h.9v.9h-.9zM31.6 224.6h.9v.9h-.9zM34.9 222.2h.9v.9h-.9zM35.8 226.6h.9v.9h-.9zM30.8 218.2h.9v.9h-.9zM34.2 222.0h.9v.9h-.9zM30.9 223.4h.9v.9h-.9zM33.4 225.1h.9v.9h-.9zM25.0 220.8h.9v.9h-.9zM31.6 223.6h.9v.9h-.9zM33.0 224.9h.9v.9h-.9zM35.5 220.6h.9v.9h-.9zM34.5 224.3h.9v.9h-.9zM31.5 225.3h.9v.9h-.9zM29.5 225.4h.9v.9h-.9zM29.9 225.4h.9v.9h-.9zM28.3 226.9h.9v.9h-.9zM26.0 220.8h.9v.9h-.9zM30.4 223.8h.9v.9h-.9zM28.1 221.7h.9v.9h-.9zM31.3 226.5h.9v.9h-.9zM34.5 221.4h.9v.9h-.9zM30.4 222.0h.9v.9h-.9zM26.0 221.5h.9v.9h-.9zM34.0 218.6h.9v.9h-.9zM39.2 226.3h.9v.9h-.9zM35.8 223.6h.9v.9h-.9zM23.6 224.5h.9v.9h-.9zM35.4 221.1h.9v.9h-.9zM34.4 225.5h.9v.9h-.9zM32.9 225.5h.9v.9h-.9zM32.3 225.2h.9v.9h-.9zM34.2 224.4h.9v.9h-.9zM32.5 224.5h.9v.9h-.9zM31.0 220.1h.9v.9h-.9zM25.1 219.7h.9v.9h-.9zM26.8 218.1h.9v.9h-.9zM32.7 221.9h.9v.9h-.9zM34.4 233.4h.9v.9h-.9zM32.9 221.5h.9v.9h-.9zM31.7 222.4h.9v.9h-.9zM31.4 230.0h.9v.9h-.9zM35.4 227.3h.9v.9h-.9zM31.4 229.0h.9v.9h-.9zM33.1 226.0h.9v.9h-.9zM27.0 221.0h.9v.9h-.9zM31.1 222.3h.9v.9h-.9zM29.0 216.4h.9v.9h-.9zM28.3 222.7h.9v.9h-.9zM31.5 219.5h.9v.9h-.9zM30.2 229.1h.9v.9h-.9zM31.1 216.5h.9v.9h-.9zM30.0 223.0h.9v.9h-.9zM34.4 223.7h.9v.9h-.9zM34.7 224.1h.9v.9h-.9zM34.1 227.5h.9v.9h-.9zM35.2 223.7h.9v.9h-.9zM32.5 236.1h.9v.9h-.9zM26.9 223.7h.9v.9h-.9zM32.0 220.7h.9v.9h-.9zM33.1 222.5h.9v.9h-.9zM20.4 219.5h.9v.9h-.9zM33.1 228.8h.9v.9h-.9zM21.6 237.8h.9v.9h-.9zM48.9 233.1h.9v.9h-.9zM57.1 212.8h.9v.9h-.9zM45.4 236.4h.9v.9h-.9zM25.9 223.4h.9v.9h-.9zM26.7 238.4h.9v.9h-.9zM37.1 235.6h.9v.9h-.9zM28.7 228.9h.9v.9h-.9zM47.7 221.3h.9v.9h-.9zM29.3 213.8h.9v.9h-.9z" fill="#111" opacity="0.6" filter="url(#bl04)"/>
<line x1="30.5" y1="211.3" x2="30.5" y2="240.6" stroke="#4a4a4a" stroke-width="1.0"/>
<line x1="19.0" y1="223.5" x2="57.5" y2="223.5" stroke="#4a4a4a" stroke-width="1.0"/>
</g>
<rect x="19.5" y="211.5" width="38.0" height="29.0" fill="none" stroke="#111" stroke-width="1.2" />
<path d="M17.20 240.60H19.0M19.00 240.6V242.40M17.90 238.39H19.0M21.90 240.6V241.70M17.90 237.11H19.0M23.59 240.6V241.70M17.90 236.19H19.0M24.79 240.6V241.70M17.90 235.48H19.0M25.73 240.6V241.70M17.90 234.90H19.0M26.49 240.6V241.70M17.90 234.41H19.0M27.13 240.6V241.70M17.90 233.98H19.0M27.69 240.6V241.70M17.90 233.61H19.0M28.18 240.6V241.70M17.20 233.28H19.0M28.62 240.6V242.40M17.90 231.07H19.0M31.52 240.6V241.70M17.90 229.78H19.0M33.22 240.6V241.70M17.90 228.86H19.0M34.42 240.6V241.70M17.90 228.16H19.0M35.35 240.6V241.70M17.90 227.58H19.0M36.11 240.6V241.70M17.90 227.08H19.0M36.76 240.6V241.70M17.90 226.66H19.0M37.32 240.6V241.70M17.90 226.29H19.0M37.81 240.6V241.70M17.20 225.95H19.0M38.25 240.6V242.40M17.90 223.74H19.0M41.15 240.6V241.70M17.90 222.46H19.0M42.84 240.6V241.70M17.90 221.54H19.0M44.04 240.6V241.70M17.90 220.83H19.0M44.98 240.6V241.70M17.90 220.25H19.0M45.74 240.6V241.70M17.90 219.76H19.0M46.38 240.6V241.70M17.90 219.33H19.0M46.94 240.6V241.70M17.90 218.96H19.0M47.43 240.6V241.70M17.20 218.62H19.0M47.88 240.6V242.40M17.90 216.42H19.0M50.77 240.6V241.70M17.90 215.13H19.0M52.47 240.6V241.70M17.90 214.21H19.0M53.67 240.6V241.70M17.90 213.51H19.0M54.60 240.6V241.70M17.90 212.93H19.0M55.36 240.6V241.70M17.90 212.43H19.0M56.01 240.6V241.70M17.90 212.01H19.0M56.57 240.6V241.70M17.90 211.64H19.0M57.06 240.6V241.70M17.2 211.30H19.0M57.50 240.6V242.4" stroke="#111" stroke-width="0.55" fill="none"/>
<g transform="translate(15.6,240.6) rotate(-90)">
<text x="1.6" y="0" font-size="4.1" font-weight="bold" text-anchor="middle" fill="#111" stroke="#111" stroke-width="0.15">10<tspan font-size="2.9" dy="-1.6">0</tspan></text>
<text x="8.1" y="0" font-size="4.1" font-weight="bold" text-anchor="middle" fill="#111" stroke="#111" stroke-width="0.15">10<tspan font-size="2.9" dy="-1.6">1</tspan></text>
<text x="14.6" y="0" font-size="4.1" font-weight="bold" text-anchor="middle" fill="#111" stroke="#111" stroke-width="0.15">10<tspan font-size="2.9" dy="-1.6">2</tspan></text>
<text x="21.2" y="0" font-size="4.1" font-weight="bold" text-anchor="middle" fill="#111" stroke="#111" stroke-width="0.15">10<tspan font-size="2.9" dy="-1.6">3</tspan></text>
<text x="27.7" y="0" font-size="4.1" font-weight="bold" text-anchor="middle" fill="#111" stroke="#111" stroke-width="0.15">10<tspan font-size="2.9" dy="-1.6">4</tspan></text>
</g>
<clipPath id="clip17"><rect x="63.4" y="211.3" width="38.5" height="29.299999999999983"/></clipPath>
<g clip-path="url(#clip17)">
<ellipse cx="73.0" cy="220.1" rx="6.5" ry="4.9" transform="rotate(0 73.0 220.1)" fill="#111" opacity="0.89" filter="url(#bl)"/>
<ellipse cx="71.1" cy="231.8" rx="5.4" ry="7.4" transform="rotate(0 71.1 231.8)" fill="#111" opacity="0.26" filter="url(#bl)"/>
<path d="M69.7 217.5h.9v.9h-.9zM74.3 223.0h.9v.9h-.9zM72.0 221.7h.9v.9h-.9zM70.8 219.0h.9v.9h-.9zM73.9 223.3h.9v.9h-.9zM80.3 219.7h.9v.9h-.9zM75.1 226.7h.9v.9h-.9zM76.9 218.9h.9v.9h-.9zM74.9 215.4h.9v.9h-.9zM63.6 217.6h.9v.9h-.9zM69.8 215.6h.9v.9h-.9zM77.7 218.6h.9v.9h-.9zM73.5 220.4h.9v.9h-.9zM72.2 216.2h.9v.9h-.9zM81.8 213.5h.9v.9h-.9zM72.9 222.4h.9v.9h-.9zM72.2 219.8h.9v.9h-.9zM74.5 220.9h.9v.9h-.9zM71.6 223.7h.9v.9h-.9zM75.4 225.1h.9v.9h-.9zM73.5 213.5h.9v.9h-.9zM65.6 218.4h.9v.9h-.9zM75.1 214.6h.9v.9h-.9zM70.5 224.3h.9v.9h-.9zM74.6 217.7h.9v.9h-.9zM72.6 220.5h.9v.9h-.9zM71.2 219.1h.9v.9h-.9zM70.2 220.9h.9v.9h-.9zM80.2 225.0h.9v.9h-.9zM67.5 227.9h.9v.9h-.9zM72.6 215.4h.9v.9h-.9zM66.4 220.6h.9v.9h-.9zM74.1 218.0h.9v.9h-.9zM69.5 219.4h.9v.9h-.9zM74.3 222.4h.9v.9h-.9zM75.6 212.1h.9v.9h-.9zM70.4 221.0h.9v.9h-.9zM74.8 222.8h.9v.9h-.9zM66.4 225.4h.9v.9h-.9zM67.7 219.4h.9v.9h-.9zM71.0 218.5h.9v.9h-.9zM69.6 222.8h.9v.9h-.9zM76.6 221.3h.9v.9h-.9zM67.4 218.0h.9v.9h-.9zM72.8 221.4h.9v.9h-.9zM70.6 219.2h.9v.9h-.9zM84.9 220.3h.9v.9h-.9zM71.8 211.9h.9v.9h-.9zM69.7 225.6h.9v.9h-.9zM76.9 216.1h.9v.9h-.9zM76.6 220.7h.9v.9h-.9zM69.5 222.8h.9v.9h-.9zM70.4 219.1h.9v.9h-.9zM73.2 220.8h.9v.9h-.9zM71.1 221.1h.9v.9h-.9zM73.1 220.8h.9v.9h-.9zM74.9 218.0h.9v.9h-.9zM67.0 219.9h.9v.9h-.9zM78.6 221.2h.9v.9h-.9zM74.1 217.6h.9v.9h-.9zM68.0 216.0h.9v.9h-.9zM69.0 218.9h.9v.9h-.9zM66.2 219.7h.9v.9h-.9zM66.1 222.3h.9v.9h-.9zM73.0 214.2h.9v.9h-.9zM70.6 220.9h.9v.9h-.9zM74.8 222.7h.9v.9h-.9zM71.5 219.6h.9v.9h-.9zM72.1 221.9h.9v.9h-.9zM70.0 219.6h.9v.9h-.9zM73.8 219.0h.9v.9h-.9zM68.3 224.7h.9v.9h-.9zM75.3 217.1h.9v.9h-.9zM81.9 217.6h.9v.9h-.9zM69.2 218.9h.9v.9h-.9zM75.5 225.1h.9v.9h-.9zM79.2 222.0h.9v.9h-.9zM73.4 222.3h.9v.9h-.9zM69.6 217.8h.9v.9h-.9zM75.5 220.8h.9v.9h-.9zM74.2 216.7h.9v.9h-.9zM74.2 215.3h.9v.9h-.9zM77.3 220.2h.9v.9h-.9zM70.2 218.5h.9v.9h-.9zM85.5 230.6h.9v.9h-.9zM70.0 224.7h.9v.9h-.9zM73.2 221.0h.9v.9h-.9zM68.8 215.7h.9v.9h-.9zM74.2 218.6h.9v.9h-.9zM75.4 223.7h.9v.9h-.9zM72.6 221.9h.9v.9h-.9zM73.9 220.9h.9v.9h-.9zM70.8 220.9h.9v.9h-.9zM75.1 220.4h.9v.9h-.9zM71.1 215.2h.9v.9h-.9zM68.3 225.4h.9v.9h-.9zM77.6 221.1h.9v.9h-.9zM74.4 219.6h.9v.9h-.9zM76.2 223.3h.9v.9h-.9zM72.0 221.2h.9v.9h-.9zM77.4 214.8h.9v.9h-.9zM68.9 218.2h.9v.9h-.9zM67.9 218.6h.9v.9h-.9zM69.3 218.8h.9v.9h-.9zM75.2 216.2h.9v.9h-.9zM73.6 224.7h.9v.9h-.9zM74.0 216.0h.9v.9h-.9zM70.4 224.0h.9v.9h-.9zM71.9 218.0h.9v.9h-.9zM76.6 217.7h.9v.9h-.9zM68.1 222.2h.9v.9h-.9zM73.2 217.9h.9v.9h-.9zM75.2 223.8h.9v.9h-.9zM77.9 220.5h.9v.9h-.9zM75.2 221.8h.9v.9h-.9zM66.5 225.7h.9v.9h-.9zM70.2 218.2h.9v.9h-.9zM69.5 216.9h.9v.9h-.9zM78.0 220.1h.9v.9h-.9zM70.5 214.0h.9v.9h-.9zM73.9 220.0h.9v.9h-.9zM68.5 219.8h.9v.9h-.9zM65.0 222.3h.9v.9h-.9zM67.7 221.8h.9v.9h-.9zM73.6 213.0h.9v.9h-.9zM68.1 217.9h.9v.9h-.9zM76.6 222.1h.9v.9h-.9zM75.9 225.7h.9v.9h-.9zM71.8 218.4h.9v.9h-.9zM64.8 216.7h.9v.9h-.9zM75.6 217.3h.9v.9h-.9zM69.2 223.3h.9v.9h-.9zM78.9 214.1h.9v.9h-.9zM75.2 220.1h.9v.9h-.9zM77.2 219.0h.9v.9h-.9zM72.6 224.8h.9v.9h-.9zM70.5 221.5h.9v.9h-.9zM75.9 219.7h.9v.9h-.9zM77.0 221.9h.9v.9h-.9zM76.8 214.4h.9v.9h-.9zM68.5 221.1h.9v.9h-.9zM78.3 224.9h.9v.9h-.9zM73.2 217.6h.9v.9h-.9zM68.3 213.6h.9v.9h-.9zM70.9 222.1h.9v.9h-.9zM72.8 215.2h.9v.9h-.9zM72.7 220.3h.9v.9h-.9zM69.8 225.0h.9v.9h-.9zM75.1 223.8h.9v.9h-.9zM73.6 216.9h.9v.9h-.9zM77.9 223.8h.9v.9h-.9zM70.5 215.7h.9v.9h-.9zM76.7 218.2h.9v.9h-.9zM68.0 219.8h.9v.9h-.9zM75.6 217.6h.9v.9h-.9zM73.3 223.5h.9v.9h-.9zM76.4 214.9h.9v.9h-.9zM76.3 226.1h.9v.9h-.9zM77.2 219.8h.9v.9h-.9zM74.8 214.8h.9v.9h-.9zM70.5 218.4h.9v.9h-.9zM82.3 220.1h.9v.9h-.9zM68.8 225.8h.9v.9h-.9zM78.6 214.6h.9v.9h-.9zM72.2 214.5h.9v.9h-.9zM77.7 212.5h.9v.9h-.9zM81.3 216.6h.9v.9h-.9zM68.5 227.2h.9v.9h-.9zM75.5 221.3h.9v.9h-.9zM76.9 216.8h.9v.9h-.9zM77.0 219.2h.9v.9h-.9zM75.4 220.9h.9v.9h-.9zM79.3 215.8h.9v.9h-.9zM67.0 222.3h.9v.9h-.9zM83.6 222.0h.9v.9h-.9zM72.4 222.4h.9v.9h-.9zM67.8 220.4h.9v.9h-.9zM65.7 220.5h.9v.9h-.9zM76.3 225.8h.9v.9h-.9zM70.9 223.2h.9v.9h-.9zM79.1 216.6h.9v.9h-.9zM71.9 213.9h.9v.9h-.9zM69.3 221.6h.9v.9h-.9zM64.1 219.1h.9v.9h-.9zM76.3 224.9h.9v.9h-.9zM70.4 212.4h.9v.9h-.9zM68.6 222.1h.9v.9h-.9zM73.0 222.5h.9v.9h-.9zM71.8 222.3h.9v.9h-.9zM68.8 216.8h.9v.9h-.9zM72.4 214.2h.9v.9h-.9zM78.6 219.3h.9v.9h-.9zM68.8 217.2h.9v.9h-.9zM68.8 220.5h.9v.9h-.9zM71.5 223.0h.9v.9h-.9zM68.0 219.9h.9v.9h-.9zM66.5 218.6h.9v.9h-.9zM79.1 219.7h.9v.9h-.9zM77.1 219.9h.9v.9h-.9zM68.3 217.2h.9v.9h-.9zM68.1 221.3h.9v.9h-.9zM74.1 230.0h.9v.9h-.9zM80.5 223.0h.9v.9h-.9zM68.8 220.5h.9v.9h-.9zM69.1 228.0h.9v.9h-.9zM69.9 224.1h.9v.9h-.9zM67.2 222.7h.9v.9h-.9zM67.7 218.6h.9v.9h-.9zM73.9 220.6h.9v.9h-.9zM72.9 219.9h.9v.9h-.9zM69.3 219.8h.9v.9h-.9zM72.8 217.0h.9v.9h-.9zM75.6 220.7h.9v.9h-.9zM69.8 224.5h.9v.9h-.9zM70.6 213.7h.9v.9h-.9zM78.7 218.9h.9v.9h-.9zM79.6 221.6h.9v.9h-.9zM69.2 223.9h.9v.9h-.9zM75.1 223.2h.9v.9h-.9zM73.3 225.4h.9v.9h-.9zM77.2 219.0h.9v.9h-.9zM66.5 220.0h.9v.9h-.9zM73.4 216.8h.9v.9h-.9zM72.3 225.2h.9v.9h-.9zM71.0 223.9h.9v.9h-.9zM69.0 216.8h.9v.9h-.9zM77.2 219.5h.9v.9h-.9zM74.1 223.6h.9v.9h-.9zM80.3 215.9h.9v.9h-.9zM75.7 220.9h.9v.9h-.9zM73.7 226.2h.9v.9h-.9zM72.0 218.1h.9v.9h-.9zM75.3 213.3h.9v.9h-.9zM74.7 217.1h.9v.9h-.9zM74.5 217.6h.9v.9h-.9zM75.3 219.3h.9v.9h-.9zM69.9 221.9h.9v.9h-.9zM76.4 214.7h.9v.9h-.9zM67.4 219.2h.9v.9h-.9zM71.4 224.6h.9v.9h-.9zM80.1 221.7h.9v.9h-.9zM77.9 219.0h.9v.9h-.9zM67.1 221.1h.9v.9h-.9zM65.3 225.6h.9v.9h-.9zM74.2 224.1h.9v.9h-.9zM70.3 214.7h.9v.9h-.9zM72.2 221.8h.9v.9h-.9zM72.1 218.4h.9v.9h-.9zM73.4 219.5h.9v.9h-.9zM79.2 215.7h.9v.9h-.9zM74.3 214.9h.9v.9h-.9zM72.9 221.6h.9v.9h-.9zM74.6 221.1h.9v.9h-.9zM69.8 215.2h.9v.9h-.9zM77.3 218.9h.9v.9h-.9zM67.0 225.4h.9v.9h-.9zM73.9 217.6h.9v.9h-.9zM80.7 232.6h.9v.9h-.9zM65.2 236.7h.9v.9h-.9zM72.4 238.2h.9v.9h-.9zM71.2 223.4h.9v.9h-.9zM70.5 229.7h.9v.9h-.9zM72.2 230.9h.9v.9h-.9zM73.2 225.6h.9v.9h-.9zM69.1 229.2h.9v.9h-.9zM72.7 223.2h.9v.9h-.9zM64.5 237.1h.9v.9h-.9zM71.5 236.9h.9v.9h-.9zM71.3 233.2h.9v.9h-.9zM72.5 234.2h.9v.9h-.9zM66.7 231.2h.9v.9h-.9zM77.9 239.1h.9v.9h-.9zM68.0 227.0h.9v.9h-.9zM70.5 237.2h.9v.9h-.9zM74.5 228.9h.9v.9h-.9zM65.0 237.9h.9v.9h-.9zM76.6 235.2h.9v.9h-.9zM73.3 234.7h.9v.9h-.9zM77.9 237.4h.9v.9h-.9zM76.5 226.0h.9v.9h-.9zM69.2 231.8h.9v.9h-.9zM71.1 231.5h.9v.9h-.9zM80.5 230.8h.9v.9h-.9zM70.4 231.2h.9v.9h-.9zM69.9 224.6h.9v.9h-.9zM75.3 232.0h.9v.9h-.9zM72.5 232.0h.9v.9h-.9zM68.3 223.7h.9v.9h-.9zM70.1 234.5h.9v.9h-.9zM70.7 235.6h.9v.9h-.9zM68.2 230.3h.9v.9h-.9zM71.7 231.3h.9v.9h-.9zM71.8 239.1h.9v.9h-.9zM69.6 232.5h.9v.9h-.9zM68.7 234.6h.9v.9h-.9zM72.0 228.1h.9v.9h-.9zM67.4 225.7h.9v.9h-.9zM70.1 232.6h.9v.9h-.9zM69.3 231.3h.9v.9h-.9zM71.6 232.9h.9v.9h-.9zM78.3 233.8h.9v.9h-.9zM73.5 229.3h.9v.9h-.9zM69.1 235.8h.9v.9h-.9zM68.9 228.5h.9v.9h-.9zM65.6 233.3h.9v.9h-.9zM70.8 234.6h.9v.9h-.9zM67.9 225.5h.9v.9h-.9zM75.2 231.9h.9v.9h-.9zM74.0 226.0h.9v.9h-.9zM66.3 219.0h.9v.9h-.9zM72.2 236.9h.9v.9h-.9zM64.4 226.3h.9v.9h-.9zM69.2 227.8h.9v.9h-.9zM70.3 227.8h.9v.9h-.9zM65.7 231.6h.9v.9h-.9zM71.6 227.9h.9v.9h-.9zM71.2 225.2h.9v.9h-.9zM69.9 230.1h.9v.9h-.9zM69.4 231.4h.9v.9h-.9zM66.4 225.0h.9v.9h-.9zM68.0 235.6h.9v.9h-.9zM67.6 227.1h.9v.9h-.9zM78.4 230.5h.9v.9h-.9zM69.7 227.3h.9v.9h-.9zM76.5 234.5h.9v.9h-.9zM72.1 239.9h.9v.9h-.9zM66.7 223.2h.9v.9h-.9zM75.2 234.0h.9v.9h-.9zM69.2 235.9h.9v.9h-.9zM66.4 233.6h.9v.9h-.9zM74.7 236.3h.9v.9h-.9zM69.8 229.8h.9v.9h-.9zM69.5 235.3h.9v.9h-.9zM69.6 231.1h.9v.9h-.9zM74.9 231.3h.9v.9h-.9zM72.0 231.2h.9v.9h-.9zM71.1 220.5h.9v.9h-.9zM67.6 233.7h.9v.9h-.9zM68.7 228.7h.9v.9h-.9zM68.3 227.0h.9v.9h-.9zM64.5 234.2h.9v.9h-.9zM70.9 227.5h.9v.9h-.9zM69.6 236.8h.9v.9h-.9zM74.9 233.7h.9v.9h-.9zM75.4 237.0h.9v.9h-.9zM69.4 235.9h.9v.9h-.9zM71.7 235.7h.9v.9h-.9zM66.5 233.7h.9v.9h-.9zM69.2 229.9h.9v.9h-.9zM71.0 231.6h.9v.9h-.9zM77.4 231.5h.9v.9h-.9zM72.0 237.2h.9v.9h-.9zM76.7 226.9h.9v.9h-.9zM72.2 225.0h.9v.9h-.9zM72.9 239.0h.9v.9h-.9zM69.2 230.4h.9v.9h-.9zM75.5 234.1h.9v.9h-.9zM74.1 229.5h.9v.9h-.9zM69.9 229.9h.9v.9h-.9zM76.9 224.2h.9v.9h-.9zM69.2 239.8h.9v.9h-.9zM70.8 226.2h.9v.9h-.9zM72.0 230.7h.9v.9h-.9zM70.6 234.4h.9v.9h-.9zM74.0 224.2h.9v.9h-.9zM71.8 239.5h.9v.9h-.9zM83.1 227.9h.9v.9h-.9zM79.4 227.9h.9v.9h-.9zM85.0 220.7h.9v.9h-.9zM77.5 216.1h.9v.9h-.9zM87.7 235.3h.9v.9h-.9zM72.2 228.5h.9v.9h-.9zM78.4 216.6h.9v.9h-.9zM65.8 212.4h.9v.9h-.9zM92.0 215.2h.9v.9h-.9zM74.3 226.2h.9v.9h-.9zM71.0 228.3h.9v.9h-.9zM81.6 217.8h.9v.9h-.9z" fill="#111" opacity="0.6" filter="url(#bl04)"/>
<line x1="76.5" y1="211.3" x2="76.5" y2="240.6" stroke="#4a4a4a" stroke-width="1.0"/>
<line x1="63.4" y1="223.5" x2="101.9" y2="223.5" stroke="#4a4a4a" stroke-width="1.0"/>
</g>
<rect x="63.5" y="211.5" width="38.0" height="29.0" fill="none" stroke="#111" stroke-width="1.2" />
<path d="M61.60 240.60H63.4M63.40 240.6V242.40M62.30 238.39H63.4M66.30 240.6V241.70M62.30 237.11H63.4M67.99 240.6V241.70M62.30 236.19H63.4M69.19 240.6V241.70M62.30 235.48H63.4M70.13 240.6V241.70M62.30 234.90H63.4M70.89 240.6V241.70M62.30 234.41H63.4M71.53 240.6V241.70M62.30 233.98H63.4M72.09 240.6V241.70M62.30 233.61H63.4M72.58 240.6V241.70M61.60 233.28H63.4M73.03 240.6V242.40M62.30 231.07H63.4M75.92 240.6V241.70M62.30 229.78H63.4M77.62 240.6V241.70M62.30 228.86H63.4M78.82 240.6V241.70M62.30 228.16H63.4M79.75 240.6V241.70M62.30 227.58H63.4M80.51 240.6V241.70M62.30 227.08H63.4M81.16 240.6V241.70M62.30 226.66H63.4M81.72 240.6V241.70M62.30 226.29H63.4M82.21 240.6V241.70M61.60 225.95H63.4M82.65 240.6V242.40M62.30 223.74H63.4M85.55 240.6V241.70M62.30 222.46H63.4M87.24 240.6V241.70M62.30 221.54H63.4M88.44 240.6V241.70M62.30 220.83H63.4M89.38 240.6V241.70M62.30 220.25H63.4M90.14 240.6V241.70M62.30 219.76H63.4M90.78 240.6V241.70M62.30 219.33H63.4M91.34 240.6V241.70M62.30 218.96H63.4M91.83 240.6V241.70M61.60 218.62H63.4M92.28 240.6V242.40M62.30 216.42H63.4M95.17 240.6V241.70M62.30 215.13H63.4M96.87 240.6V241.70M62.30 214.21H63.4M98.07 240.6V241.70M62.30 213.51H63.4M99.00 240.6V241.70M62.30 212.93H63.4M99.76 240.6V241.70M62.30 212.43H63.4M100.41 240.6V241.70M62.30 212.01H63.4M100.97 240.6V241.70M62.30 211.64H63.4M101.46 240.6V241.70M61.6 211.30H63.4M101.90 240.6V242.4" stroke="#111" stroke-width="0.55" fill="none"/>
<clipPath id="clip18"><rect x="108.6" y="211.3" width="38.5" height="29.299999999999983"/></clipPath>
<g clip-path="url(#clip18)">
<ellipse cx="122.1" cy="220.1" rx="4.9" ry="4.9" transform="rotate(0 122.1 220.1)" fill="#111" opacity="0.89" filter="url(#bl)"/>
<ellipse cx="115.9" cy="230.1" rx="5.4" ry="8.2" transform="rotate(0 115.9 230.1)" fill="#111" opacity="0.26" filter="url(#bl)"/>
<path d="M119.9 215.6h.9v.9h-.9zM125.1 219.1h.9v.9h-.9zM122.9 215.2h.9v.9h-.9zM121.2 219.7h.9v.9h-.9zM120.8 223.6h.9v.9h-.9zM123.6 220.5h.9v.9h-.9zM122.8 218.6h.9v.9h-.9zM119.7 219.1h.9v.9h-.9zM118.7 219.5h.9v.9h-.9zM121.7 224.0h.9v.9h-.9zM120.6 228.4h.9v.9h-.9zM120.3 220.5h.9v.9h-.9zM122.0 218.0h.9v.9h-.9zM121.9 214.0h.9v.9h-.9zM125.8 218.1h.9v.9h-.9zM122.0 213.9h.9v.9h-.9zM124.0 215.7h.9v.9h-.9zM126.6 216.5h.9v.9h-.9zM119.6 222.4h.9v.9h-.9zM126.3 213.3h.9v.9h-.9zM116.4 225.6h.9v.9h-.9zM123.5 214.9h.9v.9h-.9zM120.6 222.5h.9v.9h-.9zM120.8 225.3h.9v.9h-.9zM119.7 220.7h.9v.9h-.9zM125.9 225.2h.9v.9h-.9zM122.8 222.1h.9v.9h-.9zM120.9 219.9h.9v.9h-.9zM120.1 221.4h.9v.9h-.9zM124.9 216.6h.9v.9h-.9zM118.2 220.2h.9v.9h-.9zM128.7 220.9h.9v.9h-.9zM122.5 219.9h.9v.9h-.9zM116.5 217.6h.9v.9h-.9zM127.1 212.8h.9v.9h-.9zM128.0 216.0h.9v.9h-.9zM128.8 229.1h.9v.9h-.9zM127.0 219.6h.9v.9h-.9zM124.0 218.2h.9v.9h-.9zM120.6 220.8h.9v.9h-.9zM111.6 222.0h.9v.9h-.9zM121.0 216.3h.9v.9h-.9zM121.1 222.3h.9v.9h-.9zM119.5 221.3h.9v.9h-.9zM117.6 220.4h.9v.9h-.9zM118.2 222.7h.9v.9h-.9zM118.6 222.2h.9v.9h-.9zM115.4 220.7h.9v.9h-.9zM125.7 217.2h.9v.9h-.9zM122.2 217.1h.9v.9h-.9zM123.6 222.7h.9v.9h-.9zM125.9 224.7h.9v.9h-.9zM126.4 217.6h.9v.9h-.9zM122.4 221.9h.9v.9h-.9zM122.7 215.5h.9v.9h-.9zM128.8 228.9h.9v.9h-.9zM128.1 219.4h.9v.9h-.9zM129.6 216.5h.9v.9h-.9zM123.8 222.8h.9v.9h-.9zM117.3 218.9h.9v.9h-.9zM123.7 222.4h.9v.9h-.9zM114.1 221.3h.9v.9h-.9zM127.3 214.7h.9v.9h-.9zM123.3 223.3h.9v.9h-.9zM118.8 214.6h.9v.9h-.9zM122.9 218.5h.9v.9h-.9zM121.7 219.4h.9v.9h-.9zM121.7 221.2h.9v.9h-.9zM120.3 220.0h.9v.9h-.9zM120.2 217.1h.9v.9h-.9zM123.2 217.2h.9v.9h-.9zM123.8 220.0h.9v.9h-.9zM125.6 222.1h.9v.9h-.9zM115.4 220.0h.9v.9h-.9zM124.2 220.5h.9v.9h-.9zM122.2 223.8h.9v.9h-.9zM124.3 215.4h.9v.9h-.9zM122.4 223.6h.9v.9h-.9zM122.6 215.6h.9v.9h-.9zM124.6 222.2h.9v.9h-.9zM125.9 220.7h.9v.9h-.9zM122.4 223.0h.9v.9h-.9zM118.4 226.0h.9v.9h-.9zM123.4 220.9h.9v.9h-.9zM124.6 222.8h.9v.9h-.9zM114.7 223.3h.9v.9h-.9zM121.7 217.3h.9v.9h-.9zM125.0 223.3h.9v.9h-.9zM123.3 217.9h.9v.9h-.9zM122.4 216.8h.9v.9h-.9zM130.4 217.8h.9v.9h-.9zM124.9 225.7h.9v.9h-.9zM119.2 218.2h.9v.9h-.9zM114.6 219.2h.9v.9h-.9zM117.6 220.6h.9v.9h-.9zM121.3 220.1h.9v.9h-.9zM122.2 218.4h.9v.9h-.9zM122.4 219.8h.9v.9h-.9zM119.7 219.0h.9v.9h-.9zM120.1 215.6h.9v.9h-.9zM121.9 213.6h.9v.9h-.9zM123.8 220.0h.9v.9h-.9zM122.6 224.1h.9v.9h-.9zM125.2 218.5h.9v.9h-.9zM123.2 224.2h.9v.9h-.9zM121.5 221.4h.9v.9h-.9zM123.4 216.5h.9v.9h-.9zM123.0 218.7h.9v.9h-.9zM121.2 221.6h.9v.9h-.9zM124.2 216.9h.9v.9h-.9zM121.2 219.4h.9v.9h-.9zM118.9 221.4h.9v.9h-.9zM121.4 217.6h.9v.9h-.9zM125.2 219.8h.9v.9h-.9zM118.2 219.7h.9v.9h-.9zM121.4 221.1h.9v.9h-.9zM129.5 222.0h.9v.9h-.9zM126.8 219.5h.9v.9h-.9zM123.6 221.8h.9v.9h-.9zM121.7 220.9h.9v.9h-.9zM120.5 222.5h.9v.9h-.9zM119.0 226.0h.9v.9h-.9zM109.7 215.2h.9v.9h-.9zM121.6 221.3h.9v.9h-.9zM122.5 214.4h.9v.9h-.9zM123.4 217.0h.9v.9h-.9zM122.7 218.6h.9v.9h-.9zM121.1 214.8h.9v.9h-.9zM117.7 218.1h.9v.9h-.9zM118.5 220.9h.9v.9h-.9zM117.4 220.8h.9v.9h-.9zM123.9 217.5h.9v.9h-.9zM118.8 218.9h.9v.9h-.9zM124.6 224.9h.9v.9h-.9zM129.2 220.4h.9v.9h-.9zM124.1 220.7h.9v.9h-.9zM122.0 216.3h.9v.9h-.9zM120.9 224.0h.9v.9h-.9zM126.6 218.0h.9v.9h-.9zM116.7 226.7h.9v.9h-.9zM122.1 221.7h.9v.9h-.9zM121.5 213.8h.9v.9h-.9zM123.1 216.7h.9v.9h-.9zM121.1 217.9h.9v.9h-.9zM121.2 228.4h.9v.9h-.9zM127.0 213.3h.9v.9h-.9zM116.9 218.3h.9v.9h-.9zM119.8 222.8h.9v.9h-.9zM127.2 217.5h.9v.9h-.9zM123.9 219.3h.9v.9h-.9zM115.5 224.2h.9v.9h-.9zM127.8 217.2h.9v.9h-.9zM124.1 218.3h.9v.9h-.9zM121.7 218.5h.9v.9h-.9zM121.6 220.2h.9v.9h-.9zM120.0 221.0h.9v.9h-.9zM117.7 222.9h.9v.9h-.9zM118.9 213.6h.9v.9h-.9zM124.8 218.9h.9v.9h-.9zM120.3 223.3h.9v.9h-.9zM121.9 226.9h.9v.9h-.9zM123.4 215.1h.9v.9h-.9zM120.4 217.7h.9v.9h-.9zM121.1 225.9h.9v.9h-.9zM131.0 226.0h.9v.9h-.9zM123.5 222.0h.9v.9h-.9zM122.6 212.4h.9v.9h-.9zM126.6 227.0h.9v.9h-.9zM120.3 220.0h.9v.9h-.9zM119.7 219.4h.9v.9h-.9zM119.2 216.1h.9v.9h-.9zM126.0 213.3h.9v.9h-.9zM125.4 216.1h.9v.9h-.9zM121.2 213.1h.9v.9h-.9zM124.2 216.6h.9v.9h-.9zM130.3 216.8h.9v.9h-.9zM122.9 222.4h.9v.9h-.9zM118.8 217.2h.9v.9h-.9zM118.5 222.0h.9v.9h-.9zM123.0 223.6h.9v.9h-.9zM117.3 216.8h.9v.9h-.9zM121.6 218.5h.9v.9h-.9zM123.1 224.0h.9v.9h-.9zM122.5 217.3h.9v.9h-.9zM121.9 217.6h.9v.9h-.9zM119.9 226.6h.9v.9h-.9zM124.3 226.4h.9v.9h-.9zM121.3 219.8h.9v.9h-.9zM117.8 220.9h.9v.9h-.9zM124.4 222.5h.9v.9h-.9zM118.2 220.5h.9v.9h-.9zM125.1 218.4h.9v.9h-.9zM124.4 218.3h.9v.9h-.9zM122.0 218.0h.9v.9h-.9zM117.1 217.2h.9v.9h-.9zM122.6 219.1h.9v.9h-.9zM122.0 218.1h.9v.9h-.9zM125.0 219.5h.9v.9h-.9zM123.3 218.4h.9v.9h-.9zM126.4 219.7h.9v.9h-.9zM123.5 227.8h.9v.9h-.9zM123.5 214.6h.9v.9h-.9zM119.8 221.2h.9v.9h-.9zM117.7 214.9h.9v.9h-.9zM121.6 214.6h.9v.9h-.9zM125.6 221.6h.9v.9h-.9zM121.0 224.3h.9v.9h-.9zM119.8 215.9h.9v.9h-.9zM125.0 220.1h.9v.9h-.9zM121.3 223.7h.9v.9h-.9zM121.6 222.3h.9v.9h-.9zM122.8 224.1h.9v.9h-.9zM123.9 218.4h.9v.9h-.9zM127.0 218.8h.9v.9h-.9zM127.8 215.6h.9v.9h-.9zM122.2 212.3h.9v.9h-.9zM123.8 224.8h.9v.9h-.9zM120.7 221.7h.9v.9h-.9zM121.3 225.1h.9v.9h-.9zM123.2 221.3h.9v.9h-.9zM125.7 214.8h.9v.9h-.9zM124.3 220.5h.9v.9h-.9zM126.3 220.2h.9v.9h-.9zM124.1 219.9h.9v.9h-.9zM118.8 218.3h.9v.9h-.9zM121.4 215.4h.9v.9h-.9zM121.9 218.4h.9v.9h-.9zM128.1 219.2h.9v.9h-.9zM122.5 220.4h.9v.9h-.9zM124.4 214.5h.9v.9h-.9zM116.3 225.6h.9v.9h-.9zM119.3 217.0h.9v.9h-.9zM125.9 221.1h.9v.9h-.9zM119.4 222.7h.9v.9h-.9zM118.3 225.7h.9v.9h-.9zM121.0 221.3h.9v.9h-.9zM122.0 226.8h.9v.9h-.9zM118.9 219.7h.9v.9h-.9zM123.8 218.2h.9v.9h-.9zM114.1 231.7h.9v.9h-.9zM115.1 232.6h.9v.9h-.9zM120.2 223.5h.9v.9h-.9zM113.5 237.7h.9v.9h-.9zM123.1 214.5h.9v.9h-.9zM117.9 235.8h.9v.9h-.9zM113.4 225.0h.9v.9h-.9zM111.7 228.9h.9v.9h-.9zM111.7 234.2h.9v.9h-.9zM113.4 233.1h.9v.9h-.9zM110.1 235.2h.9v.9h-.9zM118.4 235.5h.9v.9h-.9zM119.5 230.3h.9v.9h-.9zM121.8 228.0h.9v.9h-.9zM116.5 239.6h.9v.9h-.9zM114.2 230.0h.9v.9h-.9zM116.8 231.1h.9v.9h-.9zM115.0 235.9h.9v.9h-.9zM123.9 227.8h.9v.9h-.9zM110.5 227.3h.9v.9h-.9zM110.8 222.7h.9v.9h-.9zM112.1 236.2h.9v.9h-.9zM116.5 234.2h.9v.9h-.9zM115.5 236.0h.9v.9h-.9zM114.4 237.6h.9v.9h-.9zM119.2 231.3h.9v.9h-.9zM110.5 223.7h.9v.9h-.9zM116.9 224.0h.9v.9h-.9zM115.3 229.1h.9v.9h-.9zM121.0 226.1h.9v.9h-.9zM116.4 227.4h.9v.9h-.9zM113.1 232.6h.9v.9h-.9zM119.5 221.8h.9v.9h-.9zM116.5 233.1h.9v.9h-.9zM112.1 227.7h.9v.9h-.9zM117.1 229.5h.9v.9h-.9zM121.0 224.9h.9v.9h-.9zM115.0 233.1h.9v.9h-.9zM115.6 228.6h.9v.9h-.9zM115.5 232.4h.9v.9h-.9zM118.7 223.9h.9v.9h-.9zM112.6 223.5h.9v.9h-.9zM117.5 219.3h.9v.9h-.9zM125.0 226.9h.9v.9h-.9zM115.9 232.9h.9v.9h-.9zM115.2 228.6h.9v.9h-.9zM123.5 218.6h.9v.9h-.9zM116.9 225.8h.9v.9h-.9zM114.7 229.7h.9v.9h-.9zM109.2 233.7h.9v.9h-.9zM116.7 233.3h.9v.9h-.9zM113.7 234.4h.9v.9h-.9zM114.2 234.5h.9v.9h-.9zM120.9 233.7h.9v.9h-.9zM110.6 230.5h.9v.9h-.9zM116.7 222.7h.9v.9h-.9zM110.3 237.7h.9v.9h-.9zM112.2 232.4h.9v.9h-.9zM114.7 229.2h.9v.9h-.9zM114.3 230.1h.9v.9h-.9zM121.9 225.0h.9v.9h-.9zM117.8 232.9h.9v.9h-.9zM113.5 223.7h.9v.9h-.9zM112.6 233.4h.9v.9h-.9zM116.5 236.0h.9v.9h-.9zM117.3 230.7h.9v.9h-.9zM116.0 231.4h.9v.9h-.9zM116.1 233.9h.9v.9h-.9zM112.8 236.3h.9v.9h-.9zM121.9 229.6h.9v.9h-.9zM118.0 223.3h.9v.9h-.9zM116.3 221.8h.9v.9h-.9zM119.6 230.3h.9v.9h-.9zM119.9 236.6h.9v.9h-.9zM113.2 234.8h.9v.9h-.9zM115.6 233.2h.9v.9h-.9zM113.6 233.7h.9v.9h-.9zM118.1 238.4h.9v.9h-.9zM115.4 230.4h.9v.9h-.9zM117.8 229.1h.9v.9h-.9zM123.6 217.3h.9v.9h-.9zM109.6 227.2h.9v.9h-.9zM118.5 230.2h.9v.9h-.9zM117.5 221.3h.9v.9h-.9zM118.1 233.2h.9v.9h-.9zM122.0 234.8h.9v.9h-.9zM113.7 225.8h.9v.9h-.9zM111.8 227.3h.9v.9h-.9zM115.6 237.3h.9v.9h-.9zM122.0 230.5h.9v.9h-.9zM118.1 229.1h.9v.9h-.9zM111.2 233.1h.9v.9h-.9zM113.3 220.8h.9v.9h-.9zM112.9 238.7h.9v.9h-.9zM111.7 237.9h.9v.9h-.9zM110.9 229.7h.9v.9h-.9zM117.8 227.8h.9v.9h-.9zM112.4 230.1h.9v.9h-.9zM122.1 233.9h.9v.9h-.9zM116.7 233.4h.9v.9h-.9zM120.3 237.7h.9v.9h-.9zM114.9 225.0h.9v.9h-.9zM112.3 230.4h.9v.9h-.9zM114.8 230.1h.9v.9h-.9zM113.4 238.3h.9v.9h-.9zM112.8 225.6h.9v.9h-.9zM111.6 223.8h.9v.9h-.9zM109.9 225.3h.9v.9h-.9zM115.1 234.1h.9v.9h-.9zM109.3 232.6h.9v.9h-.9zM115.5 230.1h.9v.9h-.9zM115.0 228.1h.9v.9h-.9zM119.6 227.2h.9v.9h-.9zM138.0 220.9h.9v.9h-.9zM115.2 224.4h.9v.9h-.9zM146.5 212.1h.9v.9h-.9zM120.3 217.7h.9v.9h-.9zM126.8 234.3h.9v.9h-.9zM130.2 228.5h.9v.9h-.9zM117.2 226.9h.9v.9h-.9zM137.4 221.0h.9v.9h-.9zM109.3 239.7h.9v.9h-.9zM128.1 239.6h.9v.9h-.9z" fill="#111" opacity="0.6" filter="url(#bl04)"/>
<line x1="122.5" y1="211.3" x2="122.5" y2="240.6" stroke="#4a4a4a" stroke-width="1.0"/>
<line x1="108.6" y1="223.5" x2="147.1" y2="223.5" stroke="#4a4a4a" stroke-width="1.0"/>
</g>
<rect x="108.5" y="211.5" width="39.0" height="29.0" fill="none" stroke="#111" stroke-width="1.2" />
<path d="M106.80 240.60H108.6M108.60 240.6V242.40M107.50 238.39H108.6M111.50 240.6V241.70M107.50 237.11H108.6M113.19 240.6V241.70M107.50 236.19H108.6M114.39 240.6V241.70M107.50 235.48H108.6M115.33 240.6V241.70M107.50 234.90H108.6M116.09 240.6V241.70M107.50 234.41H108.6M116.73 240.6V241.70M107.50 233.98H108.6M117.29 240.6V241.70M107.50 233.61H108.6M117.78 240.6V241.70M106.80 233.28H108.6M118.22 240.6V242.40M107.50 231.07H108.6M121.12 240.6V241.70M107.50 229.78H108.6M122.82 240.6V241.70M107.50 228.86H108.6M124.02 240.6V241.70M107.50 228.16H108.6M124.95 240.6V241.70M107.50 227.58H108.6M125.71 240.6V241.70M107.50 227.08H108.6M126.36 240.6V241.70M107.50 226.66H108.6M126.92 240.6V241.70M107.50 226.29H108.6M127.41 240.6V241.70M106.80 225.95H108.6M127.85 240.6V242.40M107.50 223.74H108.6M130.75 240.6V241.70M107.50 222.46H108.6M132.44 240.6V241.70M107.50 221.54H108.6M133.64 240.6V241.70M107.50 220.83H108.6M134.58 240.6V241.70M107.50 220.25H108.6M135.34 240.6V241.70M107.50 219.76H108.6M135.98 240.6V241.70M107.50 219.33H108.6M136.54 240.6V241.70M107.50 218.96H108.6M137.03 240.6V241.70M106.80 218.62H108.6M137.47 240.6V242.40M107.50 216.42H108.6M140.37 240.6V241.70M107.50 215.13H108.6M142.07 240.6V241.70M107.50 214.21H108.6M143.27 240.6V241.70M107.50 213.51H108.6M144.20 240.6V241.70M107.50 212.93H108.6M144.96 240.6V241.70M107.50 212.43H108.6M145.61 240.6V241.70M107.50 212.01H108.6M146.17 240.6V241.70M107.50 211.64H108.6M146.66 240.6V241.70M106.8 211.30H108.6M147.10 240.6V242.4" stroke="#111" stroke-width="0.55" fill="none"/>
<clipPath id="clip19"><rect x="154.5" y="211.3" width="38.5" height="29.299999999999983"/></clipPath>
<g clip-path="url(#clip19)">
<ellipse cx="164.9" cy="220.1" rx="7.5" ry="4.1" transform="rotate(0 164.9 220.1)" fill="#111" opacity="0.37" filter="url(#bl)"/>
<ellipse cx="168.0" cy="231.8" rx="8.1" ry="8.2" transform="rotate(0 168.0 231.8)" fill="#111" opacity="0.16" filter="url(#bl)"/>
<path d="M161.1 218.4h.9v.9h-.9zM170.4 226.2h.9v.9h-.9zM165.4 216.3h.9v.9h-.9zM169.4 220.4h.9v.9h-.9zM162.8 220.7h.9v.9h-.9zM158.9 220.7h.9v.9h-.9zM166.8 223.5h.9v.9h-.9zM175.4 218.3h.9v.9h-.9zM166.9 217.8h.9v.9h-.9zM165.6 223.4h.9v.9h-.9zM168.3 219.3h.9v.9h-.9zM174.3 222.7h.9v.9h-.9zM171.3 220.3h.9v.9h-.9zM171.9 219.7h.9v.9h-.9zM169.5 220.2h.9v.9h-.9zM164.9 215.7h.9v.9h-.9zM170.0 221.8h.9v.9h-.9zM161.7 220.3h.9v.9h-.9zM168.1 221.9h.9v.9h-.9zM159.6 225.6h.9v.9h-.9zM170.9 220.5h.9v.9h-.9zM166.0 220.9h.9v.9h-.9zM162.8 224.5h.9v.9h-.9zM161.4 218.6h.9v.9h-.9zM163.7 215.6h.9v.9h-.9zM170.4 216.7h.9v.9h-.9zM172.8 222.8h.9v.9h-.9zM175.5 218.4h.9v.9h-.9zM163.4 218.8h.9v.9h-.9zM169.1 217.5h.9v.9h-.9zM163.2 213.5h.9v.9h-.9zM165.2 220.7h.9v.9h-.9zM175.4 217.7h.9v.9h-.9zM170.0 221.8h.9v.9h-.9zM169.6 216.9h.9v.9h-.9zM170.0 220.6h.9v.9h-.9zM172.5 226.3h.9v.9h-.9zM161.3 218.9h.9v.9h-.9zM173.0 215.3h.9v.9h-.9zM166.7 224.5h.9v.9h-.9zM168.8 220.0h.9v.9h-.9zM161.9 214.8h.9v.9h-.9zM167.7 218.4h.9v.9h-.9zM162.9 221.0h.9v.9h-.9zM161.7 225.9h.9v.9h-.9zM164.3 223.4h.9v.9h-.9zM159.7 215.5h.9v.9h-.9zM169.6 219.1h.9v.9h-.9zM157.8 223.2h.9v.9h-.9zM167.6 215.1h.9v.9h-.9zM163.7 225.9h.9v.9h-.9zM165.5 216.2h.9v.9h-.9zM160.5 224.1h.9v.9h-.9zM172.9 222.1h.9v.9h-.9zM156.9 222.5h.9v.9h-.9zM160.6 218.6h.9v.9h-.9zM162.3 223.3h.9v.9h-.9zM167.6 221.8h.9v.9h-.9zM162.6 218.6h.9v.9h-.9zM170.7 218.3h.9v.9h-.9zM163.5 221.7h.9v.9h-.9zM164.0 223.0h.9v.9h-.9zM167.9 222.0h.9v.9h-.9zM177.2 218.5h.9v.9h-.9zM176.1 216.4h.9v.9h-.9zM160.8 212.8h.9v.9h-.9zM161.4 217.8h.9v.9h-.9zM168.7 223.8h.9v.9h-.9zM177.3 218.6h.9v.9h-.9zM170.6 219.6h.9v.9h-.9zM163.0 214.4h.9v.9h-.9zM169.6 217.4h.9v.9h-.9zM168.4 218.1h.9v.9h-.9zM167.5 217.3h.9v.9h-.9zM167.1 225.5h.9v.9h-.9zM166.9 216.1h.9v.9h-.9zM160.8 220.5h.9v.9h-.9zM169.3 216.5h.9v.9h-.9zM160.1 215.3h.9v.9h-.9zM174.4 221.0h.9v.9h-.9zM166.7 218.8h.9v.9h-.9zM175.2 221.8h.9v.9h-.9zM164.4 223.7h.9v.9h-.9zM168.1 219.3h.9v.9h-.9zM163.0 220.1h.9v.9h-.9zM172.3 215.9h.9v.9h-.9zM156.1 222.1h.9v.9h-.9zM170.6 224.4h.9v.9h-.9zM168.0 215.7h.9v.9h-.9zM169.3 220.6h.9v.9h-.9zM159.6 215.4h.9v.9h-.9zM156.7 220.3h.9v.9h-.9zM158.0 221.2h.9v.9h-.9zM164.1 222.0h.9v.9h-.9zM169.6 217.4h.9v.9h-.9zM162.9 222.3h.9v.9h-.9zM161.5 223.1h.9v.9h-.9zM168.1 222.8h.9v.9h-.9zM161.7 222.4h.9v.9h-.9zM163.8 220.8h.9v.9h-.9zM168.3 218.4h.9v.9h-.9zM164.7 213.0h.9v.9h-.9zM161.2 221.9h.9v.9h-.9zM159.2 213.8h.9v.9h-.9zM157.3 219.2h.9v.9h-.9zM168.5 221.7h.9v.9h-.9zM157.4 221.3h.9v.9h-.9zM158.4 223.3h.9v.9h-.9zM167.0 218.2h.9v.9h-.9zM162.4 219.9h.9v.9h-.9zM161.9 223.6h.9v.9h-.9zM166.6 218.4h.9v.9h-.9zM167.4 216.0h.9v.9h-.9zM165.8 219.1h.9v.9h-.9zM161.9 219.9h.9v.9h-.9zM166.1 215.7h.9v.9h-.9zM166.9 228.9h.9v.9h-.9zM169.2 218.3h.9v.9h-.9zM166.8 225.0h.9v.9h-.9zM159.2 225.0h.9v.9h-.9zM163.1 225.7h.9v.9h-.9zM160.6 223.2h.9v.9h-.9zM161.9 223.8h.9v.9h-.9zM169.7 221.1h.9v.9h-.9zM160.5 223.2h.9v.9h-.9zM166.9 216.9h.9v.9h-.9zM167.9 219.6h.9v.9h-.9zM164.3 217.2h.9v.9h-.9zM166.0 222.7h.9v.9h-.9zM160.5 222.5h.9v.9h-.9zM155.4 220.4h.9v.9h-.9zM166.3 217.2h.9v.9h-.9zM165.8 216.2h.9v.9h-.9zM174.8 221.3h.9v.9h-.9zM170.7 217.3h.9v.9h-.9zM172.0 219.6h.9v.9h-.9zM171.0 221.3h.9v.9h-.9zM166.7 223.2h.9v.9h-.9zM161.8 218.9h.9v.9h-.9zM170.7 221.5h.9v.9h-.9zM162.1 216.9h.9v.9h-.9zM169.7 219.6h.9v.9h-.9zM158.2 221.3h.9v.9h-.9zM167.4 226.9h.9v.9h-.9zM166.5 212.6h.9v.9h-.9zM160.1 222.4h.9v.9h-.9zM162.4 219.9h.9v.9h-.9zM164.5 224.4h.9v.9h-.9zM166.6 219.6h.9v.9h-.9zM161.6 223.1h.9v.9h-.9zM161.3 221.3h.9v.9h-.9zM167.1 222.3h.9v.9h-.9zM169.0 220.9h.9v.9h-.9zM175.1 222.4h.9v.9h-.9zM161.0 217.4h.9v.9h-.9zM161.3 224.1h.9v.9h-.9zM159.3 224.8h.9v.9h-.9zM167.1 218.3h.9v.9h-.9zM159.8 219.8h.9v.9h-.9zM168.8 219.9h.9v.9h-.9zM168.6 220.6h.9v.9h-.9zM171.9 218.6h.9v.9h-.9zM164.3 216.7h.9v.9h-.9zM163.3 217.1h.9v.9h-.9zM157.2 219.4h.9v.9h-.9zM168.4 213.4h.9v.9h-.9zM158.4 215.9h.9v.9h-.9zM166.8 221.8h.9v.9h-.9zM166.6 219.5h.9v.9h-.9zM161.0 220.6h.9v.9h-.9zM160.5 219.4h.9v.9h-.9zM167.0 219.3h.9v.9h-.9zM171.0 213.6h.9v.9h-.9zM156.8 223.1h.9v.9h-.9zM162.0 218.7h.9v.9h-.9zM162.1 219.9h.9v.9h-.9zM164.1 221.2h.9v.9h-.9zM169.6 225.6h.9v.9h-.9zM160.4 220.7h.9v.9h-.9zM159.8 220.3h.9v.9h-.9zM166.3 220.0h.9v.9h-.9zM166.1 222.0h.9v.9h-.9zM159.6 219.9h.9v.9h-.9zM170.3 222.9h.9v.9h-.9zM169.9 217.6h.9v.9h-.9zM161.6 223.0h.9v.9h-.9zM164.9 221.0h.9v.9h-.9zM163.1 222.8h.9v.9h-.9zM165.8 217.1h.9v.9h-.9zM166.8 219.0h.9v.9h-.9zM163.6 221.8h.9v.9h-.9zM165.7 218.4h.9v.9h-.9zM161.7 229.1h.9v.9h-.9zM167.3 224.7h.9v.9h-.9zM164.5 232.2h.9v.9h-.9zM161.3 229.9h.9v.9h-.9zM169.3 232.8h.9v.9h-.9zM158.8 232.0h.9v.9h-.9zM162.7 238.3h.9v.9h-.9zM170.0 224.9h.9v.9h-.9zM173.1 228.9h.9v.9h-.9zM167.4 232.4h.9v.9h-.9zM161.0 238.8h.9v.9h-.9zM168.8 225.7h.9v.9h-.9zM160.6 234.5h.9v.9h-.9zM174.6 234.2h.9v.9h-.9zM169.7 229.3h.9v.9h-.9zM173.9 235.0h.9v.9h-.9zM163.6 228.2h.9v.9h-.9zM156.3 238.7h.9v.9h-.9zM184.2 231.1h.9v.9h-.9zM170.4 236.3h.9v.9h-.9zM162.5 226.8h.9v.9h-.9zM176.8 237.2h.9v.9h-.9zM172.1 231.2h.9v.9h-.9zM167.7 232.7h.9v.9h-.9zM170.3 228.2h.9v.9h-.9zM165.1 226.2h.9v.9h-.9zM162.8 239.8h.9v.9h-.9zM164.3 227.3h.9v.9h-.9zM173.9 230.8h.9v.9h-.9zM167.8 236.0h.9v.9h-.9zM174.1 233.2h.9v.9h-.9zM176.4 227.8h.9v.9h-.9zM165.2 235.9h.9v.9h-.9zM171.5 221.5h.9v.9h-.9zM166.3 235.9h.9v.9h-.9zM159.4 233.0h.9v.9h-.9zM163.4 222.4h.9v.9h-.9zM166.7 231.5h.9v.9h-.9zM165.7 228.1h.9v.9h-.9zM172.6 225.7h.9v.9h-.9zM164.6 223.6h.9v.9h-.9zM174.3 223.1h.9v.9h-.9zM177.4 226.4h.9v.9h-.9zM162.2 239.7h.9v.9h-.9zM160.9 229.1h.9v.9h-.9zM171.0 233.9h.9v.9h-.9zM169.8 233.7h.9v.9h-.9zM176.5 222.3h.9v.9h-.9zM164.2 237.0h.9v.9h-.9zM160.0 227.8h.9v.9h-.9zM181.3 239.8h.9v.9h-.9zM170.8 232.4h.9v.9h-.9zM167.1 226.7h.9v.9h-.9zM163.2 226.1h.9v.9h-.9zM161.1 232.7h.9v.9h-.9zM170.3 226.3h.9v.9h-.9zM168.7 224.0h.9v.9h-.9zM170.0 230.0h.9v.9h-.9zM167.6 233.0h.9v.9h-.9zM175.1 233.1h.9v.9h-.9zM164.4 232.8h.9v.9h-.9zM170.1 235.1h.9v.9h-.9zM173.7 227.0h.9v.9h-.9zM161.5 235.6h.9v.9h-.9zM161.8 234.6h.9v.9h-.9zM182.8 239.3h.9v.9h-.9zM160.0 227.0h.9v.9h-.9zM170.1 230.2h.9v.9h-.9zM171.8 233.3h.9v.9h-.9zM169.8 235.2h.9v.9h-.9zM159.5 238.7h.9v.9h-.9zM160.3 226.7h.9v.9h-.9zM154.8 231.9h.9v.9h-.9zM170.2 229.7h.9v.9h-.9zM161.5 219.0h.9v.9h-.9zM171.0 225.1h.9v.9h-.9zM166.0 233.3h.9v.9h-.9zM167.6 234.3h.9v.9h-.9zM177.0 236.1h.9v.9h-.9zM162.5 231.7h.9v.9h-.9zM166.7 226.8h.9v.9h-.9zM171.6 229.6h.9v.9h-.9zM169.3 235.7h.9v.9h-.9zM179.5 228.3h.9v.9h-.9zM176.7 233.7h.9v.9h-.9zM164.0 232.9h.9v.9h-.9zM164.6 229.4h.9v.9h-.9zM158.6 230.2h.9v.9h-.9zM157.0 237.8h.9v.9h-.9zM170.9 229.5h.9v.9h-.9zM168.2 232.7h.9v.9h-.9zM166.6 233.7h.9v.9h-.9zM166.1 214.8h.9v.9h-.9zM173.0 218.8h.9v.9h-.9zM190.2 234.6h.9v.9h-.9zM168.2 227.0h.9v.9h-.9zM157.8 213.1h.9v.9h-.9zM186.0 213.9h.9v.9h-.9zM168.7 218.2h.9v.9h-.9zM162.6 217.7h.9v.9h-.9zM163.0 238.7h.9v.9h-.9zM163.7 230.4h.9v.9h-.9zM163.7 238.6h.9v.9h-.9zM188.9 226.2h.9v.9h-.9z" fill="#111" opacity="0.6" filter="url(#bl04)"/>
<line x1="166.5" y1="211.3" x2="166.5" y2="240.6" stroke="#4a4a4a" stroke-width="1.0"/>
<line x1="154.5" y1="223.5" x2="193.0" y2="223.5" stroke="#4a4a4a" stroke-width="1.0"/>
</g>
<rect x="154.5" y="211.5" width="39.0" height="29.0" fill="none" stroke="#111" stroke-width="1.2" />
<path d="M152.70 240.60H154.5M154.50 240.6V242.40M153.40 238.39H154.5M157.40 240.6V241.70M153.40 237.11H154.5M159.09 240.6V241.70M153.40 236.19H154.5M160.29 240.6V241.70M153.40 235.48H154.5M161.23 240.6V241.70M153.40 234.90H154.5M161.99 240.6V241.70M153.40 234.41H154.5M162.63 240.6V241.70M153.40 233.98H154.5M163.19 240.6V241.70M153.40 233.61H154.5M163.68 240.6V241.70M152.70 233.28H154.5M164.12 240.6V242.40M153.40 231.07H154.5M167.02 240.6V241.70M153.40 229.78H154.5M168.72 240.6V241.70M153.40 228.86H154.5M169.92 240.6V241.70M153.40 228.16H154.5M170.85 240.6V241.70M153.40 227.58H154.5M171.61 240.6V241.70M153.40 227.08H154.5M172.26 240.6V241.70M153.40 226.66H154.5M172.82 240.6V241.70M153.40 226.29H154.5M173.31 240.6V241.70M152.70 225.95H154.5M173.75 240.6V242.40M153.40 223.74H154.5M176.65 240.6V241.70M153.40 222.46H154.5M178.34 240.6V241.70M153.40 221.54H154.5M179.54 240.6V241.70M153.40 220.83H154.5M180.48 240.6V241.70M153.40 220.25H154.5M181.24 240.6V241.70M153.40 219.76H154.5M181.88 240.6V241.70M153.40 219.33H154.5M182.44 240.6V241.70M153.40 218.96H154.5M182.93 240.6V241.70M152.70 218.62H154.5M183.38 240.6V242.40M153.40 216.42H154.5M186.27 240.6V241.70M153.40 215.13H154.5M187.97 240.6V241.70M153.40 214.21H154.5M189.17 240.6V241.70M153.40 213.51H154.5M190.10 240.6V241.70M153.40 212.93H154.5M190.86 240.6V241.70M153.40 212.43H154.5M191.51 240.6V241.70M153.40 212.01H154.5M192.07 240.6V241.70M153.40 211.64H154.5M192.56 240.6V241.70M152.7 211.30H154.5M193.00 240.6V242.4" stroke="#111" stroke-width="0.55" fill="none"/>
<clipPath id="clip20"><rect x="19.0" y="253.7" width="38.5" height="28.400000000000034"/></clipPath>
<g clip-path="url(#clip20)">
<ellipse cx="29.0" cy="267.0" rx="4.3" ry="13.9" transform="rotate(8 29.0 267.0)" fill="#111" opacity="0.79" filter="url(#bl)"/>
<ellipse cx="46.0" cy="259.4" rx="6.5" ry="3.2" transform="rotate(0 46.0 259.4)" fill="#111" opacity="0.13" filter="url(#bl)"/>
<path d="M34.4 262.3h.9v.9h-.9zM33.0 260.2h.9v.9h-.9zM29.8 269.1h.9v.9h-.9zM22.0 276.4h.9v.9h-.9zM31.9 262.6h.9v.9h-.9zM28.8 260.7h.9v.9h-.9zM31.2 270.3h.9v.9h-.9zM26.9 278.9h.9v.9h-.9zM26.0 274.7h.9v.9h-.9zM27.7 271.9h.9v.9h-.9zM26.2 281.3h.9v.9h-.9zM32.5 259.5h.9v.9h-.9zM25.8 280.6h.9v.9h-.9zM35.0 256.0h.9v.9h-.9zM28.6 273.7h.9v.9h-.9zM35.0 275.1h.9v.9h-.9zM27.1 276.6h.9v.9h-.9zM30.4 259.0h.9v.9h-.9zM29.2 265.3h.9v.9h-.9zM28.2 268.2h.9v.9h-.9zM31.1 259.9h.9v.9h-.9zM30.2 272.7h.9v.9h-.9zM27.2 269.4h.9v.9h-.9zM29.3 275.2h.9v.9h-.9zM24.5 267.1h.9v.9h-.9zM33.7 256.4h.9v.9h-.9zM26.1 262.4h.9v.9h-.9zM28.5 264.9h.9v.9h-.9zM32.2 270.9h.9v.9h-.9zM22.3 274.6h.9v.9h-.9zM28.0 276.1h.9v.9h-.9zM26.9 281.4h.9v.9h-.9zM30.1 262.8h.9v.9h-.9zM24.2 276.3h.9v.9h-.9zM29.6 280.9h.9v.9h-.9zM22.1 272.4h.9v.9h-.9zM33.6 260.8h.9v.9h-.9zM29.3 275.2h.9v.9h-.9zM22.6 281.4h.9v.9h-.9zM29.2 276.2h.9v.9h-.9zM25.2 275.6h.9v.9h-.9zM29.2 264.6h.9v.9h-.9zM28.6 271.1h.9v.9h-.9zM24.5 267.1h.9v.9h-.9zM30.9 268.0h.9v.9h-.9zM27.5 256.3h.9v.9h-.9zM24.1 276.0h.9v.9h-.9zM26.1 269.2h.9v.9h-.9zM26.4 276.5h.9v.9h-.9zM31.4 277.4h.9v.9h-.9zM29.4 278.6h.9v.9h-.9zM35.1 259.8h.9v.9h-.9zM30.6 261.4h.9v.9h-.9zM29.4 265.6h.9v.9h-.9zM28.3 274.9h.9v.9h-.9zM28.3 278.4h.9v.9h-.9zM35.4 269.4h.9v.9h-.9zM27.6 272.8h.9v.9h-.9zM25.5 269.6h.9v.9h-.9zM31.5 256.1h.9v.9h-.9zM27.3 280.6h.9v.9h-.9zM23.3 272.7h.9v.9h-.9zM34.5 255.0h.9v.9h-.9zM31.8 272.8h.9v.9h-.9zM28.0 267.9h.9v.9h-.9zM28.8 268.2h.9v.9h-.9zM29.4 260.4h.9v.9h-.9zM26.4 281.9h.9v.9h-.9zM28.5 254.8h.9v.9h-.9zM30.4 270.5h.9v.9h-.9zM31.6 258.5h.9v.9h-.9zM26.3 277.8h.9v.9h-.9zM33.2 271.1h.9v.9h-.9zM25.2 280.6h.9v.9h-.9zM35.6 260.4h.9v.9h-.9zM20.8 271.9h.9v.9h-.9zM25.7 263.1h.9v.9h-.9zM27.7 263.9h.9v.9h-.9zM25.2 274.0h.9v.9h-.9zM31.6 254.9h.9v.9h-.9zM30.3 270.2h.9v.9h-.9zM25.7 268.7h.9v.9h-.9zM30.9 260.8h.9v.9h-.9zM29.9 263.4h.9v.9h-.9zM27.8 262.3h.9v.9h-.9zM27.5 268.8h.9v.9h-.9zM29.0 265.8h.9v.9h-.9zM25.4 275.0h.9v.9h-.9zM30.5 265.0h.9v.9h-.9zM25.9 270.5h.9v.9h-.9zM27.7 259.1h.9v.9h-.9zM26.1 277.1h.9v.9h-.9zM28.3 266.2h.9v.9h-.9zM27.1 273.7h.9v.9h-.9zM27.2 276.1h.9v.9h-.9zM27.2 276.3h.9v.9h-.9zM29.0 260.3h.9v.9h-.9zM30.3 266.1h.9v.9h-.9zM25.5 282.1h.9v.9h-.9zM28.5 259.9h.9v.9h-.9zM23.3 279.0h.9v.9h-.9zM30.9 264.2h.9v.9h-.9zM28.9 260.5h.9v.9h-.9zM24.2 257.8h.9v.9h-.9zM26.7 273.7h.9v.9h-.9zM26.6 264.2h.9v.9h-.9zM26.9 265.6h.9v.9h-.9zM28.3 280.2h.9v.9h-.9zM30.0 271.9h.9v.9h-.9zM31.8 275.7h.9v.9h-.9zM29.4 273.8h.9v.9h-.9zM32.6 258.0h.9v.9h-.9zM26.1 268.5h.9v.9h-.9zM24.0 264.5h.9v.9h-.9zM27.4 271.0h.9v.9h-.9zM29.0 281.3h.9v.9h-.9zM21.6 269.2h.9v.9h-.9zM26.4 271.9h.9v.9h-.9zM29.7 258.5h.9v.9h-.9zM28.1 277.7h.9v.9h-.9zM27.6 268.8h.9v.9h-.9zM32.2 266.5h.9v.9h-.9zM27.4 270.8h.9v.9h-.9zM29.5 272.2h.9v.9h-.9zM31.7 272.9h.9v.9h-.9zM29.5 263.6h.9v.9h-.9zM28.8 273.4h.9v.9h-.9zM34.2 255.7h.9v.9h-.9zM30.7 270.2h.9v.9h-.9zM29.6 279.1h.9v.9h-.9zM21.0 276.3h.9v.9h-.9zM31.3 260.3h.9v.9h-.9zM26.9 278.5h.9v.9h-.9zM23.1 276.2h.9v.9h-.9zM27.2 261.5h.9v.9h-.9zM32.0 265.6h.9v.9h-.9zM23.2 272.3h.9v.9h-.9zM31.3 260.1h.9v.9h-.9zM21.5 272.6h.9v.9h-.9zM30.7 258.9h.9v.9h-.9zM29.9 262.2h.9v.9h-.9zM24.8 274.6h.9v.9h-.9zM28.7 268.4h.9v.9h-.9zM26.1 260.4h.9v.9h-.9zM28.8 261.9h.9v.9h-.9zM29.7 268.4h.9v.9h-.9zM28.3 266.2h.9v.9h-.9zM28.5 278.3h.9v.9h-.9zM24.2 277.1h.9v.9h-.9zM30.2 276.2h.9v.9h-.9zM26.8 269.8h.9v.9h-.9zM36.7 255.5h.9v.9h-.9zM31.5 265.7h.9v.9h-.9zM33.3 270.0h.9v.9h-.9zM32.1 262.1h.9v.9h-.9zM25.8 262.2h.9v.9h-.9zM29.7 255.3h.9v.9h-.9zM32.3 255.9h.9v.9h-.9zM29.2 265.6h.9v.9h-.9zM22.1 268.6h.9v.9h-.9zM24.2 267.6h.9v.9h-.9zM22.7 261.6h.9v.9h-.9zM30.7 271.1h.9v.9h-.9zM31.1 266.3h.9v.9h-.9zM27.5 274.2h.9v.9h-.9zM26.6 257.0h.9v.9h-.9zM25.1 270.0h.9v.9h-.9zM25.6 274.9h.9v.9h-.9zM29.8 267.7h.9v.9h-.9zM31.7 265.8h.9v.9h-.9zM27.9 271.0h.9v.9h-.9zM32.1 260.1h.9v.9h-.9zM28.4 260.2h.9v.9h-.9zM29.8 272.2h.9v.9h-.9zM31.1 254.9h.9v.9h-.9zM25.8 259.9h.9v.9h-.9zM28.9 273.0h.9v.9h-.9zM22.6 273.6h.9v.9h-.9zM29.8 270.5h.9v.9h-.9zM30.7 260.7h.9v.9h-.9zM32.7 269.5h.9v.9h-.9zM29.9 254.0h.9v.9h-.9zM27.1 277.7h.9v.9h-.9zM30.9 275.8h.9v.9h-.9zM29.1 255.9h.9v.9h-.9zM28.1 269.1h.9v.9h-.9zM28.7 264.8h.9v.9h-.9zM33.5 256.4h.9v.9h-.9zM30.3 259.1h.9v.9h-.9zM33.5 262.8h.9v.9h-.9zM26.5 263.8h.9v.9h-.9zM33.0 255.8h.9v.9h-.9zM25.7 262.0h.9v.9h-.9zM26.9 277.2h.9v.9h-.9zM26.6 273.9h.9v.9h-.9zM25.9 264.4h.9v.9h-.9zM26.2 271.6h.9v.9h-.9zM35.8 269.7h.9v.9h-.9zM28.5 263.5h.9v.9h-.9zM29.1 275.8h.9v.9h-.9zM28.9 271.5h.9v.9h-.9zM31.0 255.7h.9v.9h-.9zM29.8 277.0h.9v.9h-.9zM26.7 269.5h.9v.9h-.9zM32.5 270.7h.9v.9h-.9zM20.1 260.2h.9v.9h-.9zM28.6 270.3h.9v.9h-.9zM24.8 263.6h.9v.9h-.9zM28.1 274.9h.9v.9h-.9zM27.3 263.2h.9v.9h-.9zM26.7 272.7h.9v.9h-.9zM34.3 270.5h.9v.9h-.9zM30.5 258.6h.9v.9h-.9zM31.8 263.1h.9v.9h-.9zM30.8 258.7h.9v.9h-.9zM30.8 266.6h.9v.9h-.9zM29.3 280.9h.9v.9h-.9zM25.9 275.8h.9v.9h-.9zM30.8 262.7h.9v.9h-.9zM27.8 280.6h.9v.9h-.9zM27.8 277.8h.9v.9h-.9zM27.9 280.9h.9v.9h-.9zM28.8 264.4h.9v.9h-.9zM34.2 263.4h.9v.9h-.9zM26.0 271.6h.9v.9h-.9zM34.3 261.2h.9v.9h-.9zM32.0 263.0h.9v.9h-.9zM31.3 273.0h.9v.9h-.9zM33.1 267.5h.9v.9h-.9zM33.0 255.2h.9v.9h-.9zM25.2 272.6h.9v.9h-.9zM27.8 276.9h.9v.9h-.9zM36.4 262.4h.9v.9h-.9zM26.8 256.5h.9v.9h-.9zM25.3 279.4h.9v.9h-.9zM30.3 264.9h.9v.9h-.9zM31.0 266.4h.9v.9h-.9zM29.6 267.7h.9v.9h-.9zM23.6 275.6h.9v.9h-.9zM29.9 261.7h.9v.9h-.9zM30.4 260.4h.9v.9h-.9zM29.2 264.0h.9v.9h-.9zM31.1 258.5h.9v.9h-.9zM29.1 263.5h.9v.9h-.9zM26.0 266.6h.9v.9h-.9zM29.8 275.5h.9v.9h-.9zM29.9 266.7h.9v.9h-.9zM32.0 265.3h.9v.9h-.9zM26.3 259.8h.9v.9h-.9zM32.5 265.5h.9v.9h-.9zM31.7 256.7h.9v.9h-.9zM29.8 260.9h.9v.9h-.9zM29.9 265.3h.9v.9h-.9zM36.6 255.4h.9v.9h-.9zM27.1 271.4h.9v.9h-.9zM27.5 270.1h.9v.9h-.9zM32.5 261.5h.9v.9h-.9zM30.6 266.6h.9v.9h-.9zM24.5 270.1h.9v.9h-.9zM24.1 277.9h.9v.9h-.9zM28.6 269.5h.9v.9h-.9zM33.0 259.5h.9v.9h-.9zM24.4 282.1h.9v.9h-.9zM30.4 272.4h.9v.9h-.9zM22.9 267.0h.9v.9h-.9zM26.9 261.0h.9v.9h-.9zM27.0 271.3h.9v.9h-.9zM27.6 265.6h.9v.9h-.9zM27.1 281.5h.9v.9h-.9zM26.9 268.7h.9v.9h-.9zM37.1 268.5h.9v.9h-.9zM33.0 255.7h.9v.9h-.9zM26.3 262.5h.9v.9h-.9zM39.0 262.4h.9v.9h-.9zM33.8 263.0h.9v.9h-.9zM27.8 278.5h.9v.9h-.9zM27.1 263.1h.9v.9h-.9zM26.6 259.6h.9v.9h-.9zM32.7 262.4h.9v.9h-.9zM24.8 273.4h.9v.9h-.9zM29.7 267.2h.9v.9h-.9zM34.7 271.5h.9v.9h-.9zM34.2 255.3h.9v.9h-.9zM26.8 280.6h.9v.9h-.9zM29.8 277.3h.9v.9h-.9zM24.8 264.0h.9v.9h-.9zM31.9 276.3h.9v.9h-.9zM28.0 275.8h.9v.9h-.9zM34.0 258.0h.9v.9h-.9zM31.0 276.2h.9v.9h-.9zM31.5 277.3h.9v.9h-.9zM27.1 270.2h.9v.9h-.9zM37.7 259.7h.9v.9h-.9zM34.4 272.9h.9v.9h-.9zM27.9 259.7h.9v.9h-.9zM33.2 271.5h.9v.9h-.9zM27.2 265.2h.9v.9h-.9zM27.9 266.0h.9v.9h-.9zM35.5 261.2h.9v.9h-.9zM29.1 277.5h.9v.9h-.9zM36.2 262.0h.9v.9h-.9zM28.6 263.2h.9v.9h-.9zM25.1 266.9h.9v.9h-.9zM26.8 264.8h.9v.9h-.9zM28.3 275.3h.9v.9h-.9zM29.2 273.0h.9v.9h-.9zM30.7 266.7h.9v.9h-.9zM31.7 269.5h.9v.9h-.9zM25.5 261.4h.9v.9h-.9zM34.2 269.4h.9v.9h-.9zM27.9 280.4h.9v.9h-.9zM30.3 262.7h.9v.9h-.9zM35.6 258.0h.9v.9h-.9zM40.4 261.1h.9v.9h-.9zM46.4 257.2h.9v.9h-.9zM51.5 261.6h.9v.9h-.9zM56.4 260.1h.9v.9h-.9zM40.1 259.7h.9v.9h-.9zM49.5 261.6h.9v.9h-.9zM39.7 260.6h.9v.9h-.9zM49.1 260.4h.9v.9h-.9zM38.3 258.4h.9v.9h-.9zM45.4 258.9h.9v.9h-.9zM50.3 258.5h.9v.9h-.9zM37.2 254.4h.9v.9h-.9zM48.2 257.5h.9v.9h-.9zM45.8 262.1h.9v.9h-.9zM43.5 259.4h.9v.9h-.9zM39.1 256.6h.9v.9h-.9zM48.7 262.2h.9v.9h-.9zM42.8 259.0h.9v.9h-.9zM47.5 258.4h.9v.9h-.9zM46.3 258.5h.9v.9h-.9zM48.8 258.2h.9v.9h-.9zM43.7 256.2h.9v.9h-.9zM42.3 255.9h.9v.9h-.9zM45.3 261.8h.9v.9h-.9zM39.8 257.4h.9v.9h-.9zM42.3 260.5h.9v.9h-.9zM44.5 258.7h.9v.9h-.9zM41.4 258.8h.9v.9h-.9zM44.3 257.5h.9v.9h-.9zM52.6 260.6h.9v.9h-.9zM45.2 260.2h.9v.9h-.9zM56.8 260.9h.9v.9h-.9zM43.4 259.4h.9v.9h-.9zM51.4 260.5h.9v.9h-.9zM44.6 259.7h.9v.9h-.9zM40.6 258.7h.9v.9h-.9zM44.0 258.9h.9v.9h-.9zM52.4 259.5h.9v.9h-.9zM51.5 259.4h.9v.9h-.9zM34.0 278.3h.9v.9h-.9zM39.4 257.9h.9v.9h-.9zM24.6 277.0h.9v.9h-.9zM27.9 270.6h.9v.9h-.9zM32.5 262.4h.9v.9h-.9zM33.1 271.3h.9v.9h-.9zM32.9 263.2h.9v.9h-.9zM32.8 277.8h.9v.9h-.9zM56.6 275.3h.9v.9h-.9zM48.3 264.5h.9v.9h-.9zM47.1 272.8h.9v.9h-.9zM57.0 260.5h.9v.9h-.9z" fill="#111" opacity="0.6" filter="url(#bl04)"/>
<line x1="35.5" y1="253.7" x2="35.5" y2="282.1" stroke="#4a4a4a" stroke-width="1.0"/>
<line x1="19.0" y1="271.5" x2="57.5" y2="271.5" stroke="#4a4a4a" stroke-width="1.0"/>
</g>
<rect x="19.5" y="253.5" width="38.0" height="29.0" fill="none" stroke="#111" stroke-width="1.2" />
<path d="M17.20 282.10H19.0M19.00 282.1V283.90M17.90 279.96H19.0M21.90 282.1V283.20M17.90 278.71H19.0M23.59 282.1V283.20M17.90 277.83H19.0M24.79 282.1V283.20M17.90 277.14H19.0M25.73 282.1V283.20M17.90 276.58H19.0M26.49 282.1V283.20M17.90 276.10H19.0M27.13 282.1V283.20M17.90 275.69H19.0M27.69 282.1V283.20M17.90 275.32H19.0M28.18 282.1V283.20M17.20 275.00H19.0M28.62 282.1V283.90M17.90 272.86H19.0M31.52 282.1V283.20M17.90 271.61H19.0M33.22 282.1V283.20M17.90 270.73H19.0M34.42 282.1V283.20M17.90 270.04H19.0M35.35 282.1V283.20M17.90 269.48H19.0M36.11 282.1V283.20M17.90 269.00H19.0M36.76 282.1V283.20M17.90 268.59H19.0M37.32 282.1V283.20M17.90 268.22H19.0M37.81 282.1V283.20M17.20 267.90H19.0M38.25 282.1V283.90M17.90 265.76H19.0M41.15 282.1V283.20M17.90 264.51H19.0M42.84 282.1V283.20M17.90 263.63H19.0M44.04 282.1V283.20M17.90 262.94H19.0M44.98 282.1V283.20M17.90 262.38H19.0M45.74 282.1V283.20M17.90 261.90H19.0M46.38 282.1V283.20M17.90 261.49H19.0M46.94 282.1V283.20M17.90 261.12H19.0M47.43 282.1V283.20M17.20 260.80H19.0M47.88 282.1V283.90M17.90 258.66H19.0M50.77 282.1V283.20M17.90 257.41H19.0M52.47 282.1V283.20M17.90 256.53H19.0M53.67 282.1V283.20M17.90 255.84H19.0M54.60 282.1V283.20M17.90 255.28H19.0M55.36 282.1V283.20M17.90 254.80H19.0M56.01 282.1V283.20M17.90 254.39H19.0M56.57 282.1V283.20M17.90 254.02H19.0M57.06 282.1V283.20M17.2 253.70H19.0M57.50 282.1V283.90000000000003" stroke="#111" stroke-width="0.55" fill="none"/>
<g transform="translate(15.6,282.1) rotate(-90)">
<text x="1.6" y="0" font-size="4.1" font-weight="bold" text-anchor="middle" fill="#111" stroke="#111" stroke-width="0.15">10<tspan font-size="2.9" dy="-1.6">0</tspan></text>
<text x="7.9" y="0" font-size="4.1" font-weight="bold" text-anchor="middle" fill="#111" stroke="#111" stroke-width="0.15">10<tspan font-size="2.9" dy="-1.6">1</tspan></text>
<text x="14.2" y="0" font-size="4.1" font-weight="bold" text-anchor="middle" fill="#111" stroke="#111" stroke-width="0.15">10<tspan font-size="2.9" dy="-1.6">2</tspan></text>
<text x="20.5" y="0" font-size="4.1" font-weight="bold" text-anchor="middle" fill="#111" stroke="#111" stroke-width="0.15">10<tspan font-size="2.9" dy="-1.6">3</tspan></text>
<text x="26.8" y="0" font-size="4.1" font-weight="bold" text-anchor="middle" fill="#111" stroke="#111" stroke-width="0.15">10<tspan font-size="2.9" dy="-1.6">4</tspan></text>
</g>
<text x="17.4" y="290.3" font-size="4.0" font-weight="bold" text-anchor="middle" fill="#111" stroke="#111" stroke-width="0.15">10<tspan font-size="2.8" dy="-1.6">0</tspan></text>
<text x="26.8" y="290.3" font-size="4.0" font-weight="bold" text-anchor="middle" fill="#111" stroke="#111" stroke-width="0.15">10<tspan font-size="2.8" dy="-1.6">1</tspan></text>
<text x="36.1" y="290.3" font-size="4.0" font-weight="bold" text-anchor="middle" fill="#111" stroke="#111" stroke-width="0.15">10<tspan font-size="2.8" dy="-1.6">2</tspan></text>
<text x="45.4" y="290.3" font-size="4.0" font-weight="bold" text-anchor="middle" fill="#111" stroke="#111" stroke-width="0.15">10<tspan font-size="2.8" dy="-1.6">3</tspan></text>
<text x="54.8" y="290.3" font-size="4.0" font-weight="bold" text-anchor="middle" fill="#111" stroke="#111" stroke-width="0.15">10<tspan font-size="2.8" dy="-1.6">4</tspan></text>
<clipPath id="clip21"><rect x="63.4" y="253.7" width="38.5" height="28.400000000000034"/></clipPath>
<g clip-path="url(#clip21)">
<ellipse cx="77.6" cy="263.1" rx="5.4" ry="4.8" transform="rotate(0 77.6 263.1)" fill="#111" opacity="0.63" filter="url(#bl)"/>
<ellipse cx="91.9" cy="259.9" rx="5.4" ry="3.2" transform="rotate(0 91.9 259.9)" fill="#111" opacity="0.63" filter="url(#bl)"/>
<ellipse cx="84.6" cy="262.2" rx="5.4" ry="3.2" transform="rotate(0 84.6 262.2)" fill="#111" opacity="0.37" filter="url(#bl)"/>
<ellipse cx="71.9" cy="272.2" rx="6.5" ry="8.0" transform="rotate(0 71.9 272.2)" fill="#111" opacity="0.21" filter="url(#bl)"/>
<path d="M82.3 263.1h.9v.9h-.9zM76.7 260.2h.9v.9h-.9zM80.2 262.7h.9v.9h-.9zM72.9 257.9h.9v.9h-.9zM81.4 262.8h.9v.9h-.9zM77.4 261.2h.9v.9h-.9zM75.6 263.1h.9v.9h-.9zM78.4 258.9h.9v.9h-.9zM87.4 266.3h.9v.9h-.9zM70.1 263.4h.9v.9h-.9zM82.1 260.8h.9v.9h-.9zM72.3 265.0h.9v.9h-.9zM75.2 263.1h.9v.9h-.9zM84.2 263.1h.9v.9h-.9zM82.9 260.4h.9v.9h-.9zM70.4 261.8h.9v.9h-.9zM76.1 265.5h.9v.9h-.9zM79.4 256.2h.9v.9h-.9zM73.2 261.6h.9v.9h-.9zM74.8 260.8h.9v.9h-.9zM76.3 263.7h.9v.9h-.9zM71.7 259.8h.9v.9h-.9zM74.0 267.3h.9v.9h-.9zM77.0 257.9h.9v.9h-.9zM79.6 266.4h.9v.9h-.9zM71.3 258.8h.9v.9h-.9zM79.4 263.3h.9v.9h-.9zM80.1 268.7h.9v.9h-.9zM80.3 266.6h.9v.9h-.9zM75.7 268.0h.9v.9h-.9zM74.9 264.3h.9v.9h-.9zM69.7 261.7h.9v.9h-.9zM80.8 259.9h.9v.9h-.9zM75.8 255.5h.9v.9h-.9zM76.3 258.5h.9v.9h-.9zM77.9 261.4h.9v.9h-.9zM74.9 261.9h.9v.9h-.9zM76.0 263.1h.9v.9h-.9zM76.6 267.1h.9v.9h-.9zM81.8 254.3h.9v.9h-.9zM83.0 262.3h.9v.9h-.9zM79.0 259.9h.9v.9h-.9zM80.0 265.1h.9v.9h-.9zM75.4 259.1h.9v.9h-.9zM79.7 264.6h.9v.9h-.9zM74.1 255.6h.9v.9h-.9zM73.3 264.5h.9v.9h-.9zM82.7 259.7h.9v.9h-.9zM75.4 259.3h.9v.9h-.9zM79.0 260.3h.9v.9h-.9zM84.3 265.1h.9v.9h-.9zM76.9 261.7h.9v.9h-.9zM81.6 261.7h.9v.9h-.9zM76.1 263.4h.9v.9h-.9zM81.8 268.0h.9v.9h-.9zM76.3 258.8h.9v.9h-.9zM74.1 262.5h.9v.9h-.9zM80.2 253.9h.9v.9h-.9zM80.2 264.5h.9v.9h-.9zM78.5 257.9h.9v.9h-.9zM78.1 261.3h.9v.9h-.9zM74.0 265.2h.9v.9h-.9zM82.6 263.7h.9v.9h-.9zM80.0 266.5h.9v.9h-.9zM77.8 261.6h.9v.9h-.9zM83.5 260.9h.9v.9h-.9zM76.5 264.2h.9v.9h-.9zM76.1 259.7h.9v.9h-.9zM82.0 263.0h.9v.9h-.9zM75.0 261.0h.9v.9h-.9zM80.0 265.9h.9v.9h-.9zM78.5 267.0h.9v.9h-.9zM77.7 268.5h.9v.9h-.9zM81.3 259.1h.9v.9h-.9zM77.4 264.2h.9v.9h-.9zM77.7 259.6h.9v.9h-.9zM79.6 262.8h.9v.9h-.9zM72.0 258.6h.9v.9h-.9zM76.2 266.2h.9v.9h-.9zM77.6 263.7h.9v.9h-.9zM81.4 262.3h.9v.9h-.9zM77.8 262.8h.9v.9h-.9zM81.3 260.8h.9v.9h-.9zM79.2 260.5h.9v.9h-.9zM78.1 266.8h.9v.9h-.9zM74.7 264.7h.9v.9h-.9zM78.1 263.8h.9v.9h-.9zM79.8 263.3h.9v.9h-.9zM79.7 269.3h.9v.9h-.9zM75.1 259.3h.9v.9h-.9zM80.6 264.4h.9v.9h-.9zM85.4 260.9h.9v.9h-.9zM80.6 261.1h.9v.9h-.9zM75.9 261.0h.9v.9h-.9zM74.7 259.8h.9v.9h-.9zM76.6 262.5h.9v.9h-.9zM78.0 265.8h.9v.9h-.9zM74.3 262.7h.9v.9h-.9zM74.5 265.9h.9v.9h-.9zM74.3 261.8h.9v.9h-.9zM74.8 266.7h.9v.9h-.9zM73.2 259.1h.9v.9h-.9zM76.3 261.8h.9v.9h-.9zM74.3 266.9h.9v.9h-.9zM75.7 255.9h.9v.9h-.9zM77.0 258.5h.9v.9h-.9zM75.3 261.3h.9v.9h-.9zM74.4 261.6h.9v.9h-.9zM76.3 265.2h.9v.9h-.9zM87.4 260.7h.9v.9h-.9zM76.0 266.9h.9v.9h-.9zM84.2 265.7h.9v.9h-.9zM76.8 269.7h.9v.9h-.9zM78.1 267.1h.9v.9h-.9zM75.7 258.8h.9v.9h-.9zM82.9 260.0h.9v.9h-.9zM73.8 263.5h.9v.9h-.9zM74.3 265.3h.9v.9h-.9zM78.1 262.3h.9v.9h-.9zM75.7 268.1h.9v.9h-.9zM83.0 266.9h.9v.9h-.9zM72.8 268.7h.9v.9h-.9zM78.2 268.9h.9v.9h-.9zM79.8 260.7h.9v.9h-.9zM71.5 260.7h.9v.9h-.9zM82.3 261.5h.9v.9h-.9zM84.0 258.6h.9v.9h-.9zM80.2 262.6h.9v.9h-.9zM72.5 264.3h.9v.9h-.9zM76.3 262.1h.9v.9h-.9zM69.9 259.6h.9v.9h-.9zM75.3 262.5h.9v.9h-.9zM74.6 270.0h.9v.9h-.9zM76.2 263.8h.9v.9h-.9zM76.6 267.4h.9v.9h-.9zM79.9 266.5h.9v.9h-.9zM72.0 263.6h.9v.9h-.9zM77.2 265.2h.9v.9h-.9zM75.3 263.5h.9v.9h-.9zM74.1 261.8h.9v.9h-.9zM79.1 261.3h.9v.9h-.9zM74.6 262.6h.9v.9h-.9zM79.0 264.5h.9v.9h-.9zM73.3 261.6h.9v.9h-.9zM73.4 259.6h.9v.9h-.9zM86.7 267.2h.9v.9h-.9zM80.4 262.1h.9v.9h-.9zM81.0 268.4h.9v.9h-.9zM82.4 265.5h.9v.9h-.9zM74.0 271.3h.9v.9h-.9zM80.6 266.0h.9v.9h-.9zM79.1 264.3h.9v.9h-.9zM76.2 257.2h.9v.9h-.9zM84.5 272.0h.9v.9h-.9zM79.5 265.4h.9v.9h-.9zM77.7 265.7h.9v.9h-.9zM77.2 262.8h.9v.9h-.9zM80.1 257.2h.9v.9h-.9zM83.0 261.7h.9v.9h-.9zM79.8 265.2h.9v.9h-.9zM83.7 268.9h.9v.9h-.9zM72.8 259.8h.9v.9h-.9zM78.3 257.4h.9v.9h-.9zM80.0 262.6h.9v.9h-.9zM74.8 266.0h.9v.9h-.9zM74.2 260.5h.9v.9h-.9zM77.6 266.0h.9v.9h-.9zM76.9 261.9h.9v.9h-.9zM78.4 261.8h.9v.9h-.9zM70.7 266.2h.9v.9h-.9zM79.5 266.9h.9v.9h-.9zM78.1 264.7h.9v.9h-.9zM71.4 258.4h.9v.9h-.9zM70.4 267.1h.9v.9h-.9zM75.0 267.7h.9v.9h-.9zM79.3 261.5h.9v.9h-.9zM77.3 260.3h.9v.9h-.9zM75.9 264.2h.9v.9h-.9zM80.2 261.4h.9v.9h-.9zM71.6 267.0h.9v.9h-.9zM87.7 261.6h.9v.9h-.9zM86.1 257.9h.9v.9h-.9zM84.3 261.4h.9v.9h-.9zM93.5 267.1h.9v.9h-.9zM98.9 260.2h.9v.9h-.9zM84.1 259.4h.9v.9h-.9zM92.8 260.8h.9v.9h-.9zM92.4 257.6h.9v.9h-.9zM90.6 264.3h.9v.9h-.9zM89.7 259.0h.9v.9h-.9zM87.3 258.5h.9v.9h-.9zM96.4 260.8h.9v.9h-.9zM89.9 259.1h.9v.9h-.9zM94.9 258.6h.9v.9h-.9zM88.8 259.2h.9v.9h-.9zM82.1 262.6h.9v.9h-.9zM88.7 261.7h.9v.9h-.9zM91.7 262.3h.9v.9h-.9zM89.8 265.6h.9v.9h-.9zM93.9 259.4h.9v.9h-.9zM93.0 255.2h.9v.9h-.9zM87.5 255.2h.9v.9h-.9zM90.7 264.9h.9v.9h-.9zM93.1 256.6h.9v.9h-.9zM85.9 260.8h.9v.9h-.9zM94.2 259.5h.9v.9h-.9zM97.3 260.5h.9v.9h-.9zM99.4 261.9h.9v.9h-.9zM99.6 253.9h.9v.9h-.9zM94.6 261.7h.9v.9h-.9zM97.4 261.3h.9v.9h-.9zM93.3 260.7h.9v.9h-.9zM92.5 261.2h.9v.9h-.9zM97.9 256.2h.9v.9h-.9zM90.1 256.6h.9v.9h-.9zM89.5 260.6h.9v.9h-.9zM92.5 260.8h.9v.9h-.9zM94.5 260.9h.9v.9h-.9zM90.5 259.7h.9v.9h-.9zM87.7 258.9h.9v.9h-.9zM91.4 260.8h.9v.9h-.9zM85.7 262.5h.9v.9h-.9zM91.5 256.4h.9v.9h-.9zM91.1 261.3h.9v.9h-.9zM92.1 259.0h.9v.9h-.9zM88.4 260.5h.9v.9h-.9zM92.3 260.6h.9v.9h-.9zM90.3 262.7h.9v.9h-.9zM84.8 259.9h.9v.9h-.9zM85.5 255.5h.9v.9h-.9zM92.4 261.9h.9v.9h-.9zM90.6 261.0h.9v.9h-.9zM91.0 262.6h.9v.9h-.9zM89.4 261.2h.9v.9h-.9zM93.0 256.3h.9v.9h-.9zM96.1 258.6h.9v.9h-.9zM87.4 258.4h.9v.9h-.9zM94.9 259.0h.9v.9h-.9zM94.7 257.8h.9v.9h-.9zM92.7 256.0h.9v.9h-.9zM90.6 262.9h.9v.9h-.9zM89.7 260.3h.9v.9h-.9zM84.8 263.7h.9v.9h-.9zM90.8 261.0h.9v.9h-.9zM90.2 257.6h.9v.9h-.9zM90.3 259.2h.9v.9h-.9zM87.7 259.6h.9v.9h-.9zM88.0 258.8h.9v.9h-.9zM80.9 257.7h.9v.9h-.9zM92.8 260.4h.9v.9h-.9zM90.8 260.9h.9v.9h-.9zM98.1 260.7h.9v.9h-.9zM92.1 259.7h.9v.9h-.9zM92.9 261.4h.9v.9h-.9zM83.2 264.7h.9v.9h-.9zM95.3 261.0h.9v.9h-.9zM89.3 259.7h.9v.9h-.9zM88.8 263.0h.9v.9h-.9zM89.1 256.3h.9v.9h-.9zM90.8 258.0h.9v.9h-.9zM92.3 260.3h.9v.9h-.9zM88.4 256.4h.9v.9h-.9zM90.3 257.0h.9v.9h-.9zM90.9 260.3h.9v.9h-.9zM90.1 260.3h.9v.9h-.9zM90.1 263.7h.9v.9h-.9zM84.9 257.5h.9v.9h-.9zM95.8 257.2h.9v.9h-.9zM93.9 259.4h.9v.9h-.9zM91.6 256.7h.9v.9h-.9zM90.0 259.6h.9v.9h-.9zM83.5 260.0h.9v.9h-.9zM89.9 254.8h.9v.9h-.9zM92.2 259.1h.9v.9h-.9zM85.9 262.5h.9v.9h-.9zM91.1 257.4h.9v.9h-.9zM88.2 260.6h.9v.9h-.9zM89.5 261.5h.9v.9h-.9zM86.8 260.5h.9v.9h-.9zM93.2 261.1h.9v.9h-.9zM88.5 257.8h.9v.9h-.9zM87.2 260.1h.9v.9h-.9zM83.7 266.2h.9v.9h-.9zM90.5 262.6h.9v.9h-.9zM90.3 262.9h.9v.9h-.9zM90.5 262.2h.9v.9h-.9zM95.2 260.6h.9v.9h-.9zM86.8 260.9h.9v.9h-.9zM92.1 259.2h.9v.9h-.9zM90.6 261.5h.9v.9h-.9zM83.8 261.1h.9v.9h-.9zM97.5 258.4h.9v.9h-.9zM96.1 258.9h.9v.9h-.9zM90.4 259.1h.9v.9h-.9zM91.4 258.2h.9v.9h-.9zM89.3 259.4h.9v.9h-.9zM88.0 259.8h.9v.9h-.9zM95.3 258.0h.9v.9h-.9zM92.2 258.2h.9v.9h-.9zM87.2 259.9h.9v.9h-.9zM90.4 262.1h.9v.9h-.9zM94.1 260.1h.9v.9h-.9zM89.1 262.9h.9v.9h-.9zM86.6 258.2h.9v.9h-.9zM94.2 260.8h.9v.9h-.9zM93.8 259.4h.9v.9h-.9zM94.2 262.5h.9v.9h-.9zM84.3 261.1h.9v.9h-.9zM95.1 257.6h.9v.9h-.9zM87.9 260.7h.9v.9h-.9zM93.8 259.9h.9v.9h-.9zM85.4 260.4h.9v.9h-.9zM91.1 259.1h.9v.9h-.9zM95.3 255.1h.9v.9h-.9zM91.8 258.6h.9v.9h-.9zM93.6 259.2h.9v.9h-.9zM97.8 260.3h.9v.9h-.9zM89.5 256.3h.9v.9h-.9zM90.4 259.8h.9v.9h-.9zM97.3 260.7h.9v.9h-.9zM92.1 257.9h.9v.9h-.9zM92.2 257.7h.9v.9h-.9zM86.2 260.9h.9v.9h-.9zM89.8 256.9h.9v.9h-.9zM95.7 262.6h.9v.9h-.9zM93.1 256.2h.9v.9h-.9zM88.4 257.7h.9v.9h-.9zM92.4 267.4h.9v.9h-.9zM94.8 259.6h.9v.9h-.9zM88.3 256.8h.9v.9h-.9zM88.8 260.3h.9v.9h-.9zM90.5 261.0h.9v.9h-.9zM93.4 257.4h.9v.9h-.9zM94.6 259.9h.9v.9h-.9zM97.4 259.6h.9v.9h-.9zM90.1 259.6h.9v.9h-.9zM96.0 261.0h.9v.9h-.9zM95.8 262.2h.9v.9h-.9zM92.7 265.1h.9v.9h-.9zM91.2 259.4h.9v.9h-.9zM95.6 257.3h.9v.9h-.9zM92.7 262.1h.9v.9h-.9zM88.2 255.7h.9v.9h-.9zM86.2 262.4h.9v.9h-.9zM100.7 257.9h.9v.9h-.9zM86.7 257.1h.9v.9h-.9zM97.3 261.6h.9v.9h-.9zM94.0 258.3h.9v.9h-.9zM94.0 258.2h.9v.9h-.9zM93.6 258.2h.9v.9h-.9zM79.5 261.1h.9v.9h-.9zM85.7 262.9h.9v.9h-.9zM82.2 264.2h.9v.9h-.9zM78.3 257.8h.9v.9h-.9zM86.4 261.8h.9v.9h-.9zM84.1 261.1h.9v.9h-.9zM86.2 262.6h.9v.9h-.9zM89.4 260.0h.9v.9h-.9zM79.6 261.9h.9v.9h-.9zM83.3 261.5h.9v.9h-.9zM76.2 263.0h.9v.9h-.9zM90.5 262.9h.9v.9h-.9zM88.8 263.5h.9v.9h-.9zM85.2 263.0h.9v.9h-.9zM88.3 263.2h.9v.9h-.9zM86.7 262.0h.9v.9h-.9zM81.5 262.9h.9v.9h-.9zM82.8 263.4h.9v.9h-.9zM76.0 266.1h.9v.9h-.9zM89.2 265.5h.9v.9h-.9zM85.8 259.8h.9v.9h-.9zM82.8 259.5h.9v.9h-.9zM85.8 262.2h.9v.9h-.9zM84.9 258.0h.9v.9h-.9zM78.7 257.2h.9v.9h-.9zM89.6 263.3h.9v.9h-.9zM84.5 261.3h.9v.9h-.9zM77.6 261.3h.9v.9h-.9zM82.8 260.3h.9v.9h-.9zM88.1 257.6h.9v.9h-.9zM85.0 263.9h.9v.9h-.9zM87.4 258.8h.9v.9h-.9zM73.9 265.2h.9v.9h-.9zM89.7 261.8h.9v.9h-.9zM83.4 262.9h.9v.9h-.9zM88.4 262.4h.9v.9h-.9zM83.1 262.6h.9v.9h-.9zM85.8 266.7h.9v.9h-.9zM84.5 260.1h.9v.9h-.9zM91.6 265.5h.9v.9h-.9zM90.0 260.0h.9v.9h-.9zM82.2 259.1h.9v.9h-.9zM83.9 265.1h.9v.9h-.9zM88.0 262.2h.9v.9h-.9zM85.3 263.2h.9v.9h-.9zM83.9 259.8h.9v.9h-.9zM81.8 265.8h.9v.9h-.9zM80.9 259.6h.9v.9h-.9zM86.6 261.4h.9v.9h-.9zM83.2 262.5h.9v.9h-.9zM84.0 258.5h.9v.9h-.9zM88.0 262.6h.9v.9h-.9zM91.0 264.0h.9v.9h-.9zM82.3 261.2h.9v.9h-.9zM81.8 257.2h.9v.9h-.9zM87.3 260.6h.9v.9h-.9zM88.2 262.5h.9v.9h-.9zM84.1 265.8h.9v.9h-.9zM80.9 266.1h.9v.9h-.9zM83.1 266.9h.9v.9h-.9zM77.1 269.1h.9v.9h-.9zM79.8 274.4h.9v.9h-.9zM73.4 269.8h.9v.9h-.9zM71.6 269.7h.9v.9h-.9zM70.3 276.4h.9v.9h-.9zM75.5 278.9h.9v.9h-.9zM77.3 271.6h.9v.9h-.9zM75.3 270.6h.9v.9h-.9zM74.5 275.5h.9v.9h-.9zM73.6 267.6h.9v.9h-.9zM66.5 281.6h.9v.9h-.9zM68.3 268.6h.9v.9h-.9zM73.6 269.9h.9v.9h-.9zM73.8 279.7h.9v.9h-.9zM64.9 272.5h.9v.9h-.9zM74.6 264.2h.9v.9h-.9zM75.2 280.3h.9v.9h-.9zM72.1 274.7h.9v.9h-.9zM70.5 277.5h.9v.9h-.9zM69.6 272.1h.9v.9h-.9zM68.9 268.0h.9v.9h-.9zM77.1 271.7h.9v.9h-.9zM76.0 263.2h.9v.9h-.9zM66.5 267.0h.9v.9h-.9zM80.6 278.5h.9v.9h-.9zM82.0 269.6h.9v.9h-.9zM74.7 274.1h.9v.9h-.9zM70.7 275.4h.9v.9h-.9zM71.8 274.7h.9v.9h-.9zM63.8 266.2h.9v.9h-.9zM67.4 281.4h.9v.9h-.9zM75.9 266.7h.9v.9h-.9zM74.2 268.9h.9v.9h-.9zM66.8 266.9h.9v.9h-.9zM85.5 272.6h.9v.9h-.9zM71.5 279.0h.9v.9h-.9zM73.2 265.9h.9v.9h-.9zM75.5 267.3h.9v.9h-.9zM71.7 272.7h.9v.9h-.9zM72.0 269.0h.9v.9h-.9zM70.7 270.2h.9v.9h-.9zM77.2 273.3h.9v.9h-.9zM73.9 271.6h.9v.9h-.9zM64.0 275.3h.9v.9h-.9zM75.0 266.3h.9v.9h-.9zM66.8 268.8h.9v.9h-.9zM65.9 258.2h.9v.9h-.9zM70.1 268.7h.9v.9h-.9zM72.5 278.7h.9v.9h-.9zM67.8 263.4h.9v.9h-.9zM71.4 275.8h.9v.9h-.9zM78.5 277.3h.9v.9h-.9zM72.5 272.3h.9v.9h-.9zM64.1 275.9h.9v.9h-.9zM75.5 271.6h.9v.9h-.9zM70.6 274.4h.9v.9h-.9zM73.9 274.9h.9v.9h-.9zM73.8 263.6h.9v.9h-.9zM69.4 262.8h.9v.9h-.9zM68.3 271.3h.9v.9h-.9zM73.1 268.1h.9v.9h-.9zM79.6 273.2h.9v.9h-.9zM74.1 267.8h.9v.9h-.9zM77.9 270.6h.9v.9h-.9zM68.2 270.9h.9v.9h-.9zM77.0 267.6h.9v.9h-.9zM70.9 276.9h.9v.9h-.9zM70.6 277.0h.9v.9h-.9zM77.5 269.3h.9v.9h-.9zM66.5 265.5h.9v.9h-.9zM77.7 275.1h.9v.9h-.9zM72.3 269.9h.9v.9h-.9zM76.7 269.4h.9v.9h-.9zM84.3 273.8h.9v.9h-.9zM64.6 277.9h.9v.9h-.9zM73.1 272.0h.9v.9h-.9zM71.1 278.7h.9v.9h-.9zM69.7 280.7h.9v.9h-.9zM68.4 277.1h.9v.9h-.9zM65.1 277.4h.9v.9h-.9zM67.5 270.7h.9v.9h-.9zM75.3 267.7h.9v.9h-.9zM74.3 272.0h.9v.9h-.9zM77.8 277.0h.9v.9h-.9zM73.0 271.0h.9v.9h-.9zM67.8 279.8h.9v.9h-.9zM70.8 265.1h.9v.9h-.9zM68.2 261.6h.9v.9h-.9zM67.9 269.5h.9v.9h-.9zM73.0 277.1h.9v.9h-.9zM75.6 261.9h.9v.9h-.9zM69.7 275.3h.9v.9h-.9zM73.4 271.9h.9v.9h-.9zM68.3 275.9h.9v.9h-.9zM71.4 270.6h.9v.9h-.9zM89.6 254.8h.9v.9h-.9zM71.4 266.3h.9v.9h-.9zM92.9 259.2h.9v.9h-.9zM88.6 254.4h.9v.9h-.9zM69.4 262.4h.9v.9h-.9zM66.3 276.6h.9v.9h-.9zM85.5 277.2h.9v.9h-.9zM81.4 269.5h.9v.9h-.9zM64.5 280.2h.9v.9h-.9zM75.5 271.9h.9v.9h-.9zM96.1 265.3h.9v.9h-.9zM76.7 275.4h.9v.9h-.9z" fill="#111" opacity="0.6" filter="url(#bl04)"/>
<line x1="79.5" y1="253.7" x2="79.5" y2="282.1" stroke="#4a4a4a" stroke-width="1.0"/>
<line x1="63.4" y1="271.5" x2="101.9" y2="271.5" stroke="#4a4a4a" stroke-width="1.0"/>
</g>
<rect x="63.5" y="253.5" width="38.0" height="29.0" fill="none" stroke="#111" stroke-width="1.2" />
<path d="M61.60 282.10H63.4M63.40 282.1V283.90M62.30 279.96H63.4M66.30 282.1V283.20M62.30 278.71H63.4M67.99 282.1V283.20M62.30 277.83H63.4M69.19 282.1V283.20M62.30 277.14H63.4M70.13 282.1V283.20M62.30 276.58H63.4M70.89 282.1V283.20M62.30 276.10H63.4M71.53 282.1V283.20M62.30 275.69H63.4M72.09 282.1V283.20M62.30 275.32H63.4M72.58 282.1V283.20M61.60 275.00H63.4M73.03 282.1V283.90M62.30 272.86H63.4M75.92 282.1V283.20M62.30 271.61H63.4M77.62 282.1V283.20M62.30 270.73H63.4M78.82 282.1V283.20M62.30 270.04H63.4M79.75 282.1V283.20M62.30 269.48H63.4M80.51 282.1V283.20M62.30 269.00H63.4M81.16 282.1V283.20M62.30 268.59H63.4M81.72 282.1V283.20M62.30 268.22H63.4M82.21 282.1V283.20M61.60 267.90H63.4M82.65 282.1V283.90M62.30 265.76H63.4M85.55 282.1V283.20M62.30 264.51H63.4M87.24 282.1V283.20M62.30 263.63H63.4M88.44 282.1V283.20M62.30 262.94H63.4M89.38 282.1V283.20M62.30 262.38H63.4M90.14 282.1V283.20M62.30 261.90H63.4M90.78 282.1V283.20M62.30 261.49H63.4M91.34 282.1V283.20M62.30 261.12H63.4M91.83 282.1V283.20M61.60 260.80H63.4M92.28 282.1V283.90M62.30 258.66H63.4M95.17 282.1V283.20M62.30 257.41H63.4M96.87 282.1V283.20M62.30 256.53H63.4M98.07 282.1V283.20M62.30 255.84H63.4M99.00 282.1V283.20M62.30 255.28H63.4M99.76 282.1V283.20M62.30 254.80H63.4M100.41 282.1V283.20M62.30 254.39H63.4M100.97 282.1V283.20M62.30 254.02H63.4M101.46 282.1V283.20M61.6 253.70H63.4M101.90 282.1V283.90000000000003" stroke="#111" stroke-width="0.55" fill="none"/>
<text x="61.8" y="290.3" font-size="4.0" font-weight="bold" text-anchor="middle" fill="#111" stroke="#111" stroke-width="0.15">10<tspan font-size="2.8" dy="-1.6">0</tspan></text>
<text x="71.1" y="290.3" font-size="4.0" font-weight="bold" text-anchor="middle" fill="#111" stroke="#111" stroke-width="0.15">10<tspan font-size="2.8" dy="-1.6">1</tspan></text>
<text x="80.5" y="290.3" font-size="4.0" font-weight="bold" text-anchor="middle" fill="#111" stroke="#111" stroke-width="0.15">10<tspan font-size="2.8" dy="-1.6">2</tspan></text>
<text x="89.8" y="290.3" font-size="4.0" font-weight="bold" text-anchor="middle" fill="#111" stroke="#111" stroke-width="0.15">10<tspan font-size="2.8" dy="-1.6">3</tspan></text>
<text x="99.2" y="290.3" font-size="4.0" font-weight="bold" text-anchor="middle" fill="#111" stroke="#111" stroke-width="0.15">10<tspan font-size="2.8" dy="-1.6">4</tspan></text>
<clipPath id="clip22"><rect x="108.6" y="253.7" width="38.5" height="28.400000000000034"/></clipPath>
<g clip-path="url(#clip22)">
<ellipse cx="132.9" cy="260.5" rx="4.9" ry="4.8" transform="rotate(0 132.9 260.5)" fill="#111" opacity="0.79" filter="url(#bl)"/>
<ellipse cx="124.0" cy="267.9" rx="8.1" ry="6.0" transform="rotate(0 124.0 267.9)" fill="#111" opacity="0.21" filter="url(#bl)"/>
<ellipse cx="116.3" cy="266.5" rx="4.3" ry="4.0" transform="rotate(0 116.3 266.5)" fill="#111" opacity="0.13" filter="url(#bl)"/>
<ellipse cx="130.9" cy="275.0" rx="3.2" ry="4.0" transform="rotate(0 130.9 275.0)" fill="#111" opacity="0.16" filter="url(#bl)"/>
<path d="M130.3 262.3h.9v.9h-.9zM128.2 260.4h.9v.9h-.9zM129.8 254.8h.9v.9h-.9zM131.0 258.6h.9v.9h-.9zM133.8 254.7h.9v.9h-.9zM133.7 259.2h.9v.9h-.9zM127.3 264.4h.9v.9h-.9zM131.3 261.8h.9v.9h-.9zM138.1 261.8h.9v.9h-.9zM136.0 261.1h.9v.9h-.9zM130.8 261.0h.9v.9h-.9zM127.4 262.0h.9v.9h-.9zM135.6 261.8h.9v.9h-.9zM130.5 256.4h.9v.9h-.9zM130.2 259.4h.9v.9h-.9zM127.9 266.8h.9v.9h-.9zM130.0 260.8h.9v.9h-.9zM131.2 260.8h.9v.9h-.9zM125.4 257.0h.9v.9h-.9zM132.7 260.3h.9v.9h-.9zM134.1 258.6h.9v.9h-.9zM135.6 261.1h.9v.9h-.9zM132.6 260.5h.9v.9h-.9zM136.4 260.3h.9v.9h-.9zM138.1 260.8h.9v.9h-.9zM133.6 260.4h.9v.9h-.9zM133.8 261.9h.9v.9h-.9zM130.6 263.0h.9v.9h-.9zM141.6 262.2h.9v.9h-.9zM133.2 257.7h.9v.9h-.9zM130.1 257.7h.9v.9h-.9zM133.7 258.1h.9v.9h-.9zM138.3 259.0h.9v.9h-.9zM129.7 257.4h.9v.9h-.9zM132.4 259.9h.9v.9h-.9zM135.9 258.0h.9v.9h-.9zM133.9 263.6h.9v.9h-.9zM131.8 254.6h.9v.9h-.9zM133.6 263.8h.9v.9h-.9zM134.1 260.4h.9v.9h-.9zM126.1 265.8h.9v.9h-.9zM132.1 256.5h.9v.9h-.9zM131.6 260.9h.9v.9h-.9zM132.9 257.4h.9v.9h-.9zM141.0 264.5h.9v.9h-.9zM136.2 262.5h.9v.9h-.9zM131.4 256.5h.9v.9h-.9zM128.4 264.0h.9v.9h-.9zM133.0 265.8h.9v.9h-.9zM125.0 264.8h.9v.9h-.9zM134.3 258.6h.9v.9h-.9zM135.8 258.2h.9v.9h-.9zM131.8 262.1h.9v.9h-.9zM133.3 261.3h.9v.9h-.9zM133.5 263.8h.9v.9h-.9zM129.8 253.7h.9v.9h-.9zM139.4 258.2h.9v.9h-.9zM132.6 261.5h.9v.9h-.9zM130.1 258.7h.9v.9h-.9zM133.6 260.4h.9v.9h-.9zM135.5 259.6h.9v.9h-.9zM130.4 255.6h.9v.9h-.9zM126.9 261.3h.9v.9h-.9zM133.8 259.0h.9v.9h-.9zM134.9 256.4h.9v.9h-.9zM131.6 259.6h.9v.9h-.9zM130.2 259.5h.9v.9h-.9zM133.7 268.3h.9v.9h-.9zM132.7 262.8h.9v.9h-.9zM135.6 257.2h.9v.9h-.9zM134.4 259.0h.9v.9h-.9zM135.8 258.5h.9v.9h-.9zM136.4 257.4h.9v.9h-.9zM131.1 263.2h.9v.9h-.9zM136.2 263.3h.9v.9h-.9zM139.6 263.8h.9v.9h-.9zM132.7 263.5h.9v.9h-.9zM129.9 263.1h.9v.9h-.9zM134.1 259.9h.9v.9h-.9zM130.2 263.9h.9v.9h-.9zM125.8 259.8h.9v.9h-.9zM127.9 259.2h.9v.9h-.9zM131.2 257.6h.9v.9h-.9zM130.6 261.3h.9v.9h-.9zM139.5 266.2h.9v.9h-.9zM132.1 259.0h.9v.9h-.9zM134.8 257.6h.9v.9h-.9zM127.6 263.6h.9v.9h-.9zM131.3 265.5h.9v.9h-.9zM133.9 255.6h.9v.9h-.9zM133.7 262.0h.9v.9h-.9zM132.9 255.8h.9v.9h-.9zM127.5 266.6h.9v.9h-.9zM123.1 257.2h.9v.9h-.9zM135.5 266.4h.9v.9h-.9zM135.0 260.3h.9v.9h-.9zM134.0 264.2h.9v.9h-.9zM130.9 264.6h.9v.9h-.9zM133.6 261.1h.9v.9h-.9zM134.2 261.4h.9v.9h-.9zM129.6 265.6h.9v.9h-.9zM131.1 259.5h.9v.9h-.9zM124.6 254.9h.9v.9h-.9zM134.7 260.1h.9v.9h-.9zM132.4 259.2h.9v.9h-.9zM134.9 258.2h.9v.9h-.9zM127.6 255.0h.9v.9h-.9zM130.0 261.4h.9v.9h-.9zM137.7 262.3h.9v.9h-.9zM130.4 256.0h.9v.9h-.9zM135.6 262.1h.9v.9h-.9zM132.5 262.5h.9v.9h-.9zM134.8 262.1h.9v.9h-.9zM137.3 255.3h.9v.9h-.9zM130.5 258.6h.9v.9h-.9zM129.3 267.0h.9v.9h-.9zM134.0 261.8h.9v.9h-.9zM135.5 259.6h.9v.9h-.9zM135.6 259.7h.9v.9h-.9zM135.3 262.3h.9v.9h-.9zM137.2 255.3h.9v.9h-.9zM129.6 257.9h.9v.9h-.9zM129.9 261.7h.9v.9h-.9zM136.1 259.2h.9v.9h-.9zM136.4 263.4h.9v.9h-.9zM130.7 262.6h.9v.9h-.9zM137.7 258.8h.9v.9h-.9zM125.2 262.3h.9v.9h-.9zM133.7 262.5h.9v.9h-.9zM134.5 260.2h.9v.9h-.9zM132.7 257.7h.9v.9h-.9zM139.5 265.6h.9v.9h-.9zM132.3 257.6h.9v.9h-.9zM134.2 265.8h.9v.9h-.9zM132.9 257.7h.9v.9h-.9zM136.0 261.3h.9v.9h-.9zM130.0 259.7h.9v.9h-.9zM133.3 256.7h.9v.9h-.9zM133.7 264.7h.9v.9h-.9zM136.4 264.6h.9v.9h-.9zM135.3 260.1h.9v.9h-.9zM134.9 264.5h.9v.9h-.9zM132.9 262.2h.9v.9h-.9zM130.6 260.5h.9v.9h-.9zM131.1 256.9h.9v.9h-.9zM134.2 267.8h.9v.9h-.9zM127.0 258.8h.9v.9h-.9zM133.5 258.0h.9v.9h-.9zM133.3 263.3h.9v.9h-.9zM127.2 260.1h.9v.9h-.9zM134.8 262.4h.9v.9h-.9zM139.0 261.1h.9v.9h-.9zM137.1 258.6h.9v.9h-.9zM129.7 258.7h.9v.9h-.9zM131.3 263.4h.9v.9h-.9zM135.4 260.5h.9v.9h-.9zM129.7 260.9h.9v.9h-.9zM131.4 259.2h.9v.9h-.9zM126.9 265.7h.9v.9h-.9zM134.8 270.4h.9v.9h-.9zM142.0 260.6h.9v.9h-.9zM140.4 259.1h.9v.9h-.9zM142.4 260.3h.9v.9h-.9zM126.5 260.4h.9v.9h-.9zM135.6 266.2h.9v.9h-.9zM136.2 266.4h.9v.9h-.9zM133.5 255.4h.9v.9h-.9zM133.4 257.5h.9v.9h-.9zM129.5 256.6h.9v.9h-.9zM133.2 264.0h.9v.9h-.9zM131.8 256.1h.9v.9h-.9zM131.1 260.0h.9v.9h-.9zM136.8 260.9h.9v.9h-.9zM138.9 267.9h.9v.9h-.9zM131.0 269.6h.9v.9h-.9zM127.5 263.7h.9v.9h-.9zM128.4 258.4h.9v.9h-.9zM134.6 261.3h.9v.9h-.9zM133.8 259.9h.9v.9h-.9zM126.5 255.0h.9v.9h-.9zM129.9 257.1h.9v.9h-.9zM131.2 254.7h.9v.9h-.9zM132.4 262.1h.9v.9h-.9zM131.1 265.0h.9v.9h-.9zM133.5 263.6h.9v.9h-.9zM129.8 261.2h.9v.9h-.9zM127.9 254.1h.9v.9h-.9zM126.8 259.1h.9v.9h-.9zM133.7 267.7h.9v.9h-.9zM133.9 259.2h.9v.9h-.9zM136.4 260.9h.9v.9h-.9zM132.9 260.9h.9v.9h-.9zM136.2 265.9h.9v.9h-.9zM127.9 260.8h.9v.9h-.9zM131.2 260.5h.9v.9h-.9zM141.0 259.7h.9v.9h-.9zM124.4 263.4h.9v.9h-.9zM131.2 257.4h.9v.9h-.9zM140.5 267.3h.9v.9h-.9zM136.4 261.4h.9v.9h-.9zM130.3 265.4h.9v.9h-.9zM132.0 261.3h.9v.9h-.9zM132.2 261.0h.9v.9h-.9zM126.0 256.4h.9v.9h-.9zM128.8 258.8h.9v.9h-.9zM132.2 260.2h.9v.9h-.9zM131.3 264.0h.9v.9h-.9zM125.7 258.7h.9v.9h-.9zM132.0 257.5h.9v.9h-.9zM137.6 260.1h.9v.9h-.9zM136.6 262.3h.9v.9h-.9zM131.9 263.8h.9v.9h-.9zM127.8 256.3h.9v.9h-.9zM131.3 259.8h.9v.9h-.9zM126.8 256.9h.9v.9h-.9zM128.3 268.5h.9v.9h-.9zM137.2 262.5h.9v.9h-.9zM133.6 265.0h.9v.9h-.9zM133.2 264.7h.9v.9h-.9zM135.9 267.7h.9v.9h-.9zM136.5 258.6h.9v.9h-.9zM135.0 264.3h.9v.9h-.9zM135.1 267.9h.9v.9h-.9zM125.6 266.1h.9v.9h-.9zM129.1 272.7h.9v.9h-.9zM123.9 270.1h.9v.9h-.9zM124.8 269.0h.9v.9h-.9zM126.1 266.2h.9v.9h-.9zM128.2 269.4h.9v.9h-.9zM134.0 269.1h.9v.9h-.9zM124.6 262.7h.9v.9h-.9zM137.0 266.9h.9v.9h-.9zM121.0 266.7h.9v.9h-.9zM124.0 267.4h.9v.9h-.9zM133.8 265.8h.9v.9h-.9zM122.6 265.9h.9v.9h-.9zM127.5 260.9h.9v.9h-.9zM129.7 266.3h.9v.9h-.9zM115.7 274.1h.9v.9h-.9zM116.3 270.8h.9v.9h-.9zM124.1 265.0h.9v.9h-.9zM114.4 264.8h.9v.9h-.9zM128.3 267.5h.9v.9h-.9zM120.7 271.9h.9v.9h-.9zM124.2 268.1h.9v.9h-.9zM119.0 262.0h.9v.9h-.9zM121.3 269.0h.9v.9h-.9zM121.6 269.1h.9v.9h-.9zM122.5 266.8h.9v.9h-.9zM123.7 269.3h.9v.9h-.9zM111.0 267.8h.9v.9h-.9zM122.8 265.9h.9v.9h-.9zM129.6 272.7h.9v.9h-.9zM130.6 270.9h.9v.9h-.9zM126.6 268.4h.9v.9h-.9zM128.3 265.0h.9v.9h-.9zM123.2 269.1h.9v.9h-.9zM123.1 262.5h.9v.9h-.9zM123.4 266.0h.9v.9h-.9zM120.2 270.4h.9v.9h-.9zM130.2 268.1h.9v.9h-.9zM117.3 267.0h.9v.9h-.9zM122.9 263.3h.9v.9h-.9zM120.4 268.4h.9v.9h-.9zM120.5 269.6h.9v.9h-.9zM116.4 270.5h.9v.9h-.9zM119.9 268.3h.9v.9h-.9zM124.0 265.6h.9v.9h-.9zM130.0 260.2h.9v.9h-.9zM125.1 270.5h.9v.9h-.9zM122.5 267.5h.9v.9h-.9zM117.3 267.5h.9v.9h-.9zM124.9 265.2h.9v.9h-.9zM124.0 266.2h.9v.9h-.9zM118.0 267.4h.9v.9h-.9zM119.4 271.4h.9v.9h-.9zM119.4 273.6h.9v.9h-.9zM123.8 267.6h.9v.9h-.9zM119.7 269.5h.9v.9h-.9zM118.0 261.2h.9v.9h-.9zM126.4 258.9h.9v.9h-.9zM130.5 265.5h.9v.9h-.9zM133.0 268.7h.9v.9h-.9zM133.4 261.6h.9v.9h-.9zM121.3 268.8h.9v.9h-.9zM120.7 268.0h.9v.9h-.9zM123.0 270.5h.9v.9h-.9zM132.2 258.6h.9v.9h-.9zM127.5 262.9h.9v.9h-.9zM133.4 261.5h.9v.9h-.9zM119.0 269.8h.9v.9h-.9zM122.9 270.6h.9v.9h-.9zM126.0 264.5h.9v.9h-.9zM114.4 272.5h.9v.9h-.9zM122.6 267.2h.9v.9h-.9zM122.1 266.6h.9v.9h-.9zM119.7 267.9h.9v.9h-.9zM125.3 262.5h.9v.9h-.9zM114.7 270.0h.9v.9h-.9zM129.0 265.4h.9v.9h-.9zM122.9 265.6h.9v.9h-.9zM126.2 267.4h.9v.9h-.9zM120.7 264.5h.9v.9h-.9zM117.6 267.4h.9v.9h-.9zM114.9 267.4h.9v.9h-.9zM116.8 260.7h.9v.9h-.9zM114.4 267.0h.9v.9h-.9zM120.2 267.4h.9v.9h-.9zM112.4 268.8h.9v.9h-.9zM115.4 268.6h.9v.9h-.9zM111.9 261.8h.9v.9h-.9zM111.3 268.0h.9v.9h-.9zM119.9 267.0h.9v.9h-.9zM116.8 266.0h.9v.9h-.9zM116.8 263.5h.9v.9h-.9zM120.1 268.6h.9v.9h-.9zM119.2 266.1h.9v.9h-.9zM118.9 269.0h.9v.9h-.9zM124.1 269.3h.9v.9h-.9zM113.9 264.1h.9v.9h-.9zM119.0 267.7h.9v.9h-.9zM118.0 266.5h.9v.9h-.9zM113.7 266.7h.9v.9h-.9zM111.7 267.1h.9v.9h-.9zM123.3 268.3h.9v.9h-.9zM113.6 263.9h.9v.9h-.9zM123.8 268.1h.9v.9h-.9zM114.6 267.9h.9v.9h-.9zM115.2 263.4h.9v.9h-.9zM116.7 267.7h.9v.9h-.9zM120.3 262.8h.9v.9h-.9zM120.9 265.7h.9v.9h-.9zM110.0 269.1h.9v.9h-.9zM119.4 267.8h.9v.9h-.9zM118.8 263.8h.9v.9h-.9zM117.9 261.8h.9v.9h-.9zM114.2 273.4h.9v.9h-.9zM121.4 267.4h.9v.9h-.9zM117.8 266.6h.9v.9h-.9zM118.2 266.9h.9v.9h-.9zM113.3 265.4h.9v.9h-.9zM110.3 263.9h.9v.9h-.9zM130.5 275.9h.9v.9h-.9zM136.2 270.3h.9v.9h-.9zM135.9 273.7h.9v.9h-.9zM129.9 274.6h.9v.9h-.9zM136.1 271.9h.9v.9h-.9zM130.0 276.4h.9v.9h-.9zM133.1 275.9h.9v.9h-.9zM131.2 277.6h.9v.9h-.9zM128.6 279.2h.9v.9h-.9zM129.7 275.9h.9v.9h-.9zM128.7 273.2h.9v.9h-.9zM133.2 276.4h.9v.9h-.9zM130.5 277.1h.9v.9h-.9zM138.5 268.1h.9v.9h-.9zM126.1 275.4h.9v.9h-.9zM126.9 277.7h.9v.9h-.9zM129.0 274.9h.9v.9h-.9zM128.9 280.6h.9v.9h-.9zM134.5 270.2h.9v.9h-.9zM132.5 274.0h.9v.9h-.9zM134.4 275.8h.9v.9h-.9zM129.2 273.7h.9v.9h-.9zM131.0 279.6h.9v.9h-.9zM131.1 273.4h.9v.9h-.9zM130.0 277.2h.9v.9h-.9zM130.2 279.7h.9v.9h-.9zM133.0 275.3h.9v.9h-.9zM131.2 274.0h.9v.9h-.9zM125.3 278.1h.9v.9h-.9zM134.5 274.3h.9v.9h-.9zM131.6 271.1h.9v.9h-.9zM130.4 275.4h.9v.9h-.9zM130.7 275.0h.9v.9h-.9zM133.3 276.9h.9v.9h-.9zM132.8 273.3h.9v.9h-.9zM129.7 274.9h.9v.9h-.9zM127.1 270.9h.9v.9h-.9zM131.7 274.9h.9v.9h-.9zM131.1 278.2h.9v.9h-.9zM125.9 276.0h.9v.9h-.9zM136.4 270.6h.9v.9h-.9zM115.3 272.8h.9v.9h-.9zM127.8 273.1h.9v.9h-.9zM108.6 264.6h.9v.9h-.9zM121.1 265.2h.9v.9h-.9zM128.1 276.1h.9v.9h-.9zM128.9 259.5h.9v.9h-.9zM127.2 269.9h.9v.9h-.9zM110.5 270.3h.9v.9h-.9zM130.2 272.0h.9v.9h-.9zM134.5 275.2h.9v.9h-.9zM111.9 262.7h.9v.9h-.9z" fill="#111" opacity="0.6" filter="url(#bl04)"/>
<line x1="125.5" y1="253.7" x2="125.5" y2="282.1" stroke="#4a4a4a" stroke-width="1.0"/>
<line x1="108.6" y1="271.5" x2="147.1" y2="271.5" stroke="#4a4a4a" stroke-width="1.0"/>
</g>
<rect x="108.5" y="253.5" width="39.0" height="29.0" fill="none" stroke="#111" stroke-width="1.2" />
<path d="M106.80 282.10H108.6M108.60 282.1V283.90M107.50 279.96H108.6M111.50 282.1V283.20M107.50 278.71H108.6M113.19 282.1V283.20M107.50 277.83H108.6M114.39 282.1V283.20M107.50 277.14H108.6M115.33 282.1V283.20M107.50 276.58H108.6M116.09 282.1V283.20M107.50 276.10H108.6M116.73 282.1V283.20M107.50 275.69H108.6M117.29 282.1V283.20M107.50 275.32H108.6M117.78 282.1V283.20M106.80 275.00H108.6M118.22 282.1V283.90M107.50 272.86H108.6M121.12 282.1V283.20M107.50 271.61H108.6M122.82 282.1V283.20M107.50 270.73H108.6M124.02 282.1V283.20M107.50 270.04H108.6M124.95 282.1V283.20M107.50 269.48H108.6M125.71 282.1V283.20M107.50 269.00H108.6M126.36 282.1V283.20M107.50 268.59H108.6M126.92 282.1V283.20M107.50 268.22H108.6M127.41 282.1V283.20M106.80 267.90H108.6M127.85 282.1V283.90M107.50 265.76H108.6M130.75 282.1V283.20M107.50 264.51H108.6M132.44 282.1V283.20M107.50 263.63H108.6M133.64 282.1V283.20M107.50 262.94H108.6M134.58 282.1V283.20M107.50 262.38H108.6M135.34 282.1V283.20M107.50 261.90H108.6M135.98 282.1V283.20M107.50 261.49H108.6M136.54 282.1V283.20M107.50 261.12H108.6M137.03 282.1V283.20M106.80 260.80H108.6M137.47 282.1V283.90M107.50 258.66H108.6M140.37 282.1V283.20M107.50 257.41H108.6M142.07 282.1V283.20M107.50 256.53H108.6M143.27 282.1V283.20M107.50 255.84H108.6M144.20 282.1V283.20M107.50 255.28H108.6M144.96 282.1V283.20M107.50 254.80H108.6M145.61 282.1V283.20M107.50 254.39H108.6M146.17 282.1V283.20M107.50 254.02H108.6M146.66 282.1V283.20M106.8 253.70H108.6M147.10 282.1V283.90000000000003" stroke="#111" stroke-width="0.55" fill="none"/>
<text x="107.0" y="290.3" font-size="4.0" font-weight="bold" text-anchor="middle" fill="#111" stroke="#111" stroke-width="0.15">10<tspan font-size="2.8" dy="-1.6">0</tspan></text>
<text x="116.3" y="290.3" font-size="4.0" font-weight="bold" text-anchor="middle" fill="#111" stroke="#111" stroke-width="0.15">10<tspan font-size="2.8" dy="-1.6">1</tspan></text>
<text x="125.7" y="290.3" font-size="4.0" font-weight="bold" text-anchor="middle" fill="#111" stroke="#111" stroke-width="0.15">10<tspan font-size="2.8" dy="-1.6">2</tspan></text>
<text x="135.1" y="290.3" font-size="4.0" font-weight="bold" text-anchor="middle" fill="#111" stroke="#111" stroke-width="0.15">10<tspan font-size="2.8" dy="-1.6">3</tspan></text>
<text x="144.4" y="290.3" font-size="4.0" font-weight="bold" text-anchor="middle" fill="#111" stroke="#111" stroke-width="0.15">10<tspan font-size="2.8" dy="-1.6">4</tspan></text>
<clipPath id="clip23"><rect x="154.5" y="253.7" width="38.5" height="28.400000000000034"/></clipPath>
<g clip-path="url(#clip23)">
<ellipse cx="164.9" cy="259.9" rx="6.5" ry="5.2" transform="rotate(0 164.9 259.9)" fill="#111" opacity="0.63" filter="url(#bl)"/>
<ellipse cx="163.0" cy="275.0" rx="4.3" ry="6.0" transform="rotate(0 163.0 275.0)" fill="#111" opacity="0.16" filter="url(#bl)"/>
<path d="M164.0 265.1h.9v.9h-.9zM168.3 257.7h.9v.9h-.9zM165.1 259.3h.9v.9h-.9zM164.8 264.6h.9v.9h-.9zM170.9 256.3h.9v.9h-.9zM174.2 254.0h.9v.9h-.9zM163.6 268.6h.9v.9h-.9zM168.1 264.0h.9v.9h-.9zM165.5 261.7h.9v.9h-.9zM161.8 265.1h.9v.9h-.9zM163.9 257.9h.9v.9h-.9zM157.8 267.7h.9v.9h-.9zM157.8 256.1h.9v.9h-.9zM167.2 259.9h.9v.9h-.9zM173.1 262.1h.9v.9h-.9zM166.5 257.0h.9v.9h-.9zM167.5 254.7h.9v.9h-.9zM161.3 264.8h.9v.9h-.9zM166.2 255.7h.9v.9h-.9zM161.9 259.4h.9v.9h-.9zM166.4 260.6h.9v.9h-.9zM162.7 260.3h.9v.9h-.9zM169.9 257.6h.9v.9h-.9zM158.6 256.9h.9v.9h-.9zM166.1 268.5h.9v.9h-.9zM159.0 258.0h.9v.9h-.9zM161.5 263.9h.9v.9h-.9zM167.6 259.3h.9v.9h-.9zM166.4 265.6h.9v.9h-.9zM163.6 255.8h.9v.9h-.9zM165.0 255.4h.9v.9h-.9zM166.0 263.0h.9v.9h-.9zM163.2 263.2h.9v.9h-.9zM170.6 266.5h.9v.9h-.9zM163.2 262.0h.9v.9h-.9zM168.8 262.8h.9v.9h-.9zM169.4 261.6h.9v.9h-.9zM168.2 263.2h.9v.9h-.9zM167.2 262.0h.9v.9h-.9zM166.3 259.6h.9v.9h-.9zM156.3 259.6h.9v.9h-.9zM165.1 257.9h.9v.9h-.9zM162.8 264.4h.9v.9h-.9zM162.4 259.5h.9v.9h-.9zM170.8 261.0h.9v.9h-.9zM167.4 257.9h.9v.9h-.9zM162.3 254.2h.9v.9h-.9zM167.9 260.0h.9v.9h-.9zM161.6 260.1h.9v.9h-.9zM170.2 263.3h.9v.9h-.9zM168.7 264.1h.9v.9h-.9zM166.1 259.9h.9v.9h-.9zM164.9 261.6h.9v.9h-.9zM156.9 260.9h.9v.9h-.9zM165.1 256.7h.9v.9h-.9zM162.3 264.1h.9v.9h-.9zM163.1 259.6h.9v.9h-.9zM172.0 256.4h.9v.9h-.9zM164.7 258.4h.9v.9h-.9zM162.5 259.3h.9v.9h-.9zM167.5 258.9h.9v.9h-.9zM169.4 262.6h.9v.9h-.9zM159.9 260.1h.9v.9h-.9zM164.1 255.3h.9v.9h-.9zM156.6 263.5h.9v.9h-.9zM166.3 264.3h.9v.9h-.9zM172.3 262.7h.9v.9h-.9zM166.7 264.5h.9v.9h-.9zM164.3 258.5h.9v.9h-.9zM169.5 262.3h.9v.9h-.9zM162.5 258.4h.9v.9h-.9zM159.0 267.4h.9v.9h-.9zM163.2 258.1h.9v.9h-.9zM162.1 258.0h.9v.9h-.9zM165.5 260.1h.9v.9h-.9zM165.6 265.9h.9v.9h-.9zM165.2 257.8h.9v.9h-.9zM174.3 258.1h.9v.9h-.9zM168.2 260.8h.9v.9h-.9zM164.3 256.3h.9v.9h-.9zM165.7 260.6h.9v.9h-.9zM173.5 254.5h.9v.9h-.9zM157.7 261.9h.9v.9h-.9zM163.4 264.0h.9v.9h-.9zM156.4 254.5h.9v.9h-.9zM171.9 256.7h.9v.9h-.9zM160.8 259.3h.9v.9h-.9zM172.4 259.2h.9v.9h-.9zM168.6 259.3h.9v.9h-.9zM159.9 260.8h.9v.9h-.9zM156.5 263.6h.9v.9h-.9zM157.4 260.4h.9v.9h-.9zM154.9 259.5h.9v.9h-.9zM166.8 257.2h.9v.9h-.9zM174.0 259.9h.9v.9h-.9zM167.0 254.6h.9v.9h-.9zM162.6 260.7h.9v.9h-.9zM168.4 262.0h.9v.9h-.9zM158.4 254.6h.9v.9h-.9zM159.7 263.9h.9v.9h-.9zM156.7 255.5h.9v.9h-.9zM165.5 259.7h.9v.9h-.9zM164.6 256.9h.9v.9h-.9zM166.5 259.5h.9v.9h-.9zM164.0 260.7h.9v.9h-.9zM163.8 259.2h.9v.9h-.9zM170.2 262.4h.9v.9h-.9zM165.2 260.4h.9v.9h-.9zM171.3 255.1h.9v.9h-.9zM155.9 260.0h.9v.9h-.9zM156.9 256.0h.9v.9h-.9zM165.9 260.6h.9v.9h-.9zM163.3 257.1h.9v.9h-.9zM158.0 257.3h.9v.9h-.9zM161.0 259.7h.9v.9h-.9zM169.2 258.8h.9v.9h-.9zM159.6 261.4h.9v.9h-.9zM170.5 261.0h.9v.9h-.9zM162.8 258.5h.9v.9h-.9zM163.4 256.1h.9v.9h-.9zM169.1 258.7h.9v.9h-.9zM173.8 264.2h.9v.9h-.9zM162.6 269.1h.9v.9h-.9zM162.6 257.0h.9v.9h-.9zM156.6 259.9h.9v.9h-.9zM166.7 258.5h.9v.9h-.9zM164.3 261.5h.9v.9h-.9zM161.2 259.7h.9v.9h-.9zM163.6 265.3h.9v.9h-.9zM168.0 259.5h.9v.9h-.9zM160.1 259.3h.9v.9h-.9zM161.1 258.6h.9v.9h-.9zM166.5 262.7h.9v.9h-.9zM169.6 257.8h.9v.9h-.9zM165.7 259.7h.9v.9h-.9zM168.8 267.7h.9v.9h-.9zM169.6 263.1h.9v.9h-.9zM166.0 261.7h.9v.9h-.9zM155.6 261.1h.9v.9h-.9zM164.2 259.7h.9v.9h-.9zM168.2 271.1h.9v.9h-.9zM166.1 255.6h.9v.9h-.9zM163.1 262.8h.9v.9h-.9zM168.2 260.5h.9v.9h-.9zM167.4 257.1h.9v.9h-.9zM163.3 257.2h.9v.9h-.9zM162.7 260.7h.9v.9h-.9zM165.4 263.3h.9v.9h-.9zM173.7 261.7h.9v.9h-.9zM160.6 259.9h.9v.9h-.9zM161.3 257.1h.9v.9h-.9zM163.0 263.3h.9v.9h-.9zM161.2 261.1h.9v.9h-.9zM161.4 263.0h.9v.9h-.9zM170.2 254.8h.9v.9h-.9zM168.3 256.8h.9v.9h-.9zM166.4 259.6h.9v.9h-.9zM168.8 255.4h.9v.9h-.9zM173.7 261.1h.9v.9h-.9zM161.9 264.4h.9v.9h-.9zM171.2 261.8h.9v.9h-.9zM162.6 257.0h.9v.9h-.9zM160.8 265.6h.9v.9h-.9zM165.2 259.8h.9v.9h-.9zM163.2 264.3h.9v.9h-.9zM163.2 263.0h.9v.9h-.9zM156.7 257.1h.9v.9h-.9zM166.4 256.5h.9v.9h-.9zM166.7 261.8h.9v.9h-.9zM167.0 259.7h.9v.9h-.9zM164.4 272.5h.9v.9h-.9zM166.1 257.7h.9v.9h-.9zM164.8 266.3h.9v.9h-.9zM164.8 263.8h.9v.9h-.9zM171.2 257.9h.9v.9h-.9zM173.8 254.6h.9v.9h-.9zM162.6 259.6h.9v.9h-.9zM163.7 262.1h.9v.9h-.9zM164.4 262.0h.9v.9h-.9zM161.1 254.3h.9v.9h-.9zM173.3 260.8h.9v.9h-.9zM166.7 255.8h.9v.9h-.9zM167.0 259.8h.9v.9h-.9zM167.1 260.4h.9v.9h-.9zM169.7 264.9h.9v.9h-.9zM163.3 258.6h.9v.9h-.9zM168.3 254.8h.9v.9h-.9zM161.6 258.6h.9v.9h-.9zM155.2 266.8h.9v.9h-.9zM163.7 259.2h.9v.9h-.9zM159.4 261.9h.9v.9h-.9zM161.6 270.1h.9v.9h-.9zM164.0 281.3h.9v.9h-.9zM158.4 274.9h.9v.9h-.9zM169.7 274.2h.9v.9h-.9zM160.8 281.6h.9v.9h-.9zM163.7 278.8h.9v.9h-.9zM168.0 277.6h.9v.9h-.9zM158.4 270.3h.9v.9h-.9zM162.3 272.5h.9v.9h-.9zM162.5 267.3h.9v.9h-.9zM158.0 277.9h.9v.9h-.9zM162.4 276.7h.9v.9h-.9zM161.8 274.9h.9v.9h-.9zM166.2 269.5h.9v.9h-.9zM161.6 276.5h.9v.9h-.9zM161.7 274.8h.9v.9h-.9zM163.6 267.4h.9v.9h-.9zM165.3 276.9h.9v.9h-.9zM160.0 274.2h.9v.9h-.9zM162.7 273.9h.9v.9h-.9zM163.1 268.7h.9v.9h-.9zM163.2 276.7h.9v.9h-.9zM164.2 276.8h.9v.9h-.9zM161.2 275.6h.9v.9h-.9zM165.9 275.3h.9v.9h-.9zM163.6 275.3h.9v.9h-.9zM164.6 269.7h.9v.9h-.9zM162.8 278.5h.9v.9h-.9zM160.2 277.3h.9v.9h-.9zM161.6 273.3h.9v.9h-.9zM159.5 271.3h.9v.9h-.9zM166.6 269.0h.9v.9h-.9zM163.4 269.4h.9v.9h-.9zM169.2 277.9h.9v.9h-.9zM160.5 270.3h.9v.9h-.9zM162.1 276.4h.9v.9h-.9zM168.1 281.0h.9v.9h-.9zM160.0 276.0h.9v.9h-.9zM165.8 272.1h.9v.9h-.9zM161.5 278.8h.9v.9h-.9zM158.7 275.2h.9v.9h-.9zM162.7 273.8h.9v.9h-.9zM163.0 268.3h.9v.9h-.9zM165.5 273.1h.9v.9h-.9zM167.3 271.7h.9v.9h-.9zM162.2 280.0h.9v.9h-.9zM160.7 273.6h.9v.9h-.9zM155.2 269.2h.9v.9h-.9zM159.4 272.1h.9v.9h-.9zM160.7 276.1h.9v.9h-.9zM163.8 273.5h.9v.9h-.9zM158.8 276.0h.9v.9h-.9zM164.9 274.8h.9v.9h-.9zM167.2 273.1h.9v.9h-.9zM165.6 276.1h.9v.9h-.9zM167.0 281.7h.9v.9h-.9zM159.4 267.5h.9v.9h-.9zM166.1 276.3h.9v.9h-.9zM164.0 273.2h.9v.9h-.9zM160.7 280.0h.9v.9h-.9zM164.4 272.8h.9v.9h-.9zM163.1 276.2h.9v.9h-.9zM159.0 272.4h.9v.9h-.9zM164.5 275.6h.9v.9h-.9zM158.7 276.3h.9v.9h-.9zM169.1 277.6h.9v.9h-.9zM158.9 273.1h.9v.9h-.9zM161.1 271.8h.9v.9h-.9zM160.4 272.6h.9v.9h-.9zM162.7 269.9h.9v.9h-.9zM165.8 276.4h.9v.9h-.9zM169.0 278.5h.9v.9h-.9zM165.9 277.1h.9v.9h-.9zM162.6 270.6h.9v.9h-.9zM165.0 275.4h.9v.9h-.9zM161.0 276.7h.9v.9h-.9zM186.4 259.9h.9v.9h-.9zM191.1 273.1h.9v.9h-.9zM163.4 265.6h.9v.9h-.9zM176.9 258.3h.9v.9h-.9zM189.3 257.7h.9v.9h-.9zM180.7 268.1h.9v.9h-.9zM186.8 256.2h.9v.9h-.9zM159.9 269.7h.9v.9h-.9zM164.3 260.7h.9v.9h-.9zM166.7 275.5h.9v.9h-.9zM175.0 257.8h.9v.9h-.9zM179.3 258.3h.9v.9h-.9z" fill="#111" opacity="0.6" filter="url(#bl04)"/>
<line x1="168.5" y1="253.7" x2="168.5" y2="282.1" stroke="#4a4a4a" stroke-width="1.0"/>
<line x1="154.5" y1="271.5" x2="193.0" y2="271.5" stroke="#4a4a4a" stroke-width="1.0"/>
</g>
<rect x="154.5" y="253.5" width="39.0" height="29.0" fill="none" stroke="#111" stroke-width="1.2" />
<path d="M152.70 282.10H154.5M154.50 282.1V283.90M153.40 279.96H154.5M157.40 282.1V283.20M153.40 278.71H154.5M159.09 282.1V283.20M153.40 277.83H154.5M160.29 282.1V283.20M153.40 277.14H154.5M161.23 282.1V283.20M153.40 276.58H154.5M161.99 282.1V283.20M153.40 276.10H154.5M162.63 282.1V283.20M153.40 275.69H154.5M163.19 282.1V283.20M153.40 275.32H154.5M163.68 282.1V283.20M152.70 275.00H154.5M164.12 282.1V283.90M153.40 272.86H154.5M167.02 282.1V283.20M153.40 271.61H154.5M168.72 282.1V283.20M153.40 270.73H154.5M169.92 282.1V283.20M153.40 270.04H154.5M170.85 282.1V283.20M153.40 269.48H154.5M171.61 282.1V283.20M153.40 269.00H154.5M172.26 282.1V283.20M153.40 268.59H154.5M172.82 282.1V283.20M153.40 268.22H154.5M173.31 282.1V283.20M152.70 267.90H154.5M173.75 282.1V283.90M153.40 265.76H154.5M176.65 282.1V283.20M153.40 264.51H154.5M178.34 282.1V283.20M153.40 263.63H154.5M179.54 282.1V283.20M153.40 262.94H154.5M180.48 282.1V283.20M153.40 262.38H154.5M181.24 282.1V283.20M153.40 261.90H154.5M181.88 282.1V283.20M153.40 261.49H154.5M182.44 282.1V283.20M153.40 261.12H154.5M182.93 282.1V283.20M152.70 260.80H154.5M183.38 282.1V283.90M153.40 258.66H154.5M186.27 282.1V283.20M153.40 257.41H154.5M187.97 282.1V283.20M153.40 256.53H154.5M189.17 282.1V283.20M153.40 255.84H154.5M190.10 282.1V283.20M153.40 255.28H154.5M190.86 282.1V283.20M153.40 254.80H154.5M191.51 282.1V283.20M153.40 254.39H154.5M192.07 282.1V283.20M153.40 254.02H154.5M192.56 282.1V283.20M152.7 253.70H154.5M193.00 282.1V283.90000000000003" stroke="#111" stroke-width="0.55" fill="none"/>
<text x="152.9" y="290.3" font-size="4.0" font-weight="bold" text-anchor="middle" fill="#111" stroke="#111" stroke-width="0.15">10<tspan font-size="2.8" dy="-1.6">0</tspan></text>
<text x="162.2" y="290.3" font-size="4.0" font-weight="bold" text-anchor="middle" fill="#111" stroke="#111" stroke-width="0.15">10<tspan font-size="2.8" dy="-1.6">1</tspan></text>
<text x="171.6" y="290.3" font-size="4.0" font-weight="bold" text-anchor="middle" fill="#111" stroke="#111" stroke-width="0.15">10<tspan font-size="2.8" dy="-1.6">2</tspan></text>
<text x="180.9" y="290.3" font-size="4.0" font-weight="bold" text-anchor="middle" fill="#111" stroke="#111" stroke-width="0.15">10<tspan font-size="2.8" dy="-1.6">3</tspan></text>
<text x="190.3" y="290.3" font-size="4.0" font-weight="bold" text-anchor="middle" fill="#111" stroke="#111" stroke-width="0.15">10<tspan font-size="2.8" dy="-1.6">4</tspan></text>
<line x1="5.8" y1="296.8" x2="5.8" y2="279.2" stroke="#111" stroke-width="1.1"/>
<line x1="5.8" y1="260.2" x2="5.8" y2="218.3" stroke="#111" stroke-width="1.1"/>
<path d="M5.8,211.3 L3.6,219.10000000000002 L8.0,219.10000000000002 Z" fill="#111"/>
<text transform="translate(7.8,269.7) rotate(-90)" font-size="7.4" font-weight="bold" text-anchor="middle" fill="#111" stroke="#111" stroke-width="0.3" textLength="15" lengthAdjust="spacingAndGlyphs">H-2d</text>
<line x1="5.3" y1="247.6" x2="93.5" y2="247.6" stroke="#111" stroke-width="1.1"/>
<text x="104.2" y="250.29999999999998" font-size="7.6" font-weight="bold" text-anchor="middle" fill="#111" textLength="17" lengthAdjust="spacingAndGlyphs" stroke="#111" stroke-width="0.3">H-2b</text>
<line x1="114.2" y1="247.6" x2="190" y2="247.6" stroke="#111" stroke-width="1.1"/>
<path d="M197.2,247.6 L189.2,245.29999999999998 L189.2,249.9 Z" fill="#111"/>
<line x1="5.3" y1="296.8" x2="93.5" y2="296.8" stroke="#111" stroke-width="1.1"/>
<text x="104.2" y="299.5" font-size="7.6" font-weight="bold" text-anchor="middle" fill="#111" textLength="15.3" lengthAdjust="spacingAndGlyphs" stroke="#111" stroke-width="0.3">GFP</text>
<line x1="114.2" y1="296.8" x2="190" y2="296.8" stroke="#111" stroke-width="1.1"/>
<path d="M197.2,296.8 L189.2,294.5 L189.2,299.1 Z" fill="#111"/>
<text x="205.4" y="13.4" font-size="11.0" font-weight="bold" text-anchor="start" fill="#111" stroke="#111" stroke-width="0.3">D</text>
<line x1="227.5" y1="16.3" x2="227.5" y2="85.1" stroke="#111" stroke-width="1.2"/>
<line x1="227.0" y1="84.6" x2="297.0" y2="84.6" stroke="#111" stroke-width="1.2"/>
<line x1="223.3" y1="16.3" x2="227.5" y2="16.3" stroke="#111" stroke-width="1.0"/>
<line x1="224.5" y1="83.2" x2="227.5" y2="83.2" stroke="#111" stroke-width="1.1"/>
<line x1="224.5" y1="59.400000000000006" x2="227.5" y2="59.400000000000006" stroke="#111" stroke-width="1.1"/>
<line x1="224.5" y1="35.6" x2="227.5" y2="35.6" stroke="#111" stroke-width="1.1"/>
<line x1="225.5" y1="76.03548610319726" x2="227.5" y2="76.03548610319726" stroke="#111" stroke-width="0.9"/>
<line x1="225.5" y1="71.84451413767204" x2="227.5" y2="71.84451413767204" stroke="#111" stroke-width="0.9"/>
<line x1="225.5" y1="68.8709722063945" x2="227.5" y2="68.8709722063945" stroke="#111" stroke-width="0.9"/>
<line x1="225.5" y1="66.56451389680275" x2="227.5" y2="66.56451389680275" stroke="#111" stroke-width="0.9"/>
<line x1="225.5" y1="64.68000024086928" x2="227.5" y2="64.68000024086928" stroke="#111" stroke-width="0.9"/>
<line x1="225.5" y1="63.08666664766069" x2="227.5" y2="63.08666664766069" stroke="#111" stroke-width="0.9"/>
<line x1="225.5" y1="61.70645830959174" x2="227.5" y2="61.70645830959174" stroke="#111" stroke-width="0.9"/>
<line x1="225.5" y1="60.48902827534407" x2="227.5" y2="60.48902827534407" stroke="#111" stroke-width="0.9"/>
<line x1="225.5" y1="52.235486103197246" x2="227.5" y2="52.235486103197246" stroke="#111" stroke-width="0.9"/>
<line x1="225.5" y1="48.04451413767203" x2="227.5" y2="48.04451413767203" stroke="#111" stroke-width="0.9"/>
<line x1="225.5" y1="45.070972206394494" x2="227.5" y2="45.070972206394494" stroke="#111" stroke-width="0.9"/>
<line x1="225.5" y1="42.764513896802754" x2="227.5" y2="42.764513896802754" stroke="#111" stroke-width="0.9"/>
<line x1="225.5" y1="40.88000024086928" x2="227.5" y2="40.88000024086928" stroke="#111" stroke-width="0.9"/>
<line x1="225.5" y1="39.28666664766069" x2="227.5" y2="39.28666664766069" stroke="#111" stroke-width="0.9"/>
<line x1="225.5" y1="37.90645830959174" x2="227.5" y2="37.90645830959174" stroke="#111" stroke-width="0.9"/>
<line x1="225.5" y1="36.689028275344064" x2="227.5" y2="36.689028275344064" stroke="#111" stroke-width="0.9"/>
<line x1="225.5" y1="28.43548610319725" x2="227.5" y2="28.43548610319725" stroke="#111" stroke-width="0.9"/>
<line x1="225.5" y1="24.24451413767203" x2="227.5" y2="24.24451413767203" stroke="#111" stroke-width="0.9"/>
<line x1="225.5" y1="21.270972206394493" x2="227.5" y2="21.270972206394493" stroke="#111" stroke-width="0.9"/>
<line x1="225.5" y1="18.964513896802753" x2="227.5" y2="18.964513896802753" stroke="#111" stroke-width="0.9"/>
<line x1="225.5" y1="17.08000024086928" x2="227.5" y2="17.08000024086928" stroke="#111" stroke-width="0.9"/>
<text x="218.9" y="37.2" font-size="6.2" font-weight="bold" text-anchor="middle" fill="#111" stroke="#111" stroke-width="0.15">10<tspan font-size="4.2" dy="-3">5</tspan></text>
<text x="218.9" y="61.0" font-size="6.2" font-weight="bold" text-anchor="middle" fill="#111" stroke="#111" stroke-width="0.15">10<tspan font-size="4.2" dy="-3">4</tspan></text>
<text x="218.9" y="84.8" font-size="6.2" font-weight="bold" text-anchor="middle" fill="#111" stroke="#111" stroke-width="0.15">10<tspan font-size="4.2" dy="-3">3</tspan></text>
<line x1="227.34" y1="84.6" x2="227.34" y2="87.6" stroke="#111" stroke-width="1.0"/>
<line x1="231.47" y1="84.6" x2="231.47" y2="87.6" stroke="#111" stroke-width="1.0"/>
<line x1="235.6" y1="84.6" x2="235.6" y2="87.6" stroke="#111" stroke-width="1.0"/>
<line x1="239.73" y1="84.6" x2="239.73" y2="87.6" stroke="#111" stroke-width="1.0"/>
<line x1="243.85999999999999" y1="84.6" x2="243.85999999999999" y2="87.6" stroke="#111" stroke-width="1.0"/>
<line x1="247.99" y1="84.6" x2="247.99" y2="87.6" stroke="#111" stroke-width="1.0"/>
<line x1="252.12" y1="84.6" x2="252.12" y2="87.6" stroke="#111" stroke-width="1.0"/>
<line x1="256.25" y1="84.6" x2="256.25" y2="87.6" stroke="#111" stroke-width="1.0"/>
<line x1="260.38" y1="84.6" x2="260.38" y2="87.6" stroke="#111" stroke-width="1.0"/>
<line x1="264.51" y1="84.6" x2="264.51" y2="87.6" stroke="#111" stroke-width="1.0"/>
<line x1="268.64" y1="84.6" x2="268.64" y2="87.6" stroke="#111" stroke-width="1.0"/>
<line x1="272.77" y1="84.6" x2="272.77" y2="87.6" stroke="#111" stroke-width="1.0"/>
<line x1="276.9" y1="84.6" x2="276.9" y2="87.6" stroke="#111" stroke-width="1.0"/>
<line x1="281.03" y1="84.6" x2="281.03" y2="87.6" stroke="#111" stroke-width="1.0"/>
<line x1="285.15999999999997" y1="84.6" x2="285.15999999999997" y2="87.6" stroke="#111" stroke-width="1.0"/>
<line x1="289.28999999999996" y1="84.6" x2="289.28999999999996" y2="87.6" stroke="#111" stroke-width="1.0"/>
<line x1="293.42" y1="84.6" x2="293.42" y2="87.6" stroke="#111" stroke-width="1.0"/>
<text x="235.6" y="94.2" font-size="6.0" font-weight="bold" text-anchor="middle" fill="#111"  stroke="#111" stroke-width="0.18">14</text>
<text x="264.51" y="94.2" font-size="6.0" font-weight="bold" text-anchor="middle" fill="#111"  stroke="#111" stroke-width="0.18">21</text>
<text x="293.42" y="94.2" font-size="6.0" font-weight="bold" text-anchor="middle" fill="#111"  stroke="#111" stroke-width="0.18">28</text>
<text x="263.1" y="104.1" font-size="7.4" font-weight="bold" text-anchor="middle" fill="#111" textLength="57.8" lengthAdjust="spacingAndGlyphs"  stroke="#111" stroke-width="0.18">Days after BMT</text>
<text transform="translate(211.6,54.8) rotate(-90)" font-size="7.0" font-weight="bold" text-anchor="middle" fill="#111" stroke="#111" stroke-width="0.18" textLength="35.8" lengthAdjust="spacingAndGlyphs">PBL per µL</text>
<polyline points="233.6,76.0 246.6,67.7 258.3,46.2 282.5,46.2" fill="none" stroke="#ec2f68" stroke-width="1.4"/>
<polyline points="233.6,67.7 246.6,60.8 258.3,58.0 282.5,57.5" fill="none" stroke="#ec2f68" stroke-width="1.4"/>
<polyline points="233.6,59.4 246.6,55.0 258.3,62.9 282.5,64.5" fill="none" stroke="#ec2f68" stroke-width="1.4"/>
<polyline points="233.6,70.0 246.6,64.0 258.3,67.7 282.5,60.0" fill="none" stroke="#ec2f68" stroke-width="1.4"/>
<polyline points="233.6,66.0 246.6,58.0 258.3,64.0 282.5,77.4" fill="none" stroke="#ec2f68" stroke-width="1.4"/>
<polyline points="233.6,72.0 246.6,62.0 258.3,73.2 294.6,55.6" fill="none" stroke="#ec2f68" stroke-width="1.4"/>
<polyline points="233.6,63.0 246.6,50.0 258.3,30.5" fill="none" stroke="#ec2f68" stroke-width="1.4"/>
<polyline points="233.6,78.0 246.6,70.0 258.3,56.0 282.5,65.0" fill="none" stroke="#ec2f68" stroke-width="1.4"/>
<polyline points="233.6,74.0 246.6,56.0 258.3,36.0 282.5,58.5" fill="none" stroke="#ec2f68" stroke-width="1.4"/>
<path d="M233.6,73.2 L231.1,77.6 L236.1,77.6Z" fill="#ec2f68"/>
<path d="M246.6,64.9 L244.1,69.3 L249.1,69.3Z" fill="#ec2f68"/>
<path d="M258.3,43.4 L255.8,47.8 L260.8,47.8Z" fill="#ec2f68"/>
<path d="M282.5,43.4 L280.0,47.8 L285.0,47.8Z" fill="#ec2f68"/>
<path d="M233.6,64.9 L231.1,69.3 L236.1,69.3Z" fill="#ec2f68"/>
<path d="M246.6,58.0 L244.1,62.4 L249.1,62.4Z" fill="#ec2f68"/>
<path d="M258.3,55.2 L255.8,59.6 L260.8,59.6Z" fill="#ec2f68"/>
<path d="M282.5,54.7 L280.0,59.1 L285.0,59.1Z" fill="#ec2f68"/>
<path d="M233.6,56.6 L231.1,61.0 L236.1,61.0Z" fill="#ec2f68"/>
<path d="M246.6,52.2 L244.1,56.6 L249.1,56.6Z" fill="#ec2f68"/>
<path d="M258.3,60.1 L255.8,64.5 L260.8,64.5Z" fill="#ec2f68"/>
<path d="M282.5,61.7 L280.0,66.1 L285.0,66.1Z" fill="#ec2f68"/>
<path d="M233.6,67.2 L231.1,71.6 L236.1,71.6Z" fill="#ec2f68"/>
<path d="M246.6,61.2 L244.1,65.6 L249.1,65.6Z" fill="#ec2f68"/>
<path d="M258.3,64.9 L255.8,69.3 L260.8,69.3Z" fill="#ec2f68"/>
<path d="M282.5,57.2 L280.0,61.6 L285.0,61.6Z" fill="#ec2f68"/>
<path d="M233.6,63.2 L231.1,67.6 L236.1,67.6Z" fill="#ec2f68"/>
<path d="M246.6,55.2 L244.1,59.6 L249.1,59.6Z" fill="#ec2f68"/>
<path d="M258.3,61.2 L255.8,65.6 L260.8,65.6Z" fill="#ec2f68"/>
<path d="M282.5,74.6 L280.0,79.0 L285.0,79.0Z" fill="#ec2f68"/>
<path d="M233.6,69.2 L231.1,73.6 L236.1,73.6Z" fill="#ec2f68"/>
<path d="M246.6,59.2 L244.1,63.6 L249.1,63.6Z" fill="#ec2f68"/>
<path d="M258.3,70.4 L255.8,74.8 L260.8,74.8Z" fill="#ec2f68"/>
<path d="M294.6,52.8 L292.1,57.2 L297.1,57.2Z" fill="#ec2f68"/>
<path d="M233.6,60.2 L231.1,64.6 L236.1,64.6Z" fill="#ec2f68"/>
<path d="M246.6,47.2 L244.1,51.6 L249.1,51.6Z" fill="#ec2f68"/>
<path d="M258.3,27.7 L255.8,32.1 L260.8,32.1Z" fill="#ec2f68"/>
<path d="M233.6,75.2 L231.1,79.6 L236.1,79.6Z" fill="#ec2f68"/>
<path d="M246.6,67.2 L244.1,71.6 L249.1,71.6Z" fill="#ec2f68"/>
<path d="M258.3,53.2 L255.8,57.6 L260.8,57.6Z" fill="#ec2f68"/>
<path d="M282.5,62.2 L280.0,66.6 L285.0,66.6Z" fill="#ec2f68"/>
<path d="M233.6,71.2 L231.1,75.6 L236.1,75.6Z" fill="#ec2f68"/>
<path d="M246.6,53.2 L244.1,57.6 L249.1,57.6Z" fill="#ec2f68"/>
<path d="M258.3,33.2 L255.8,37.6 L260.8,37.6Z" fill="#ec2f68"/>
<path d="M282.5,55.7 L280.0,60.1 L285.0,60.1Z" fill="#ec2f68"/>
<rect x="280.5" y="60.0" width="4" height="4" fill="#ec2f68"/>
<rect x="280.5" y="63.5" width="4" height="4" fill="#ec2f68"/>
<rect x="256.3" y="62.0" width="4" height="4" fill="#ec2f68"/>
<polyline points="233.6,64.9 246.6,50.0 258.3,33.7 266.2,23.2" fill="none" stroke="#14143a" stroke-width="1.4"/>
<polyline points="233.6,69.8 246.6,60.8 258.3,38.9 266.7,32.1" fill="none" stroke="#14143a" stroke-width="1.4"/>
<polyline points="233.6,79.5 246.6,71.6 258.3,51.8 270.9,33.7" fill="none" stroke="#14143a" stroke-width="1.4"/>
<polyline points="233.6,81.5 246.6,66.0 258.3,40.7" fill="none" stroke="#14143a" stroke-width="1.4"/>
<circle cx="233.6" cy="64.9" r="2.4" fill="#1d2f96"/>
<circle cx="258.3" cy="33.7" r="2.4" fill="#1d2f96"/>
<circle cx="266.2" cy="23.2" r="2.4" fill="#1d2f96"/>
<circle cx="233.6" cy="69.8" r="2.4" fill="#1d2f96"/>
<circle cx="246.6" cy="60.8" r="2.4" fill="#1d2f96"/>
<circle cx="258.3" cy="38.9" r="2.4" fill="#1d2f96"/>
<circle cx="266.7" cy="32.1" r="2.4" fill="#1d2f96"/>
<circle cx="233.6" cy="79.5" r="2.4" fill="#1d2f96"/>
<circle cx="246.6" cy="71.6" r="2.4" fill="#1d2f96"/>
<circle cx="258.3" cy="51.8" r="2.4" fill="#1d2f96"/>
<circle cx="270.9" cy="33.7" r="2.4" fill="#1d2f96"/>
<circle cx="233.6" cy="81.5" r="2.4" fill="#1d2f96"/>
<circle cx="258.3" cy="40.7" r="2.4" fill="#1d2f96"/>
<text x="306.4" y="13.5" font-size="11.0" font-weight="bold" text-anchor="start" fill="#111" stroke="#111" stroke-width="0.3">E</text>
<line x1="331.2" y1="27.10000000000001" x2="331.2" y2="84.7" stroke="#111" stroke-width="1.2"/>
<line x1="330.7" y1="84.2" x2="400.8" y2="84.2" stroke="#111" stroke-width="1.2"/>
<line x1="327.8" y1="84.2" x2="331.2" y2="84.2" stroke="#111" stroke-width="1.1"/>
<text x="326.4" y="86.3" font-size="6.0" font-weight="bold" text-anchor="end" fill="#111"  stroke="#111" stroke-width="0.18">0</text>
<line x1="327.8" y1="72.88000000000001" x2="331.2" y2="72.88000000000001" stroke="#111" stroke-width="1.1"/>
<text x="326.4" y="74.98" font-size="6.0" font-weight="bold" text-anchor="end" fill="#111" textLength="6.0" lengthAdjust="spacingAndGlyphs"  stroke="#111" stroke-width="0.18">20</text>
<line x1="327.8" y1="61.56" x2="331.2" y2="61.56" stroke="#111" stroke-width="1.1"/>
<text x="326.4" y="63.660000000000004" font-size="6.0" font-weight="bold" text-anchor="end" fill="#111" textLength="6.0" lengthAdjust="spacingAndGlyphs"  stroke="#111" stroke-width="0.18">40</text>
<line x1="327.8" y1="50.24000000000001" x2="331.2" y2="50.24000000000001" stroke="#111" stroke-width="1.1"/>
<text x="326.4" y="52.34000000000001" font-size="6.0" font-weight="bold" text-anchor="end" fill="#111" textLength="6.0" lengthAdjust="spacingAndGlyphs"  stroke="#111" stroke-width="0.18">60</text>
<line x1="327.8" y1="38.92000000000001" x2="331.2" y2="38.92000000000001" stroke="#111" stroke-width="1.1"/>
<text x="326.4" y="41.02000000000001" font-size="6.0" font-weight="bold" text-anchor="end" fill="#111" textLength="6.0" lengthAdjust="spacingAndGlyphs"  stroke="#111" stroke-width="0.18">80</text>
<line x1="327.8" y1="27.60000000000001" x2="331.2" y2="27.60000000000001" stroke="#111" stroke-width="1.1"/>
<text x="326.4" y="29.70000000000001" font-size="6.0" font-weight="bold" text-anchor="end" fill="#111" textLength="9.4" lengthAdjust="spacingAndGlyphs"  stroke="#111" stroke-width="0.18">100</text>
<line x1="330.9" y1="84.2" x2="330.9" y2="87.0" stroke="#111" stroke-width="1.1"/>
<line x1="337.83" y1="84.2" x2="337.83" y2="87.0" stroke="#111" stroke-width="1.1"/>
<line x1="344.76" y1="84.2" x2="344.76" y2="87.0" stroke="#111" stroke-width="1.1"/>
<line x1="351.69" y1="84.2" x2="351.69" y2="87.0" stroke="#111" stroke-width="1.1"/>
<line x1="358.62" y1="84.2" x2="358.62" y2="87.0" stroke="#111" stroke-width="1.1"/>
<line x1="365.54999999999995" y1="84.2" x2="365.54999999999995" y2="87.0" stroke="#111" stroke-width="1.1"/>
<line x1="372.47999999999996" y1="84.2" x2="372.47999999999996" y2="87.0" stroke="#111" stroke-width="1.1"/>
<line x1="379.40999999999997" y1="84.2" x2="379.40999999999997" y2="87.0" stroke="#111" stroke-width="1.1"/>
<line x1="386.34" y1="84.2" x2="386.34" y2="87.0" stroke="#111" stroke-width="1.1"/>
<line x1="393.27" y1="84.2" x2="393.27" y2="87.0" stroke="#111" stroke-width="1.1"/>
<line x1="400.2" y1="84.2" x2="400.2" y2="87.0" stroke="#111" stroke-width="1.1"/>
<text x="330.9" y="93.8" font-size="6.0" font-weight="bold" text-anchor="middle" fill="#111"  stroke="#111" stroke-width="0.18">0</text>
<text x="344.76" y="93.8" font-size="6.0" font-weight="bold" text-anchor="middle" fill="#111"  stroke="#111" stroke-width="0.18">14</text>
<text x="358.62" y="93.8" font-size="6.0" font-weight="bold" text-anchor="middle" fill="#111"  stroke="#111" stroke-width="0.18">28</text>
<text x="372.47999999999996" y="93.8" font-size="6.0" font-weight="bold" text-anchor="middle" fill="#111"  stroke="#111" stroke-width="0.18">42</text>
<text x="386.34" y="93.8" font-size="6.0" font-weight="bold" text-anchor="middle" fill="#111"  stroke="#111" stroke-width="0.18">56</text>
<text x="400.2" y="93.8" font-size="6.0" font-weight="bold" text-anchor="middle" fill="#111"  stroke="#111" stroke-width="0.18">70</text>
<text x="365.0" y="104.2" font-size="7.4" font-weight="bold" text-anchor="middle" fill="#111" textLength="56.6" lengthAdjust="spacingAndGlyphs"  stroke="#111" stroke-width="0.18">Days after BMT</text>
<text transform="translate(313.9,52.5) rotate(-90)" font-size="6.6" font-weight="bold" text-anchor="middle" fill="#111" stroke="#111" stroke-width="0.18" textLength="72" lengthAdjust="spacingAndGlyphs">Leukemic mortality (%)</text>
<path d="M331.5,82.6 L400.5,82.6" fill="none" stroke="#2a9a3a" stroke-width="2.0"/>
<path d="M331.5,79.8 L352.6,79.8 L352.6,75.7 L354.6,75.7 L354.6,67.6 L400.5,67.6" fill="none" stroke="#ec2f68" stroke-width="1.9"/>
<path d="M331.5,78.7 L352.2,78.7 L352.2,55.4 L354.6,55.4 L354.6,48.3 L355.5,48.3 L355.5,42.3 L356.2,42.3 L356.2,27.6" fill="none" stroke="#1f2f8a" stroke-width="1.9"/>
<line x1="367" y1="24.9" x2="378.7" y2="24.9" stroke="#1d4670" stroke-width="1.8"/>
<text x="381.4" y="27.099999999999998" font-size="6.6" font-weight="bold" text-anchor="start" fill="#111" textLength="20" lengthAdjust="spacingAndGlyphs"  stroke="#111" stroke-width="0.18">no DLI</text>
<line x1="367" y1="31.9" x2="378.7" y2="31.9" stroke="#d2334f" stroke-width="1.8"/>
<text x="381.4" y="34.1" font-size="6.6" font-weight="bold" text-anchor="start" fill="#111" textLength="16.2" lengthAdjust="spacingAndGlyphs"  stroke="#111" stroke-width="0.18">+ DLI</text>
<line x1="367" y1="38.6" x2="378.7" y2="38.6" stroke="#2a9a3a" stroke-width="1.8"/>
<text x="381.4" y="40.800000000000004" font-size="6.6" font-weight="bold" text-anchor="start" fill="#111" textLength="19" lengthAdjust="spacingAndGlyphs"  stroke="#111" stroke-width="0.18">splen.</text>
<text x="380.3" y="48.3" font-size="6.6" font-weight="bold" text-anchor="start" fill="#111" textLength="21" lengthAdjust="spacingAndGlyphs"  stroke="#111" stroke-width="0.18">@BMT</text>
<text x="411.2" y="13.5" font-size="11.0" font-weight="bold" text-anchor="start" fill="#111" stroke="#111" stroke-width="0.3">F</text>
<line x1="433.6" y1="26.10000000000001" x2="433.6" y2="84.4" stroke="#111" stroke-width="1.2"/>
<line x1="433.1" y1="83.9" x2="512.3" y2="83.9" stroke="#111" stroke-width="1.2"/>
<line x1="430.40000000000003" y1="83.9" x2="433.6" y2="83.9" stroke="#111" stroke-width="1.1"/>
<text x="429.4" y="86.0" font-size="6.0" font-weight="bold" text-anchor="end" fill="#111"  stroke="#111" stroke-width="0.18">0</text>
<line x1="430.40000000000003" y1="72.44000000000001" x2="433.6" y2="72.44000000000001" stroke="#111" stroke-width="1.1"/>
<text x="429.4" y="74.54" font-size="6.0" font-weight="bold" text-anchor="end" fill="#111" textLength="6.0" lengthAdjust="spacingAndGlyphs"  stroke="#111" stroke-width="0.18">20</text>
<line x1="430.40000000000003" y1="60.980000000000004" x2="433.6" y2="60.980000000000004" stroke="#111" stroke-width="1.1"/>
<text x="429.4" y="63.080000000000005" font-size="6.0" font-weight="bold" text-anchor="end" fill="#111" textLength="6.0" lengthAdjust="spacingAndGlyphs"  stroke="#111" stroke-width="0.18">40</text>
<line x1="430.40000000000003" y1="49.52000000000001" x2="433.6" y2="49.52000000000001" stroke="#111" stroke-width="1.1"/>
<text x="429.4" y="51.62000000000001" font-size="6.0" font-weight="bold" text-anchor="end" fill="#111" textLength="6.0" lengthAdjust="spacingAndGlyphs"  stroke="#111" stroke-width="0.18">60</text>
<line x1="430.40000000000003" y1="38.06000000000001" x2="433.6" y2="38.06000000000001" stroke="#111" stroke-width="1.1"/>
<text x="429.4" y="40.16000000000001" font-size="6.0" font-weight="bold" text-anchor="end" fill="#111" textLength="6.0" lengthAdjust="spacingAndGlyphs"  stroke="#111" stroke-width="0.18">80</text>
<line x1="430.40000000000003" y1="26.60000000000001" x2="433.6" y2="26.60000000000001" stroke="#111" stroke-width="1.1"/>
<text x="429.4" y="28.70000000000001" font-size="6.0" font-weight="bold" text-anchor="end" fill="#111" textLength="9.4" lengthAdjust="spacingAndGlyphs"  stroke="#111" stroke-width="0.18">100</text>
<line x1="434.0" y1="83.9" x2="434.0" y2="86.7" stroke="#111" stroke-width="1.1"/>
<line x1="440.251" y1="83.9" x2="440.251" y2="86.7" stroke="#111" stroke-width="1.1"/>
<line x1="446.502" y1="83.9" x2="446.502" y2="86.7" stroke="#111" stroke-width="1.1"/>
<line x1="452.753" y1="83.9" x2="452.753" y2="86.7" stroke="#111" stroke-width="1.1"/>
<line x1="459.004" y1="83.9" x2="459.004" y2="86.7" stroke="#111" stroke-width="1.1"/>
<line x1="465.255" y1="83.9" x2="465.255" y2="86.7" stroke="#111" stroke-width="1.1"/>
<line x1="471.506" y1="83.9" x2="471.506" y2="86.7" stroke="#111" stroke-width="1.1"/>
<line x1="477.757" y1="83.9" x2="477.757" y2="86.7" stroke="#111" stroke-width="1.1"/>
<line x1="484.008" y1="83.9" x2="484.008" y2="86.7" stroke="#111" stroke-width="1.1"/>
<line x1="490.259" y1="83.9" x2="490.259" y2="86.7" stroke="#111" stroke-width="1.1"/>
<line x1="496.51" y1="83.9" x2="496.51" y2="86.7" stroke="#111" stroke-width="1.1"/>
<line x1="502.76099999999997" y1="83.9" x2="502.76099999999997" y2="86.7" stroke="#111" stroke-width="1.1"/>
<line x1="509.012" y1="83.9" x2="509.012" y2="86.7" stroke="#111" stroke-width="1.1"/>
<text x="434.0" y="93.4" font-size="6.0" font-weight="bold" text-anchor="middle" fill="#111"  stroke="#111" stroke-width="0.18">0</text>
<text x="446.502" y="93.4" font-size="6.0" font-weight="bold" text-anchor="middle" fill="#111"  stroke="#111" stroke-width="0.18">14</text>
<text x="459.004" y="93.4" font-size="6.0" font-weight="bold" text-anchor="middle" fill="#111"  stroke="#111" stroke-width="0.18">28</text>
<text x="471.506" y="93.4" font-size="6.0" font-weight="bold" text-anchor="middle" fill="#111"  stroke="#111" stroke-width="0.18">42</text>
<text x="484.008" y="93.4" font-size="6.0" font-weight="bold" text-anchor="middle" fill="#111"  stroke="#111" stroke-width="0.18">56</text>
<text x="496.51" y="93.4" font-size="6.0" font-weight="bold" text-anchor="middle" fill="#111"  stroke="#111" stroke-width="0.18">70</text>
<text x="509.012" y="93.4" font-size="6.0" font-weight="bold" text-anchor="middle" fill="#111"  stroke="#111" stroke-width="0.18">84</text>
<text x="473.6" y="104.2" font-size="7.4" font-weight="bold" text-anchor="middle" fill="#111" textLength="55.5" lengthAdjust="spacingAndGlyphs"  stroke="#111" stroke-width="0.18">Days after BMT</text>
<text transform="translate(416.8,51.5) rotate(-90)" font-size="6.6" font-weight="bold" text-anchor="middle" fill="#111" stroke="#111" stroke-width="0.18" textLength="57" lengthAdjust="spacingAndGlyphs">Overall survival (%)</text>
<path d="M434.0,28.9 L442.9,28.9 L442.9,35.2 L456.3,35.2 L456.3,43.2 L467.0,43.2 L467.0,51.2 L473.3,51.2 L473.3,60.4 L479.5,60.4 L479.5,68.4 L483.1,68.4 L483.1,76.5 L510.8,76.5 L510.8,83.9" fill="none" stroke="#2a9a3a" stroke-width="2.0"/>
<path d="M434.0,27.2 L455.0,27.2 L455.0,33.5 L457.2,33.5 L457.2,50.7 L463.5,50.7 L463.5,66.1 L467.0,66.1 L467.0,75.3 L469.7,75.3 L469.7,83.9" fill="none" stroke="#ec2f68" stroke-width="2.0"/>
<path d="M434.0,26.0 L454.1,26.0 L454.1,54.1 L456.8,54.1 L456.8,65.6 L458.1,65.6 L458.1,83.9" fill="none" stroke="#1f2f8a" stroke-width="2.0"/>
<text x="205.7" y="120.4" font-size="11.0" font-weight="bold" text-anchor="start" fill="#111" stroke="#111" stroke-width="0.3">G</text>
<clipPath id="gclip"><rect x="258.2" y="153.8" width="234.8" height="70.19999999999999"/></clipPath>
<g clip-path="url(#gclip)">
<rect x="258.2" y="153.8" width="234.8" height="70.19999999999999" fill="#c4c4c4" />
<rect x="258.2" y="153.8" width="234.8" height="70.19999999999999" filter="url(#streak)"/>
<g filter="url(#bl15)">
<rect x="259.7" y="149.8" width="5.2" height="78.19999999999999" fill="#000" opacity="0.05"/>
<rect x="276.6" y="149.8" width="5.2" height="78.19999999999999" fill="#000" opacity="0.12"/>
<rect x="285.0" y="149.8" width="5.2" height="78.19999999999999" fill="#000" opacity="0.20"/>
<rect x="293.4" y="149.8" width="5.2" height="78.19999999999999" fill="#000" opacity="0.40"/>
<rect x="301.8" y="149.8" width="5.2" height="78.19999999999999" fill="#000" opacity="0.42"/>
<rect x="310.3" y="149.8" width="5.2" height="78.19999999999999" fill="#000" opacity="0.12"/>
<rect x="318.7" y="149.8" width="5.2" height="78.19999999999999" fill="#000" opacity="0.18"/>
<rect x="327.1" y="149.8" width="5.2" height="78.19999999999999" fill="#000" opacity="0.15"/>
<rect x="335.6" y="149.8" width="5.2" height="78.19999999999999" fill="#000" opacity="0.45"/>
<rect x="344.0" y="149.8" width="5.2" height="78.19999999999999" fill="#000" opacity="0.08"/>
<rect x="352.4" y="149.8" width="5.2" height="78.19999999999999" fill="#000" opacity="0.12"/>
<rect x="360.9" y="149.8" width="5.2" height="78.19999999999999" fill="#000" opacity="0.15"/>
<rect x="369.3" y="149.8" width="5.2" height="78.19999999999999" fill="#000" opacity="0.18"/>
<rect x="377.7" y="149.8" width="5.2" height="78.19999999999999" fill="#000" opacity="0.10"/>
<rect x="386.1" y="149.8" width="5.2" height="78.19999999999999" fill="#000" opacity="0.10"/>
<rect x="394.6" y="149.8" width="5.2" height="78.19999999999999" fill="#000" opacity="0.08"/>
<rect x="403.0" y="149.8" width="5.2" height="78.19999999999999" fill="#000" opacity="0.10"/>
<rect x="411.4" y="149.8" width="5.2" height="78.19999999999999" fill="#000" opacity="0.12"/>
<rect x="419.9" y="149.8" width="5.2" height="78.19999999999999" fill="#000" opacity="0.08"/>
<rect x="428.3" y="149.8" width="5.2" height="78.19999999999999" fill="#000" opacity="0.10"/>
<rect x="436.7" y="149.8" width="5.2" height="78.19999999999999" fill="#000" opacity="0.15"/>
<rect x="445.2" y="149.8" width="5.2" height="78.19999999999999" fill="#000" opacity="0.12"/>
<rect x="453.6" y="149.8" width="5.2" height="78.19999999999999" fill="#000" opacity="0.08"/>
<rect x="462.0" y="149.8" width="5.2" height="78.19999999999999" fill="#000" opacity="0.25"/>
<rect x="470.4" y="149.8" width="5.2" height="78.19999999999999" fill="#000" opacity="0.22"/>
<rect x="478.9" y="149.8" width="5.2" height="78.19999999999999" fill="#000" opacity="0.10"/>
<rect x="487.3" y="149.8" width="5.2" height="78.19999999999999" fill="#000" opacity="0.12"/>
<rect x="336.2" y="149.8" width="4" height="40" fill="#000" opacity="0.25"/>
<rect x="461.6" y="149.8" width="14" height="30" fill="#000" opacity="0.15"/>
</g>
<g filter="url(#bl15)">
<ellipse cx="262.3" cy="182.3" rx="3.8" ry="1.6" fill="#111" opacity="0.95"/>
<ellipse cx="270.7" cy="159.4" rx="3.8" ry="1.6" fill="#111" opacity="0.90"/>
<ellipse cx="279.2" cy="186" rx="3.8" ry="1.6" fill="#111" opacity="0.95"/>
<ellipse cx="279.2" cy="196" rx="3.8" ry="1.6" fill="#111" opacity="0.70"/>
<ellipse cx="279.2" cy="205.8" rx="3.8" ry="1.6" fill="#111" opacity="0.50"/>
<ellipse cx="279.2" cy="168.6" rx="3.8" ry="1.6" fill="#111" opacity="0.25"/>
<ellipse cx="296.0" cy="180" rx="3.8" ry="1.6" fill="#111" opacity="0.15"/>
<ellipse cx="304.4" cy="180" rx="3.8" ry="1.6" fill="#111" opacity="0.18"/>
<ellipse cx="346.6" cy="176.8" rx="3.8" ry="1.6" fill="#111" opacity="0.50"/>
<ellipse cx="346.6" cy="193.4" rx="3.8" ry="1.6" fill="#111" opacity="0.65"/>
<ellipse cx="355.0" cy="181.8" rx="3.8" ry="1.6" fill="#111" opacity="0.85"/>
<ellipse cx="363.5" cy="181.8" rx="4.6" ry="1.9" fill="#111" opacity="1.00"/>
<ellipse cx="371.9" cy="160" rx="3.8" ry="1.6" fill="#111" opacity="0.55"/>
<ellipse cx="371.9" cy="167.4" rx="3.8" ry="1.6" fill="#111" opacity="0.60"/>
<ellipse cx="371.9" cy="194.7" rx="3.8" ry="1.6" fill="#111" opacity="0.60"/>
<ellipse cx="380.3" cy="167" rx="3.8" ry="1.6" fill="#111" opacity="0.45"/>
<ellipse cx="380.3" cy="194" rx="3.8" ry="1.6" fill="#111" opacity="0.45"/>
<ellipse cx="388.8" cy="167.9" rx="3.8" ry="1.6" fill="#111" opacity="0.85"/>
<ellipse cx="439.3" cy="172.3" rx="3.8" ry="1.6" fill="#111" opacity="0.30"/>
<ellipse cx="439.3" cy="181" rx="3.8" ry="1.6" fill="#111" opacity="0.35"/>
<ellipse cx="439.3" cy="186.7" rx="3.8" ry="1.6" fill="#111" opacity="1.00"/>
<ellipse cx="439.3" cy="203.3" rx="3.8" ry="1.6" fill="#111" opacity="1.00"/>
<ellipse cx="447.8" cy="186.7" rx="3.8" ry="1.6" fill="#111" opacity="0.75"/>
<ellipse cx="447.8" cy="203.3" rx="3.8" ry="1.6" fill="#111" opacity="0.70"/>
<ellipse cx="464.6" cy="162.4" rx="4.2" ry="1.8" fill="#111" opacity="0.90"/>
<ellipse cx="464.6" cy="167" rx="3.8" ry="1.6" fill="#111" opacity="0.55"/>
<ellipse cx="473.1" cy="162" rx="3.8" ry="1.6" fill="#111" opacity="0.40"/>
<ellipse cx="405.6" cy="200" rx="3.8" ry="1.6" fill="#111" opacity="0.20"/>
</g>
<rect x="411.2" y="149.8" width="3.4" height="80" fill="#000" opacity="0.38" filter="url(#bl1)"/>
<ellipse cx="258.6" cy="219.5" rx="1.8" ry="4" fill="#000" opacity="0.85" filter="url(#bl1)"/>
<rect x="258.2" y="153.8" width="234.8" height="70.19999999999999" filter="url(#grain)"/>
</g>
<text x="250.6" y="158.4" font-size="6.8" font-weight="bold" text-anchor="end" fill="#111" textLength="7.6" lengthAdjust="spacingAndGlyphs"  stroke="#111" stroke-width="0.18">10</text>
<line x1="251.6" y1="156.0" x2="255.8" y2="156.0" stroke="#111" stroke-width="1.0"/>
<text x="250.6" y="165.6" font-size="6.8" font-weight="bold" text-anchor="end" fill="#111"  stroke="#111" stroke-width="0.18">8</text>
<line x1="251.6" y1="163.2" x2="255.8" y2="163.2" stroke="#111" stroke-width="1.0"/>
<text x="250.6" y="176.3" font-size="6.8" font-weight="bold" text-anchor="end" fill="#111"  stroke="#111" stroke-width="0.18">6</text>
<line x1="251.6" y1="173.9" x2="255.8" y2="173.9" stroke="#111" stroke-width="1.0"/>
<text x="250.6" y="185.3" font-size="6.8" font-weight="bold" text-anchor="end" fill="#111"  stroke="#111" stroke-width="0.18">5</text>
<line x1="251.6" y1="182.9" x2="255.8" y2="182.9" stroke="#111" stroke-width="1.0"/>
<text x="250.6" y="202.6" font-size="6.8" font-weight="bold" text-anchor="end" fill="#111"  stroke="#111" stroke-width="0.18">4</text>
<line x1="251.6" y1="200.2" x2="255.8" y2="200.2" stroke="#111" stroke-width="1.0"/>
<text x="250.6" y="220.4" font-size="6.8" font-weight="bold" text-anchor="end" fill="#111"  stroke="#111" stroke-width="0.18">3</text>
<line x1="251.6" y1="218.0" x2="255.8" y2="218.0" stroke="#111" stroke-width="1.0"/>
<text transform="translate(263.2,231.4) rotate(-90)" font-size="6.0" font-weight="bold" text-anchor="middle" fill="#111" stroke="#111" stroke-width="0.15">1</text>
<text transform="translate(271.6,231.4) rotate(-90)" font-size="6.0" font-weight="bold" text-anchor="middle" fill="#111" stroke="#111" stroke-width="0.15">2</text>
<text transform="translate(280.1,231.4) rotate(-90)" font-size="6.0" font-weight="bold" text-anchor="middle" fill="#111" stroke="#111" stroke-width="0.15">3</text>
<text transform="translate(288.5,231.4) rotate(-90)" font-size="6.0" font-weight="bold" text-anchor="middle" fill="#111" stroke="#111" stroke-width="0.15">4</text>
<text transform="translate(296.9,231.4) rotate(-90)" font-size="6.0" font-weight="bold" text-anchor="middle" fill="#111" stroke="#111" stroke-width="0.15">5</text>
<text transform="translate(305.3,231.4) rotate(-90)" font-size="6.0" font-weight="bold" text-anchor="middle" fill="#111" stroke="#111" stroke-width="0.15">6</text>
<text transform="translate(313.8,231.4) rotate(-90)" font-size="6.0" font-weight="bold" text-anchor="middle" fill="#111" stroke="#111" stroke-width="0.15">7</text>
<text transform="translate(322.2,231.4) rotate(-90)" font-size="6.0" font-weight="bold" text-anchor="middle" fill="#111" stroke="#111" stroke-width="0.15">8</text>
<text transform="translate(330.6,231.4) rotate(-90)" font-size="6.0" font-weight="bold" text-anchor="middle" fill="#111" stroke="#111" stroke-width="0.15">9</text>
<text transform="translate(339.1,231.4) rotate(-90)" font-size="6.0" font-weight="bold" text-anchor="middle" fill="#111" stroke="#111" stroke-width="0.15">10</text>
<text transform="translate(347.5,231.4) rotate(-90)" font-size="6.0" font-weight="bold" text-anchor="middle" fill="#111" stroke="#111" stroke-width="0.15">11</text>
<text transform="translate(355.9,231.4) rotate(-90)" font-size="6.0" font-weight="bold" text-anchor="middle" fill="#111" stroke="#111" stroke-width="0.15">12</text>
<text transform="translate(364.4,231.4) rotate(-90)" font-size="6.0" font-weight="bold" text-anchor="middle" fill="#111" stroke="#111" stroke-width="0.15">13</text>
<text transform="translate(372.8,231.4) rotate(-90)" font-size="6.0" font-weight="bold" text-anchor="middle" fill="#111" stroke="#111" stroke-width="0.15">14</text>
<text transform="translate(381.2,231.4) rotate(-90)" font-size="6.0" font-weight="bold" text-anchor="middle" fill="#111" stroke="#111" stroke-width="0.15">15</text>
<text transform="translate(389.6,231.4) rotate(-90)" font-size="6.0" font-weight="bold" text-anchor="middle" fill="#111" stroke="#111" stroke-width="0.15">16</text>
<text transform="translate(398.1,231.4) rotate(-90)" font-size="6.0" font-weight="bold" text-anchor="middle" fill="#111" stroke="#111" stroke-width="0.15">17</text>
<text transform="translate(406.5,231.4) rotate(-90)" font-size="6.0" font-weight="bold" text-anchor="middle" fill="#111" stroke="#111" stroke-width="0.15">18</text>
<text transform="translate(414.9,231.4) rotate(-90)" font-size="6.0" font-weight="bold" text-anchor="middle" fill="#111" stroke="#111" stroke-width="0.15">19</text>
<text transform="translate(423.4,231.4) rotate(-90)" font-size="6.0" font-weight="bold" text-anchor="middle" fill="#111" stroke="#111" stroke-width="0.15">20</text>
<text transform="translate(431.8,231.4) rotate(-90)" font-size="6.0" font-weight="bold" text-anchor="middle" fill="#111" stroke="#111" stroke-width="0.15">21</text>
<text transform="translate(440.2,231.4) rotate(-90)" font-size="6.0" font-weight="bold" text-anchor="middle" fill="#111" stroke="#111" stroke-width="0.15">22</text>
<text transform="translate(448.7,231.4) rotate(-90)" font-size="6.0" font-weight="bold" text-anchor="middle" fill="#111" stroke="#111" stroke-width="0.15">23</text>
<text transform="translate(457.1,231.4) rotate(-90)" font-size="6.0" font-weight="bold" text-anchor="middle" fill="#111" stroke="#111" stroke-width="0.15">24</text>
<text transform="translate(465.5,231.4) rotate(-90)" font-size="6.0" font-weight="bold" text-anchor="middle" fill="#111" stroke="#111" stroke-width="0.15">25</text>
<text transform="translate(473.9,231.4) rotate(-90)" font-size="6.0" font-weight="bold" text-anchor="middle" fill="#111" stroke="#111" stroke-width="0.15">26</text>
<text transform="translate(482.4,231.4) rotate(-90)" font-size="6.0" font-weight="bold" text-anchor="middle" fill="#111" stroke="#111" stroke-width="0.15">27</text>
<text transform="translate(490.8,231.4) rotate(-90)" font-size="6.0" font-weight="bold" text-anchor="middle" fill="#111" stroke="#111" stroke-width="0.15">28</text>
<clipPath id="cclip"><rect x="258.2" y="236.0" width="234.8" height="30.0"/></clipPath>
<g clip-path="url(#cclip)">
<rect x="258.2" y="236.0" width="234.8" height="30.0" fill="url(#cadgrad)"/>
<rect x="258.2" y="236.0" width="234.8" height="30.0" filter="url(#streak2)"/>
<g filter="url(#bl15)">
<ellipse cx="260" cy="240" rx="4" ry="6" fill="#000" opacity="0.55"/>
<ellipse cx="262.3" cy="245.3" rx="4.3" ry="1.9" fill="#111" opacity="1.00"/>
<ellipse cx="270.7" cy="245.3" rx="3.4" ry="1.5" fill="#111" opacity="0.60"/>
<ellipse cx="279.2" cy="245.3" rx="4.7" ry="2.1" fill="#111" opacity="0.95"/>
<ellipse cx="287.6" cy="245.3" rx="4.3" ry="1.9" fill="#111" opacity="0.70"/>
<ellipse cx="312.9" cy="245.3" rx="4.3" ry="1.9" fill="#111" opacity="0.30"/>
<ellipse cx="321.3" cy="245.3" rx="4.3" ry="1.9" fill="#111" opacity="0.75"/>
<ellipse cx="329.7" cy="245.3" rx="4.3" ry="1.9" fill="#111" opacity="0.85"/>
<ellipse cx="338.2" cy="245.3" rx="4.3" ry="1.9" fill="#111" opacity="0.90"/>
<ellipse cx="346.6" cy="245.3" rx="4.3" ry="1.9" fill="#111" opacity="0.90"/>
<ellipse cx="355.0" cy="245.3" rx="4.3" ry="1.9" fill="#111" opacity="0.70"/>
<ellipse cx="363.5" cy="245.3" rx="5.2" ry="2.3" fill="#111" opacity="1.00"/>
<ellipse cx="371.9" cy="245.3" rx="4.7" ry="2.1" fill="#111" opacity="0.90"/>
<ellipse cx="380.3" cy="245.3" rx="4.3" ry="1.9" fill="#111" opacity="0.90"/>
<ellipse cx="388.8" cy="245.3" rx="4.3" ry="1.9" fill="#111" opacity="0.75"/>
<ellipse cx="405.6" cy="245.3" rx="4.3" ry="1.9" fill="#111" opacity="0.80"/>
<ellipse cx="439.3" cy="245.3" rx="4.3" ry="1.9" fill="#111" opacity="0.90"/>
<ellipse cx="447.8" cy="245.3" rx="4.7" ry="2.1" fill="#111" opacity="0.95"/>
<ellipse cx="456.2" cy="245.3" rx="4.3" ry="1.9" fill="#111" opacity="0.90"/>
<ellipse cx="464.6" cy="245.3" rx="4.3" ry="1.9" fill="#111" opacity="0.95"/>
<ellipse cx="473.1" cy="245.3" rx="5.2" ry="2.3" fill="#111" opacity="1.00"/>
<ellipse cx="296.0" cy="254.8" rx="5.5" ry="2.9" fill="#111" opacity="1.00"/>
<ellipse cx="304.4" cy="254.8" rx="5.3" ry="2.8" fill="#111" opacity="1.00"/>
<ellipse cx="312.9" cy="254.8" rx="4.4" ry="2.3" fill="#111" opacity="0.30"/>
<ellipse cx="321.3" cy="254.8" rx="4.4" ry="2.3" fill="#111" opacity="0.60"/>
<ellipse cx="329.7" cy="254.8" rx="4.8" ry="2.5" fill="#111" opacity="0.95"/>
<ellipse cx="338.2" cy="254.8" rx="4.0" ry="2.1" fill="#111" opacity="0.80"/>
<ellipse cx="380.3" cy="254.8" rx="4.4" ry="2.3" fill="#111" opacity="0.30"/>
<ellipse cx="388.8" cy="254.8" rx="4.4" ry="2.3" fill="#111" opacity="0.30"/>
<ellipse cx="405.6" cy="254.8" rx="4.4" ry="2.3" fill="#111" opacity="0.30"/>
<ellipse cx="414.0" cy="254.8" rx="4.4" ry="2.3" fill="#111" opacity="0.75"/>
<ellipse cx="422.5" cy="254.8" rx="4.4" ry="2.3" fill="#111" opacity="0.70"/>
<ellipse cx="447.8" cy="254.8" rx="4.4" ry="2.3" fill="#111" opacity="0.55"/>
<ellipse cx="487.5" cy="254.2" rx="4.6" ry="3" fill="#111" opacity="0.95"/>
<ellipse cx="338.2" cy="252.2" rx="3.8" ry="1.5" fill="#111" opacity="0.7"/>
<ellipse cx="473.1" cy="243" rx="4.5" ry="6" fill="#000" opacity="0.6"/>
</g></g>
<rect x="258.2" y="266.8" width="234.8" height="11.199999999999989" fill="#c6c6c6" />
<rect x="258.2" y="279.2" width="234.8" height="7.800000000000011" fill="#cbcbcb" />
<rect x="258.2" y="266.8" width="234.8" height="20.19999999999999" filter="url(#grain)"/>
<rect x="258.2" y="278.0" width="234.8" height="1.1999999999999886" fill="#f4f4f4"/>
<g filter="url(#bl1)">
<ellipse cx="262.3" cy="273.6" rx="3.6" ry="1.5" fill="#000" opacity="0.60"/>
<ellipse cx="270.7" cy="273.6" rx="3.6" ry="1.5" fill="#000" opacity="0.65"/>
<ellipse cx="279.2" cy="273.6" rx="4.0" ry="1.7" fill="#000" opacity="0.95"/>
<ellipse cx="346.6" cy="273.6" rx="3.6" ry="1.5" fill="#000" opacity="0.65"/>
<ellipse cx="355.0" cy="273.6" rx="3.6" ry="1.5" fill="#000" opacity="0.75"/>
<ellipse cx="363.5" cy="273.6" rx="4.0" ry="1.7" fill="#000" opacity="0.95"/>
<ellipse cx="371.9" cy="273.6" rx="3.6" ry="1.5" fill="#000" opacity="0.85"/>
<ellipse cx="380.3" cy="273.6" rx="3.6" ry="1.5" fill="#000" opacity="0.90"/>
<ellipse cx="388.8" cy="273.6" rx="3.6" ry="1.5" fill="#000" opacity="0.65"/>
<ellipse cx="422.5" cy="273.6" rx="3.6" ry="1.5" fill="#000" opacity="0.20"/>
<ellipse cx="430.9" cy="273.6" rx="3.6" ry="1.5" fill="#000" opacity="0.45"/>
<ellipse cx="439.3" cy="273.6" rx="4.5" ry="1.9" fill="#000" opacity="1.00"/>
<ellipse cx="447.8" cy="273.6" rx="3.6" ry="1.5" fill="#000" opacity="0.85"/>
<ellipse cx="456.2" cy="273.6" rx="3.6" ry="1.5" fill="#000" opacity="0.50"/>
<ellipse cx="464.6" cy="273.6" rx="3.6" ry="1.5" fill="#000" opacity="0.85"/>
<ellipse cx="473.1" cy="273.6" rx="3.6" ry="1.5" fill="#000" opacity="0.50"/>
<ellipse cx="262.3" cy="281.8" rx="3.3" ry="1.2" fill="#000" opacity="0.10"/>
<ellipse cx="270.7" cy="281.8" rx="3.3" ry="1.2" fill="#000" opacity="0.12"/>
<ellipse cx="279.2" cy="281.8" rx="3.3" ry="1.2" fill="#000" opacity="0.35"/>
<ellipse cx="287.6" cy="281.8" rx="3.3" ry="1.2" fill="#000" opacity="0.40"/>
<ellipse cx="296.0" cy="281.8" rx="3.3" ry="1.2" fill="#000" opacity="0.45"/>
<ellipse cx="304.4" cy="281.8" rx="3.3" ry="1.2" fill="#000" opacity="0.45"/>
<ellipse cx="312.9" cy="281.8" rx="3.3" ry="1.2" fill="#000" opacity="0.35"/>
<ellipse cx="321.3" cy="281.8" rx="3.3" ry="1.2" fill="#000" opacity="0.35"/>
<ellipse cx="329.7" cy="281.8" rx="3.3" ry="1.2" fill="#000" opacity="0.35"/>
<ellipse cx="338.2" cy="281.8" rx="3.3" ry="1.2" fill="#000" opacity="0.45"/>
<ellipse cx="346.6" cy="281.8" rx="3.3" ry="1.2" fill="#000" opacity="0.12"/>
<ellipse cx="355.0" cy="281.8" rx="3.3" ry="1.2" fill="#000" opacity="0.15"/>
<ellipse cx="363.5" cy="281.8" rx="3.3" ry="1.2" fill="#000" opacity="0.35"/>
<ellipse cx="371.9" cy="281.8" rx="3.3" ry="1.2" fill="#000" opacity="0.30"/>
<ellipse cx="380.3" cy="281.8" rx="3.3" ry="1.2" fill="#000" opacity="0.18"/>
<ellipse cx="388.8" cy="281.8" rx="3.3" ry="1.2" fill="#000" opacity="0.18"/>
<ellipse cx="397.2" cy="281.8" rx="3.3" ry="1.2" fill="#000" opacity="0.18"/>
<ellipse cx="405.6" cy="281.8" rx="3.3" ry="1.2" fill="#000" opacity="0.18"/>
<ellipse cx="414.0" cy="281.8" rx="3.3" ry="1.2" fill="#000" opacity="0.60"/>
<ellipse cx="422.5" cy="281.8" rx="3.3" ry="1.2" fill="#000" opacity="0.18"/>
<ellipse cx="430.9" cy="281.8" rx="3.3" ry="1.2" fill="#000" opacity="0.18"/>
<ellipse cx="439.3" cy="281.8" rx="3.3" ry="1.2" fill="#000" opacity="0.25"/>
<ellipse cx="447.8" cy="281.8" rx="3.3" ry="1.2" fill="#000" opacity="0.18"/>
<ellipse cx="456.2" cy="281.8" rx="3.3" ry="1.2" fill="#000" opacity="0.18"/>
<ellipse cx="464.6" cy="281.8" rx="3.3" ry="1.2" fill="#000" opacity="0.25"/>
<ellipse cx="473.1" cy="281.8" rx="3.3" ry="1.2" fill="#000" opacity="0.18"/>
<ellipse cx="481.5" cy="281.8" rx="3.3" ry="1.2" fill="#000" opacity="0.18"/>
<ellipse cx="489.9" cy="281.8" rx="3.3" ry="1.2" fill="#000" opacity="0.18"/>
</g>
<text x="246.2" y="248.8" font-size="6.6" font-weight="bold" text-anchor="end" fill="#111" textLength="19.5" lengthAdjust="spacingAndGlyphs" stroke="#111" stroke-width="0.22">Balb/c</text>
<path d="M248.3,243.4 L256.3,246.4 L248.3,249.4Z" fill="#111"/>
<text x="246.2" y="257.7" font-size="6.6" font-weight="bold" text-anchor="end" fill="#111" textLength="8.2" lengthAdjust="spacingAndGlyphs" stroke="#111" stroke-width="0.22">B6</text>
<path d="M248.3,252.2 L256.3,255.2 L248.3,258.2Z" fill="#111"/>
<text x="247.6" y="275.0" font-size="6.6" font-weight="bold" font-style="italic" text-anchor="end" fill="#111" textLength="29.5" lengthAdjust="spacingAndGlyphs" stroke="#111" stroke-width="0.22">BCR-ABL</text>
<path d="M249.0,269.8 L257.0,272.8 L249.0,275.8Z" fill="#111"/>
<text x="220.0" y="285.6" font-size="6.6" font-weight="bold" fill="#111" textLength="27" lengthAdjust="spacingAndGlyphs" stroke="#111" stroke-width="0.22">mu c-<tspan font-style="italic">abl</tspan></text>
<path d="M249.0,280.3 L257.0,283.3 L249.0,286.3Z" fill="#111"/>
<text x="254.8" y="296.4" font-size="6.6" font-weight="bold" text-anchor="end" fill="#111" textLength="46" lengthAdjust="spacingAndGlyphs" stroke="#111" stroke-width="0.22">proviral copy#:</text>
<text x="495.2" y="205.0" font-size="6.0" font-weight="bold" text-anchor="start" fill="#111" textLength="20" lengthAdjust="spacingAndGlyphs"  stroke="#111" stroke-width="0.18">probe:</text>
<text x="494.6" y="219.2" font-size="6.0" font-weight="bold" font-style="italic" text-anchor="start" fill="#111" textLength="13" lengthAdjust="spacingAndGlyphs"  stroke="#111" stroke-width="0.18">GFP</text>
<text x="493.8" y="250.8" font-size="6.0" font-weight="bold" font-style="italic" text-anchor="start" fill="#111" textLength="18" lengthAdjust="spacingAndGlyphs"  stroke="#111" stroke-width="0.18">cad11</text>
<text x="495.0" y="280.6" font-size="6.0" font-weight="bold" font-style="italic" text-anchor="start" fill="#111" textLength="11.5" lengthAdjust="spacingAndGlyphs"  stroke="#111" stroke-width="0.18">ABL</text>
<text transform="translate(264.3,287.0) rotate(-90)" font-size="6.0" font-weight="bold" text-anchor="end" fill="#111" stroke="#111" stroke-width="0.2" textLength="10.2" lengthAdjust="spacingAndGlyphs">1.0</text>
<text transform="translate(272.7,287.0) rotate(-90)" font-size="6.0" font-weight="bold" text-anchor="end" fill="#111" stroke="#111" stroke-width="0.2" textLength="10.2" lengthAdjust="spacingAndGlyphs">1.0</text>
<text transform="translate(281.2,287.0) rotate(-90)" font-size="6.0" font-weight="bold" text-anchor="end" fill="#111" stroke="#111" stroke-width="0.2" textLength="10.2" lengthAdjust="spacingAndGlyphs">1.2</text>
<text transform="translate(348.6,287.0) rotate(-90)" font-size="6.0" font-weight="bold" text-anchor="end" fill="#111" stroke="#111" stroke-width="0.2" textLength="10.2" lengthAdjust="spacingAndGlyphs">1.0</text>
<text transform="translate(357.0,287.0) rotate(-90)" font-size="6.0" font-weight="bold" text-anchor="end" fill="#111" stroke="#111" stroke-width="0.2" textLength="10.2" lengthAdjust="spacingAndGlyphs">1.8</text>
<text transform="translate(365.5,287.0) rotate(-90)" font-size="6.0" font-weight="bold" text-anchor="end" fill="#111" stroke="#111" stroke-width="0.2" textLength="10.2" lengthAdjust="spacingAndGlyphs">1.2</text>
<text transform="translate(373.9,287.0) rotate(-90)" font-size="6.0" font-weight="bold" text-anchor="end" fill="#111" stroke="#111" stroke-width="0.2" textLength="10.2" lengthAdjust="spacingAndGlyphs">1.2</text>
<text transform="translate(382.3,287.0) rotate(-90)" font-size="6.0" font-weight="bold" text-anchor="end" fill="#111" stroke="#111" stroke-width="0.2" textLength="10.2" lengthAdjust="spacingAndGlyphs">1.2</text>
<text transform="translate(390.8,287.0) rotate(-90)" font-size="6.0" font-weight="bold" text-anchor="end" fill="#111" stroke="#111" stroke-width="0.2" textLength="10.2" lengthAdjust="spacingAndGlyphs">0.9</text>
<text transform="translate(399.2,287.0) rotate(-90)" font-size="6.0" font-weight="bold" text-anchor="end" fill="#111" stroke="#111" stroke-width="0.2" textLength="18.4" lengthAdjust="spacingAndGlyphs">&lt; 0.2</text>
<text transform="translate(407.6,287.0) rotate(-90)" font-size="6.0" font-weight="bold" text-anchor="end" fill="#111" stroke="#111" stroke-width="0.2" textLength="18.4" lengthAdjust="spacingAndGlyphs">&lt; 0.2</text>
<text transform="translate(416.0,287.0) rotate(-90)" font-size="6.0" font-weight="bold" text-anchor="end" fill="#111" stroke="#111" stroke-width="0.2" textLength="18.4" lengthAdjust="spacingAndGlyphs">&lt; 0.2</text>
<text transform="translate(424.5,287.0) rotate(-90)" font-size="6.0" font-weight="bold" text-anchor="end" fill="#111" stroke="#111" stroke-width="0.2" textLength="18.4" lengthAdjust="spacingAndGlyphs">&lt; 0.2</text>
<text transform="translate(432.9,287.0) rotate(-90)" font-size="6.0" font-weight="bold" text-anchor="end" fill="#111" stroke="#111" stroke-width="0.2" textLength="10.2" lengthAdjust="spacingAndGlyphs">0.8</text>
<text transform="translate(441.3,287.0) rotate(-90)" font-size="6.0" font-weight="bold" text-anchor="end" fill="#111" stroke="#111" stroke-width="0.2" textLength="10.2" lengthAdjust="spacingAndGlyphs">2.7</text>
<text transform="translate(449.8,287.0) rotate(-90)" font-size="6.0" font-weight="bold" text-anchor="end" fill="#111" stroke="#111" stroke-width="0.2" textLength="10.2" lengthAdjust="spacingAndGlyphs">3.2</text>
<text transform="translate(458.2,287.0) rotate(-90)" font-size="6.0" font-weight="bold" text-anchor="end" fill="#111" stroke="#111" stroke-width="0.2" textLength="10.2" lengthAdjust="spacingAndGlyphs">1.7</text>
<text transform="translate(466.6,287.0) rotate(-90)" font-size="6.0" font-weight="bold" text-anchor="end" fill="#111" stroke="#111" stroke-width="0.2" textLength="10.2" lengthAdjust="spacingAndGlyphs">1.2</text>
<text transform="translate(475.1,287.0) rotate(-90)" font-size="6.0" font-weight="bold" text-anchor="end" fill="#111" stroke="#111" stroke-width="0.2" textLength="10.2" lengthAdjust="spacingAndGlyphs">2.4</text>
<text transform="translate(483.5,287.0) rotate(-90)" font-size="6.0" font-weight="bold" text-anchor="end" fill="#111" stroke="#111" stroke-width="0.2" textLength="18.4" lengthAdjust="spacingAndGlyphs">&lt; 0.2</text>
<text transform="translate(491.9,287.0) rotate(-90)" font-size="6.0" font-weight="bold" text-anchor="end" fill="#111" stroke="#111" stroke-width="0.2" textLength="18.4" lengthAdjust="spacingAndGlyphs">&lt; 0.2</text>
<text transform="translate(263.3,153.4) rotate(-58)" font-size="6.3" font-weight="bold" fill="#111" stroke="#111" stroke-width="0.3">con 1</text>
<text transform="translate(271.7,153.4) rotate(-58)" font-size="6.3" font-weight="bold" fill="#111" stroke="#111" stroke-width="0.3">con 2</text>
<text transform="translate(280.2,153.4) rotate(-58)" font-size="6.3" font-weight="bold" fill="#111" stroke="#111" stroke-width="0.3">p210 spl</text>
<text transform="translate(288.6,153.4) rotate(-58)" font-size="6.3" font-weight="bold" fill="#111" stroke="#111" stroke-width="0.3">Balb/c</text>
<text transform="translate(297.0,153.4) rotate(-58)" font-size="6.3" font-weight="bold" fill="#111" stroke="#111" stroke-width="0.3">B6</text>
<text transform="translate(305.4,153.4) rotate(-58)" font-size="6.3" font-weight="bold" fill="#111" stroke="#111" stroke-width="0.3">1:1</text>
<text transform="translate(313.9,153.4) rotate(-58)" font-size="6.3" font-weight="bold" fill="#111" stroke="#111" stroke-width="0.3">3:1</text>
<text transform="translate(322.3,153.4) rotate(-58)" font-size="6.3" font-weight="bold" fill="#111" stroke="#111" stroke-width="0.3">1:3</text>
<text transform="translate(330.7,153.4) rotate(-58)" font-size="6.3" font-weight="bold" fill="#111" stroke="#111" stroke-width="0.3">7:1</text>
<text transform="translate(339.2,153.4) rotate(-58)" font-size="6.3" font-weight="bold" fill="#111" stroke="#111" stroke-width="0.3">1:7</text>
<text transform="translate(346.8,151.8) rotate(-58)" font-size="6.3" font-weight="bold" fill="#111" stroke="#111" stroke-width="0.3">spl</text>
<text transform="translate(355.2,151.8) rotate(-58)" font-size="6.3" font-weight="bold" fill="#111" stroke="#111" stroke-width="0.3">PB</text>
<text transform="translate(363.7,151.8) rotate(-58)" font-size="6.3" font-weight="bold" fill="#111" stroke="#111" stroke-width="0.3">spl</text>
<text transform="translate(372.1,151.8) rotate(-58)" font-size="6.3" font-weight="bold" fill="#111" stroke="#111" stroke-width="0.3">PB</text>
<text transform="translate(380.5,151.8) rotate(-58)" font-size="6.3" font-weight="bold" fill="#111" stroke="#111" stroke-width="0.3">spl</text>
<text transform="translate(388.9,151.8) rotate(-58)" font-size="6.3" font-weight="bold" fill="#111" stroke="#111" stroke-width="0.3">spl</text>
<text transform="translate(397.4,151.8) rotate(-58)" font-size="6.3" font-weight="bold" fill="#111" stroke="#111" stroke-width="0.3">asc</text>
<text transform="translate(405.8,151.8) rotate(-58)" font-size="6.3" font-weight="bold" fill="#111" stroke="#111" stroke-width="0.3">liv</text>
<text transform="translate(414.2,151.8) rotate(-58)" font-size="6.3" font-weight="bold" fill="#111" stroke="#111" stroke-width="0.3">spl</text>
<text transform="translate(422.7,151.8) rotate(-58)" font-size="6.3" font-weight="bold" fill="#111" stroke="#111" stroke-width="0.3">spl</text>
<text transform="translate(431.1,151.8) rotate(-58)" font-size="6.3" font-weight="bold" fill="#111" stroke="#111" stroke-width="0.3">asc</text>
<text transform="translate(439.5,151.8) rotate(-58)" font-size="6.3" font-weight="bold" fill="#111" stroke="#111" stroke-width="0.3">liv</text>
<text transform="translate(448.0,151.8) rotate(-58)" font-size="6.3" font-weight="bold" fill="#111" stroke="#111" stroke-width="0.3">spl</text>
<text transform="translate(456.4,151.8) rotate(-58)" font-size="6.3" font-weight="bold" fill="#111" stroke="#111" stroke-width="0.3">asc</text>
<text transform="translate(464.8,151.8) rotate(-58)" font-size="6.3" font-weight="bold" fill="#111" stroke="#111" stroke-width="0.3">PB</text>
<text transform="translate(473.2,151.8) rotate(-58)" font-size="6.3" font-weight="bold" fill="#111" stroke="#111" stroke-width="0.3">spl</text>
<text transform="translate(481.7,151.8) rotate(-58)" font-size="6.3" font-weight="bold" fill="#111" stroke="#111" stroke-width="0.3">asc</text>
<text transform="translate(490.1,151.8) rotate(-58)" font-size="6.3" font-weight="bold" fill="#111" stroke="#111" stroke-width="0.3">spl</text>
<path d="M344.1,122.39999999999999 L344.1,119.6 L491.8,119.6 L491.8,122.39999999999999" fill="none" stroke="#111" stroke-width="0.9"/>
<path d="M302,138.9 L302,136.5 L341,136.5 L341,138.9" fill="none" stroke="#111" stroke-width="0.9"/>
<path d="M343.2,138.9 L343.2,136.5 L366.5,136.5 L366.5,138.9" fill="none" stroke="#111" stroke-width="0.9"/>
<path d="M368.7,138.9 L368.7,136.5 L391.5,136.5 L391.5,138.9" fill="none" stroke="#111" stroke-width="0.9"/>
<path d="M394,138.9 L394,136.5 L491.8,136.5 L491.8,138.9" fill="none" stroke="#111" stroke-width="0.9"/>
<path d="M350.5,153.2 L350.5,151.6 L366.2,151.6 L366.2,153.2" fill="none" stroke="#111" stroke-width="0.9"/>
<path d="M367.2,153.2 L367.2,151.6 L383,151.6 L383,153.2" fill="none" stroke="#111" stroke-width="0.9"/>
<path d="M395.5,153.2 L395.5,151.6 L416,151.6 L416,153.2" fill="none" stroke="#111" stroke-width="0.9"/>
<path d="M429,153.2 L429,151.6 L449.5,151.6 L449.5,153.2" fill="none" stroke="#111" stroke-width="0.9"/>
<path d="M452.5,153.2 L452.5,151.6 L474.6,151.6 L474.6,153.2" fill="none" stroke="#111" stroke-width="0.9"/>
<path d="M476,153.2 L476,151.6 L491.8,151.6 L491.8,153.2" fill="none" stroke="#111" stroke-width="0.9"/>
<text x="322" y="133.5" font-size="6.4" font-weight="bold" text-anchor="middle" fill="#111" textLength="34" lengthAdjust="spacingAndGlyphs"  stroke="#111" stroke-width="0.18">Balb/c:B6</text>
<text x="355.4" y="127.4" font-size="6.4" font-weight="bold" text-anchor="middle" fill="#111" textLength="16" lengthAdjust="spacingAndGlyphs"  stroke="#111" stroke-width="0.18">non-</text>
<text x="355.8" y="133.5" font-size="6.4" font-weight="bold" text-anchor="middle" fill="#111" textLength="18.4" lengthAdjust="spacingAndGlyphs"  stroke="#111" stroke-width="0.18">chim.</text>
<text x="379.3" y="127.4" font-size="6.4" font-weight="bold" text-anchor="middle" fill="#111" textLength="17" lengthAdjust="spacingAndGlyphs"  stroke="#111" stroke-width="0.18">chim.</text>
<text x="380.1" y="133.5" font-size="6.4" font-weight="bold" text-anchor="middle" fill="#111" textLength="22.8" lengthAdjust="spacingAndGlyphs"  stroke="#111" stroke-width="0.18">no DLI</text>
<text x="435.6" y="127.4" font-size="6.4" font-weight="bold" text-anchor="start" fill="#111" textLength="17" lengthAdjust="spacingAndGlyphs"  stroke="#111" stroke-width="0.18">chim.</text>
<text x="435.6" y="133.5" font-size="6.4" font-weight="bold" text-anchor="start" fill="#111" textLength="15.5" lengthAdjust="spacingAndGlyphs"  stroke="#111" stroke-width="0.18">+DLI</text>
<text x="393.7" y="117.2" font-size="6.4" font-weight="bold" font-style="italic" text-anchor="start" fill="#111" textLength="36.7" lengthAdjust="spacingAndGlyphs"  stroke="#111" stroke-width="0.18">+BCR-ABL</text>
</svg>
</body></html>
